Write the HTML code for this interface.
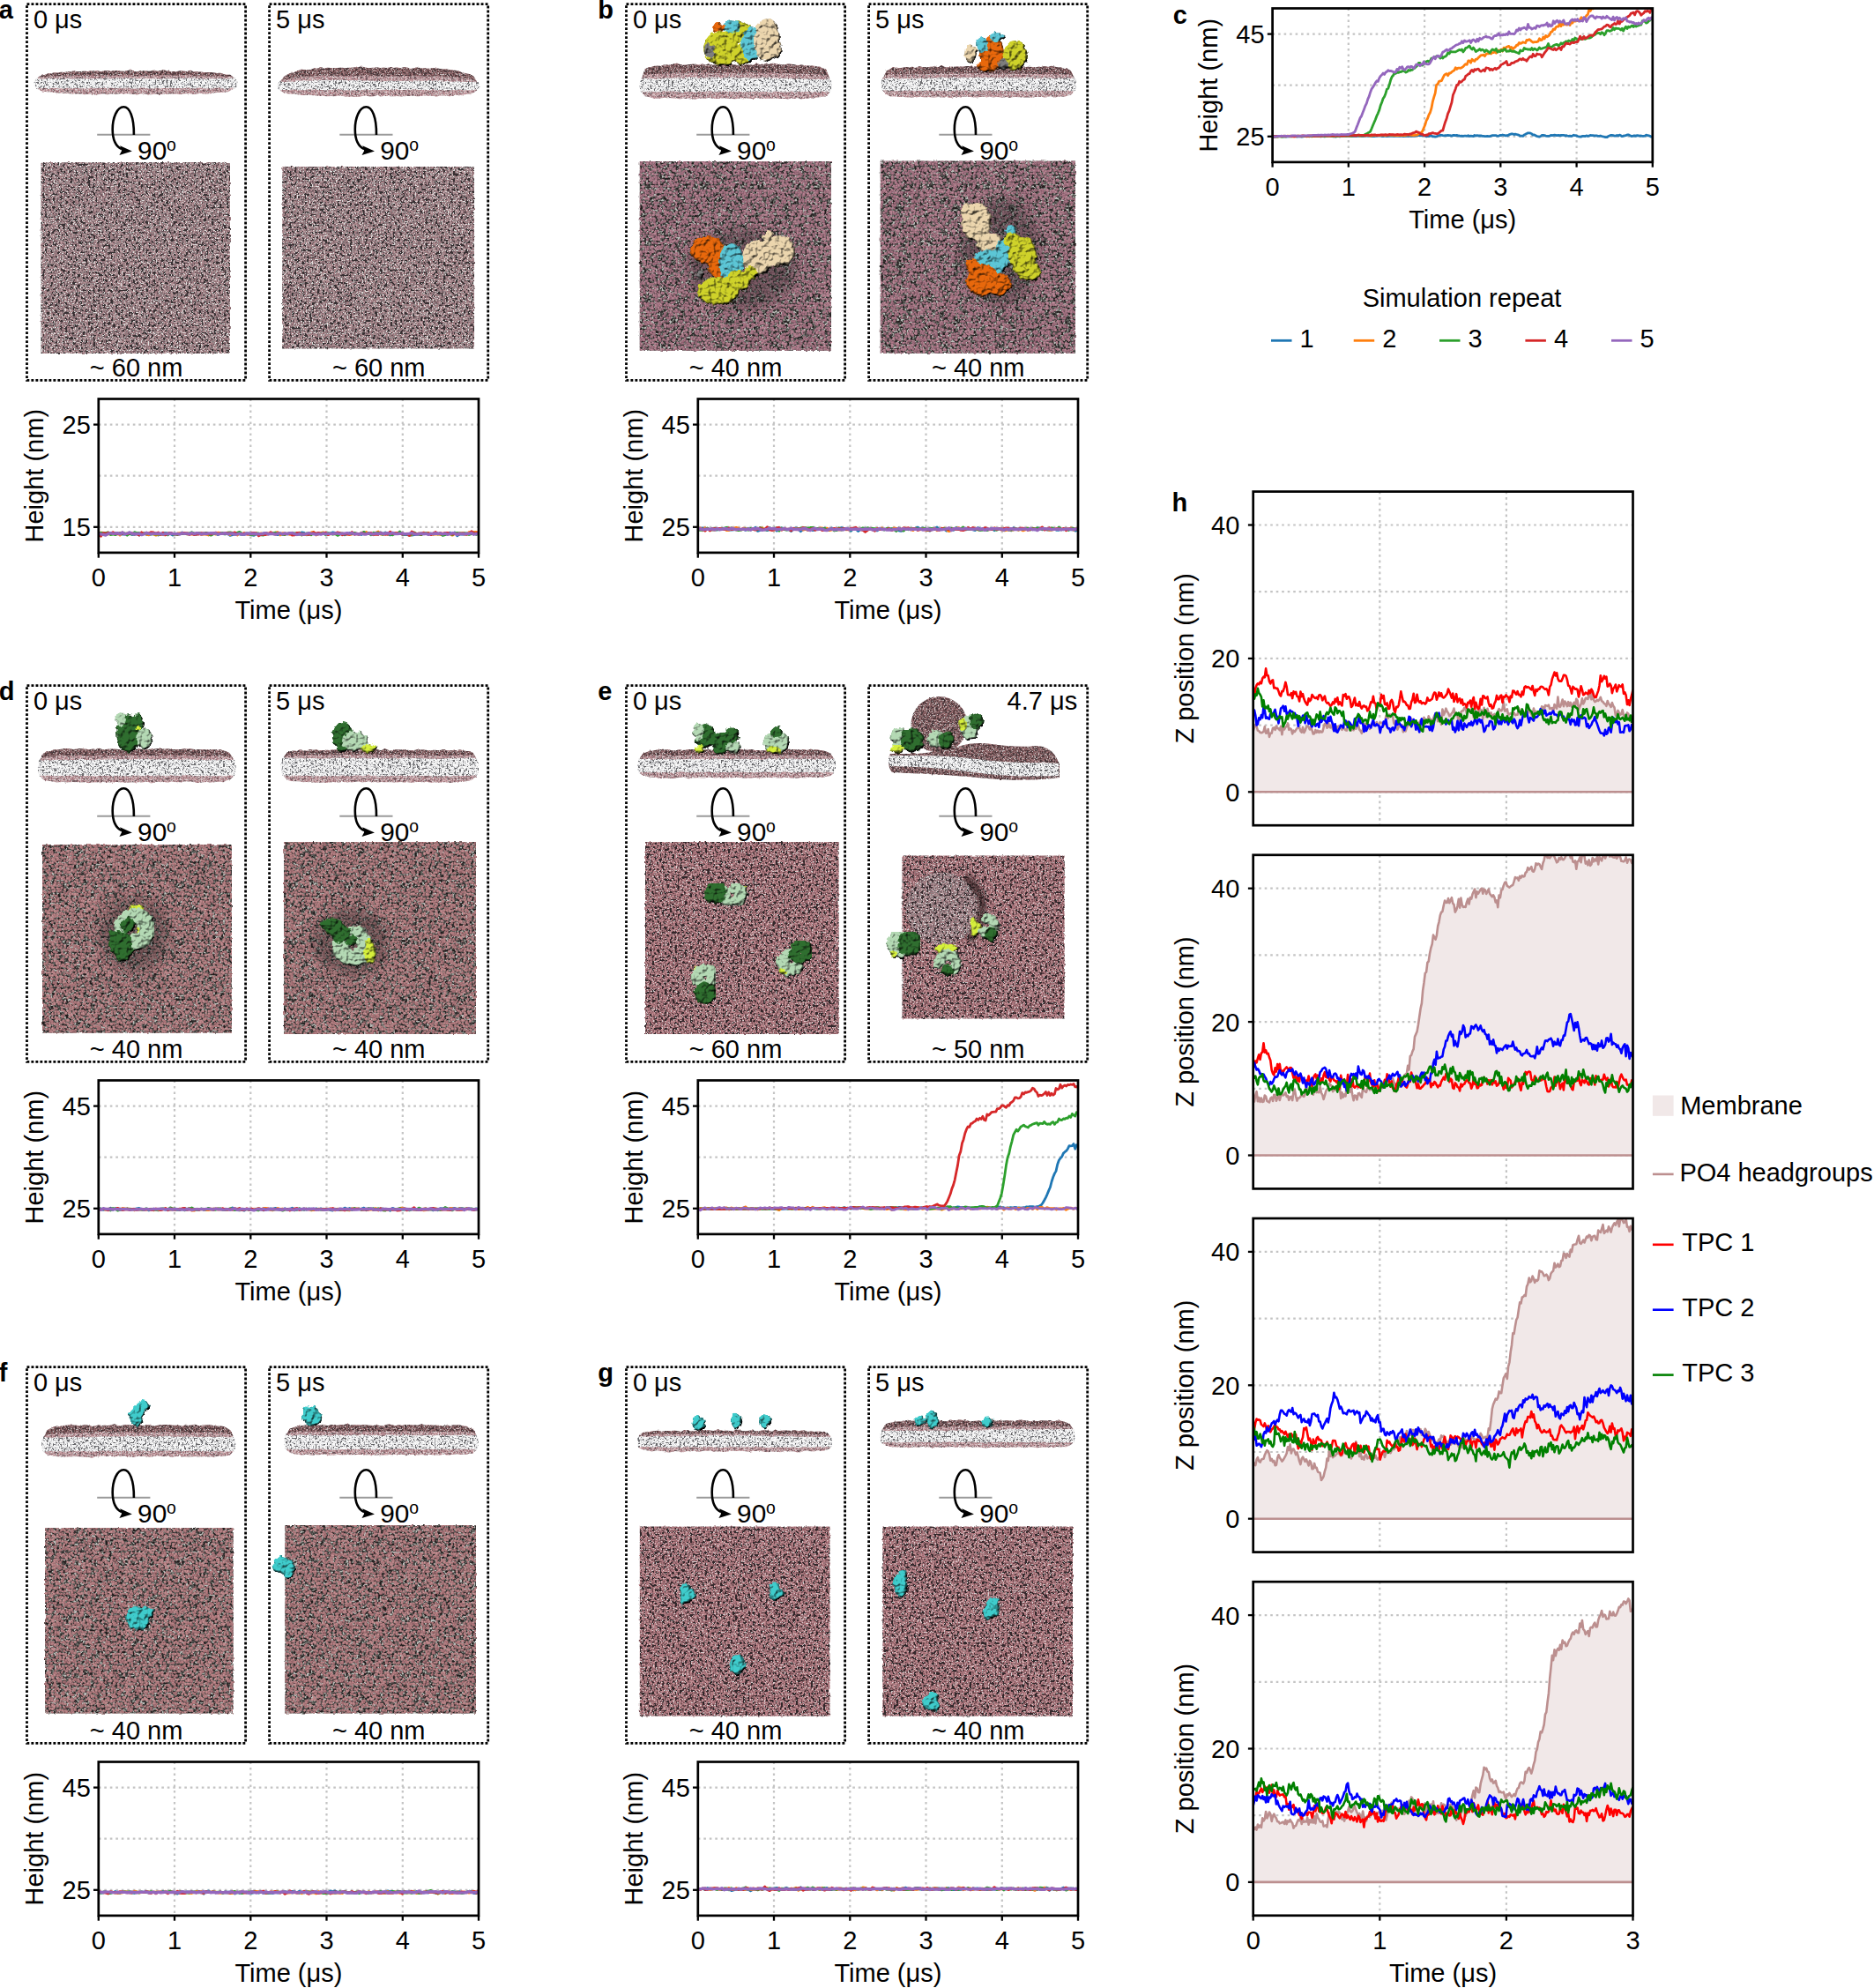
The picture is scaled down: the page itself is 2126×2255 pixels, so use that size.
<!DOCTYPE html>
<html><head><meta charset="utf-8"><title>Figure</title>
<style>html,body{margin:0;padding:0;background:#fff;} svg{display:block;} text{font-family:'Liberation Sans',Arial,sans-serif;fill:#000;}</style>
</head><body>
<svg xmlns="http://www.w3.org/2000/svg" width="2126" height="2255" viewBox="0 0 2126 2255">
<defs><filter id="txa" x="-3%" y="-3%" width="106%" height="106%" color-interpolation-filters="sRGB"><feTurbulence type="fractalNoise" baseFrequency="0.3" numOctaves="1" seed="53" result="dn"/><feDisplacementMap in="SourceGraphic" in2="dn" scale="3" xChannelSelector="R" yChannelSelector="G" result="shape"/><feTurbulence type="fractalNoise" baseFrequency="0.5" numOctaves="1" seed="3" result="n"/><feColorMatrix in="n" type="matrix" values="3.0 0 0 0 -1.0  3.0 0 0 0 -1.0  3.0 0 0 0 -1.0  0 0 0 0 1" result="g"/><feComponentTransfer in="g" result="c"><feFuncR type="discrete" tableValues="0.188 0.314 0.451 0.549 0.620 0.675 0.714 0.569 0.686 0.824"/><feFuncG type="discrete" tableValues="0.129 0.227 0.392 0.439 0.478 0.518 0.553 0.510 0.647 0.804"/><feFuncB type="discrete" tableValues="0.149 0.251 0.396 0.455 0.502 0.537 0.573 0.518 0.655 0.804"/></feComponentTransfer><feGaussianBlur in="c" stdDeviation="0.3" result="bl"/><feComposite in="bl" in2="shape" operator="in"/></filter><filter id="txb" x="-3%" y="-3%" width="106%" height="106%" color-interpolation-filters="sRGB"><feTurbulence type="fractalNoise" baseFrequency="0.3" numOctaves="1" seed="54" result="dn"/><feDisplacementMap in="SourceGraphic" in2="dn" scale="3" xChannelSelector="R" yChannelSelector="G" result="shape"/><feTurbulence type="fractalNoise" baseFrequency="0.3" numOctaves="1" seed="4" result="n"/><feColorMatrix in="n" type="matrix" values="3.0 0 0 0 -1.0  3.0 0 0 0 -1.0  3.0 0 0 0 -1.0  0 0 0 0 1" result="g"/><feComponentTransfer in="g" result="c"><feFuncR type="discrete" tableValues="0.196 0.267 0.353 0.439 0.529 0.627 0.698 0.737 0.769 0.800"/><feFuncG type="discrete" tableValues="0.184 0.251 0.337 0.424 0.502 0.490 0.518 0.549 0.580 0.620"/><feFuncB type="discrete" tableValues="0.180 0.243 0.329 0.416 0.502 0.510 0.541 0.573 0.600 0.635"/></feComponentTransfer><feTurbulence type="fractalNoise" baseFrequency="0.35" numOctaves="1" seed="11" result="n2"/><feColorMatrix in="n2" type="matrix" values="0 0 0 0 0.804  0 0 0 0 0.812  0 0 0 0 0.804  0 3.0 0 0 -1.0" result="w"/><feComponentTransfer in="w" result="w2"><feFuncA type="discrete" tableValues="0 0 0 0 0 0 0 0 0 0 0 0.9"/></feComponentTransfer><feMerge result="m"><feMergeNode in="c"/><feMergeNode in="w2"/></feMerge><feGaussianBlur in="m" stdDeviation="0.3" result="bl"/><feComposite in="bl" in2="shape" operator="in"/></filter><filter id="txf" x="-3%" y="-3%" width="106%" height="106%" color-interpolation-filters="sRGB"><feTurbulence type="fractalNoise" baseFrequency="0.3" numOctaves="1" seed="53" result="dn"/><feDisplacementMap in="SourceGraphic" in2="dn" scale="3" xChannelSelector="R" yChannelSelector="G" result="shape"/><feTurbulence type="fractalNoise" baseFrequency="0.55" numOctaves="1" seed="3" result="n"/><feColorMatrix in="n" type="matrix" values="3.0 0 0 0 -1.0  3.0 0 0 0 -1.0  3.0 0 0 0 -1.0  0 0 0 0 1" result="g"/><feComponentTransfer in="g" result="c"><feFuncR type="discrete" tableValues="0.373 0.451 0.529 0.588 0.635 0.675 0.706 0.588 0.737 0.769"/><feFuncG type="discrete" tableValues="0.255 0.306 0.361 0.400 0.431 0.463 0.494 0.471 0.529 0.573"/><feFuncB type="discrete" tableValues="0.275 0.329 0.384 0.424 0.459 0.490 0.518 0.486 0.549 0.588"/></feComponentTransfer><feTurbulence type="fractalNoise" baseFrequency="0.35" numOctaves="1" seed="14" result="sn0"/><feColorMatrix in="sn0" type="matrix" values="0 0 0 0 0.176  0 0 0 0 0.141  0 0 0 0 0.153  3 0 0 0 -1" result="sc0"/><feComponentTransfer in="sc0" result="sk0"><feFuncA type="discrete" tableValues="0 0 0 0 0 0 0 0 0 0 0 0 0 0 0 0 0.95 0.95 0.95 0.95"/></feComponentTransfer><feTurbulence type="fractalNoise" baseFrequency="0.7" numOctaves="1" seed="26" result="sn1"/><feColorMatrix in="sn1" type="matrix" values="0 0 0 0 0.894  0 0 0 0 0.886  0 0 0 0 0.886  3 0 0 0 -1" result="sc1"/><feComponentTransfer in="sc1" result="sk1"><feFuncA type="discrete" tableValues="0 0 0 0 0 0 0 0 0 0 0 0 0 0 0 0 0 0 0 0.8"/></feComponentTransfer><feMerge result="m"><feMergeNode in="c"/><feMergeNode in="sk0"/><feMergeNode in="sk1"/></feMerge><feGaussianBlur in="m" stdDeviation="0.4" result="bl"/><feComposite in="bl" in2="shape" operator="in"/></filter><filter id="txf2" x="-3%" y="-3%" width="106%" height="106%" color-interpolation-filters="sRGB"><feTurbulence type="fractalNoise" baseFrequency="0.3" numOctaves="1" seed="63" result="dn"/><feDisplacementMap in="SourceGraphic" in2="dn" scale="3" xChannelSelector="R" yChannelSelector="G" result="shape"/><feTurbulence type="fractalNoise" baseFrequency="0.55" numOctaves="1" seed="13" result="n"/><feColorMatrix in="n" type="matrix" values="3.0 0 0 0 -1.0  3.0 0 0 0 -1.0  3.0 0 0 0 -1.0  0 0 0 0 1" result="g"/><feComponentTransfer in="g" result="c"><feFuncR type="discrete" tableValues="0.373 0.451 0.529 0.588 0.635 0.675 0.706 0.588 0.737 0.769"/><feFuncG type="discrete" tableValues="0.255 0.306 0.361 0.400 0.431 0.463 0.494 0.471 0.529 0.573"/><feFuncB type="discrete" tableValues="0.275 0.329 0.384 0.424 0.459 0.490 0.518 0.486 0.549 0.588"/></feComponentTransfer><feTurbulence type="fractalNoise" baseFrequency="0.35" numOctaves="1" seed="24" result="sn0"/><feColorMatrix in="sn0" type="matrix" values="0 0 0 0 0.176  0 0 0 0 0.141  0 0 0 0 0.153  3 0 0 0 -1" result="sc0"/><feComponentTransfer in="sc0" result="sk0"><feFuncA type="discrete" tableValues="0 0 0 0 0 0 0 0 0 0 0 0 0 0 0 0 0.95 0.95 0.95 0.95"/></feComponentTransfer><feTurbulence type="fractalNoise" baseFrequency="0.7" numOctaves="1" seed="36" result="sn1"/><feColorMatrix in="sn1" type="matrix" values="0 0 0 0 0.894  0 0 0 0 0.886  0 0 0 0 0.886  3 0 0 0 -1" result="sc1"/><feComponentTransfer in="sc1" result="sk1"><feFuncA type="discrete" tableValues="0 0 0 0 0 0 0 0 0 0 0 0 0 0 0 0 0 0 0 0.8"/></feComponentTransfer><feMerge result="m"><feMergeNode in="c"/><feMergeNode in="sk0"/><feMergeNode in="sk1"/></feMerge><feGaussianBlur in="m" stdDeviation="0.4" result="bl"/><feComposite in="bl" in2="shape" operator="in"/></filter><radialGradient id="pb1" cx="0.42" cy="0.4" r="0.6"><stop offset="0" stop-color="rgb(190, 136, 152)"/><stop offset="1" stop-color="rgb(132, 90, 104)"/></radialGradient><radialGradient id="pb2" cx="0.42" cy="0.4" r="0.6"><stop offset="0" stop-color="rgb(180, 126, 142)"/><stop offset="1" stop-color="rgb(124, 84, 98)"/></radialGradient><radialGradient id="pb3" cx="0.42" cy="0.4" r="0.6"><stop offset="0" stop-color="rgb(198, 146, 160)"/><stop offset="1" stop-color="rgb(142, 98, 112)"/></radialGradient><radialGradient id="pd1" cx="0.42" cy="0.4" r="0.6"><stop offset="0" stop-color="rgb(198, 142, 144)"/><stop offset="1" stop-color="rgb(146, 98, 102)"/></radialGradient><radialGradient id="pd2" cx="0.42" cy="0.4" r="0.6"><stop offset="0" stop-color="rgb(188, 132, 135)"/><stop offset="1" stop-color="rgb(136, 90, 95)"/></radialGradient><radialGradient id="pd3" cx="0.42" cy="0.4" r="0.6"><stop offset="0" stop-color="rgb(206, 152, 154)"/><stop offset="1" stop-color="rgb(154, 106, 110)"/></radialGradient><pattern id="dpb1" x="0" y="0" width="64" height="64" patternUnits="userSpaceOnUse"><circle cx="2.9" cy="0.9" r="1.9" fill="url(#pb1)"/><circle cx="2.9" cy="64.9" r="1.9" fill="url(#pb1)"/><circle cx="4.3" cy="5.1" r="1.7" fill="url(#pb1)"/><circle cx="2.4" cy="9.0" r="1.6" fill="url(#pb2)"/><circle cx="3.4" cy="11.6" r="1.7" fill="url(#pb3)"/><circle cx="1.2" cy="16.6" r="1.6" fill="url(#pb2)"/><circle cx="65.2" cy="16.6" r="1.6" fill="url(#pb2)"/><circle cx="3.7" cy="26.1" r="1.5" fill="url(#pb2)"/><circle cx="2.6" cy="34.1" r="1.8" fill="url(#pb2)"/><circle cx="3.6" cy="40.8" r="1.5" fill="url(#pb2)"/><circle cx="2.6" cy="44.7" r="1.6" fill="url(#pb2)"/><circle cx="3.6" cy="48.6" r="1.5" fill="url(#pb3)"/><circle cx="2.2" cy="52.2" r="1.5" fill="url(#pb2)"/><circle cx="2.6" cy="56.0" r="1.9" fill="url(#pb3)"/><circle cx="1.7" cy="58.1" r="1.5" fill="url(#pb3)"/><circle cx="4.4" cy="61.7" r="1.6" fill="url(#pb2)"/><circle cx="6.1" cy="2.9" r="1.5" fill="url(#pb1)"/><circle cx="6.9" cy="5.5" r="1.5" fill="url(#pb2)"/><circle cx="6.3" cy="9.7" r="1.9" fill="url(#pb1)"/><circle cx="7.8" cy="11.8" r="1.9" fill="url(#pb2)"/><circle cx="6.1" cy="15.2" r="1.6" fill="url(#pb3)"/><circle cx="6.3" cy="19.3" r="1.5" fill="url(#pb1)"/><circle cx="5.1" cy="22.2" r="1.8" fill="url(#pb3)"/><circle cx="7.5" cy="26.5" r="1.9" fill="url(#pb2)"/><circle cx="6.1" cy="29.8" r="1.7" fill="url(#pb3)"/><circle cx="4.7" cy="36.3" r="1.6" fill="url(#pb1)"/><circle cx="7.6" cy="40.0" r="1.6" fill="url(#pb1)"/><circle cx="5.2" cy="44.7" r="1.9" fill="url(#pb2)"/><circle cx="6.8" cy="47.9" r="1.6" fill="url(#pb1)"/><circle cx="4.8" cy="51.1" r="1.6" fill="url(#pb1)"/><circle cx="8.2" cy="55.8" r="1.8" fill="url(#pb3)"/><circle cx="6.3" cy="59.1" r="1.7" fill="url(#pb3)"/><circle cx="7.1" cy="61.5" r="1.5" fill="url(#pb3)"/><circle cx="8.4" cy="2.4" r="1.7" fill="url(#pb2)"/><circle cx="11.8" cy="5.1" r="1.6" fill="url(#pb2)"/><circle cx="9.4" cy="8.1" r="1.6" fill="url(#pb3)"/><circle cx="11.5" cy="12.2" r="1.9" fill="url(#pb1)"/><circle cx="8.9" cy="15.5" r="1.6" fill="url(#pb2)"/><circle cx="10.1" cy="23.7" r="1.6" fill="url(#pb3)"/><circle cx="10.4" cy="26.7" r="1.5" fill="url(#pb2)"/><circle cx="10.0" cy="29.7" r="1.8" fill="url(#pb3)"/><circle cx="11.6" cy="32.6" r="1.6" fill="url(#pb2)"/><circle cx="11.5" cy="41.1" r="1.9" fill="url(#pb3)"/><circle cx="9.5" cy="43.3" r="1.7" fill="url(#pb2)"/><circle cx="10.6" cy="47.1" r="1.6" fill="url(#pb1)"/><circle cx="9.6" cy="51.8" r="1.9" fill="url(#pb2)"/><circle cx="10.9" cy="54.6" r="1.8" fill="url(#pb3)"/><circle cx="10.0" cy="58.8" r="1.8" fill="url(#pb1)"/><circle cx="10.9" cy="61.1" r="1.5" fill="url(#pb2)"/><circle cx="11.6" cy="2.9" r="1.5" fill="url(#pb3)"/><circle cx="13.4" cy="5.9" r="1.6" fill="url(#pb2)"/><circle cx="11.7" cy="8.1" r="1.7" fill="url(#pb1)"/><circle cx="15.3" cy="13.5" r="1.8" fill="url(#pb2)"/><circle cx="13.5" cy="14.9" r="1.5" fill="url(#pb3)"/><circle cx="13.2" cy="19.8" r="1.6" fill="url(#pb2)"/><circle cx="11.5" cy="23.7" r="1.8" fill="url(#pb1)"/><circle cx="13.1" cy="26.5" r="1.8" fill="url(#pb1)"/><circle cx="11.3" cy="29.2" r="1.6" fill="url(#pb1)"/><circle cx="14.1" cy="34.7" r="1.6" fill="url(#pb2)"/><circle cx="11.4" cy="36.4" r="1.9" fill="url(#pb1)"/><circle cx="13.8" cy="40.0" r="1.6" fill="url(#pb2)"/><circle cx="12.2" cy="43.4" r="1.9" fill="url(#pb2)"/><circle cx="13.3" cy="47.1" r="1.7" fill="url(#pb3)"/><circle cx="12.7" cy="50.4" r="1.9" fill="url(#pb1)"/><circle cx="15.2" cy="55.5" r="1.8" fill="url(#pb3)"/><circle cx="11.4" cy="59.8" r="1.8" fill="url(#pb1)"/><circle cx="16.6" cy="0.7" r="1.5" fill="url(#pb3)"/><circle cx="16.6" cy="64.7" r="1.5" fill="url(#pb3)"/><circle cx="17.9" cy="5.3" r="1.7" fill="url(#pb1)"/><circle cx="17.1" cy="8.8" r="1.9" fill="url(#pb2)"/><circle cx="17.9" cy="12.7" r="1.6" fill="url(#pb1)"/><circle cx="17.1" cy="16.4" r="1.7" fill="url(#pb1)"/><circle cx="17.1" cy="18.7" r="1.9" fill="url(#pb1)"/><circle cx="15.7" cy="22.1" r="1.8" fill="url(#pb1)"/><circle cx="16.8" cy="26.1" r="1.7" fill="url(#pb1)"/><circle cx="15.4" cy="29.7" r="1.9" fill="url(#pb2)"/><circle cx="18.5" cy="34.6" r="1.5" fill="url(#pb3)"/><circle cx="15.3" cy="36.7" r="1.7" fill="url(#pb2)"/><circle cx="17.9" cy="40.2" r="1.8" fill="url(#pb2)"/><circle cx="17.0" cy="44.5" r="1.6" fill="url(#pb1)"/><circle cx="17.5" cy="48.3" r="1.7" fill="url(#pb1)"/><circle cx="16.8" cy="50.5" r="1.9" fill="url(#pb1)"/><circle cx="15.2" cy="58.5" r="1.7" fill="url(#pb3)"/><circle cx="17.5" cy="-1.4" r="1.6" fill="url(#pb1)"/><circle cx="17.5" cy="62.6" r="1.6" fill="url(#pb1)"/><circle cx="19.4" cy="0.9" r="1.9" fill="url(#pb2)"/><circle cx="19.4" cy="64.9" r="1.9" fill="url(#pb2)"/><circle cx="22.1" cy="5.0" r="1.9" fill="url(#pb2)"/><circle cx="21.3" cy="12.2" r="1.8" fill="url(#pb3)"/><circle cx="18.6" cy="15.9" r="1.8" fill="url(#pb2)"/><circle cx="19.1" cy="23.9" r="1.7" fill="url(#pb2)"/><circle cx="20.8" cy="27.7" r="1.9" fill="url(#pb3)"/><circle cx="20.1" cy="29.5" r="1.6" fill="url(#pb2)"/><circle cx="21.1" cy="33.4" r="1.9" fill="url(#pb3)"/><circle cx="18.4" cy="36.4" r="1.6" fill="url(#pb1)"/><circle cx="20.4" cy="43.4" r="1.8" fill="url(#pb2)"/><circle cx="21.8" cy="47.5" r="1.7" fill="url(#pb2)"/><circle cx="19.3" cy="51.6" r="1.5" fill="url(#pb1)"/><circle cx="21.3" cy="55.8" r="1.8" fill="url(#pb1)"/><circle cx="20.4" cy="57.9" r="1.5" fill="url(#pb1)"/><circle cx="21.5" cy="62.4" r="1.5" fill="url(#pb2)"/><circle cx="23.2" cy="1.6" r="1.9" fill="url(#pb2)"/><circle cx="23.2" cy="65.6" r="1.9" fill="url(#pb2)"/><circle cx="24.1" cy="6.3" r="1.5" fill="url(#pb3)"/><circle cx="22.7" cy="8.6" r="1.7" fill="url(#pb2)"/><circle cx="24.1" cy="13.0" r="1.6" fill="url(#pb3)"/><circle cx="24.2" cy="15.4" r="1.8" fill="url(#pb3)"/><circle cx="25.4" cy="20.1" r="1.9" fill="url(#pb3)"/><circle cx="23.4" cy="23.8" r="1.9" fill="url(#pb2)"/><circle cx="22.8" cy="30.1" r="1.9" fill="url(#pb3)"/><circle cx="24.3" cy="32.6" r="1.6" fill="url(#pb2)"/><circle cx="22.3" cy="36.9" r="1.7" fill="url(#pb3)"/><circle cx="25.8" cy="40.2" r="1.7" fill="url(#pb3)"/><circle cx="24.0" cy="48.7" r="1.8" fill="url(#pb3)"/><circle cx="22.0" cy="50.8" r="1.8" fill="url(#pb1)"/><circle cx="24.3" cy="55.7" r="1.6" fill="url(#pb1)"/><circle cx="22.8" cy="58.3" r="1.8" fill="url(#pb2)"/><circle cx="25.0" cy="-0.8" r="1.8" fill="url(#pb1)"/><circle cx="25.0" cy="63.2" r="1.8" fill="url(#pb1)"/><circle cx="26.6" cy="1.7" r="1.9" fill="url(#pb1)"/><circle cx="26.6" cy="65.7" r="1.9" fill="url(#pb1)"/><circle cx="28.5" cy="5.2" r="1.7" fill="url(#pb1)"/><circle cx="26.5" cy="9.3" r="1.6" fill="url(#pb2)"/><circle cx="27.6" cy="12.0" r="1.9" fill="url(#pb2)"/><circle cx="27.5" cy="24.2" r="1.9" fill="url(#pb1)"/><circle cx="29.0" cy="26.8" r="1.8" fill="url(#pb3)"/><circle cx="26.0" cy="29.2" r="1.9" fill="url(#pb2)"/><circle cx="29.2" cy="33.3" r="1.8" fill="url(#pb3)"/><circle cx="26.0" cy="36.6" r="1.5" fill="url(#pb1)"/><circle cx="27.5" cy="41.7" r="1.7" fill="url(#pb1)"/><circle cx="26.7" cy="44.5" r="1.7" fill="url(#pb1)"/><circle cx="29.3" cy="47.7" r="1.7" fill="url(#pb1)"/><circle cx="29.0" cy="55.1" r="1.8" fill="url(#pb2)"/><circle cx="26.4" cy="59.5" r="1.9" fill="url(#pb2)"/><circle cx="29.6" cy="-1.2" r="1.9" fill="url(#pb1)"/><circle cx="29.6" cy="62.8" r="1.9" fill="url(#pb1)"/><circle cx="31.4" cy="1.5" r="1.7" fill="url(#pb3)"/><circle cx="31.4" cy="65.5" r="1.7" fill="url(#pb3)"/><circle cx="32.8" cy="4.9" r="1.8" fill="url(#pb3)"/><circle cx="29.9" cy="8.3" r="1.5" fill="url(#pb1)"/><circle cx="33.1" cy="11.8" r="1.5" fill="url(#pb1)"/><circle cx="30.6" cy="15.7" r="1.7" fill="url(#pb2)"/><circle cx="31.2" cy="24.2" r="1.7" fill="url(#pb2)"/><circle cx="31.0" cy="26.7" r="1.9" fill="url(#pb2)"/><circle cx="29.0" cy="29.5" r="1.8" fill="url(#pb3)"/><circle cx="31.5" cy="34.0" r="1.9" fill="url(#pb1)"/><circle cx="30.5" cy="37.4" r="1.7" fill="url(#pb1)"/><circle cx="31.3" cy="40.9" r="1.5" fill="url(#pb2)"/><circle cx="30.9" cy="45.6" r="1.7" fill="url(#pb3)"/><circle cx="31.7" cy="47.1" r="1.7" fill="url(#pb1)"/><circle cx="31.2" cy="52.7" r="1.6" fill="url(#pb1)"/><circle cx="31.8" cy="55.8" r="1.6" fill="url(#pb1)"/><circle cx="30.7" cy="57.9" r="1.8" fill="url(#pb3)"/><circle cx="34.6" cy="2.4" r="1.6" fill="url(#pb3)"/><circle cx="36.7" cy="5.0" r="1.6" fill="url(#pb3)"/><circle cx="33.7" cy="8.5" r="1.7" fill="url(#pb3)"/><circle cx="35.9" cy="12.3" r="1.9" fill="url(#pb3)"/><circle cx="36.1" cy="19.4" r="1.6" fill="url(#pb3)"/><circle cx="34.8" cy="23.8" r="1.6" fill="url(#pb2)"/><circle cx="36.0" cy="27.5" r="1.5" fill="url(#pb1)"/><circle cx="33.6" cy="29.7" r="1.6" fill="url(#pb1)"/><circle cx="33.3" cy="37.9" r="1.5" fill="url(#pb3)"/><circle cx="34.5" cy="41.8" r="1.6" fill="url(#pb3)"/><circle cx="33.3" cy="45.0" r="1.6" fill="url(#pb1)"/><circle cx="35.3" cy="47.2" r="1.5" fill="url(#pb3)"/><circle cx="33.7" cy="52.0" r="1.9" fill="url(#pb3)"/><circle cx="36.1" cy="55.7" r="1.5" fill="url(#pb2)"/><circle cx="34.3" cy="57.9" r="1.9" fill="url(#pb1)"/><circle cx="35.2" cy="61.8" r="1.5" fill="url(#pb3)"/><circle cx="37.4" cy="2.1" r="1.7" fill="url(#pb2)"/><circle cx="39.4" cy="5.9" r="1.5" fill="url(#pb3)"/><circle cx="36.6" cy="9.9" r="1.9" fill="url(#pb2)"/><circle cx="40.0" cy="11.9" r="1.8" fill="url(#pb1)"/><circle cx="38.1" cy="15.4" r="1.9" fill="url(#pb3)"/><circle cx="39.8" cy="19.3" r="1.7" fill="url(#pb2)"/><circle cx="36.5" cy="24.2" r="1.9" fill="url(#pb3)"/><circle cx="40.2" cy="26.1" r="1.9" fill="url(#pb3)"/><circle cx="36.2" cy="29.8" r="1.9" fill="url(#pb3)"/><circle cx="38.8" cy="34.6" r="1.6" fill="url(#pb1)"/><circle cx="38.4" cy="38.1" r="1.7" fill="url(#pb2)"/><circle cx="40.2" cy="40.6" r="1.6" fill="url(#pb1)"/><circle cx="38.0" cy="43.5" r="1.9" fill="url(#pb2)"/><circle cx="38.1" cy="48.8" r="1.9" fill="url(#pb3)"/><circle cx="37.3" cy="51.8" r="1.9" fill="url(#pb3)"/><circle cx="38.1" cy="56.2" r="1.9" fill="url(#pb1)"/><circle cx="38.1" cy="59.2" r="1.9" fill="url(#pb2)"/><circle cx="39.0" cy="61.7" r="1.5" fill="url(#pb2)"/><circle cx="39.8" cy="0.9" r="1.9" fill="url(#pb3)"/><circle cx="39.8" cy="64.9" r="1.9" fill="url(#pb3)"/><circle cx="42.0" cy="5.8" r="1.5" fill="url(#pb2)"/><circle cx="39.7" cy="8.9" r="1.8" fill="url(#pb3)"/><circle cx="43.2" cy="13.4" r="1.8" fill="url(#pb3)"/><circle cx="39.8" cy="15.2" r="1.6" fill="url(#pb3)"/><circle cx="41.7" cy="19.6" r="1.6" fill="url(#pb1)"/><circle cx="41.7" cy="24.0" r="1.6" fill="url(#pb1)"/><circle cx="43.5" cy="25.8" r="1.6" fill="url(#pb3)"/><circle cx="40.2" cy="29.9" r="1.5" fill="url(#pb2)"/><circle cx="41.6" cy="33.2" r="1.6" fill="url(#pb1)"/><circle cx="40.8" cy="37.8" r="1.6" fill="url(#pb1)"/><circle cx="40.4" cy="43.3" r="1.8" fill="url(#pb2)"/><circle cx="42.9" cy="49.2" r="1.6" fill="url(#pb1)"/><circle cx="41.2" cy="52.0" r="1.6" fill="url(#pb1)"/><circle cx="43.0" cy="54.2" r="1.5" fill="url(#pb2)"/><circle cx="43.5" cy="-0.7" r="1.9" fill="url(#pb3)"/><circle cx="43.5" cy="63.3" r="1.9" fill="url(#pb3)"/><circle cx="44.8" cy="1.9" r="1.8" fill="url(#pb2)"/><circle cx="47.1" cy="5.1" r="1.5" fill="url(#pb3)"/><circle cx="43.8" cy="10.0" r="1.5" fill="url(#pb1)"/><circle cx="47.4" cy="12.5" r="1.9" fill="url(#pb3)"/><circle cx="43.8" cy="15.7" r="1.9" fill="url(#pb3)"/><circle cx="46.1" cy="19.5" r="1.6" fill="url(#pb2)"/><circle cx="43.8" cy="23.9" r="1.8" fill="url(#pb3)"/><circle cx="45.9" cy="25.8" r="1.7" fill="url(#pb3)"/><circle cx="44.6" cy="31.4" r="1.9" fill="url(#pb3)"/><circle cx="45.8" cy="41.2" r="1.6" fill="url(#pb2)"/><circle cx="44.4" cy="45.3" r="1.7" fill="url(#pb3)"/><circle cx="45.3" cy="47.5" r="1.9" fill="url(#pb2)"/><circle cx="44.5" cy="52.2" r="1.8" fill="url(#pb2)"/><circle cx="45.7" cy="54.5" r="1.8" fill="url(#pb3)"/><circle cx="43.8" cy="58.2" r="1.8" fill="url(#pb2)"/><circle cx="46.8" cy="61.1" r="1.9" fill="url(#pb2)"/><circle cx="49.0" cy="1.2" r="1.6" fill="url(#pb1)"/><circle cx="49.0" cy="65.2" r="1.6" fill="url(#pb1)"/><circle cx="48.7" cy="12.7" r="1.6" fill="url(#pb1)"/><circle cx="49.6" cy="18.5" r="1.6" fill="url(#pb1)"/><circle cx="47.5" cy="22.7" r="1.8" fill="url(#pb2)"/><circle cx="50.4" cy="26.2" r="1.7" fill="url(#pb1)"/><circle cx="47.7" cy="29.6" r="1.5" fill="url(#pb2)"/><circle cx="48.9" cy="38.4" r="1.7" fill="url(#pb2)"/><circle cx="48.1" cy="44.4" r="1.7" fill="url(#pb3)"/><circle cx="50.3" cy="48.0" r="1.8" fill="url(#pb3)"/><circle cx="49.5" cy="54.6" r="1.5" fill="url(#pb2)"/><circle cx="49.2" cy="58.9" r="1.6" fill="url(#pb2)"/><circle cx="51.1" cy="2.4" r="1.5" fill="url(#pb2)"/><circle cx="53.0" cy="4.7" r="1.9" fill="url(#pb2)"/><circle cx="52.4" cy="8.4" r="1.6" fill="url(#pb3)"/><circle cx="54.4" cy="13.1" r="1.7" fill="url(#pb2)"/><circle cx="51.1" cy="17.2" r="1.6" fill="url(#pb1)"/><circle cx="54.3" cy="19.2" r="1.7" fill="url(#pb3)"/><circle cx="52.3" cy="24.2" r="1.9" fill="url(#pb1)"/><circle cx="53.9" cy="26.7" r="1.5" fill="url(#pb2)"/><circle cx="52.0" cy="29.5" r="1.7" fill="url(#pb2)"/><circle cx="53.6" cy="33.2" r="1.5" fill="url(#pb3)"/><circle cx="50.5" cy="36.7" r="1.7" fill="url(#pb2)"/><circle cx="52.9" cy="40.8" r="1.8" fill="url(#pb2)"/><circle cx="50.5" cy="44.4" r="1.5" fill="url(#pb2)"/><circle cx="53.5" cy="48.6" r="1.8" fill="url(#pb3)"/><circle cx="51.0" cy="50.9" r="1.8" fill="url(#pb3)"/><circle cx="53.5" cy="55.2" r="1.6" fill="url(#pb3)"/><circle cx="50.7" cy="58.4" r="1.7" fill="url(#pb1)"/><circle cx="53.8" cy="-0.6" r="1.6" fill="url(#pb3)"/><circle cx="53.8" cy="63.4" r="1.6" fill="url(#pb3)"/><circle cx="54.2" cy="1.0" r="1.8" fill="url(#pb3)"/><circle cx="54.2" cy="65.0" r="1.8" fill="url(#pb3)"/><circle cx="57.1" cy="6.0" r="1.9" fill="url(#pb3)"/><circle cx="56.7" cy="13.1" r="1.6" fill="url(#pb3)"/><circle cx="56.3" cy="15.5" r="1.6" fill="url(#pb3)"/><circle cx="56.9" cy="18.8" r="1.6" fill="url(#pb1)"/><circle cx="56.7" cy="26.5" r="1.9" fill="url(#pb3)"/><circle cx="54.9" cy="30.9" r="1.8" fill="url(#pb2)"/><circle cx="56.8" cy="34.7" r="1.8" fill="url(#pb1)"/><circle cx="55.7" cy="37.5" r="1.7" fill="url(#pb2)"/><circle cx="55.8" cy="40.9" r="1.9" fill="url(#pb2)"/><circle cx="54.2" cy="44.2" r="1.7" fill="url(#pb2)"/><circle cx="57.3" cy="48.7" r="1.5" fill="url(#pb2)"/><circle cx="55.4" cy="50.4" r="1.9" fill="url(#pb2)"/><circle cx="56.8" cy="54.3" r="1.5" fill="url(#pb2)"/><circle cx="56.1" cy="59.4" r="1.5" fill="url(#pb2)"/><circle cx="57.1" cy="-1.5" r="1.9" fill="url(#pb1)"/><circle cx="57.1" cy="62.5" r="1.9" fill="url(#pb1)"/><circle cx="59.8" cy="1.4" r="1.7" fill="url(#pb2)"/><circle cx="59.8" cy="65.4" r="1.7" fill="url(#pb2)"/><circle cx="59.4" cy="6.3" r="1.8" fill="url(#pb3)"/><circle cx="58.3" cy="9.1" r="1.8" fill="url(#pb1)"/><circle cx="60.5" cy="13.6" r="1.9" fill="url(#pb2)"/><circle cx="57.7" cy="16.8" r="1.8" fill="url(#pb2)"/><circle cx="59.7" cy="18.4" r="1.8" fill="url(#pb3)"/><circle cx="59.0" cy="23.3" r="1.8" fill="url(#pb2)"/><circle cx="60.4" cy="27.3" r="1.6" fill="url(#pb3)"/><circle cx="57.8" cy="31.3" r="1.8" fill="url(#pb3)"/><circle cx="60.8" cy="33.4" r="1.6" fill="url(#pb1)"/><circle cx="58.6" cy="37.0" r="1.9" fill="url(#pb2)"/><circle cx="58.9" cy="51.6" r="1.5" fill="url(#pb2)"/><circle cx="58.8" cy="59.1" r="1.8" fill="url(#pb2)"/><circle cx="61.2" cy="-1.4" r="1.8" fill="url(#pb2)"/><circle cx="61.2" cy="62.6" r="1.8" fill="url(#pb2)"/><circle cx="61.2" cy="1.8" r="1.5" fill="url(#pb3)"/><circle cx="0.9" cy="4.9" r="1.7" fill="url(#pb1)"/><circle cx="64.9" cy="4.9" r="1.7" fill="url(#pb1)"/><circle cx="-1.3" cy="9.9" r="1.7" fill="url(#pb1)"/><circle cx="62.7" cy="9.9" r="1.7" fill="url(#pb1)"/><circle cx="-0.9" cy="12.4" r="1.5" fill="url(#pb3)"/><circle cx="63.1" cy="12.4" r="1.5" fill="url(#pb3)"/><circle cx="61.8" cy="16.8" r="1.7" fill="url(#pb1)"/><circle cx="-0.2" cy="18.4" r="1.6" fill="url(#pb1)"/><circle cx="63.8" cy="18.4" r="1.6" fill="url(#pb1)"/><circle cx="61.1" cy="22.2" r="1.6" fill="url(#pb2)"/><circle cx="-0.5" cy="26.2" r="1.7" fill="url(#pb2)"/><circle cx="63.5" cy="26.2" r="1.7" fill="url(#pb2)"/><circle cx="-1.2" cy="30.9" r="1.5" fill="url(#pb1)"/><circle cx="62.8" cy="30.9" r="1.5" fill="url(#pb1)"/><circle cx="-0.4" cy="33.4" r="1.8" fill="url(#pb1)"/><circle cx="63.6" cy="33.4" r="1.8" fill="url(#pb1)"/><circle cx="-0.9" cy="37.8" r="1.7" fill="url(#pb3)"/><circle cx="63.1" cy="37.8" r="1.7" fill="url(#pb3)"/><circle cx="-0.3" cy="40.4" r="1.5" fill="url(#pb3)"/><circle cx="63.7" cy="40.4" r="1.5" fill="url(#pb3)"/><circle cx="-0.3" cy="48.9" r="1.8" fill="url(#pb3)"/><circle cx="63.7" cy="48.9" r="1.8" fill="url(#pb3)"/><circle cx="-0.1" cy="54.9" r="1.5" fill="url(#pb2)"/><circle cx="63.9" cy="54.9" r="1.5" fill="url(#pb2)"/><circle cx="61.9" cy="58.0" r="1.5" fill="url(#pb1)"/></pattern><pattern id="dpb2" x="0" y="0" width="67" height="67" patternUnits="userSpaceOnUse"><circle cx="17.5" cy="20.0" r="1.7" fill="url(#pb2)"/><circle cx="40.2" cy="48.8" r="1.4" fill="url(#pb1)"/><circle cx="3.7" cy="18.4" r="1.6" fill="url(#pb1)"/><circle cx="10.1" cy="29.0" r="1.6" fill="url(#pb2)"/><circle cx="28.3" cy="42.4" r="1.8" fill="url(#pb3)"/><circle cx="26.2" cy="12.5" r="1.5" fill="url(#pb3)"/><circle cx="34.2" cy="59.7" r="1.7" fill="url(#pb3)"/><circle cx="61.9" cy="31.6" r="1.6" fill="url(#pb1)"/><circle cx="7.2" cy="7.0" r="1.4" fill="url(#pb2)"/><circle cx="45.5" cy="56.9" r="1.6" fill="url(#pb3)"/><circle cx="27.2" cy="34.6" r="1.6" fill="url(#pb2)"/><circle cx="29.4" cy="59.8" r="1.6" fill="url(#pb3)"/><circle cx="55.6" cy="33.4" r="1.6" fill="url(#pb2)"/><circle cx="35.0" cy="14.5" r="1.4" fill="url(#pb2)"/><circle cx="2.6" cy="47.0" r="1.5" fill="url(#pb1)"/><circle cx="56.0" cy="25.8" r="1.8" fill="url(#pb3)"/><circle cx="39.7" cy="51.3" r="1.5" fill="url(#pb2)"/><circle cx="11.5" cy="12.1" r="1.6" fill="url(#pb1)"/><circle cx="7.5" cy="1.3" r="1.7" fill="url(#pb2)"/><circle cx="7.5" cy="68.3" r="1.7" fill="url(#pb2)"/><circle cx="30.2" cy="32.7" r="1.6" fill="url(#pb1)"/><circle cx="33.8" cy="62.8" r="1.7" fill="url(#pb1)"/><circle cx="41.4" cy="33.9" r="1.8" fill="url(#pb2)"/><circle cx="15.2" cy="46.2" r="1.6" fill="url(#pb1)"/><circle cx="19.8" cy="62.1" r="1.7" fill="url(#pb1)"/><circle cx="0.9" cy="19.9" r="1.3" fill="url(#pb2)"/><circle cx="67.9" cy="19.9" r="1.3" fill="url(#pb2)"/><circle cx="7.4" cy="3.8" r="1.8" fill="url(#pb3)"/><circle cx="29.9" cy="21.3" r="1.3" fill="url(#pb3)"/><circle cx="24.5" cy="35.1" r="1.3" fill="url(#pb2)"/><circle cx="9.9" cy="14.1" r="1.5" fill="url(#pb3)"/><circle cx="41.1" cy="19.1" r="1.8" fill="url(#pb1)"/></pattern><pattern id="dpd1" x="0" y="0" width="64" height="64" patternUnits="userSpaceOnUse"><circle cx="1.1" cy="2.5" r="1.7" fill="url(#pd1)"/><circle cx="65.1" cy="2.5" r="1.7" fill="url(#pd1)"/><circle cx="3.5" cy="4.5" r="1.8" fill="url(#pd1)"/><circle cx="1.5" cy="8.9" r="1.7" fill="url(#pd2)"/><circle cx="65.5" cy="8.9" r="1.7" fill="url(#pd2)"/><circle cx="4.7" cy="11.9" r="1.8" fill="url(#pd2)"/><circle cx="1.3" cy="14.8" r="1.9" fill="url(#pd3)"/><circle cx="65.3" cy="14.8" r="1.9" fill="url(#pd3)"/><circle cx="4.5" cy="19.8" r="1.7" fill="url(#pd1)"/><circle cx="0.7" cy="23.6" r="1.6" fill="url(#pd1)"/><circle cx="64.7" cy="23.6" r="1.6" fill="url(#pd1)"/><circle cx="4.6" cy="26.0" r="1.8" fill="url(#pd1)"/><circle cx="2.4" cy="30.8" r="1.6" fill="url(#pd2)"/><circle cx="4.0" cy="34.5" r="1.7" fill="url(#pd3)"/><circle cx="2.7" cy="36.4" r="1.9" fill="url(#pd2)"/><circle cx="2.7" cy="41.4" r="1.6" fill="url(#pd2)"/><circle cx="1.2" cy="44.6" r="1.6" fill="url(#pd1)"/><circle cx="65.2" cy="44.6" r="1.6" fill="url(#pd1)"/><circle cx="2.8" cy="48.6" r="1.8" fill="url(#pd2)"/><circle cx="2.8" cy="50.8" r="1.9" fill="url(#pd2)"/><circle cx="2.0" cy="59.8" r="1.8" fill="url(#pd1)"/><circle cx="2.5" cy="61.9" r="1.5" fill="url(#pd1)"/><circle cx="6.2" cy="0.9" r="1.6" fill="url(#pd1)"/><circle cx="6.2" cy="64.9" r="1.6" fill="url(#pd1)"/><circle cx="7.9" cy="6.4" r="1.8" fill="url(#pd1)"/><circle cx="5.8" cy="7.8" r="1.8" fill="url(#pd1)"/><circle cx="7.3" cy="12.9" r="1.8" fill="url(#pd1)"/><circle cx="4.6" cy="16.0" r="1.5" fill="url(#pd2)"/><circle cx="7.2" cy="20.2" r="1.6" fill="url(#pd3)"/><circle cx="4.6" cy="23.7" r="1.6" fill="url(#pd1)"/><circle cx="8.1" cy="26.4" r="1.6" fill="url(#pd3)"/><circle cx="4.4" cy="30.3" r="1.9" fill="url(#pd2)"/><circle cx="7.7" cy="34.9" r="1.9" fill="url(#pd3)"/><circle cx="6.1" cy="36.7" r="1.7" fill="url(#pd3)"/><circle cx="6.5" cy="41.1" r="1.6" fill="url(#pd2)"/><circle cx="4.4" cy="44.3" r="1.6" fill="url(#pd2)"/><circle cx="6.1" cy="47.2" r="1.7" fill="url(#pd2)"/><circle cx="4.9" cy="50.8" r="1.9" fill="url(#pd2)"/><circle cx="6.3" cy="54.6" r="1.6" fill="url(#pd1)"/><circle cx="6.4" cy="57.8" r="1.7" fill="url(#pd1)"/><circle cx="8.0" cy="-0.6" r="1.5" fill="url(#pd2)"/><circle cx="8.0" cy="63.4" r="1.5" fill="url(#pd2)"/><circle cx="7.8" cy="2.0" r="1.5" fill="url(#pd2)"/><circle cx="11.7" cy="5.4" r="1.5" fill="url(#pd1)"/><circle cx="9.7" cy="8.3" r="1.8" fill="url(#pd1)"/><circle cx="10.1" cy="12.9" r="1.6" fill="url(#pd3)"/><circle cx="8.9" cy="16.7" r="1.7" fill="url(#pd2)"/><circle cx="10.5" cy="20.5" r="1.7" fill="url(#pd1)"/><circle cx="8.5" cy="23.8" r="1.8" fill="url(#pd3)"/><circle cx="11.1" cy="27.6" r="1.8" fill="url(#pd2)"/><circle cx="9.3" cy="29.8" r="1.8" fill="url(#pd2)"/><circle cx="11.4" cy="33.7" r="1.5" fill="url(#pd1)"/><circle cx="9.2" cy="37.7" r="1.6" fill="url(#pd2)"/><circle cx="11.2" cy="39.9" r="1.9" fill="url(#pd3)"/><circle cx="9.7" cy="48.9" r="1.7" fill="url(#pd3)"/><circle cx="8.6" cy="51.9" r="1.5" fill="url(#pd2)"/><circle cx="11.2" cy="53.9" r="1.9" fill="url(#pd2)"/><circle cx="8.7" cy="58.8" r="1.6" fill="url(#pd1)"/><circle cx="10.8" cy="61.4" r="1.8" fill="url(#pd3)"/><circle cx="13.3" cy="5.6" r="1.9" fill="url(#pd3)"/><circle cx="13.0" cy="9.5" r="1.7" fill="url(#pd1)"/><circle cx="14.6" cy="12.1" r="1.8" fill="url(#pd3)"/><circle cx="12.5" cy="15.6" r="1.7" fill="url(#pd2)"/><circle cx="11.6" cy="21.9" r="1.9" fill="url(#pd1)"/><circle cx="13.7" cy="25.9" r="1.8" fill="url(#pd3)"/><circle cx="13.2" cy="29.5" r="1.9" fill="url(#pd2)"/><circle cx="14.9" cy="34.8" r="1.7" fill="url(#pd2)"/><circle cx="12.6" cy="36.6" r="1.7" fill="url(#pd1)"/><circle cx="12.8" cy="44.0" r="1.5" fill="url(#pd3)"/><circle cx="14.9" cy="49.1" r="1.7" fill="url(#pd3)"/><circle cx="13.2" cy="52.1" r="1.5" fill="url(#pd2)"/><circle cx="15.1" cy="55.1" r="1.8" fill="url(#pd3)"/><circle cx="13.0" cy="58.8" r="1.6" fill="url(#pd3)"/><circle cx="15.4" cy="61.0" r="1.8" fill="url(#pd1)"/><circle cx="14.9" cy="1.5" r="1.6" fill="url(#pd3)"/><circle cx="14.9" cy="65.5" r="1.6" fill="url(#pd3)"/><circle cx="17.6" cy="6.4" r="1.5" fill="url(#pd2)"/><circle cx="17.1" cy="8.5" r="1.8" fill="url(#pd3)"/><circle cx="17.7" cy="12.9" r="1.8" fill="url(#pd1)"/><circle cx="15.8" cy="16.3" r="1.5" fill="url(#pd3)"/><circle cx="17.6" cy="18.9" r="1.6" fill="url(#pd2)"/><circle cx="15.4" cy="22.6" r="1.6" fill="url(#pd2)"/><circle cx="18.0" cy="27.6" r="1.8" fill="url(#pd3)"/><circle cx="15.1" cy="29.6" r="1.8" fill="url(#pd1)"/><circle cx="17.3" cy="33.4" r="1.9" fill="url(#pd1)"/><circle cx="15.0" cy="38.0" r="1.7" fill="url(#pd3)"/><circle cx="18.1" cy="41.5" r="1.5" fill="url(#pd3)"/><circle cx="17.7" cy="47.5" r="1.7" fill="url(#pd3)"/><circle cx="16.1" cy="52.5" r="1.7" fill="url(#pd1)"/><circle cx="18.7" cy="54.2" r="1.6" fill="url(#pd3)"/><circle cx="15.5" cy="57.8" r="1.5" fill="url(#pd1)"/><circle cx="16.7" cy="-0.7" r="1.8" fill="url(#pd3)"/><circle cx="16.7" cy="63.3" r="1.8" fill="url(#pd3)"/><circle cx="18.8" cy="2.7" r="1.8" fill="url(#pd1)"/><circle cx="21.4" cy="6.5" r="1.7" fill="url(#pd3)"/><circle cx="18.5" cy="9.1" r="1.8" fill="url(#pd2)"/><circle cx="20.8" cy="12.1" r="1.6" fill="url(#pd2)"/><circle cx="19.0" cy="16.8" r="1.5" fill="url(#pd2)"/><circle cx="21.1" cy="19.2" r="1.9" fill="url(#pd1)"/><circle cx="18.9" cy="22.3" r="1.7" fill="url(#pd3)"/><circle cx="21.6" cy="27.1" r="1.9" fill="url(#pd2)"/><circle cx="19.9" cy="29.2" r="1.5" fill="url(#pd2)"/><circle cx="22.0" cy="33.5" r="1.7" fill="url(#pd1)"/><circle cx="18.9" cy="36.2" r="1.5" fill="url(#pd3)"/><circle cx="21.1" cy="40.3" r="1.8" fill="url(#pd3)"/><circle cx="19.3" cy="44.5" r="1.6" fill="url(#pd2)"/><circle cx="21.5" cy="49.0" r="1.9" fill="url(#pd2)"/><circle cx="19.3" cy="50.5" r="1.6" fill="url(#pd1)"/><circle cx="21.5" cy="54.1" r="1.9" fill="url(#pd3)"/><circle cx="19.1" cy="59.4" r="1.5" fill="url(#pd3)"/><circle cx="20.2" cy="61.3" r="1.7" fill="url(#pd1)"/><circle cx="23.3" cy="0.7" r="1.6" fill="url(#pd1)"/><circle cx="23.3" cy="64.7" r="1.6" fill="url(#pd1)"/><circle cx="24.2" cy="4.1" r="1.6" fill="url(#pd3)"/><circle cx="25.0" cy="13.4" r="1.8" fill="url(#pd1)"/><circle cx="22.2" cy="16.0" r="1.6" fill="url(#pd1)"/><circle cx="25.8" cy="20.2" r="1.6" fill="url(#pd3)"/><circle cx="24.9" cy="25.9" r="1.5" fill="url(#pd3)"/><circle cx="22.1" cy="30.5" r="1.5" fill="url(#pd1)"/><circle cx="25.9" cy="33.5" r="1.6" fill="url(#pd3)"/><circle cx="23.6" cy="38.0" r="1.5" fill="url(#pd1)"/><circle cx="24.3" cy="41.4" r="1.9" fill="url(#pd1)"/><circle cx="24.7" cy="48.9" r="1.7" fill="url(#pd3)"/><circle cx="24.0" cy="50.7" r="1.7" fill="url(#pd2)"/><circle cx="24.1" cy="55.2" r="1.6" fill="url(#pd2)"/><circle cx="22.3" cy="59.0" r="1.6" fill="url(#pd3)"/><circle cx="26.1" cy="61.5" r="1.5" fill="url(#pd2)"/><circle cx="27.4" cy="0.8" r="1.5" fill="url(#pd2)"/><circle cx="27.4" cy="64.8" r="1.5" fill="url(#pd2)"/><circle cx="27.7" cy="9.8" r="1.8" fill="url(#pd2)"/><circle cx="27.4" cy="11.3" r="1.9" fill="url(#pd1)"/><circle cx="27.3" cy="16.1" r="1.8" fill="url(#pd3)"/><circle cx="27.5" cy="23.9" r="1.7" fill="url(#pd2)"/><circle cx="28.3" cy="27.0" r="1.5" fill="url(#pd3)"/><circle cx="26.2" cy="29.5" r="1.5" fill="url(#pd2)"/><circle cx="29.3" cy="34.6" r="1.8" fill="url(#pd2)"/><circle cx="27.6" cy="37.3" r="1.8" fill="url(#pd2)"/><circle cx="29.0" cy="40.0" r="1.9" fill="url(#pd1)"/><circle cx="27.0" cy="43.8" r="1.7" fill="url(#pd3)"/><circle cx="27.9" cy="47.5" r="1.5" fill="url(#pd2)"/><circle cx="25.5" cy="51.2" r="1.9" fill="url(#pd2)"/><circle cx="28.3" cy="54.4" r="1.5" fill="url(#pd1)"/><circle cx="27.4" cy="58.6" r="1.9" fill="url(#pd2)"/><circle cx="29.3" cy="61.8" r="1.7" fill="url(#pd3)"/><circle cx="29.1" cy="1.7" r="1.5" fill="url(#pd1)"/><circle cx="31.2" cy="4.1" r="1.7" fill="url(#pd1)"/><circle cx="29.3" cy="8.9" r="1.6" fill="url(#pd2)"/><circle cx="31.8" cy="12.8" r="1.6" fill="url(#pd1)"/><circle cx="29.1" cy="15.3" r="1.6" fill="url(#pd3)"/><circle cx="32.0" cy="19.7" r="1.5" fill="url(#pd2)"/><circle cx="30.8" cy="23.6" r="1.6" fill="url(#pd1)"/><circle cx="31.1" cy="25.5" r="1.6" fill="url(#pd2)"/><circle cx="31.1" cy="34.0" r="1.5" fill="url(#pd3)"/><circle cx="29.8" cy="36.4" r="1.5" fill="url(#pd1)"/><circle cx="31.4" cy="45.3" r="1.6" fill="url(#pd3)"/><circle cx="31.2" cy="47.8" r="1.6" fill="url(#pd3)"/><circle cx="31.1" cy="50.4" r="1.9" fill="url(#pd1)"/><circle cx="32.6" cy="55.1" r="1.9" fill="url(#pd2)"/><circle cx="30.2" cy="58.7" r="1.6" fill="url(#pd1)"/><circle cx="31.0" cy="-1.8" r="1.9" fill="url(#pd3)"/><circle cx="31.0" cy="62.2" r="1.9" fill="url(#pd3)"/><circle cx="34.9" cy="2.9" r="1.6" fill="url(#pd3)"/><circle cx="36.4" cy="6.4" r="1.8" fill="url(#pd3)"/><circle cx="33.8" cy="7.9" r="1.6" fill="url(#pd3)"/><circle cx="32.9" cy="14.9" r="1.7" fill="url(#pd3)"/><circle cx="36.5" cy="20.0" r="1.8" fill="url(#pd2)"/><circle cx="33.8" cy="22.1" r="1.5" fill="url(#pd2)"/><circle cx="35.4" cy="27.0" r="1.7" fill="url(#pd2)"/><circle cx="33.2" cy="29.4" r="1.8" fill="url(#pd2)"/><circle cx="35.0" cy="32.9" r="1.8" fill="url(#pd3)"/><circle cx="34.7" cy="36.8" r="1.8" fill="url(#pd1)"/><circle cx="34.8" cy="44.6" r="1.5" fill="url(#pd2)"/><circle cx="36.1" cy="47.6" r="1.8" fill="url(#pd2)"/><circle cx="33.5" cy="52.6" r="1.5" fill="url(#pd1)"/><circle cx="36.2" cy="54.9" r="1.7" fill="url(#pd1)"/><circle cx="33.3" cy="59.6" r="1.8" fill="url(#pd2)"/><circle cx="36.0" cy="-1.1" r="1.8" fill="url(#pd3)"/><circle cx="36.0" cy="62.9" r="1.8" fill="url(#pd3)"/><circle cx="38.4" cy="1.2" r="1.8" fill="url(#pd1)"/><circle cx="38.4" cy="65.2" r="1.8" fill="url(#pd1)"/><circle cx="40.0" cy="4.3" r="1.9" fill="url(#pd3)"/><circle cx="37.8" cy="7.7" r="1.9" fill="url(#pd3)"/><circle cx="39.7" cy="13.2" r="1.5" fill="url(#pd3)"/><circle cx="36.5" cy="15.9" r="1.6" fill="url(#pd3)"/><circle cx="38.4" cy="19.9" r="1.8" fill="url(#pd1)"/><circle cx="36.8" cy="23.3" r="1.8" fill="url(#pd3)"/><circle cx="37.2" cy="29.7" r="1.8" fill="url(#pd1)"/><circle cx="38.6" cy="33.0" r="1.7" fill="url(#pd2)"/><circle cx="36.5" cy="37.4" r="1.8" fill="url(#pd1)"/><circle cx="38.2" cy="39.8" r="1.8" fill="url(#pd2)"/><circle cx="37.9" cy="45.5" r="1.7" fill="url(#pd3)"/><circle cx="39.1" cy="48.0" r="1.9" fill="url(#pd3)"/><circle cx="37.2" cy="51.5" r="1.8" fill="url(#pd1)"/><circle cx="38.0" cy="54.8" r="1.7" fill="url(#pd1)"/><circle cx="37.5" cy="58.9" r="1.5" fill="url(#pd3)"/><circle cx="38.9" cy="-1.0" r="1.7" fill="url(#pd1)"/><circle cx="38.9" cy="63.0" r="1.7" fill="url(#pd1)"/><circle cx="41.3" cy="2.9" r="1.5" fill="url(#pd1)"/><circle cx="42.0" cy="4.2" r="1.9" fill="url(#pd1)"/><circle cx="40.8" cy="9.8" r="1.7" fill="url(#pd2)"/><circle cx="42.5" cy="12.0" r="1.7" fill="url(#pd1)"/><circle cx="39.9" cy="16.9" r="1.9" fill="url(#pd2)"/><circle cx="43.6" cy="19.2" r="1.6" fill="url(#pd2)"/><circle cx="41.9" cy="23.6" r="1.6" fill="url(#pd1)"/><circle cx="42.4" cy="27.1" r="1.9" fill="url(#pd2)"/><circle cx="41.7" cy="31.1" r="1.6" fill="url(#pd3)"/><circle cx="43.2" cy="32.8" r="1.7" fill="url(#pd3)"/><circle cx="41.0" cy="36.3" r="1.8" fill="url(#pd2)"/><circle cx="42.3" cy="39.9" r="1.6" fill="url(#pd2)"/><circle cx="42.1" cy="43.6" r="1.6" fill="url(#pd2)"/><circle cx="42.3" cy="48.9" r="1.5" fill="url(#pd1)"/><circle cx="43.8" cy="54.7" r="1.5" fill="url(#pd3)"/><circle cx="41.5" cy="59.6" r="1.6" fill="url(#pd3)"/><circle cx="42.8" cy="-0.9" r="1.9" fill="url(#pd1)"/><circle cx="42.8" cy="63.1" r="1.9" fill="url(#pd1)"/><circle cx="45.2" cy="0.9" r="1.9" fill="url(#pd2)"/><circle cx="45.2" cy="64.9" r="1.9" fill="url(#pd2)"/><circle cx="45.6" cy="5.6" r="1.8" fill="url(#pd2)"/><circle cx="43.4" cy="8.2" r="1.5" fill="url(#pd2)"/><circle cx="46.8" cy="12.6" r="1.9" fill="url(#pd3)"/><circle cx="43.6" cy="17.1" r="1.8" fill="url(#pd2)"/><circle cx="46.5" cy="26.6" r="1.8" fill="url(#pd2)"/><circle cx="44.7" cy="29.9" r="1.5" fill="url(#pd1)"/><circle cx="45.1" cy="33.4" r="1.5" fill="url(#pd3)"/><circle cx="44.7" cy="37.8" r="1.8" fill="url(#pd1)"/><circle cx="46.8" cy="41.3" r="1.7" fill="url(#pd1)"/><circle cx="47.3" cy="48.3" r="1.6" fill="url(#pd3)"/><circle cx="44.8" cy="51.1" r="1.9" fill="url(#pd2)"/><circle cx="47.1" cy="55.9" r="1.8" fill="url(#pd2)"/><circle cx="45.1" cy="58.9" r="1.7" fill="url(#pd3)"/><circle cx="45.3" cy="61.8" r="1.6" fill="url(#pd3)"/><circle cx="50.7" cy="5.5" r="1.6" fill="url(#pd3)"/><circle cx="47.1" cy="9.5" r="1.7" fill="url(#pd3)"/><circle cx="49.4" cy="13.0" r="1.5" fill="url(#pd1)"/><circle cx="48.1" cy="15.2" r="1.9" fill="url(#pd2)"/><circle cx="50.2" cy="19.9" r="1.6" fill="url(#pd1)"/><circle cx="49.0" cy="23.0" r="1.5" fill="url(#pd3)"/><circle cx="49.5" cy="27.8" r="1.6" fill="url(#pd1)"/><circle cx="47.1" cy="29.7" r="1.8" fill="url(#pd3)"/><circle cx="49.6" cy="33.6" r="1.9" fill="url(#pd2)"/><circle cx="47.7" cy="37.8" r="1.9" fill="url(#pd1)"/><circle cx="49.0" cy="40.3" r="1.6" fill="url(#pd2)"/><circle cx="48.3" cy="44.2" r="1.9" fill="url(#pd1)"/><circle cx="48.7" cy="51.1" r="1.8" fill="url(#pd1)"/><circle cx="48.7" cy="54.7" r="1.8" fill="url(#pd1)"/><circle cx="47.7" cy="58.9" r="1.9" fill="url(#pd2)"/><circle cx="48.8" cy="-1.8" r="1.9" fill="url(#pd2)"/><circle cx="48.8" cy="62.2" r="1.9" fill="url(#pd2)"/><circle cx="51.8" cy="1.0" r="1.5" fill="url(#pd2)"/><circle cx="51.8" cy="65.0" r="1.5" fill="url(#pd2)"/><circle cx="53.4" cy="4.5" r="1.8" fill="url(#pd1)"/><circle cx="52.3" cy="9.0" r="1.8" fill="url(#pd2)"/><circle cx="54.3" cy="11.3" r="1.9" fill="url(#pd1)"/><circle cx="52.7" cy="15.5" r="1.7" fill="url(#pd1)"/><circle cx="53.6" cy="20.4" r="1.5" fill="url(#pd3)"/><circle cx="51.4" cy="24.1" r="1.9" fill="url(#pd3)"/><circle cx="54.3" cy="27.7" r="1.8" fill="url(#pd2)"/><circle cx="51.2" cy="36.3" r="1.7" fill="url(#pd2)"/><circle cx="53.6" cy="41.9" r="1.8" fill="url(#pd1)"/><circle cx="51.3" cy="44.4" r="1.7" fill="url(#pd1)"/><circle cx="52.9" cy="47.5" r="1.7" fill="url(#pd3)"/><circle cx="51.5" cy="52.5" r="1.9" fill="url(#pd3)"/><circle cx="52.9" cy="55.3" r="1.7" fill="url(#pd2)"/><circle cx="52.6" cy="59.3" r="1.5" fill="url(#pd3)"/><circle cx="54.5" cy="-1.5" r="1.9" fill="url(#pd1)"/><circle cx="54.5" cy="62.5" r="1.9" fill="url(#pd1)"/><circle cx="54.5" cy="2.9" r="1.9" fill="url(#pd2)"/><circle cx="57.2" cy="6.0" r="1.7" fill="url(#pd2)"/><circle cx="56.2" cy="8.7" r="1.8" fill="url(#pd1)"/><circle cx="56.3" cy="12.1" r="1.7" fill="url(#pd3)"/><circle cx="56.2" cy="15.3" r="1.6" fill="url(#pd1)"/><circle cx="57.1" cy="18.5" r="1.9" fill="url(#pd1)"/><circle cx="54.1" cy="23.8" r="1.5" fill="url(#pd1)"/><circle cx="56.1" cy="26.7" r="1.9" fill="url(#pd2)"/><circle cx="54.4" cy="30.2" r="1.9" fill="url(#pd1)"/><circle cx="57.0" cy="33.7" r="1.8" fill="url(#pd2)"/><circle cx="55.2" cy="36.2" r="1.7" fill="url(#pd2)"/><circle cx="55.9" cy="41.1" r="1.9" fill="url(#pd3)"/><circle cx="56.2" cy="44.0" r="1.9" fill="url(#pd3)"/><circle cx="56.5" cy="48.8" r="1.5" fill="url(#pd1)"/><circle cx="56.1" cy="52.2" r="1.7" fill="url(#pd2)"/><circle cx="54.4" cy="57.6" r="1.8" fill="url(#pd2)"/><circle cx="59.3" cy="2.4" r="1.6" fill="url(#pd3)"/><circle cx="59.4" cy="6.4" r="1.5" fill="url(#pd2)"/><circle cx="59.2" cy="8.9" r="1.8" fill="url(#pd1)"/><circle cx="60.3" cy="13.6" r="1.6" fill="url(#pd2)"/><circle cx="59.6" cy="15.0" r="1.7" fill="url(#pd3)"/><circle cx="59.6" cy="18.6" r="1.7" fill="url(#pd3)"/><circle cx="59.4" cy="22.4" r="1.7" fill="url(#pd2)"/><circle cx="60.9" cy="26.8" r="1.7" fill="url(#pd2)"/><circle cx="58.2" cy="30.5" r="1.8" fill="url(#pd2)"/><circle cx="59.2" cy="34.5" r="1.9" fill="url(#pd2)"/><circle cx="57.5" cy="36.7" r="1.9" fill="url(#pd3)"/><circle cx="61.6" cy="42.0" r="1.6" fill="url(#pd2)"/><circle cx="59.4" cy="45.3" r="1.9" fill="url(#pd1)"/><circle cx="60.0" cy="47.3" r="1.8" fill="url(#pd3)"/><circle cx="59.8" cy="50.9" r="1.5" fill="url(#pd3)"/><circle cx="61.4" cy="55.4" r="1.6" fill="url(#pd1)"/><circle cx="59.0" cy="58.3" r="1.5" fill="url(#pd1)"/><circle cx="59.4" cy="62.2" r="1.5" fill="url(#pd3)"/><circle cx="-1.2" cy="2.0" r="1.6" fill="url(#pd1)"/><circle cx="62.8" cy="2.0" r="1.6" fill="url(#pd1)"/><circle cx="0.4" cy="4.8" r="1.8" fill="url(#pd3)"/><circle cx="64.4" cy="4.8" r="1.8" fill="url(#pd3)"/><circle cx="-1.5" cy="9.7" r="1.9" fill="url(#pd3)"/><circle cx="62.5" cy="9.7" r="1.9" fill="url(#pd3)"/><circle cx="1.2" cy="12.8" r="1.5" fill="url(#pd3)"/><circle cx="65.2" cy="12.8" r="1.5" fill="url(#pd3)"/><circle cx="61.6" cy="15.9" r="1.8" fill="url(#pd3)"/><circle cx="1.0" cy="20.4" r="1.9" fill="url(#pd3)"/><circle cx="65.0" cy="20.4" r="1.9" fill="url(#pd3)"/><circle cx="-0.8" cy="26.8" r="1.7" fill="url(#pd2)"/><circle cx="63.2" cy="26.8" r="1.7" fill="url(#pd2)"/><circle cx="-0.8" cy="29.7" r="1.7" fill="url(#pd3)"/><circle cx="63.2" cy="29.7" r="1.7" fill="url(#pd3)"/><circle cx="1.0" cy="34.7" r="1.9" fill="url(#pd1)"/><circle cx="65.0" cy="34.7" r="1.9" fill="url(#pd1)"/><circle cx="-0.8" cy="38.2" r="1.5" fill="url(#pd1)"/><circle cx="63.2" cy="38.2" r="1.5" fill="url(#pd1)"/><circle cx="-1.1" cy="41.7" r="1.9" fill="url(#pd1)"/><circle cx="62.9" cy="41.7" r="1.9" fill="url(#pd1)"/><circle cx="62.0" cy="44.1" r="1.8" fill="url(#pd3)"/><circle cx="1.1" cy="47.9" r="1.7" fill="url(#pd3)"/><circle cx="65.1" cy="47.9" r="1.7" fill="url(#pd3)"/><circle cx="61.8" cy="50.5" r="1.9" fill="url(#pd3)"/><circle cx="-0.1" cy="56.1" r="1.9" fill="url(#pd2)"/><circle cx="63.9" cy="56.1" r="1.9" fill="url(#pd2)"/><circle cx="-0.9" cy="59.8" r="1.7" fill="url(#pd1)"/><circle cx="63.1" cy="59.8" r="1.7" fill="url(#pd1)"/><circle cx="-1.2" cy="62.2" r="1.5" fill="url(#pd1)"/><circle cx="62.8" cy="62.2" r="1.5" fill="url(#pd1)"/></pattern><pattern id="dpd2" x="0" y="0" width="67" height="67" patternUnits="userSpaceOnUse"><circle cx="63.2" cy="34.3" r="1.8" fill="url(#pd3)"/><circle cx="40.7" cy="25.2" r="1.7" fill="url(#pd1)"/><circle cx="11.7" cy="58.4" r="1.6" fill="url(#pd2)"/><circle cx="32.0" cy="28.8" r="1.7" fill="url(#pd3)"/><circle cx="-1.1" cy="24.8" r="1.8" fill="url(#pd2)"/><circle cx="65.9" cy="24.8" r="1.8" fill="url(#pd2)"/><circle cx="11.9" cy="40.8" r="1.7" fill="url(#pd3)"/><circle cx="63.2" cy="44.6" r="1.4" fill="url(#pd2)"/><circle cx="33.1" cy="33.5" r="1.8" fill="url(#pd2)"/><circle cx="23.4" cy="15.0" r="1.6" fill="url(#pd2)"/><circle cx="62.9" cy="39.0" r="1.4" fill="url(#pd2)"/><circle cx="62.3" cy="32.9" r="1.6" fill="url(#pd1)"/><circle cx="14.5" cy="46.4" r="1.7" fill="url(#pd2)"/><circle cx="12.8" cy="30.8" r="1.5" fill="url(#pd3)"/><circle cx="14.8" cy="64.5" r="1.7" fill="url(#pd1)"/><circle cx="25.6" cy="49.5" r="1.3" fill="url(#pd1)"/><circle cx="36.0" cy="55.0" r="1.4" fill="url(#pd3)"/><circle cx="25.2" cy="23.3" r="1.8" fill="url(#pd1)"/><circle cx="33.5" cy="64.1" r="1.8" fill="url(#pd2)"/><circle cx="26.5" cy="20.6" r="1.7" fill="url(#pd3)"/><circle cx="26.3" cy="58.7" r="1.8" fill="url(#pd1)"/><circle cx="15.6" cy="5.3" r="1.7" fill="url(#pd1)"/><circle cx="15.9" cy="33.9" r="1.3" fill="url(#pd2)"/><circle cx="46.9" cy="35.3" r="1.7" fill="url(#pd2)"/><circle cx="43.2" cy="24.8" r="1.5" fill="url(#pd1)"/><circle cx="22.5" cy="42.5" r="1.6" fill="url(#pd2)"/><circle cx="4.2" cy="15.1" r="1.3" fill="url(#pd2)"/><circle cx="25.7" cy="32.2" r="1.4" fill="url(#pd3)"/><circle cx="32.7" cy="33.5" r="1.6" fill="url(#pd3)"/><circle cx="62.6" cy="39.5" r="1.3" fill="url(#pd2)"/><circle cx="46.5" cy="21.6" r="1.7" fill="url(#pd1)"/></pattern><filter id="bgg" x="-3%" y="-3%" width="106%" height="106%" color-interpolation-filters="sRGB"><feOffset in="SourceGraphic" dx="0" dy="0" result="shape"/><feTurbulence type="fractalNoise" baseFrequency="0.45" numOctaves="1" seed="5" result="n"/><feColorMatrix in="n" type="matrix" values="3.0 0 0 0 -1.0  3.0 0 0 0 -1.0  3.0 0 0 0 -1.0  0 0 0 0 1" result="g"/><feComponentTransfer in="g" result="c"><feFuncR type="discrete" tableValues="0.133 0.165 0.196 0.235 0.282 0.337 0.400 0.478 0.588 0.725"/><feFuncG type="discrete" tableValues="0.125 0.157 0.188 0.227 0.278 0.337 0.408 0.486 0.596 0.733"/><feFuncB type="discrete" tableValues="0.125 0.157 0.184 0.220 0.267 0.322 0.388 0.467 0.576 0.718"/></feComponentTransfer><feGaussianBlur in="c" stdDeviation="0.3" result="bl"/><feComposite in="bl" in2="shape" operator="in"/></filter><filter id="soft" x="-3%" y="-3%" width="106%" height="106%"><feTurbulence type="fractalNoise" baseFrequency="0.3" seed="9" result="dn"/><feDisplacementMap in="SourceGraphic" in2="dn" scale="3" xChannelSelector="R" yChannelSelector="G"/><feGaussianBlur stdDeviation="0.3"/></filter><filter id="txsp" x="-3%" y="-3%" width="106%" height="106%" color-interpolation-filters="sRGB"><feTurbulence type="fractalNoise" baseFrequency="0.3" numOctaves="1" seed="56" result="dn"/><feDisplacementMap in="SourceGraphic" in2="dn" scale="2.5" xChannelSelector="R" yChannelSelector="G" result="shape"/><feTurbulence type="fractalNoise" baseFrequency="0.55" numOctaves="1" seed="6" result="n"/><feColorMatrix in="n" type="matrix" values="3.0 0 0 0 -1.0  3.0 0 0 0 -1.0  3.0 0 0 0 -1.0  0 0 0 0 1" result="g"/><feComponentTransfer in="g" result="c"><feFuncR type="discrete" tableValues="0.314 0.373 0.431 0.478 0.525 0.569 0.510 0.451 0.620 0.667"/><feFuncG type="discrete" tableValues="0.216 0.255 0.298 0.337 0.373 0.408 0.424 0.392 0.455 0.510"/><feFuncB type="discrete" tableValues="0.224 0.267 0.310 0.349 0.384 0.420 0.431 0.396 0.467 0.522"/></feComponentTransfer><feTurbulence type="fractalNoise" baseFrequency="0.4" numOctaves="1" seed="17" result="sn0"/><feColorMatrix in="sn0" type="matrix" values="0 0 0 0 0.196  0 0 0 0 0.157  0 0 0 0 0.173  3 0 0 0 -1" result="sc0"/><feComponentTransfer in="sc0" result="sk0"><feFuncA type="discrete" tableValues="0 0 0 0 0 0 0 0 0 0 0 0 0 0 0 0 0.65 0.65 0.65 0.65"/></feComponentTransfer><feTurbulence type="fractalNoise" baseFrequency="0.7" numOctaves="1" seed="29" result="sn1"/><feColorMatrix in="sn1" type="matrix" values="0 0 0 0 0.882  0 0 0 0 0.871  0 0 0 0 0.871  3 0 0 0 -1" result="sc1"/><feComponentTransfer in="sc1" result="sk1"><feFuncA type="discrete" tableValues="0 0 0 0 0 0 0 0 0 0 0 0 0 0 0 0 0 0 0.7 0.7"/></feComponentTransfer><feMerge result="m"><feMergeNode in="c"/><feMergeNode in="sk0"/><feMergeNode in="sk1"/></feMerge><feGaussianBlur in="m" stdDeviation="0.35" result="bl"/><feComposite in="bl" in2="shape" operator="in"/></filter><filter id="txsw" x="-3%" y="-3%" width="106%" height="106%" color-interpolation-filters="sRGB"><feTurbulence type="fractalNoise" baseFrequency="0.3" numOctaves="1" seed="58" result="dn"/><feDisplacementMap in="SourceGraphic" in2="dn" scale="1.5" xChannelSelector="R" yChannelSelector="G" result="shape"/><feTurbulence type="fractalNoise" baseFrequency="0.55" numOctaves="1" seed="8" result="n"/><feColorMatrix in="n" type="matrix" values="3.0 0 0 0 -1.0  3.0 0 0 0 -1.0  3.0 0 0 0 -1.0  0 0 0 0 1" result="g"/><feComponentTransfer in="g" result="c"><feFuncR type="discrete" tableValues="0.784 0.843 0.894 0.933 0.961 0.980 0.988 1.000 0.941 0.902"/><feFuncG type="discrete" tableValues="0.784 0.843 0.894 0.933 0.961 0.980 0.988 1.000 0.941 0.902"/><feFuncB type="discrete" tableValues="0.792 0.847 0.898 0.933 0.961 0.980 0.988 1.000 0.941 0.910"/></feComponentTransfer><feTurbulence type="fractalNoise" baseFrequency="0.45" numOctaves="1" seed="19" result="sn0"/><feColorMatrix in="sn0" type="matrix" values="0 0 0 0 0.235  0 0 0 0 0.235  0 0 0 0 0.251  3 0 0 0 -1" result="sc0"/><feComponentTransfer in="sc0" result="sk0"><feFuncA type="discrete" tableValues="0 0 0 0 0 0 0 0 0 0 0 0 0 0 0 0 0 0.75 0.75 0.75"/></feComponentTransfer><feTurbulence type="fractalNoise" baseFrequency="0.6" numOctaves="1" seed="31" result="sn1"/><feColorMatrix in="sn1" type="matrix" values="0 0 0 0 0.549  0 0 0 0 0.549  0 0 0 0 0.569  3 0 0 0 -1" result="sc1"/><feComponentTransfer in="sc1" result="sk1"><feFuncA type="discrete" tableValues="0 0 0 0 0 0 0 0 0 0 0 0 0 0 0 0 0 0.8 0.8 0.8"/></feComponentTransfer><feMerge result="m"><feMergeNode in="c"/><feMergeNode in="sk0"/><feMergeNode in="sk1"/></feMerge><feGaussianBlur in="m" stdDeviation="0.35" result="bl"/><feComposite in="bl" in2="shape" operator="in"/></filter><filter id="blur2" x="-50%" y="-50%" width="200%" height="200%"><feGaussianBlur stdDeviation="2"/></filter><filter id="blur4" x="-50%" y="-50%" width="200%" height="200%"><feGaussianBlur stdDeviation="6"/></filter><filter id="txspl" x="-3%" y="-3%" width="106%" height="106%" color-interpolation-filters="sRGB"><feTurbulence type="fractalNoise" baseFrequency="0.3" numOctaves="1" seed="66" result="dn"/><feDisplacementMap in="SourceGraphic" in2="dn" scale="2.5" xChannelSelector="R" yChannelSelector="G" result="shape"/><feTurbulence type="fractalNoise" baseFrequency="0.55" numOctaves="1" seed="16" result="n"/><feColorMatrix in="n" type="matrix" values="3.0 0 0 0 -1.0  3.0 0 0 0 -1.0  3.0 0 0 0 -1.0  0 0 0 0 1" result="g"/><feComponentTransfer in="g" result="c"><feFuncR type="discrete" tableValues="0.588 0.635 0.675 0.706 0.737 0.765 0.725 0.667 0.804 0.831"/><feFuncG type="discrete" tableValues="0.439 0.478 0.510 0.541 0.573 0.604 0.647 0.627 0.659 0.706"/><feFuncB type="discrete" tableValues="0.463 0.502 0.533 0.565 0.592 0.620 0.655 0.627 0.675 0.718"/></feComponentTransfer><feTurbulence type="fractalNoise" baseFrequency="0.4" numOctaves="1" seed="27" result="sn0"/><feColorMatrix in="sn0" type="matrix" values="0 0 0 0 0.275  0 0 0 0 0.216  0 0 0 0 0.235  3 0 0 0 -1" result="sc0"/><feComponentTransfer in="sc0" result="sk0"><feFuncA type="discrete" tableValues="0 0 0 0 0 0 0 0 0 0 0 0 0 0 0 0 0 0.55 0.55 0.55"/></feComponentTransfer><feTurbulence type="fractalNoise" baseFrequency="0.7" numOctaves="1" seed="39" result="sn1"/><feColorMatrix in="sn1" type="matrix" values="0 0 0 0 0.922  0 0 0 0 0.910  0 0 0 0 0.910  3 0 0 0 -1" result="sc1"/><feComponentTransfer in="sc1" result="sk1"><feFuncA type="discrete" tableValues="0 0 0 0 0 0 0 0 0 0 0 0 0 0 0 0 0 0 0.7 0.7"/></feComponentTransfer><feMerge result="m"><feMergeNode in="c"/><feMergeNode in="sk0"/><feMergeNode in="sk1"/></feMerge><feGaussianBlur in="m" stdDeviation="0.35" result="bl"/><feComposite in="bl" in2="shape" operator="in"/></filter><filter id="txfa" x="-3%" y="-3%" width="106%" height="106%" color-interpolation-filters="sRGB"><feTurbulence type="fractalNoise" baseFrequency="0.3" numOctaves="1" seed="53" result="dn"/><feDisplacementMap in="SourceGraphic" in2="dn" scale="3" xChannelSelector="R" yChannelSelector="G" result="shape"/><feTurbulence type="fractalNoise" baseFrequency="0.55" numOctaves="1" seed="3" result="n"/><feColorMatrix in="n" type="matrix" values="3.0 0 0 0 -1.0  3.0 0 0 0 -1.0  3.0 0 0 0 -1.0  0 0 0 0 1" result="g"/><feComponentTransfer in="g" result="c"><feFuncR type="discrete" tableValues="0.412 0.478 0.541 0.588 0.627 0.659 0.588 0.529 0.698 0.737"/><feFuncG type="discrete" tableValues="0.333 0.384 0.431 0.463 0.490 0.518 0.541 0.510 0.569 0.620"/><feFuncB type="discrete" tableValues="0.353 0.404 0.451 0.482 0.510 0.537 0.549 0.510 0.588 0.635"/></feComponentTransfer><feTurbulence type="fractalNoise" baseFrequency="0.35" numOctaves="1" seed="14" result="sn0"/><feColorMatrix in="sn0" type="matrix" values="0 0 0 0 0.196  0 0 0 0 0.173  0 0 0 0 0.180  3 0 0 0 -1" result="sc0"/><feComponentTransfer in="sc0" result="sk0"><feFuncA type="discrete" tableValues="0 0 0 0 0 0 0 0 0 0 0 0 0 0 0 0 0.95 0.95 0.95 0.95"/></feComponentTransfer><feTurbulence type="fractalNoise" baseFrequency="0.7" numOctaves="1" seed="26" result="sn1"/><feColorMatrix in="sn1" type="matrix" values="0 0 0 0 0.910  0 0 0 0 0.910  0 0 0 0 0.902  3 0 0 0 -1" result="sc1"/><feComponentTransfer in="sc1" result="sk1"><feFuncA type="discrete" tableValues="0 0 0 0 0 0 0 0 0 0 0 0 0 0 0 0 0 0 0.9 0.9"/></feComponentTransfer><feMerge result="m"><feMergeNode in="c"/><feMergeNode in="sk0"/><feMergeNode in="sk1"/></feMerge><feGaussianBlur in="m" stdDeviation="0.4" result="bl"/><feComposite in="bl" in2="shape" operator="in"/></filter><filter id="txbud" x="-3%" y="-3%" width="106%" height="106%" color-interpolation-filters="sRGB"><feTurbulence type="fractalNoise" baseFrequency="0.3" numOctaves="1" seed="69" result="dn"/><feDisplacementMap in="SourceGraphic" in2="dn" scale="2" xChannelSelector="R" yChannelSelector="G" result="shape"/><feTurbulence type="fractalNoise" baseFrequency="0.55" numOctaves="1" seed="19" result="n"/><feColorMatrix in="n" type="matrix" values="3.0 0 0 0 -1.0  3.0 0 0 0 -1.0  3.0 0 0 0 -1.0  0 0 0 0 1" result="g"/><feComponentTransfer in="g" result="c"><feFuncR type="discrete" tableValues="0.412 0.478 0.541 0.588 0.627 0.659 0.588 0.529 0.698 0.737"/><feFuncG type="discrete" tableValues="0.333 0.384 0.431 0.463 0.490 0.518 0.541 0.510 0.569 0.620"/><feFuncB type="discrete" tableValues="0.353 0.404 0.451 0.482 0.510 0.537 0.549 0.510 0.588 0.635"/></feComponentTransfer><feTurbulence type="fractalNoise" baseFrequency="0.35" numOctaves="1" seed="30" result="sn0"/><feColorMatrix in="sn0" type="matrix" values="0 0 0 0 0.176  0 0 0 0 0.141  0 0 0 0 0.153  3 0 0 0 -1" result="sc0"/><feComponentTransfer in="sc0" result="sk0"><feFuncA type="discrete" tableValues="0 0 0 0 0 0 0 0 0 0 0 0 0 0 0 0 0.9 0.9 0.9 0.9"/></feComponentTransfer><feTurbulence type="fractalNoise" baseFrequency="0.7" numOctaves="1" seed="42" result="sn1"/><feColorMatrix in="sn1" type="matrix" values="0 0 0 0 0.922  0 0 0 0 0.914  0 0 0 0 0.914  3 0 0 0 -1" result="sc1"/><feComponentTransfer in="sc1" result="sk1"><feFuncA type="discrete" tableValues="0 0 0 0 0 0 0 0 0 0 0 0 0 0 0 0 0 0 0 0.9"/></feComponentTransfer><feMerge result="m"><feMergeNode in="c"/><feMergeNode in="sk0"/><feMergeNode in="sk1"/></feMerge><feGaussianBlur in="m" stdDeviation="0.4" result="bl"/><feComposite in="bl" in2="shape" operator="in"/></filter><filter id="txfa2" x="-3%" y="-3%" width="106%" height="106%" color-interpolation-filters="sRGB"><feTurbulence type="fractalNoise" baseFrequency="0.3" numOctaves="1" seed="63" result="dn"/><feDisplacementMap in="SourceGraphic" in2="dn" scale="3" xChannelSelector="R" yChannelSelector="G" result="shape"/><feTurbulence type="fractalNoise" baseFrequency="0.55" numOctaves="1" seed="13" result="n"/><feColorMatrix in="n" type="matrix" values="3.0 0 0 0 -1.0  3.0 0 0 0 -1.0  3.0 0 0 0 -1.0  0 0 0 0 1" result="g"/><feComponentTransfer in="g" result="c"><feFuncR type="discrete" tableValues="0.412 0.478 0.541 0.588 0.627 0.659 0.588 0.529 0.698 0.737"/><feFuncG type="discrete" tableValues="0.333 0.384 0.431 0.463 0.490 0.518 0.541 0.510 0.569 0.620"/><feFuncB type="discrete" tableValues="0.353 0.404 0.451 0.482 0.510 0.537 0.549 0.510 0.588 0.635"/></feComponentTransfer><feTurbulence type="fractalNoise" baseFrequency="0.35" numOctaves="1" seed="24" result="sn0"/><feColorMatrix in="sn0" type="matrix" values="0 0 0 0 0.196  0 0 0 0 0.173  0 0 0 0 0.180  3 0 0 0 -1" result="sc0"/><feComponentTransfer in="sc0" result="sk0"><feFuncA type="discrete" tableValues="0 0 0 0 0 0 0 0 0 0 0 0 0 0 0 0 0.95 0.95 0.95 0.95"/></feComponentTransfer><feTurbulence type="fractalNoise" baseFrequency="0.7" numOctaves="1" seed="36" result="sn1"/><feColorMatrix in="sn1" type="matrix" values="0 0 0 0 0.910  0 0 0 0 0.910  0 0 0 0 0.902  3 0 0 0 -1" result="sc1"/><feComponentTransfer in="sc1" result="sk1"><feFuncA type="discrete" tableValues="0 0 0 0 0 0 0 0 0 0 0 0 0 0 0 0 0 0 0.9 0.9"/></feComponentTransfer><feMerge result="m"><feMergeNode in="c"/><feMergeNode in="sk0"/><feMergeNode in="sk1"/></feMerge><feGaussianBlur in="m" stdDeviation="0.4" result="bl"/><feComposite in="bl" in2="shape" operator="in"/></filter><filter id="bump" x="-15%" y="-15%" width="130%" height="130%" color-interpolation-filters="sRGB"><feTurbulence type="fractalNoise" baseFrequency="0.18" numOctaves="2" seed="5" result="t"/><feDisplacementMap in="SourceGraphic" in2="t" scale="6" xChannelSelector="R" yChannelSelector="G" result="shape"/><feTurbulence type="fractalNoise" baseFrequency="0.17" numOctaves="2" seed="11" result="t2"/><feGaussianBlur in="shape" stdDeviation="1.2" result="sb"/><feComposite in="t2" in2="sb" operator="arithmetic" k1="0" k2="0.6" k3="0.5" k4="0" result="hmap"/><feDiffuseLighting in="hmap" surfaceScale="6" diffuseConstant="1.2" lighting-color="#fff" result="L"><feDistantLight azimuth="235" elevation="60"/></feDiffuseLighting><feComposite in="shape" in2="L" operator="arithmetic" k1="1" k2="0" k3="0" k4="0" result="lit"/><feComposite in="lit" in2="shape" operator="in"/></filter></defs>
<rect width="2126" height="2255" fill="#fff"/>
<line x1="111.8" y1="597.8" x2="543.0" y2="597.8" stroke="#c4c4c4" stroke-width="2.2" stroke-dasharray="2.6 3.9"/>
<line x1="111.8" y1="539.7" x2="543.0" y2="539.7" stroke="#c4c4c4" stroke-width="2.2" stroke-dasharray="2.6 3.9"/>
<line x1="111.8" y1="481.6" x2="543.0" y2="481.6" stroke="#c4c4c4" stroke-width="2.2" stroke-dasharray="2.6 3.9"/>
<line x1="198.0" y1="452.5" x2="198.0" y2="626.9" stroke="#c4c4c4" stroke-width="2.2" stroke-dasharray="2.6 3.9"/>
<line x1="284.3" y1="452.5" x2="284.3" y2="626.9" stroke="#c4c4c4" stroke-width="2.2" stroke-dasharray="2.6 3.9"/>
<line x1="370.5" y1="452.5" x2="370.5" y2="626.9" stroke="#c4c4c4" stroke-width="2.2" stroke-dasharray="2.6 3.9"/>
<line x1="456.8" y1="452.5" x2="456.8" y2="626.9" stroke="#c4c4c4" stroke-width="2.2" stroke-dasharray="2.6 3.9"/>
<clipPath id="ca"><rect x="111.8" y="452.5" width="431.2" height="174.4"/></clipPath>
<g clip-path="url(#ca)">
<polyline points="111.8,606.4 114.5,606.1 117.2,606.1 119.9,605.1 122.6,605.6 125.4,605.3 128.1,604.6 130.8,604.6 133.5,604.9 136.2,605.8 138.9,606.1 141.6,606.1 144.3,605.7 147.1,605.4 149.8,606.3 152.5,606.4 155.2,605.1 157.9,607.1 160.6,605.6 163.3,605.0 166.0,606.3 168.8,606.4 171.5,606.1 174.2,604.8 176.9,605.5 179.6,607.1 182.3,605.8 185.0,604.4 187.7,604.5 190.4,604.8 193.2,605.6 195.9,607.1 198.6,605.2 201.3,605.6 204.0,605.3 206.7,604.0 209.4,605.2 212.1,605.1 214.9,604.8 217.6,605.6 220.3,606.0 223.0,606.1 225.7,604.7 228.4,604.9 231.1,605.8 233.8,604.3 236.5,605.2 239.3,606.6 242.0,604.8 244.7,605.5 247.4,606.6 250.1,604.9 252.8,605.7 255.5,605.8 258.2,604.8 261.0,607.4 263.7,606.6 266.4,605.8 269.1,605.2 271.8,606.0 274.5,606.3 277.2,606.4 279.9,605.5 282.7,604.8 285.4,606.7 288.1,607.3 290.8,605.7 293.5,605.7 296.2,606.2 298.9,604.8 301.6,604.6 304.3,605.9 307.1,605.7 309.8,604.9 312.5,605.8 315.2,606.7 317.9,605.5 320.6,606.2 323.3,605.1 326.0,605.9 328.8,605.6 331.5,604.9 334.2,605.5 336.9,606.0 339.6,606.3 342.3,603.8 345.0,604.4 347.7,606.8 350.5,606.4 353.2,604.8 355.9,605.9 358.6,605.4 361.3,604.6 364.0,605.3 366.7,605.5 369.4,605.8 372.1,605.5 374.9,605.0 377.6,603.8 380.3,604.4 383.0,605.6 385.7,604.5 388.4,605.3 391.1,606.8 393.8,605.5 396.6,604.5 399.3,605.9 402.0,604.5 404.7,605.7 407.4,605.4 410.1,606.5 412.8,603.5 415.5,605.0 418.3,604.5 421.0,605.8 423.7,606.8 426.4,604.3 429.1,606.1 431.8,603.9 434.5,605.5 437.2,603.9 439.9,606.1 442.7,607.0 445.4,604.7 448.1,605.5 450.8,605.4 453.5,604.4 456.2,606.2 458.9,606.6 461.6,606.5 464.4,607.0 467.1,607.1 469.8,606.6 472.5,606.3 475.2,605.8 477.9,606.5 480.6,605.5 483.3,604.7 486.0,605.6 488.8,605.0 491.5,606.3 494.2,605.2 496.9,605.0 499.6,606.1 502.3,606.9 505.0,605.7 507.7,605.5 510.5,604.2 513.2,605.9 515.9,604.0 518.6,607.8 521.3,605.8 524.0,606.0 526.7,605.9 529.4,606.0 532.2,605.6 534.9,604.1 537.6,605.7 540.3,604.5 543.0,605.7" fill="none" stroke="#1f77b4" stroke-width="2.8" stroke-linejoin="round"/>
<polyline points="111.8,605.4 114.5,604.1 117.2,604.3 119.9,605.9 122.6,605.7 125.4,605.9 128.1,604.9 130.8,605.4 133.5,604.7 136.2,607.1 138.9,603.9 141.6,605.5 144.3,604.8 147.1,605.5 149.8,605.7 152.5,605.0 155.2,604.6 157.9,605.6 160.6,605.5 163.3,604.8 166.0,606.2 168.8,606.8 171.5,605.0 174.2,606.0 176.9,607.2 179.6,606.1 182.3,605.8 185.0,606.5 187.7,606.8 190.4,605.4 193.2,604.6 195.9,605.6 198.6,606.1 201.3,605.0 204.0,604.7 206.7,605.7 209.4,604.9 212.1,604.4 214.9,605.6 217.6,606.1 220.3,605.1 223.0,605.2 225.7,604.4 228.4,606.6 231.1,606.0 233.8,606.2 236.5,607.0 239.3,605.3 242.0,604.9 244.7,606.1 247.4,604.1 250.1,604.6 252.8,604.8 255.5,605.0 258.2,604.5 261.0,606.6 263.7,604.8 266.4,604.8 269.1,607.0 271.8,605.1 274.5,605.6 277.2,604.7 279.9,605.8 282.7,605.4 285.4,605.1 288.1,606.2 290.8,604.8 293.5,605.5 296.2,604.9 298.9,605.9 301.6,604.4 304.3,604.8 307.1,605.6 309.8,604.8 312.5,604.2 315.2,603.7 317.9,606.9 320.6,604.6 323.3,605.0 326.0,605.5 328.8,606.3 331.5,604.2 334.2,606.6 336.9,604.9 339.6,604.2 342.3,606.9 345.0,605.7 347.7,606.6 350.5,605.2 353.2,604.0 355.9,603.5 358.6,607.0 361.3,605.9 364.0,604.7 366.7,603.9 369.4,605.0 372.1,606.1 374.9,605.1 377.6,605.4 380.3,605.6 383.0,606.1 385.7,605.0 388.4,605.1 391.1,605.5 393.8,605.6 396.6,606.6 399.3,605.8 402.0,604.3 404.7,605.6 407.4,606.7 410.1,604.1 412.8,604.9 415.5,603.4 418.3,605.3 421.0,605.8 423.7,606.7 426.4,604.2 429.1,603.0 431.8,606.2 434.5,606.0 437.2,604.8 439.9,606.2 442.7,605.6 445.4,605.7 448.1,605.2 450.8,604.4 453.5,605.4 456.2,604.5 458.9,605.8 461.6,605.1 464.4,607.4 467.1,606.7 469.8,604.7 472.5,605.9 475.2,604.9 477.9,604.9 480.6,604.2 483.3,604.6 486.0,604.4 488.8,605.5 491.5,606.0 494.2,606.1 496.9,605.8 499.6,606.4 502.3,605.9 505.0,605.5 507.7,605.2 510.5,605.7 513.2,607.2 515.9,605.5 518.6,605.2 521.3,604.4 524.0,604.9 526.7,606.0 529.4,606.1 532.2,603.5 534.9,604.7 537.6,603.7 540.3,603.4 543.0,606.2" fill="none" stroke="#ff7f0e" stroke-width="2.8" stroke-linejoin="round"/>
<polyline points="111.8,605.4 114.5,604.4 117.2,604.7 119.9,604.7 122.6,603.9 125.4,606.5 128.1,606.0 130.8,606.6 133.5,605.5 136.2,604.5 138.9,605.4 141.6,604.9 144.3,607.2 147.1,605.3 149.8,606.2 152.5,603.7 155.2,604.6 157.9,604.5 160.6,605.4 163.3,604.8 166.0,604.8 168.8,605.7 171.5,605.9 174.2,605.5 176.9,606.0 179.6,605.9 182.3,605.7 185.0,606.1 187.7,604.7 190.4,606.9 193.2,604.6 195.9,606.0 198.6,605.9 201.3,606.6 204.0,605.5 206.7,605.6 209.4,605.2 212.1,605.9 214.9,605.3 217.6,603.7 220.3,605.0 223.0,605.9 225.7,604.5 228.4,605.5 231.1,604.8 233.8,604.8 236.5,605.8 239.3,607.2 242.0,605.7 244.7,604.9 247.4,605.7 250.1,605.0 252.8,604.5 255.5,605.9 258.2,604.2 261.0,603.9 263.7,604.4 266.4,604.3 269.1,604.4 271.8,603.3 274.5,605.2 277.2,605.4 279.9,604.8 282.7,606.2 285.4,606.8 288.1,606.2 290.8,605.0 293.5,605.0 296.2,606.8 298.9,607.1 301.6,605.7 304.3,605.6 307.1,605.4 309.8,604.8 312.5,604.2 315.2,605.2 317.9,604.8 320.6,606.4 323.3,606.5 326.0,605.2 328.8,604.8 331.5,604.7 334.2,604.8 336.9,604.7 339.6,604.6 342.3,607.0 345.0,606.1 347.7,605.0 350.5,604.8 353.2,606.8 355.9,604.3 358.6,605.8 361.3,605.6 364.0,605.1 366.7,604.7 369.4,606.7 372.1,604.5 374.9,605.3 377.6,606.1 380.3,605.6 383.0,607.4 385.7,606.0 388.4,605.2 391.1,606.1 393.8,605.7 396.6,605.5 399.3,605.3 402.0,604.4 404.7,605.4 407.4,605.6 410.1,604.9 412.8,603.5 415.5,605.7 418.3,604.9 421.0,606.9 423.7,604.1 426.4,604.8 429.1,604.2 431.8,605.4 434.5,606.4 437.2,604.6 439.9,604.7 442.7,606.2 445.4,606.8 448.1,605.0 450.8,605.6 453.5,603.0 456.2,606.0 458.9,605.9 461.6,605.5 464.4,606.9 467.1,606.2 469.8,603.9 472.5,605.5 475.2,606.0 477.9,606.6 480.6,604.9 483.3,604.8 486.0,605.2 488.8,605.8 491.5,605.1 494.2,605.0 496.9,606.0 499.6,604.8 502.3,607.4 505.0,606.6 507.7,605.7 510.5,605.5 513.2,606.5 515.9,605.1 518.6,604.4 521.3,605.0 524.0,605.2 526.7,604.6 529.4,605.0 532.2,606.5 534.9,605.6 537.6,604.2 540.3,606.4 543.0,605.3" fill="none" stroke="#2ca02c" stroke-width="2.8" stroke-linejoin="round"/>
<polyline points="111.8,603.7 114.5,608.3 117.2,604.5 119.9,605.3 122.6,604.2 125.4,605.0 128.1,603.7 130.8,605.4 133.5,605.9 136.2,604.9 138.9,605.0 141.6,605.7 144.3,605.6 147.1,604.7 149.8,604.7 152.5,605.9 155.2,605.7 157.9,607.1 160.6,603.8 163.3,605.6 166.0,604.1 168.8,605.0 171.5,603.6 174.2,604.0 176.9,605.1 179.6,604.0 182.3,606.3 185.0,604.2 187.7,606.8 190.4,605.1 193.2,604.4 195.9,605.2 198.6,605.7 201.3,606.1 204.0,605.7 206.7,604.4 209.4,604.6 212.1,605.6 214.9,606.5 217.6,604.8 220.3,606.7 223.0,605.9 225.7,606.1 228.4,604.7 231.1,605.2 233.8,605.0 236.5,605.1 239.3,606.0 242.0,604.9 244.7,604.1 247.4,605.4 250.1,604.8 252.8,605.5 255.5,604.4 258.2,604.8 261.0,604.6 263.7,605.1 266.4,603.9 269.1,605.7 271.8,605.7 274.5,605.9 277.2,604.8 279.9,606.0 282.7,606.0 285.4,604.7 288.1,604.3 290.8,604.9 293.5,607.9 296.2,606.3 298.9,606.4 301.6,606.5 304.3,605.8 307.1,603.7 309.8,605.7 312.5,606.1 315.2,604.7 317.9,605.3 320.6,605.3 323.3,606.0 326.0,605.4 328.8,605.0 331.5,607.2 334.2,606.9 336.9,604.4 339.6,604.6 342.3,605.9 345.0,606.3 347.7,605.6 350.5,606.5 353.2,605.7 355.9,603.9 358.6,605.3 361.3,604.3 364.0,605.6 366.7,605.0 369.4,604.1 372.1,606.6 374.9,605.7 377.6,605.5 380.3,605.1 383.0,603.9 385.7,604.8 388.4,606.8 391.1,605.6 393.8,606.2 396.6,606.2 399.3,603.5 402.0,606.4 404.7,605.2 407.4,606.1 410.1,604.6 412.8,605.1 415.5,605.3 418.3,605.5 421.0,604.3 423.7,606.3 426.4,606.1 429.1,606.4 431.8,604.1 434.5,605.7 437.2,606.4 439.9,605.8 442.7,603.1 445.4,605.5 448.1,604.6 450.8,605.0 453.5,605.4 456.2,606.0 458.9,605.7 461.6,605.7 464.4,607.4 467.1,603.0 469.8,604.5 472.5,605.3 475.2,605.6 477.9,606.1 480.6,604.5 483.3,605.6 486.0,604.9 488.8,606.7 491.5,605.0 494.2,603.5 496.9,605.7 499.6,604.6 502.3,605.4 505.0,604.4 507.7,604.4 510.5,605.3 513.2,605.9 515.9,605.1 518.6,605.4 521.3,606.0 524.0,605.0 526.7,605.0 529.4,606.2 532.2,605.5 534.9,602.7 537.6,604.6 540.3,605.3 543.0,603.1" fill="none" stroke="#d62728" stroke-width="2.8" stroke-linejoin="round"/>
<polyline points="111.8,605.0 114.5,605.9 117.2,606.3 119.9,607.0 122.6,605.6 125.4,604.7 128.1,605.4 130.8,605.1 133.5,604.8 136.2,605.9 138.9,603.9 141.6,605.9 144.3,605.2 147.1,603.9 149.8,605.5 152.5,605.3 155.2,605.7 157.9,605.2 160.6,606.6 163.3,605.8 166.0,604.4 168.8,605.3 171.5,605.5 174.2,605.2 176.9,605.2 179.6,605.3 182.3,605.1 185.0,606.3 187.7,605.1 190.4,605.8 193.2,605.0 195.9,605.4 198.6,605.9 201.3,605.4 204.0,606.0 206.7,604.8 209.4,605.4 212.1,604.9 214.9,606.0 217.6,604.5 220.3,605.6 223.0,604.6 225.7,604.9 228.4,606.0 231.1,605.2 233.8,605.7 236.5,605.2 239.3,604.6 242.0,605.0 244.7,604.8 247.4,606.0 250.1,605.3 252.8,605.2 255.5,604.8 258.2,605.7 261.0,605.1 263.7,605.2 266.4,606.2 269.1,606.0 271.8,605.1 274.5,606.0 277.2,606.1 279.9,604.9 282.7,605.2 285.4,605.5 288.1,605.3 290.8,605.6 293.5,605.7 296.2,605.6 298.9,605.2 301.6,604.7 304.3,605.7 307.1,605.4 309.8,605.5 312.5,606.1 315.2,605.3 317.9,604.9 320.6,605.9 323.3,604.9 326.0,605.7 328.8,604.7 331.5,604.7 334.2,605.6 336.9,606.5 339.6,605.6 342.3,606.2 345.0,606.1 347.7,605.5 350.5,604.6 353.2,605.4 355.9,605.5 358.6,606.4 361.3,605.7 364.0,606.2 366.7,605.1 369.4,605.7 372.1,605.4 374.9,605.4 377.6,605.5 380.3,604.9 383.0,605.1 385.7,605.6 388.4,605.3 391.1,605.1 393.8,604.6 396.6,605.3 399.3,604.6 402.0,605.7 404.7,605.5 407.4,606.2 410.1,604.9 412.8,606.0 415.5,606.0 418.3,604.9 421.0,605.7 423.7,605.8 426.4,604.9 429.1,605.5 431.8,604.9 434.5,605.6 437.2,605.0 439.9,604.8 442.7,605.3 445.4,604.4 448.1,605.6 450.8,605.5 453.5,605.3 456.2,604.8 458.9,605.6 461.6,605.6 464.4,605.2 467.1,604.7 469.8,605.6 472.5,606.1 475.2,605.5 477.9,605.0 480.6,605.7 483.3,605.3 486.0,606.4 488.8,605.4 491.5,605.3 494.2,605.0 496.9,605.2 499.6,605.0 502.3,605.9 505.0,605.0 507.7,606.3 510.5,605.7 513.2,604.8 515.9,604.9 518.6,606.4 521.3,605.1 524.0,605.6 526.7,605.8 529.4,605.3 532.2,605.3 534.9,604.6 537.6,606.2 540.3,605.6 543.0,605.5" fill="none" stroke="#9467bd" stroke-width="3.4" stroke-linejoin="round"/>
</g>
<rect x="111.8" y="452.5" width="431.2" height="174.4" fill="none" stroke="#000" stroke-width="2.7"/>
<line x1="111.8" y1="626.9" x2="111.8" y2="632.7" stroke="#000" stroke-width="2.3"/>
<text x="111.8" y="665.0" font-size="29" text-anchor="middle" >0</text>
<line x1="198.0" y1="626.9" x2="198.0" y2="632.7" stroke="#000" stroke-width="2.3"/>
<text x="198.0" y="665.0" font-size="29" text-anchor="middle" >1</text>
<line x1="284.3" y1="626.9" x2="284.3" y2="632.7" stroke="#000" stroke-width="2.3"/>
<text x="284.3" y="665.0" font-size="29" text-anchor="middle" >2</text>
<line x1="370.5" y1="626.9" x2="370.5" y2="632.7" stroke="#000" stroke-width="2.3"/>
<text x="370.5" y="665.0" font-size="29" text-anchor="middle" >3</text>
<line x1="456.8" y1="626.9" x2="456.8" y2="632.7" stroke="#000" stroke-width="2.3"/>
<text x="456.8" y="665.0" font-size="29" text-anchor="middle" >4</text>
<line x1="543.0" y1="626.9" x2="543.0" y2="632.7" stroke="#000" stroke-width="2.3"/>
<text x="543.0" y="665.0" font-size="29" text-anchor="middle" >5</text>
<line x1="106.0" y1="597.8" x2="111.8" y2="597.8" stroke="#000" stroke-width="2.3"/>
<text x="102.8" y="608.2" font-size="29" text-anchor="end" >15</text>
<line x1="106.0" y1="481.6" x2="111.8" y2="481.6" stroke="#000" stroke-width="2.3"/>
<text x="102.8" y="492.0" font-size="29" text-anchor="end" >25</text>
<text x="327.4" y="701.9" font-size="29" text-anchor="middle" >Time (μs)</text>
<text x="0" y="0" font-size="29" text-anchor="middle" transform="translate(49.2,539.7) rotate(-90)">Height (nm)</text>
<line x1="791.8" y1="597.8" x2="1223.0" y2="597.8" stroke="#c4c4c4" stroke-width="2.2" stroke-dasharray="2.6 3.9"/>
<line x1="791.8" y1="539.7" x2="1223.0" y2="539.7" stroke="#c4c4c4" stroke-width="2.2" stroke-dasharray="2.6 3.9"/>
<line x1="791.8" y1="481.6" x2="1223.0" y2="481.6" stroke="#c4c4c4" stroke-width="2.2" stroke-dasharray="2.6 3.9"/>
<line x1="878.0" y1="452.5" x2="878.0" y2="626.9" stroke="#c4c4c4" stroke-width="2.2" stroke-dasharray="2.6 3.9"/>
<line x1="964.3" y1="452.5" x2="964.3" y2="626.9" stroke="#c4c4c4" stroke-width="2.2" stroke-dasharray="2.6 3.9"/>
<line x1="1050.5" y1="452.5" x2="1050.5" y2="626.9" stroke="#c4c4c4" stroke-width="2.2" stroke-dasharray="2.6 3.9"/>
<line x1="1136.8" y1="452.5" x2="1136.8" y2="626.9" stroke="#c4c4c4" stroke-width="2.2" stroke-dasharray="2.6 3.9"/>
<clipPath id="cb"><rect x="791.8" y="452.5" width="431.2" height="174.4"/></clipPath>
<g clip-path="url(#cb)">
<polyline points="791.8,600.5 794.5,599.1 797.2,598.9 799.9,599.9 802.6,599.8 805.4,600.6 808.1,601.0 810.8,600.9 813.5,601.0 816.2,599.3 818.9,600.2 821.6,600.0 824.3,600.7 827.1,601.1 829.8,601.2 832.5,600.9 835.2,599.6 837.9,600.1 840.6,600.6 843.3,600.4 846.0,601.4 848.8,599.1 851.5,601.2 854.2,600.1 856.9,598.3 859.6,602.4 862.3,601.4 865.0,600.8 867.7,600.1 870.4,601.7 873.2,600.4 875.9,600.2 878.6,600.0 881.3,602.2 884.0,599.6 886.7,598.8 889.4,599.8 892.1,600.8 894.9,600.7 897.6,602.5 900.3,599.7 903.0,598.8 905.7,599.6 908.4,602.8 911.1,600.5 913.8,600.2 916.5,600.6 919.3,599.3 922.0,601.7 924.7,600.8 927.4,599.6 930.1,599.3 932.8,600.0 935.5,599.2 938.2,599.7 941.0,601.1 943.7,599.0 946.4,600.6 949.1,601.6 951.8,599.8 954.5,598.6 957.2,599.3 959.9,599.3 962.7,600.0 965.4,602.3 968.1,599.6 970.8,600.0 973.5,602.5 976.2,600.7 978.9,600.9 981.6,599.2 984.3,600.1 987.1,599.9 989.8,599.9 992.5,601.3 995.2,601.9 997.9,600.1 1000.6,600.4 1003.3,600.2 1006.0,600.3 1008.8,600.6 1011.5,599.7 1014.2,600.0 1016.9,600.7 1019.6,601.8 1022.3,602.4 1025.0,601.4 1027.7,600.3 1030.5,599.4 1033.2,600.5 1035.9,599.6 1038.6,599.1 1041.3,598.1 1044.0,599.9 1046.7,598.9 1049.4,600.0 1052.1,601.2 1054.9,602.1 1057.6,599.9 1060.3,599.4 1063.0,598.0 1065.7,600.7 1068.4,599.7 1071.1,600.3 1073.8,602.2 1076.6,599.8 1079.3,600.4 1082.0,601.3 1084.7,598.7 1087.4,600.7 1090.1,599.7 1092.8,600.4 1095.5,600.8 1098.3,600.3 1101.0,599.5 1103.7,600.8 1106.4,601.6 1109.1,598.6 1111.8,599.8 1114.5,601.0 1117.2,600.2 1119.9,601.5 1122.7,600.2 1125.4,599.4 1128.1,601.8 1130.8,599.4 1133.5,599.5 1136.2,600.4 1138.9,600.1 1141.6,600.4 1144.4,600.5 1147.1,601.8 1149.8,598.7 1152.5,600.7 1155.2,600.0 1157.9,600.4 1160.6,599.8 1163.3,599.7 1166.0,601.0 1168.8,599.8 1171.5,600.4 1174.2,600.9 1176.9,599.0 1179.6,599.1 1182.3,600.9 1185.0,600.4 1187.7,601.0 1190.5,601.2 1193.2,601.0 1195.9,599.7 1198.6,601.4 1201.3,601.4 1204.0,599.9 1206.7,600.8 1209.4,599.1 1212.2,601.0 1214.9,600.6 1217.6,600.8 1220.3,602.2 1223.0,599.9" fill="none" stroke="#1f77b4" stroke-width="2.8" stroke-linejoin="round"/>
<polyline points="791.8,599.8 794.5,598.8 797.2,601.7 799.9,598.7 802.6,600.2 805.4,600.9 808.1,600.9 810.8,601.1 813.5,600.4 816.2,599.4 818.9,599.6 821.6,599.6 824.3,601.6 827.1,601.5 829.8,598.8 832.5,599.3 835.2,598.3 837.9,599.1 840.6,601.1 843.3,599.0 846.0,599.6 848.8,600.0 851.5,600.9 854.2,600.2 856.9,600.3 859.6,599.4 862.3,600.1 865.0,598.8 867.7,600.8 870.4,599.7 873.2,599.7 875.9,600.9 878.6,601.2 881.3,599.3 884.0,599.7 886.7,600.3 889.4,599.8 892.1,600.7 894.9,600.0 897.6,600.7 900.3,600.0 903.0,599.3 905.7,600.5 908.4,599.4 911.1,601.1 913.8,600.4 916.5,601.3 919.3,600.2 922.0,600.1 924.7,600.3 927.4,600.4 930.1,599.0 932.8,598.9 935.5,601.2 938.2,599.1 941.0,601.7 943.7,600.8 946.4,600.3 949.1,600.1 951.8,601.1 954.5,600.8 957.2,600.1 959.9,600.8 962.7,600.7 965.4,599.6 968.1,599.3 970.8,600.2 973.5,600.1 976.2,600.2 978.9,600.6 981.6,600.6 984.3,601.1 987.1,599.6 989.8,600.2 992.5,600.3 995.2,600.0 997.9,599.7 1000.6,598.9 1003.3,600.4 1006.0,600.5 1008.8,600.0 1011.5,600.9 1014.2,599.0 1016.9,599.4 1019.6,599.6 1022.3,600.3 1025.0,599.5 1027.7,599.2 1030.5,599.7 1033.2,600.4 1035.9,601.6 1038.6,599.3 1041.3,600.5 1044.0,600.9 1046.7,599.4 1049.4,599.9 1052.1,601.4 1054.9,600.2 1057.6,600.4 1060.3,599.3 1063.0,601.8 1065.7,600.5 1068.4,600.3 1071.1,598.9 1073.8,601.1 1076.6,602.7 1079.3,601.4 1082.0,599.9 1084.7,599.5 1087.4,598.6 1090.1,599.8 1092.8,600.9 1095.5,599.4 1098.3,600.2 1101.0,600.3 1103.7,600.1 1106.4,599.0 1109.1,600.9 1111.8,601.1 1114.5,600.2 1117.2,600.2 1119.9,600.9 1122.7,600.9 1125.4,599.8 1128.1,599.0 1130.8,599.5 1133.5,599.6 1136.2,599.1 1138.9,601.9 1141.6,601.5 1144.4,600.8 1147.1,601.2 1149.8,601.0 1152.5,600.1 1155.2,601.3 1157.9,600.5 1160.6,601.9 1163.3,601.0 1166.0,599.0 1168.8,600.6 1171.5,599.9 1174.2,599.5 1176.9,600.6 1179.6,599.7 1182.3,600.0 1185.0,599.6 1187.7,600.7 1190.5,601.4 1193.2,601.0 1195.9,600.6 1198.6,599.7 1201.3,600.3 1204.0,600.5 1206.7,600.3 1209.4,599.2 1212.2,600.7 1214.9,598.8 1217.6,601.2 1220.3,600.7 1223.0,599.4" fill="none" stroke="#ff7f0e" stroke-width="2.8" stroke-linejoin="round"/>
<polyline points="791.8,601.4 794.5,601.2 797.2,601.3 799.9,600.7 802.6,598.9 805.4,601.6 808.1,599.3 810.8,599.1 813.5,600.5 816.2,600.8 818.9,599.7 821.6,599.1 824.3,598.3 827.1,599.4 829.8,598.8 832.5,600.6 835.2,600.9 837.9,601.7 840.6,601.2 843.3,600.5 846.0,600.0 848.8,601.3 851.5,599.4 854.2,600.2 856.9,600.7 859.6,600.8 862.3,598.4 865.0,600.0 867.7,600.9 870.4,601.0 873.2,598.6 875.9,600.7 878.6,599.1 881.3,598.9 884.0,602.2 886.7,599.0 889.4,600.3 892.1,601.1 894.9,600.6 897.6,599.7 900.3,599.8 903.0,599.8 905.7,600.8 908.4,599.0 911.1,598.8 913.8,598.6 916.5,599.3 919.3,598.5 922.0,598.3 924.7,599.5 927.4,599.4 930.1,599.7 932.8,599.7 935.5,599.4 938.2,601.6 941.0,600.4 943.7,599.7 946.4,602.0 949.1,601.4 951.8,598.8 954.5,601.1 957.2,600.6 959.9,599.8 962.7,600.6 965.4,600.9 968.1,600.6 970.8,600.5 973.5,600.7 976.2,600.0 978.9,598.8 981.6,599.8 984.3,598.7 987.1,599.5 989.8,599.4 992.5,599.6 995.2,600.4 997.9,599.8 1000.6,599.9 1003.3,601.1 1006.0,599.5 1008.8,599.7 1011.5,599.8 1014.2,600.6 1016.9,602.5 1019.6,598.9 1022.3,600.2 1025.0,602.1 1027.7,599.6 1030.5,600.8 1033.2,599.6 1035.9,600.2 1038.6,599.2 1041.3,600.0 1044.0,599.9 1046.7,600.0 1049.4,599.1 1052.1,601.3 1054.9,599.1 1057.6,599.6 1060.3,600.6 1063.0,600.2 1065.7,600.5 1068.4,600.1 1071.1,599.3 1073.8,600.8 1076.6,599.5 1079.3,599.3 1082.0,599.6 1084.7,598.8 1087.4,600.2 1090.1,599.6 1092.8,598.0 1095.5,600.1 1098.3,600.3 1101.0,600.2 1103.7,599.6 1106.4,600.7 1109.1,600.4 1111.8,601.7 1114.5,601.1 1117.2,601.0 1119.9,601.2 1122.7,600.5 1125.4,599.6 1128.1,600.5 1130.8,601.3 1133.5,599.9 1136.2,600.0 1138.9,601.4 1141.6,600.0 1144.4,601.1 1147.1,600.7 1149.8,600.8 1152.5,599.4 1155.2,600.9 1157.9,600.4 1160.6,600.0 1163.3,599.3 1166.0,599.1 1168.8,601.0 1171.5,599.1 1174.2,599.9 1176.9,599.1 1179.6,599.2 1182.3,600.6 1185.0,600.1 1187.7,600.4 1190.5,599.8 1193.2,598.7 1195.9,600.1 1198.6,600.7 1201.3,597.9 1204.0,601.0 1206.7,600.2 1209.4,600.2 1212.2,601.3 1214.9,599.5 1217.6,599.2 1220.3,600.2 1223.0,600.1" fill="none" stroke="#2ca02c" stroke-width="2.8" stroke-linejoin="round"/>
<polyline points="791.8,599.7 794.5,600.0 797.2,600.2 799.9,602.2 802.6,599.8 805.4,602.0 808.1,599.4 810.8,599.6 813.5,599.4 816.2,599.4 818.9,599.9 821.6,600.6 824.3,600.4 827.1,598.8 829.8,600.7 832.5,600.4 835.2,600.8 837.9,600.6 840.6,600.4 843.3,599.9 846.0,600.4 848.8,600.5 851.5,600.7 854.2,600.1 856.9,601.3 859.6,600.1 862.3,599.0 865.0,600.8 867.7,600.2 870.4,597.7 873.2,601.0 875.9,601.6 878.6,600.5 881.3,598.6 884.0,598.4 886.7,601.2 889.4,599.7 892.1,600.2 894.9,600.7 897.6,601.9 900.3,599.3 903.0,600.9 905.7,599.9 908.4,600.1 911.1,598.5 913.8,599.1 916.5,601.2 919.3,600.4 922.0,599.3 924.7,601.3 927.4,600.5 930.1,600.0 932.8,601.6 935.5,601.2 938.2,601.6 941.0,599.9 943.7,600.6 946.4,599.3 949.1,600.1 951.8,599.7 954.5,600.2 957.2,599.5 959.9,600.2 962.7,601.0 965.4,599.1 968.1,599.3 970.8,598.2 973.5,600.3 976.2,600.7 978.9,601.4 981.6,603.5 984.3,601.3 987.1,599.7 989.8,600.9 992.5,602.4 995.2,599.6 997.9,600.7 1000.6,600.5 1003.3,600.5 1006.0,600.3 1008.8,599.7 1011.5,601.7 1014.2,600.4 1016.9,600.6 1019.6,599.2 1022.3,601.1 1025.0,598.7 1027.7,599.6 1030.5,598.7 1033.2,600.8 1035.9,599.5 1038.6,599.8 1041.3,601.5 1044.0,600.4 1046.7,600.6 1049.4,601.0 1052.1,600.8 1054.9,601.4 1057.6,600.6 1060.3,599.9 1063.0,600.8 1065.7,601.5 1068.4,599.2 1071.1,600.5 1073.8,600.1 1076.6,600.4 1079.3,600.6 1082.0,599.6 1084.7,600.6 1087.4,600.1 1090.1,601.4 1092.8,601.6 1095.5,600.5 1098.3,598.5 1101.0,600.0 1103.7,598.5 1106.4,599.8 1109.1,599.8 1111.8,600.7 1114.5,600.2 1117.2,598.6 1119.9,599.1 1122.7,600.7 1125.4,600.6 1128.1,599.0 1130.8,600.6 1133.5,599.4 1136.2,601.0 1138.9,599.6 1141.6,598.8 1144.4,599.4 1147.1,599.9 1149.8,600.0 1152.5,600.2 1155.2,600.2 1157.9,599.1 1160.6,599.2 1163.3,599.8 1166.0,601.3 1168.8,600.6 1171.5,599.9 1174.2,600.1 1176.9,601.3 1179.6,599.6 1182.3,597.9 1185.0,601.2 1187.7,600.1 1190.5,598.7 1193.2,600.5 1195.9,600.5 1198.6,600.0 1201.3,599.7 1204.0,600.5 1206.7,599.3 1209.4,601.8 1212.2,599.6 1214.9,599.8 1217.6,600.3 1220.3,599.8 1223.0,600.1" fill="none" stroke="#d62728" stroke-width="2.8" stroke-linejoin="round"/>
<polyline points="791.8,599.5 794.5,600.0 797.2,600.8 799.9,600.3 802.6,600.3 805.4,600.3 808.1,599.8 810.8,600.8 813.5,599.7 816.2,600.7 818.9,600.3 821.6,599.7 824.3,599.8 827.1,600.5 829.8,599.2 832.5,600.0 835.2,600.7 837.9,600.1 840.6,600.6 843.3,599.9 846.0,600.9 848.8,599.9 851.5,601.1 854.2,599.6 856.9,600.0 859.6,599.4 862.3,600.5 865.0,601.3 867.7,600.9 870.4,600.3 873.2,599.1 875.9,599.9 878.6,599.5 881.3,600.6 884.0,600.4 886.7,600.3 889.4,599.5 892.1,600.5 894.9,600.3 897.6,599.3 900.3,600.6 903.0,600.2 905.7,600.9 908.4,600.3 911.1,599.7 913.8,599.5 916.5,600.9 919.3,601.5 922.0,599.9 924.7,599.3 927.4,600.5 930.1,600.0 932.8,600.1 935.5,601.3 938.2,601.6 941.0,600.2 943.7,599.9 946.4,601.0 949.1,600.3 951.8,600.6 954.5,600.7 957.2,600.8 959.9,599.5 962.7,600.2 965.4,600.3 968.1,600.4 970.8,600.0 973.5,600.4 976.2,600.1 978.9,600.6 981.6,600.0 984.3,600.3 987.1,599.9 989.8,601.0 992.5,600.6 995.2,600.8 997.9,599.4 1000.6,600.5 1003.3,600.2 1006.0,601.1 1008.8,600.7 1011.5,601.1 1014.2,600.3 1016.9,600.7 1019.6,599.4 1022.3,600.7 1025.0,599.7 1027.7,600.3 1030.5,599.9 1033.2,600.7 1035.9,600.2 1038.6,600.3 1041.3,600.6 1044.0,599.9 1046.7,601.0 1049.4,600.3 1052.1,600.3 1054.9,600.2 1057.6,600.8 1060.3,599.9 1063.0,600.7 1065.7,600.5 1068.4,600.7 1071.1,600.4 1073.8,600.0 1076.6,598.7 1079.3,601.6 1082.0,599.7 1084.7,599.7 1087.4,599.4 1090.1,600.1 1092.8,600.0 1095.5,599.3 1098.3,600.1 1101.0,600.1 1103.7,600.2 1106.4,600.0 1109.1,599.3 1111.8,600.7 1114.5,599.6 1117.2,601.4 1119.9,599.9 1122.7,600.4 1125.4,599.5 1128.1,599.8 1130.8,599.8 1133.5,599.9 1136.2,600.0 1138.9,601.3 1141.6,600.0 1144.4,600.9 1147.1,599.6 1149.8,600.5 1152.5,600.2 1155.2,600.5 1157.9,600.2 1160.6,600.1 1163.3,599.9 1166.0,600.9 1168.8,599.4 1171.5,600.8 1174.2,600.3 1176.9,601.6 1179.6,600.1 1182.3,599.7 1185.0,599.6 1187.7,599.9 1190.5,600.0 1193.2,600.6 1195.9,600.4 1198.6,600.3 1201.3,600.1 1204.0,600.8 1206.7,600.4 1209.4,599.9 1212.2,600.1 1214.9,600.3 1217.6,600.6 1220.3,600.1 1223.0,600.1" fill="none" stroke="#9467bd" stroke-width="3.4" stroke-linejoin="round"/>
</g>
<rect x="791.8" y="452.5" width="431.2" height="174.4" fill="none" stroke="#000" stroke-width="2.7"/>
<line x1="791.8" y1="626.9" x2="791.8" y2="632.7" stroke="#000" stroke-width="2.3"/>
<text x="791.8" y="665.0" font-size="29" text-anchor="middle" >0</text>
<line x1="878.0" y1="626.9" x2="878.0" y2="632.7" stroke="#000" stroke-width="2.3"/>
<text x="878.0" y="665.0" font-size="29" text-anchor="middle" >1</text>
<line x1="964.3" y1="626.9" x2="964.3" y2="632.7" stroke="#000" stroke-width="2.3"/>
<text x="964.3" y="665.0" font-size="29" text-anchor="middle" >2</text>
<line x1="1050.5" y1="626.9" x2="1050.5" y2="632.7" stroke="#000" stroke-width="2.3"/>
<text x="1050.5" y="665.0" font-size="29" text-anchor="middle" >3</text>
<line x1="1136.8" y1="626.9" x2="1136.8" y2="632.7" stroke="#000" stroke-width="2.3"/>
<text x="1136.8" y="665.0" font-size="29" text-anchor="middle" >4</text>
<line x1="1223.0" y1="626.9" x2="1223.0" y2="632.7" stroke="#000" stroke-width="2.3"/>
<text x="1223.0" y="665.0" font-size="29" text-anchor="middle" >5</text>
<line x1="786.0" y1="597.8" x2="791.8" y2="597.8" stroke="#000" stroke-width="2.3"/>
<text x="782.8" y="608.2" font-size="29" text-anchor="end" >25</text>
<line x1="786.0" y1="481.6" x2="791.8" y2="481.6" stroke="#000" stroke-width="2.3"/>
<text x="782.8" y="492.0" font-size="29" text-anchor="end" >45</text>
<text x="1007.4" y="701.9" font-size="29" text-anchor="middle" >Time (μs)</text>
<text x="0" y="0" font-size="29" text-anchor="middle" transform="translate(729.2,539.7) rotate(-90)">Height (nm)</text>
<line x1="111.8" y1="1370.8" x2="543.0" y2="1370.8" stroke="#c4c4c4" stroke-width="2.2" stroke-dasharray="2.6 3.9"/>
<line x1="111.8" y1="1312.7" x2="543.0" y2="1312.7" stroke="#c4c4c4" stroke-width="2.2" stroke-dasharray="2.6 3.9"/>
<line x1="111.8" y1="1254.6" x2="543.0" y2="1254.6" stroke="#c4c4c4" stroke-width="2.2" stroke-dasharray="2.6 3.9"/>
<line x1="198.0" y1="1225.5" x2="198.0" y2="1399.9" stroke="#c4c4c4" stroke-width="2.2" stroke-dasharray="2.6 3.9"/>
<line x1="284.3" y1="1225.5" x2="284.3" y2="1399.9" stroke="#c4c4c4" stroke-width="2.2" stroke-dasharray="2.6 3.9"/>
<line x1="370.5" y1="1225.5" x2="370.5" y2="1399.9" stroke="#c4c4c4" stroke-width="2.2" stroke-dasharray="2.6 3.9"/>
<line x1="456.8" y1="1225.5" x2="456.8" y2="1399.9" stroke="#c4c4c4" stroke-width="2.2" stroke-dasharray="2.6 3.9"/>
<clipPath id="cd"><rect x="111.8" y="1225.5" width="431.2" height="174.4"/></clipPath>
<g clip-path="url(#cd)">
<polyline points="111.8,1370.6 114.5,1371.2 117.2,1372.4 119.9,1371.9 122.6,1371.9 125.4,1370.1 128.1,1372.4 130.8,1370.7 133.5,1371.6 136.2,1371.0 138.9,1371.7 141.6,1371.4 144.3,1371.4 147.1,1371.6 149.8,1371.3 152.5,1371.5 155.2,1370.8 157.9,1370.4 160.6,1371.8 163.3,1371.8 166.0,1371.4 168.8,1372.9 171.5,1371.5 174.2,1372.1 176.9,1372.3 179.6,1372.8 182.3,1371.9 185.0,1371.3 187.7,1372.1 190.4,1372.3 193.2,1372.1 195.9,1371.8 198.6,1372.5 201.3,1372.1 204.0,1372.5 206.7,1371.8 209.4,1370.5 212.1,1371.6 214.9,1370.3 217.6,1372.2 220.3,1372.5 223.0,1371.9 225.7,1371.6 228.4,1371.4 231.1,1371.4 233.8,1371.9 236.5,1371.1 239.3,1371.8 242.0,1371.2 244.7,1371.4 247.4,1371.5 250.1,1371.6 252.8,1372.2 255.5,1371.3 258.2,1371.3 261.0,1372.0 263.7,1369.9 266.4,1371.6 269.1,1372.6 271.8,1372.8 274.5,1372.3 277.2,1373.2 279.9,1371.4 282.7,1372.4 285.4,1371.4 288.1,1372.7 290.8,1371.5 293.5,1371.0 296.2,1371.3 298.9,1372.9 301.6,1371.7 304.3,1372.0 307.1,1370.9 309.8,1371.4 312.5,1370.4 315.2,1371.6 317.9,1372.4 320.6,1372.3 323.3,1370.8 326.0,1372.4 328.8,1371.6 331.5,1370.2 334.2,1371.7 336.9,1372.3 339.6,1371.1 342.3,1371.4 345.0,1372.5 347.7,1371.1 350.5,1371.5 353.2,1371.2 355.9,1372.1 358.6,1370.9 361.3,1372.0 364.0,1370.8 366.7,1372.4 369.4,1371.5 372.1,1371.4 374.9,1372.6 377.6,1373.0 380.3,1372.2 383.0,1372.2 385.7,1372.1 388.4,1371.8 391.1,1370.1 393.8,1371.5 396.6,1370.5 399.3,1371.4 402.0,1370.9 404.7,1371.3 407.4,1371.6 410.1,1371.3 412.8,1370.1 415.5,1372.8 418.3,1371.5 421.0,1371.2 423.7,1372.5 426.4,1371.3 429.1,1371.5 431.8,1370.8 434.5,1371.2 437.2,1371.7 439.9,1371.5 442.7,1373.2 445.4,1370.3 448.1,1371.5 450.8,1372.7 453.5,1372.4 456.2,1371.8 458.9,1372.1 461.6,1371.6 464.4,1372.2 467.1,1371.3 469.8,1372.0 472.5,1371.8 475.2,1372.7 477.9,1372.2 480.6,1371.8 483.3,1372.4 486.0,1371.9 488.8,1372.0 491.5,1372.8 494.2,1371.0 496.9,1372.7 499.6,1370.6 502.3,1371.0 505.0,1371.4 507.7,1371.8 510.5,1372.3 513.2,1370.6 515.9,1370.3 518.6,1372.2 521.3,1370.5 524.0,1370.9 526.7,1371.1 529.4,1371.4 532.2,1371.9 534.9,1371.8 537.6,1371.5 540.3,1370.8 543.0,1372.6" fill="none" stroke="#1f77b4" stroke-width="2.8" stroke-linejoin="round"/>
<polyline points="111.8,1372.0 114.5,1371.5 117.2,1371.3 119.9,1372.4 122.6,1371.2 125.4,1371.5 128.1,1371.2 130.8,1371.5 133.5,1370.9 136.2,1372.4 138.9,1370.5 141.6,1370.9 144.3,1372.1 147.1,1371.2 149.8,1371.4 152.5,1372.9 155.2,1371.3 157.9,1372.1 160.6,1371.9 163.3,1372.1 166.0,1372.0 168.8,1371.7 171.5,1371.6 174.2,1372.8 176.9,1371.9 179.6,1372.6 182.3,1372.6 185.0,1371.9 187.7,1371.1 190.4,1371.3 193.2,1372.1 195.9,1372.2 198.6,1372.3 201.3,1371.6 204.0,1371.1 206.7,1371.7 209.4,1371.2 212.1,1371.5 214.9,1370.7 217.6,1373.1 220.3,1373.2 223.0,1371.8 225.7,1371.3 228.4,1372.0 231.1,1371.4 233.8,1372.5 236.5,1372.6 239.3,1372.2 242.0,1371.1 244.7,1371.2 247.4,1372.2 250.1,1371.6 252.8,1372.2 255.5,1371.7 258.2,1372.5 261.0,1371.7 263.7,1372.2 266.4,1371.7 269.1,1372.2 271.8,1372.3 274.5,1371.6 277.2,1371.9 279.9,1371.7 282.7,1372.0 285.4,1371.3 288.1,1372.3 290.8,1371.2 293.5,1370.8 296.2,1371.9 298.9,1370.5 301.6,1370.3 304.3,1371.4 307.1,1372.7 309.8,1372.8 312.5,1371.8 315.2,1370.5 317.9,1371.3 320.6,1371.2 323.3,1371.9 326.0,1372.2 328.8,1371.4 331.5,1372.5 334.2,1371.8 336.9,1371.3 339.6,1371.7 342.3,1371.3 345.0,1372.0 347.7,1371.3 350.5,1371.4 353.2,1372.9 355.9,1372.4 358.6,1372.2 361.3,1371.2 364.0,1371.5 366.7,1371.5 369.4,1371.6 372.1,1371.3 374.9,1371.0 377.6,1372.1 380.3,1372.8 383.0,1371.2 385.7,1371.9 388.4,1371.7 391.1,1371.8 393.8,1372.5 396.6,1372.8 399.3,1371.0 402.0,1370.9 404.7,1371.1 407.4,1371.6 410.1,1371.5 412.8,1372.0 415.5,1371.7 418.3,1372.0 421.0,1372.1 423.7,1371.6 426.4,1370.5 429.1,1373.0 431.8,1371.3 434.5,1371.2 437.2,1372.6 439.9,1371.5 442.7,1371.6 445.4,1372.0 448.1,1372.1 450.8,1372.7 453.5,1370.5 456.2,1370.1 458.9,1370.6 461.6,1371.9 464.4,1371.5 467.1,1371.4 469.8,1372.3 472.5,1371.9 475.2,1371.3 477.9,1372.0 480.6,1372.9 483.3,1372.6 486.0,1371.5 488.8,1371.9 491.5,1371.9 494.2,1370.8 496.9,1371.6 499.6,1372.2 502.3,1371.8 505.0,1370.2 507.7,1372.5 510.5,1370.5 513.2,1370.7 515.9,1371.8 518.6,1371.9 521.3,1370.7 524.0,1371.5 526.7,1372.1 529.4,1370.4 532.2,1371.6 534.9,1371.5 537.6,1371.7 540.3,1371.9 543.0,1371.6" fill="none" stroke="#ff7f0e" stroke-width="2.8" stroke-linejoin="round"/>
<polyline points="111.8,1371.1 114.5,1371.2 117.2,1371.7 119.9,1371.3 122.6,1372.2 125.4,1373.0 128.1,1370.5 130.8,1371.4 133.5,1373.1 136.2,1372.4 138.9,1372.1 141.6,1371.5 144.3,1370.8 147.1,1371.5 149.8,1372.0 152.5,1371.4 155.2,1371.9 157.9,1371.6 160.6,1372.2 163.3,1372.5 166.0,1370.8 168.8,1371.9 171.5,1371.6 174.2,1372.1 176.9,1372.1 179.6,1372.0 182.3,1371.2 185.0,1370.9 187.7,1371.3 190.4,1372.1 193.2,1369.8 195.9,1371.1 198.6,1371.0 201.3,1372.1 204.0,1371.9 206.7,1371.3 209.4,1372.9 212.1,1372.2 214.9,1371.4 217.6,1370.0 220.3,1371.4 223.0,1372.4 225.7,1372.6 228.4,1371.0 231.1,1372.3 233.8,1371.9 236.5,1370.3 239.3,1371.7 242.0,1372.0 244.7,1372.3 247.4,1370.8 250.1,1370.8 252.8,1372.2 255.5,1372.7 258.2,1371.8 261.0,1370.7 263.7,1371.4 266.4,1372.6 269.1,1371.5 271.8,1371.2 274.5,1371.7 277.2,1371.6 279.9,1371.7 282.7,1372.1 285.4,1372.2 288.1,1372.7 290.8,1372.5 293.5,1372.9 296.2,1371.4 298.9,1371.4 301.6,1371.7 304.3,1371.4 307.1,1371.7 309.8,1372.2 312.5,1371.6 315.2,1371.9 317.9,1371.9 320.6,1373.2 323.3,1372.1 326.0,1371.4 328.8,1372.0 331.5,1372.3 334.2,1372.9 336.9,1372.2 339.6,1370.7 342.3,1372.2 345.0,1371.0 347.7,1372.1 350.5,1371.0 353.2,1372.1 355.9,1371.5 358.6,1371.3 361.3,1371.3 364.0,1372.4 366.7,1372.0 369.4,1372.3 372.1,1371.8 374.9,1371.9 377.6,1371.9 380.3,1371.3 383.0,1372.4 385.7,1372.3 388.4,1372.1 391.1,1371.9 393.8,1372.3 396.6,1371.4 399.3,1372.5 402.0,1370.5 404.7,1371.7 407.4,1370.9 410.1,1372.5 412.8,1371.9 415.5,1371.6 418.3,1370.5 421.0,1371.6 423.7,1370.7 426.4,1372.2 429.1,1370.6 431.8,1372.2 434.5,1372.9 437.2,1373.1 439.9,1371.5 442.7,1371.8 445.4,1371.5 448.1,1371.7 450.8,1371.3 453.5,1370.6 456.2,1371.8 458.9,1371.5 461.6,1372.0 464.4,1372.9 467.1,1371.9 469.8,1370.6 472.5,1372.2 475.2,1370.1 477.9,1371.3 480.6,1371.3 483.3,1371.0 486.0,1371.7 488.8,1371.6 491.5,1370.7 494.2,1372.2 496.9,1371.8 499.6,1372.5 502.3,1371.6 505.0,1369.5 507.7,1370.8 510.5,1372.3 513.2,1372.9 515.9,1371.3 518.6,1371.2 521.3,1372.1 524.0,1370.7 526.7,1371.4 529.4,1371.1 532.2,1371.1 534.9,1370.9 537.6,1372.0 540.3,1372.1 543.0,1370.7" fill="none" stroke="#2ca02c" stroke-width="2.8" stroke-linejoin="round"/>
<polyline points="111.8,1371.4 114.5,1372.1 117.2,1371.3 119.9,1371.7 122.6,1372.8 125.4,1371.0 128.1,1371.8 130.8,1371.3 133.5,1370.4 136.2,1371.5 138.9,1372.5 141.6,1372.2 144.3,1371.0 147.1,1372.7 149.8,1371.5 152.5,1371.4 155.2,1372.5 157.9,1371.6 160.6,1371.3 163.3,1372.2 166.0,1372.0 168.8,1371.3 171.5,1372.6 174.2,1372.3 176.9,1371.0 179.6,1371.6 182.3,1372.7 185.0,1371.7 187.7,1370.4 190.4,1372.8 193.2,1371.1 195.9,1371.2 198.6,1371.8 201.3,1371.3 204.0,1372.2 206.7,1370.6 209.4,1370.5 212.1,1372.3 214.9,1371.9 217.6,1371.6 220.3,1372.1 223.0,1371.5 225.7,1372.4 228.4,1371.3 231.1,1371.9 233.8,1371.7 236.5,1371.4 239.3,1371.1 242.0,1372.4 244.7,1371.2 247.4,1371.1 250.1,1371.8 252.8,1370.6 255.5,1372.2 258.2,1372.1 261.0,1371.4 263.7,1372.2 266.4,1370.7 269.1,1371.6 271.8,1370.5 274.5,1372.4 277.2,1372.4 279.9,1370.8 282.7,1372.4 285.4,1371.0 288.1,1372.3 290.8,1371.5 293.5,1370.9 296.2,1371.7 298.9,1372.5 301.6,1372.0 304.3,1370.9 307.1,1371.6 309.8,1371.2 312.5,1371.6 315.2,1371.5 317.9,1371.8 320.6,1372.4 323.3,1371.3 326.0,1371.6 328.8,1373.1 331.5,1371.7 334.2,1371.0 336.9,1370.4 339.6,1372.6 342.3,1371.6 345.0,1371.3 347.7,1371.2 350.5,1372.2 353.2,1371.3 355.9,1372.0 358.6,1371.7 361.3,1372.1 364.0,1371.5 366.7,1372.0 369.4,1371.5 372.1,1371.8 374.9,1371.1 377.6,1370.5 380.3,1371.8 383.0,1372.2 385.7,1371.9 388.4,1372.1 391.1,1372.9 393.8,1371.7 396.6,1372.0 399.3,1371.1 402.0,1371.8 404.7,1371.1 407.4,1371.2 410.1,1372.1 412.8,1371.9 415.5,1372.1 418.3,1372.0 421.0,1371.1 423.7,1372.1 426.4,1372.0 429.1,1372.3 431.8,1370.7 434.5,1372.0 437.2,1371.8 439.9,1372.3 442.7,1371.5 445.4,1372.3 448.1,1372.2 450.8,1373.1 453.5,1372.9 456.2,1371.6 458.9,1371.2 461.6,1372.9 464.4,1371.6 467.1,1371.6 469.8,1369.6 472.5,1372.4 475.2,1372.2 477.9,1372.5 480.6,1371.1 483.3,1371.0 486.0,1371.9 488.8,1370.7 491.5,1370.3 494.2,1372.0 496.9,1371.3 499.6,1371.9 502.3,1372.2 505.0,1372.0 507.7,1371.9 510.5,1372.6 513.2,1371.8 515.9,1371.2 518.6,1372.4 521.3,1372.1 524.0,1372.3 526.7,1371.4 529.4,1371.8 532.2,1371.1 534.9,1371.9 537.6,1372.7 540.3,1371.3 543.0,1371.9" fill="none" stroke="#d62728" stroke-width="2.8" stroke-linejoin="round"/>
<polyline points="111.8,1371.7 114.5,1372.2 117.2,1370.6 119.9,1371.5 122.6,1371.4 125.4,1371.8 128.1,1371.7 130.8,1371.6 133.5,1371.6 136.2,1372.0 138.9,1371.4 141.6,1371.5 144.3,1371.8 147.1,1372.0 149.8,1372.1 152.5,1372.1 155.2,1371.6 157.9,1371.9 160.6,1371.3 163.3,1372.1 166.0,1371.4 168.8,1371.7 171.5,1371.9 174.2,1371.3 176.9,1371.6 179.6,1371.4 182.3,1371.2 185.0,1371.5 187.7,1371.9 190.4,1371.6 193.2,1371.3 195.9,1372.0 198.6,1371.5 201.3,1371.8 204.0,1371.9 206.7,1371.9 209.4,1372.2 212.1,1371.8 214.9,1371.5 217.6,1372.5 220.3,1371.9 223.0,1371.6 225.7,1371.9 228.4,1371.4 231.1,1372.0 233.8,1371.4 236.5,1371.4 239.3,1371.5 242.0,1372.0 244.7,1371.0 247.4,1371.8 250.1,1371.5 252.8,1372.1 255.5,1372.0 258.2,1371.6 261.0,1372.3 263.7,1371.5 266.4,1371.0 269.1,1372.3 271.8,1371.8 274.5,1371.4 277.2,1371.9 279.9,1371.4 282.7,1371.6 285.4,1372.4 288.1,1372.8 290.8,1371.8 293.5,1371.3 296.2,1372.1 298.9,1371.2 301.6,1372.4 304.3,1371.5 307.1,1371.8 309.8,1371.8 312.5,1371.9 315.2,1372.0 317.9,1371.8 320.6,1372.2 323.3,1371.3 326.0,1372.2 328.8,1371.5 331.5,1372.2 334.2,1372.3 336.9,1371.5 339.6,1371.6 342.3,1371.7 345.0,1371.0 347.7,1372.0 350.5,1371.3 353.2,1371.6 355.9,1371.0 358.6,1372.2 361.3,1371.9 364.0,1371.9 366.7,1372.1 369.4,1372.3 372.1,1371.8 374.9,1371.8 377.6,1372.1 380.3,1371.8 383.0,1372.4 385.7,1371.1 388.4,1371.5 391.1,1371.6 393.8,1371.4 396.6,1371.9 399.3,1372.0 402.0,1371.9 404.7,1372.0 407.4,1371.9 410.1,1371.3 412.8,1371.9 415.5,1371.1 418.3,1371.5 421.0,1370.9 423.7,1371.9 426.4,1372.0 429.1,1372.0 431.8,1372.6 434.5,1371.4 437.2,1371.5 439.9,1371.7 442.7,1371.7 445.4,1371.3 448.1,1372.1 450.8,1371.6 453.5,1371.6 456.2,1371.4 458.9,1371.1 461.6,1371.5 464.4,1372.0 467.1,1371.5 469.8,1371.8 472.5,1371.7 475.2,1372.1 477.9,1371.8 480.6,1371.7 483.3,1371.8 486.0,1371.5 488.8,1370.9 491.5,1371.7 494.2,1372.1 496.9,1371.8 499.6,1371.2 502.3,1371.7 505.0,1371.3 507.7,1371.6 510.5,1371.3 513.2,1371.9 515.9,1371.2 518.6,1371.6 521.3,1371.4 524.0,1371.1 526.7,1372.6 529.4,1371.1 532.2,1370.7 534.9,1371.8 537.6,1371.9 540.3,1371.8 543.0,1371.4" fill="none" stroke="#9467bd" stroke-width="3.4" stroke-linejoin="round"/>
</g>
<rect x="111.8" y="1225.5" width="431.2" height="174.4" fill="none" stroke="#000" stroke-width="2.7"/>
<line x1="111.8" y1="1399.9" x2="111.8" y2="1405.7" stroke="#000" stroke-width="2.3"/>
<text x="111.8" y="1438.0" font-size="29" text-anchor="middle" >0</text>
<line x1="198.0" y1="1399.9" x2="198.0" y2="1405.7" stroke="#000" stroke-width="2.3"/>
<text x="198.0" y="1438.0" font-size="29" text-anchor="middle" >1</text>
<line x1="284.3" y1="1399.9" x2="284.3" y2="1405.7" stroke="#000" stroke-width="2.3"/>
<text x="284.3" y="1438.0" font-size="29" text-anchor="middle" >2</text>
<line x1="370.5" y1="1399.9" x2="370.5" y2="1405.7" stroke="#000" stroke-width="2.3"/>
<text x="370.5" y="1438.0" font-size="29" text-anchor="middle" >3</text>
<line x1="456.8" y1="1399.9" x2="456.8" y2="1405.7" stroke="#000" stroke-width="2.3"/>
<text x="456.8" y="1438.0" font-size="29" text-anchor="middle" >4</text>
<line x1="543.0" y1="1399.9" x2="543.0" y2="1405.7" stroke="#000" stroke-width="2.3"/>
<text x="543.0" y="1438.0" font-size="29" text-anchor="middle" >5</text>
<line x1="106.0" y1="1370.8" x2="111.8" y2="1370.8" stroke="#000" stroke-width="2.3"/>
<text x="102.8" y="1381.2" font-size="29" text-anchor="end" >25</text>
<line x1="106.0" y1="1254.6" x2="111.8" y2="1254.6" stroke="#000" stroke-width="2.3"/>
<text x="102.8" y="1265.0" font-size="29" text-anchor="end" >45</text>
<text x="327.4" y="1474.9" font-size="29" text-anchor="middle" >Time (μs)</text>
<text x="0" y="0" font-size="29" text-anchor="middle" transform="translate(49.2,1312.7) rotate(-90)">Height (nm)</text>
<line x1="791.8" y1="1370.8" x2="1223.0" y2="1370.8" stroke="#c4c4c4" stroke-width="2.2" stroke-dasharray="2.6 3.9"/>
<line x1="791.8" y1="1312.7" x2="1223.0" y2="1312.7" stroke="#c4c4c4" stroke-width="2.2" stroke-dasharray="2.6 3.9"/>
<line x1="791.8" y1="1254.6" x2="1223.0" y2="1254.6" stroke="#c4c4c4" stroke-width="2.2" stroke-dasharray="2.6 3.9"/>
<line x1="878.0" y1="1225.5" x2="878.0" y2="1399.9" stroke="#c4c4c4" stroke-width="2.2" stroke-dasharray="2.6 3.9"/>
<line x1="964.3" y1="1225.5" x2="964.3" y2="1399.9" stroke="#c4c4c4" stroke-width="2.2" stroke-dasharray="2.6 3.9"/>
<line x1="1050.5" y1="1225.5" x2="1050.5" y2="1399.9" stroke="#c4c4c4" stroke-width="2.2" stroke-dasharray="2.6 3.9"/>
<line x1="1136.8" y1="1225.5" x2="1136.8" y2="1399.9" stroke="#c4c4c4" stroke-width="2.2" stroke-dasharray="2.6 3.9"/>
<clipPath id="ce"><rect x="791.8" y="1225.5" width="431.2" height="174.4"/></clipPath>
<g clip-path="url(#ce)">
<polyline points="791.8,1371.2 793.5,1371.4 795.1,1371.3 796.8,1371.1 798.5,1371.4 800.1,1371.5 801.8,1371.5 803.5,1371.3 805.1,1371.5 806.8,1371.6 808.4,1371.4 810.1,1371.2 811.8,1371.1 813.4,1370.9 815.1,1371.2 816.8,1371.4 818.4,1371.2 820.1,1371.3 821.8,1371.2 823.4,1371.3 825.1,1371.2 826.8,1370.9 828.4,1371.5 830.1,1371.4 831.8,1371.5 833.4,1371.2 835.1,1371.2 836.8,1371.3 838.4,1371.0 840.1,1370.8 841.7,1371.2 843.4,1371.1 845.1,1371.1 846.7,1371.2 848.4,1371.3 850.1,1371.1 851.7,1371.0 853.4,1370.9 855.1,1371.2 856.7,1371.2 858.4,1371.1 860.1,1370.8 861.7,1371.2 863.4,1371.0 865.1,1371.1 866.7,1371.1 868.4,1371.5 870.0,1371.2 871.7,1371.0 873.4,1370.8 875.0,1370.8 876.7,1371.3 878.4,1371.2 880.0,1371.6 881.7,1371.6 883.4,1371.3 885.0,1371.3 886.7,1371.1 888.4,1371.3 890.0,1371.2 891.7,1371.1 893.4,1371.2 895.0,1371.1 896.7,1371.0 898.4,1370.8 900.0,1371.2 901.7,1371.3 903.3,1371.2 905.0,1371.1 906.7,1370.6 908.3,1370.7 910.0,1371.0 911.7,1371.1 913.3,1370.7 915.0,1370.9 916.7,1371.0 918.3,1370.7 920.0,1371.1 921.7,1370.7 923.3,1370.7 925.0,1371.2 926.7,1371.0 928.3,1371.2 930.0,1370.8 931.6,1370.9 933.3,1370.7 935.0,1370.7 936.6,1370.9 938.3,1370.8 940.0,1370.9 941.6,1370.6 943.3,1370.9 945.0,1370.7 946.6,1370.5 948.3,1370.6 950.0,1370.8 951.6,1370.8 953.3,1370.7 955.0,1370.5 956.6,1370.1 958.3,1369.7 960.0,1370.5 961.6,1370.6 963.3,1370.6 964.9,1371.0 966.6,1370.9 968.3,1370.3 969.9,1370.6 971.6,1370.8 973.3,1370.3 974.9,1370.3 976.6,1370.8 978.3,1370.0 979.9,1370.2 981.6,1370.3 983.3,1370.2 984.9,1370.2 986.6,1370.3 988.3,1370.5 989.9,1370.5 991.6,1370.8 993.2,1370.7 994.9,1371.0 996.6,1370.7 998.2,1370.6 999.9,1370.5 1001.6,1370.5 1003.2,1370.4 1004.9,1370.4 1006.6,1369.9 1008.2,1369.9 1009.9,1369.4 1011.6,1370.0 1013.2,1370.6 1014.9,1370.5 1016.6,1370.4 1018.2,1369.8 1019.9,1369.4 1021.6,1369.5 1023.2,1370.0 1024.9,1370.0 1026.5,1370.3 1028.2,1370.4 1029.9,1370.4 1031.5,1370.5 1033.2,1370.9 1034.9,1371.4 1036.5,1371.4 1038.2,1371.4 1039.9,1371.1 1041.5,1370.6 1043.2,1370.3 1044.9,1369.7 1046.5,1370.1 1048.2,1370.0 1049.9,1369.8 1051.5,1369.6 1053.2,1369.7 1054.8,1369.7 1056.5,1370.1 1058.2,1370.6 1059.8,1370.5 1061.5,1370.5 1063.2,1370.4 1064.8,1370.3 1066.5,1369.8 1068.2,1370.0 1069.8,1370.1 1071.5,1370.2 1073.2,1370.5 1074.8,1370.9 1076.5,1371.5 1078.2,1371.6 1079.8,1371.2 1081.5,1370.0 1083.2,1369.8 1084.8,1369.3 1086.5,1368.9 1088.1,1369.1 1089.8,1369.6 1091.5,1369.4 1093.1,1370.2 1094.8,1370.4 1096.5,1370.2 1098.1,1370.2 1099.8,1369.8 1101.5,1370.2 1103.1,1370.5 1104.8,1370.1 1106.5,1369.9 1108.1,1370.0 1109.8,1369.3 1111.5,1368.6 1113.1,1369.4 1114.8,1369.3 1116.4,1370.0 1118.1,1370.6 1119.8,1370.4 1121.4,1370.0 1123.1,1370.2 1124.8,1370.1 1126.4,1370.1 1128.1,1370.3 1129.8,1369.8 1131.4,1369.5 1133.1,1369.4 1134.8,1368.9 1136.4,1369.8 1138.1,1369.6 1139.8,1370.2 1141.4,1370.3 1143.1,1370.0 1144.8,1370.2 1146.4,1369.7 1148.1,1370.0 1149.7,1369.8 1151.4,1369.3 1153.1,1369.6 1154.7,1370.2 1156.4,1370.0 1158.1,1370.2 1159.7,1370.0 1161.4,1369.6 1163.1,1369.8 1164.7,1368.8 1166.4,1369.1 1168.1,1368.6 1169.7,1368.6 1171.4,1368.7 1173.1,1369.0 1174.7,1369.1 1176.4,1368.7 1178.0,1368.4 1179.7,1367.8 1181.4,1366.7 1183.0,1364.5 1184.7,1361.5 1186.4,1358.3 1188.0,1354.8 1189.7,1350.6 1191.4,1346.8 1193.0,1340.5 1194.7,1335.2 1196.4,1331.1 1198.0,1328.4 1199.7,1320.7 1201.4,1316.0 1203.0,1313.9 1204.7,1312.0 1206.4,1308.1 1208.0,1306.7 1209.7,1305.4 1211.3,1303.2 1213.0,1299.7 1214.7,1299.8 1216.3,1299.7 1218.0,1297.5 1219.7,1303.2 1221.3,1298.8 1223.0,1300.5" fill="none" stroke="#1f77b4" stroke-width="2.8" stroke-linejoin="round"/>
<polyline points="791.8,1371.4 794.5,1370.7 797.2,1370.9 799.9,1370.9 802.6,1370.6 805.4,1370.4 808.1,1370.7 810.8,1370.7 813.5,1371.6 816.2,1370.4 818.9,1371.1 821.6,1370.1 824.3,1369.9 827.1,1372.0 829.8,1369.9 832.5,1371.3 835.2,1371.6 837.9,1371.0 840.6,1370.6 843.3,1370.1 846.0,1368.9 848.8,1371.9 851.5,1371.1 854.2,1370.6 856.9,1371.2 859.6,1372.0 862.3,1371.0 865.0,1370.9 867.7,1370.6 870.4,1371.1 873.2,1369.9 875.9,1370.7 878.6,1370.3 881.3,1371.6 884.0,1372.6 886.7,1370.3 889.4,1370.6 892.1,1370.3 894.9,1370.7 897.6,1371.0 900.3,1371.0 903.0,1370.1 905.7,1371.3 908.4,1371.0 911.1,1370.8 913.8,1370.6 916.5,1369.3 919.3,1371.2 922.0,1369.1 924.7,1370.7 927.4,1370.8 930.1,1371.1 932.8,1370.2 935.5,1369.6 938.2,1371.4 941.0,1370.9 943.7,1371.0 946.4,1371.2 949.1,1371.5 951.8,1370.5 954.5,1370.3 957.2,1370.6 959.9,1371.2 962.7,1370.6 965.4,1370.1 968.1,1370.5 970.8,1370.1 973.5,1370.9 976.2,1370.2 978.9,1370.3 981.6,1371.2 984.3,1370.9 987.1,1371.3 989.8,1370.7 992.5,1370.9 995.2,1370.8 997.9,1370.8 1000.6,1371.2 1003.3,1370.5 1006.0,1371.6 1008.8,1370.8 1011.5,1372.4 1014.2,1371.5 1016.9,1370.3 1019.6,1371.0 1022.3,1370.6 1025.0,1371.5 1027.7,1371.9 1030.5,1371.6 1033.2,1370.8 1035.9,1371.1 1038.6,1369.6 1041.3,1369.5 1044.0,1370.2 1046.7,1371.4 1049.4,1370.7 1052.1,1371.1 1054.9,1371.2 1057.6,1371.1 1060.3,1370.8 1063.0,1371.0 1065.7,1370.9 1068.4,1372.1 1071.1,1371.2 1073.8,1370.4 1076.6,1370.5 1079.3,1371.7 1082.0,1370.7 1084.7,1370.8 1087.4,1371.7 1090.1,1370.8 1092.8,1370.5 1095.5,1370.9 1098.3,1369.6 1101.0,1371.3 1103.7,1370.7 1106.4,1370.5 1109.1,1370.5 1111.8,1371.2 1114.5,1370.5 1117.2,1370.6 1119.9,1369.2 1122.7,1369.9 1125.4,1370.9 1128.1,1369.9 1130.8,1371.5 1133.5,1370.7 1136.2,1369.7 1138.9,1372.1 1141.6,1370.1 1144.4,1370.5 1147.1,1371.3 1149.8,1370.2 1152.5,1371.7 1155.2,1370.2 1157.9,1370.8 1160.6,1370.1 1163.3,1371.6 1166.0,1370.4 1168.8,1370.3 1171.5,1371.5 1174.2,1369.7 1176.9,1371.6 1179.6,1369.3 1182.3,1369.4 1185.0,1371.4 1187.7,1369.7 1190.5,1370.6 1193.2,1370.6 1195.9,1370.6 1198.6,1372.0 1201.3,1370.8 1204.0,1371.0 1206.7,1370.4 1209.4,1372.4 1212.2,1370.8 1214.9,1370.1 1217.6,1371.3 1220.3,1370.4 1223.0,1370.4" fill="none" stroke="#ff7f0e" stroke-width="2.8" stroke-linejoin="round"/>
<polyline points="791.8,1371.4 793.5,1371.2 795.1,1370.9 796.8,1371.3 798.5,1371.4 800.1,1371.4 801.8,1371.2 803.5,1371.0 805.1,1371.0 806.8,1371.3 808.4,1371.3 810.1,1371.3 811.8,1371.2 813.4,1371.2 815.1,1371.4 816.8,1371.3 818.4,1371.2 820.1,1371.4 821.8,1371.3 823.4,1371.4 825.1,1371.0 826.8,1371.0 828.4,1371.2 830.1,1371.1 831.8,1371.1 833.4,1371.3 835.1,1371.2 836.8,1371.3 838.4,1370.9 840.1,1371.4 841.7,1371.7 843.4,1371.2 845.1,1371.3 846.7,1371.2 848.4,1370.8 850.1,1371.1 851.7,1371.2 853.4,1371.2 855.1,1371.4 856.7,1371.0 858.4,1371.2 860.1,1371.1 861.7,1370.9 863.4,1370.9 865.1,1371.3 866.7,1371.1 868.4,1371.1 870.0,1371.0 871.7,1371.1 873.4,1371.3 875.0,1370.9 876.7,1370.9 878.4,1371.0 880.0,1371.2 881.7,1370.9 883.4,1371.2 885.0,1370.7 886.7,1370.7 888.4,1370.7 890.0,1370.6 891.7,1370.6 893.4,1371.0 895.0,1370.7 896.7,1370.7 898.4,1371.1 900.0,1370.6 901.7,1370.5 903.3,1370.7 905.0,1370.7 906.7,1370.9 908.3,1370.9 910.0,1370.9 911.7,1370.9 913.3,1370.5 915.0,1370.7 916.7,1370.9 918.3,1370.9 920.0,1370.6 921.7,1370.5 923.3,1370.5 925.0,1370.5 926.7,1371.0 928.3,1370.9 930.0,1370.8 931.6,1370.8 933.3,1370.8 935.0,1370.9 936.6,1371.0 938.3,1370.7 940.0,1370.8 941.6,1370.9 943.3,1370.5 945.0,1370.5 946.6,1370.5 948.3,1370.5 950.0,1370.5 951.6,1370.2 953.3,1370.5 955.0,1370.5 956.6,1370.1 958.3,1370.3 960.0,1371.2 961.6,1370.6 963.3,1370.5 964.9,1370.6 966.6,1370.0 968.3,1369.7 969.9,1369.7 971.6,1370.0 973.3,1369.6 974.9,1370.0 976.6,1370.0 978.3,1370.2 979.9,1370.3 981.6,1370.4 983.3,1370.4 984.9,1370.7 986.6,1371.2 988.3,1371.5 989.9,1371.1 991.6,1370.5 993.2,1369.9 994.9,1369.6 996.6,1369.7 998.2,1370.1 999.9,1370.9 1001.6,1370.7 1003.2,1370.4 1004.9,1370.1 1006.6,1369.5 1008.2,1370.0 1009.9,1369.7 1011.6,1370.0 1013.2,1369.7 1014.9,1369.6 1016.6,1369.7 1018.2,1370.3 1019.9,1370.6 1021.6,1371.1 1023.2,1371.0 1024.9,1370.3 1026.5,1370.7 1028.2,1370.1 1029.9,1370.5 1031.5,1371.2 1033.2,1370.1 1034.9,1370.6 1036.5,1370.8 1038.2,1370.0 1039.9,1370.4 1041.5,1370.5 1043.2,1370.8 1044.9,1370.5 1046.5,1370.4 1048.2,1370.0 1049.9,1370.4 1051.5,1370.7 1053.2,1370.9 1054.8,1371.4 1056.5,1371.2 1058.2,1370.8 1059.8,1370.5 1061.5,1370.5 1063.2,1370.0 1064.8,1370.4 1066.5,1370.8 1068.2,1371.0 1069.8,1370.7 1071.5,1370.5 1073.2,1369.5 1074.8,1368.7 1076.5,1368.9 1078.2,1368.6 1079.8,1369.8 1081.5,1369.9 1083.2,1369.8 1084.8,1369.8 1086.5,1370.1 1088.1,1370.3 1089.8,1370.2 1091.5,1370.4 1093.1,1369.5 1094.8,1369.0 1096.5,1369.2 1098.1,1369.5 1099.8,1370.2 1101.5,1369.9 1103.1,1369.6 1104.8,1369.6 1106.5,1369.4 1108.1,1369.5 1109.8,1369.5 1111.5,1369.2 1113.1,1368.5 1114.8,1368.5 1116.4,1368.6 1118.1,1369.6 1119.8,1370.1 1121.4,1369.8 1123.1,1370.0 1124.8,1369.7 1126.4,1369.3 1128.1,1370.1 1129.8,1368.7 1131.4,1367.7 1133.1,1363.3 1134.8,1359.0 1136.4,1353.6 1138.1,1343.9 1139.8,1333.4 1141.4,1322.1 1143.1,1313.0 1144.8,1308.3 1146.4,1300.5 1148.1,1294.3 1149.7,1287.4 1151.4,1284.2 1153.1,1281.3 1154.7,1283.1 1156.4,1280.8 1158.1,1278.0 1159.7,1277.3 1161.4,1276.2 1163.1,1277.6 1164.7,1278.3 1166.4,1279.0 1168.1,1276.8 1169.7,1276.4 1171.4,1275.2 1173.1,1274.6 1174.7,1274.1 1176.4,1273.6 1178.0,1276.2 1179.7,1274.2 1181.4,1274.3 1183.0,1274.6 1184.7,1272.4 1186.4,1274.5 1188.0,1275.3 1189.7,1274.8 1191.4,1275.4 1193.0,1273.4 1194.7,1272.6 1196.4,1275.4 1198.0,1273.2 1199.7,1272.8 1201.4,1269.0 1203.0,1270.4 1204.7,1270.5 1206.4,1268.9 1208.0,1269.4 1209.7,1268.1 1211.3,1268.3 1213.0,1266.0 1214.7,1267.4 1216.3,1263.4 1218.0,1264.8 1219.7,1266.1 1221.3,1261.7 1223.0,1261.9" fill="none" stroke="#2ca02c" stroke-width="2.8" stroke-linejoin="round"/>
<polyline points="791.8,1371.6 793.5,1371.4 795.1,1371.3 796.8,1371.2 798.5,1371.3 800.1,1371.1 801.8,1371.2 803.5,1371.1 805.1,1371.1 806.8,1371.4 808.4,1371.1 810.1,1371.7 811.8,1371.4 813.4,1371.4 815.1,1371.2 816.8,1371.3 818.4,1371.7 820.1,1371.2 821.8,1371.6 823.4,1371.2 825.1,1371.1 826.8,1371.4 828.4,1371.1 830.1,1371.2 831.8,1371.1 833.4,1371.0 835.1,1370.8 836.8,1370.9 838.4,1371.1 840.1,1371.3 841.7,1371.3 843.4,1371.1 845.1,1371.2 846.7,1371.2 848.4,1371.2 850.1,1371.2 851.7,1371.2 853.4,1371.0 855.1,1371.2 856.7,1371.3 858.4,1371.2 860.1,1371.2 861.7,1371.0 863.4,1370.7 865.1,1370.6 866.7,1370.9 868.4,1370.9 870.0,1370.8 871.7,1370.6 873.4,1370.7 875.0,1370.5 876.7,1370.5 878.4,1370.8 880.0,1370.8 881.7,1370.8 883.4,1370.9 885.0,1370.6 886.7,1370.7 888.4,1370.5 890.0,1370.5 891.7,1370.7 893.4,1370.7 895.0,1370.8 896.7,1370.7 898.4,1370.7 900.0,1370.5 901.7,1370.7 903.3,1370.7 905.0,1370.8 906.7,1371.0 908.3,1370.8 910.0,1370.9 911.7,1370.9 913.3,1370.9 915.0,1370.6 916.7,1370.5 918.3,1370.6 920.0,1370.4 921.7,1370.3 923.3,1370.4 925.0,1370.4 926.7,1370.4 928.3,1370.4 930.0,1370.5 931.6,1370.6 933.3,1370.6 935.0,1370.4 936.6,1370.6 938.3,1370.4 940.0,1370.4 941.6,1370.3 943.3,1370.0 945.0,1370.0 946.6,1370.0 948.3,1370.8 950.0,1370.6 951.6,1370.5 953.3,1370.8 955.0,1370.4 956.6,1370.4 958.3,1370.1 960.0,1370.5 961.6,1370.1 963.3,1370.5 964.9,1370.6 966.6,1369.8 968.3,1369.4 969.9,1369.9 971.6,1369.9 973.3,1369.9 974.9,1369.7 976.6,1369.6 978.3,1369.7 979.9,1370.0 981.6,1370.5 983.3,1370.0 984.9,1369.8 986.6,1369.5 988.3,1369.6 989.9,1369.4 991.6,1369.6 993.2,1369.9 994.9,1370.0 996.6,1370.2 998.2,1370.4 999.9,1369.9 1001.6,1369.9 1003.2,1369.5 1004.9,1370.2 1006.6,1370.4 1008.2,1369.8 1009.9,1370.0 1011.6,1369.7 1013.2,1369.9 1014.9,1370.3 1016.6,1370.0 1018.2,1370.5 1019.9,1370.0 1021.6,1369.9 1023.2,1370.0 1024.9,1369.5 1026.5,1368.9 1028.2,1369.0 1029.9,1368.7 1031.5,1369.0 1033.2,1369.7 1034.9,1369.6 1036.5,1369.5 1038.2,1369.2 1039.9,1369.5 1041.5,1369.7 1043.2,1370.2 1044.9,1370.1 1046.5,1369.9 1048.2,1369.3 1049.9,1368.9 1051.5,1368.5 1053.2,1369.0 1054.8,1368.5 1056.5,1368.9 1058.2,1368.3 1059.8,1367.5 1061.5,1366.7 1063.2,1365.9 1064.8,1367.1 1066.5,1367.5 1068.2,1368.0 1069.8,1368.0 1071.5,1367.6 1073.2,1365.3 1074.8,1362.6 1076.5,1358.5 1078.2,1354.3 1079.8,1348.6 1081.5,1344.4 1083.2,1338.3 1084.8,1330.0 1086.5,1321.6 1088.1,1310.7 1089.8,1306.3 1091.5,1296.8 1093.1,1292.4 1094.8,1285.5 1096.5,1280.9 1098.1,1278.0 1099.8,1278.4 1101.5,1274.5 1103.1,1274.1 1104.8,1272.5 1106.5,1271.8 1108.1,1269.0 1109.8,1270.4 1111.5,1268.3 1113.1,1269.4 1114.8,1266.3 1116.4,1270.3 1118.1,1271.0 1119.8,1264.0 1121.4,1265.1 1123.1,1263.6 1124.8,1261.7 1126.4,1261.3 1128.1,1261.1 1129.8,1261.2 1131.4,1257.7 1133.1,1257.7 1134.8,1256.5 1136.4,1254.1 1138.1,1253.8 1139.8,1255.3 1141.4,1256.3 1143.1,1253.7 1144.8,1254.1 1146.4,1251.0 1148.1,1250.1 1149.7,1248.5 1151.4,1244.8 1153.1,1245.0 1154.7,1245.9 1156.4,1245.6 1158.1,1244.2 1159.7,1239.6 1161.4,1241.0 1163.1,1238.9 1164.7,1239.3 1166.4,1238.6 1168.1,1238.2 1169.7,1237.0 1171.4,1234.2 1173.1,1235.0 1174.7,1237.7 1176.4,1239.2 1178.0,1243.5 1179.7,1242.2 1181.4,1242.7 1183.0,1241.9 1184.7,1240.5 1186.4,1238.6 1188.0,1242.5 1189.7,1238.9 1191.4,1242.6 1193.0,1240.2 1194.7,1242.2 1196.4,1240.8 1198.0,1234.5 1199.7,1235.9 1201.4,1235.1 1203.0,1230.3 1204.7,1234.1 1206.4,1231.9 1208.0,1231.1 1209.7,1232.0 1211.3,1230.4 1213.0,1230.7 1214.7,1230.0 1216.3,1230.4 1218.0,1229.5 1219.7,1232.8 1221.3,1232.5 1223.0,1233.6" fill="none" stroke="#d62728" stroke-width="2.8" stroke-linejoin="round"/>
<polyline points="791.8,1370.2 794.5,1372.9 797.2,1371.0 799.9,1369.8 802.6,1371.7 805.4,1370.8 808.1,1369.8 810.8,1371.6 813.5,1370.3 816.2,1369.5 818.9,1370.5 821.6,1369.7 824.3,1370.9 827.1,1371.1 829.8,1370.5 832.5,1371.8 835.2,1370.1 837.9,1370.8 840.6,1371.7 843.3,1370.0 846.0,1370.4 848.8,1371.1 851.5,1371.3 854.2,1370.6 856.9,1371.9 859.6,1371.6 862.3,1369.9 865.0,1370.6 867.7,1369.9 870.4,1370.7 873.2,1369.6 875.9,1371.5 878.6,1369.9 881.3,1370.1 884.0,1369.9 886.7,1369.6 889.4,1371.0 892.1,1370.7 894.9,1369.3 897.6,1369.8 900.3,1370.0 903.0,1371.7 905.7,1369.4 908.4,1370.4 911.1,1370.1 913.8,1371.9 916.5,1370.5 919.3,1372.4 922.0,1370.2 924.7,1370.7 927.4,1370.6 930.1,1371.4 932.8,1370.5 935.5,1370.8 938.2,1371.9 941.0,1370.6 943.7,1370.9 946.4,1371.8 949.1,1370.0 951.8,1371.7 954.5,1371.3 957.2,1372.1 959.9,1372.0 962.7,1370.5 965.4,1369.1 968.1,1371.2 970.8,1370.9 973.5,1371.0 976.2,1370.0 978.9,1369.0 981.6,1370.5 984.3,1370.9 987.1,1370.0 989.8,1370.2 992.5,1370.9 995.2,1370.7 997.9,1371.4 1000.6,1370.7 1003.3,1371.7 1006.0,1369.7 1008.8,1369.7 1011.5,1372.3 1014.2,1372.3 1016.9,1371.4 1019.6,1370.9 1022.3,1370.0 1025.0,1371.1 1027.7,1370.1 1030.5,1372.0 1033.2,1371.0 1035.9,1371.0 1038.6,1371.6 1041.3,1371.5 1044.0,1370.4 1046.7,1370.6 1049.4,1370.2 1052.1,1372.3 1054.9,1369.7 1057.6,1369.5 1060.3,1369.3 1063.0,1370.9 1065.7,1371.3 1068.4,1370.4 1071.1,1370.7 1073.8,1370.1 1076.6,1372.6 1079.3,1371.1 1082.0,1370.7 1084.7,1371.6 1087.4,1371.6 1090.1,1369.5 1092.8,1370.4 1095.5,1371.6 1098.3,1369.6 1101.0,1371.1 1103.7,1371.5 1106.4,1371.4 1109.1,1371.3 1111.8,1370.4 1114.5,1370.9 1117.2,1370.7 1119.9,1371.2 1122.7,1370.4 1125.4,1371.4 1128.1,1370.6 1130.8,1371.7 1133.5,1370.1 1136.2,1370.3 1138.9,1371.0 1141.6,1370.7 1144.4,1371.3 1147.1,1371.1 1149.8,1370.7 1152.5,1370.1 1155.2,1372.1 1157.9,1371.1 1160.6,1370.3 1163.3,1371.7 1166.0,1371.8 1168.8,1370.1 1171.5,1371.2 1174.2,1369.4 1176.9,1370.2 1179.6,1370.7 1182.3,1370.9 1185.0,1370.9 1187.7,1371.0 1190.5,1371.1 1193.2,1371.8 1195.9,1371.2 1198.6,1370.6 1201.3,1371.6 1204.0,1371.7 1206.7,1371.4 1209.4,1369.6 1212.2,1369.8 1214.9,1370.4 1217.6,1371.2 1220.3,1370.1 1223.0,1372.1" fill="none" stroke="#9467bd" stroke-width="2.8" stroke-linejoin="round"/>
</g>
<rect x="791.8" y="1225.5" width="431.2" height="174.4" fill="none" stroke="#000" stroke-width="2.7"/>
<line x1="791.8" y1="1399.9" x2="791.8" y2="1405.7" stroke="#000" stroke-width="2.3"/>
<text x="791.8" y="1438.0" font-size="29" text-anchor="middle" >0</text>
<line x1="878.0" y1="1399.9" x2="878.0" y2="1405.7" stroke="#000" stroke-width="2.3"/>
<text x="878.0" y="1438.0" font-size="29" text-anchor="middle" >1</text>
<line x1="964.3" y1="1399.9" x2="964.3" y2="1405.7" stroke="#000" stroke-width="2.3"/>
<text x="964.3" y="1438.0" font-size="29" text-anchor="middle" >2</text>
<line x1="1050.5" y1="1399.9" x2="1050.5" y2="1405.7" stroke="#000" stroke-width="2.3"/>
<text x="1050.5" y="1438.0" font-size="29" text-anchor="middle" >3</text>
<line x1="1136.8" y1="1399.9" x2="1136.8" y2="1405.7" stroke="#000" stroke-width="2.3"/>
<text x="1136.8" y="1438.0" font-size="29" text-anchor="middle" >4</text>
<line x1="1223.0" y1="1399.9" x2="1223.0" y2="1405.7" stroke="#000" stroke-width="2.3"/>
<text x="1223.0" y="1438.0" font-size="29" text-anchor="middle" >5</text>
<line x1="786.0" y1="1370.8" x2="791.8" y2="1370.8" stroke="#000" stroke-width="2.3"/>
<text x="782.8" y="1381.2" font-size="29" text-anchor="end" >25</text>
<line x1="786.0" y1="1254.6" x2="791.8" y2="1254.6" stroke="#000" stroke-width="2.3"/>
<text x="782.8" y="1265.0" font-size="29" text-anchor="end" >45</text>
<text x="1007.4" y="1474.9" font-size="29" text-anchor="middle" >Time (μs)</text>
<text x="0" y="0" font-size="29" text-anchor="middle" transform="translate(729.2,1312.7) rotate(-90)">Height (nm)</text>
<line x1="111.8" y1="2143.8" x2="543.0" y2="2143.8" stroke="#c4c4c4" stroke-width="2.2" stroke-dasharray="2.6 3.9"/>
<line x1="111.8" y1="2085.7" x2="543.0" y2="2085.7" stroke="#c4c4c4" stroke-width="2.2" stroke-dasharray="2.6 3.9"/>
<line x1="111.8" y1="2027.6" x2="543.0" y2="2027.6" stroke="#c4c4c4" stroke-width="2.2" stroke-dasharray="2.6 3.9"/>
<line x1="198.0" y1="1998.5" x2="198.0" y2="2172.9" stroke="#c4c4c4" stroke-width="2.2" stroke-dasharray="2.6 3.9"/>
<line x1="284.3" y1="1998.5" x2="284.3" y2="2172.9" stroke="#c4c4c4" stroke-width="2.2" stroke-dasharray="2.6 3.9"/>
<line x1="370.5" y1="1998.5" x2="370.5" y2="2172.9" stroke="#c4c4c4" stroke-width="2.2" stroke-dasharray="2.6 3.9"/>
<line x1="456.8" y1="1998.5" x2="456.8" y2="2172.9" stroke="#c4c4c4" stroke-width="2.2" stroke-dasharray="2.6 3.9"/>
<clipPath id="cf"><rect x="111.8" y="1998.5" width="431.2" height="174.4"/></clipPath>
<g clip-path="url(#cf)">
<polyline points="111.8,2147.2 114.5,2147.2 117.2,2147.0 119.9,2145.9 122.6,2147.2 125.4,2147.2 128.1,2146.7 130.8,2145.5 133.5,2147.1 136.2,2146.9 138.9,2146.3 141.6,2146.3 144.3,2146.2 147.1,2146.8 149.8,2147.1 152.5,2147.4 155.2,2146.2 157.9,2146.6 160.6,2146.2 163.3,2146.4 166.0,2145.5 168.8,2146.0 171.5,2146.3 174.2,2146.4 176.9,2146.8 179.6,2146.7 182.3,2146.7 185.0,2145.4 187.7,2146.6 190.4,2146.9 193.2,2146.3 195.9,2145.9 198.6,2147.2 201.3,2148.1 204.0,2146.6 206.7,2145.7 209.4,2146.9 212.1,2146.0 214.9,2146.2 217.6,2146.0 220.3,2146.9 223.0,2146.7 225.7,2145.3 228.4,2146.0 231.1,2148.2 233.8,2145.6 236.5,2145.0 239.3,2146.6 242.0,2145.9 244.7,2147.0 247.4,2146.4 250.1,2146.4 252.8,2146.9 255.5,2145.8 258.2,2146.1 261.0,2146.0 263.7,2145.8 266.4,2148.0 269.1,2146.2 271.8,2147.6 274.5,2146.7 277.2,2146.5 279.9,2147.2 282.7,2146.4 285.4,2147.4 288.1,2146.8 290.8,2145.8 293.5,2147.1 296.2,2146.3 298.9,2147.5 301.6,2146.3 304.3,2147.7 307.1,2147.2 309.8,2147.6 312.5,2146.3 315.2,2147.2 317.9,2146.8 320.6,2146.3 323.3,2145.8 326.0,2146.1 328.8,2146.6 331.5,2145.4 334.2,2145.8 336.9,2146.6 339.6,2145.1 342.3,2147.1 345.0,2146.5 347.7,2145.5 350.5,2145.9 353.2,2146.1 355.9,2146.7 358.6,2147.1 361.3,2146.7 364.0,2146.1 366.7,2146.8 369.4,2147.4 372.1,2146.7 374.9,2144.9 377.6,2145.7 380.3,2144.9 383.0,2146.3 385.7,2146.5 388.4,2146.7 391.1,2145.1 393.8,2146.9 396.6,2146.4 399.3,2145.9 402.0,2147.3 404.7,2146.7 407.4,2146.9 410.1,2146.5 412.8,2146.0 415.5,2147.0 418.3,2146.1 421.0,2146.9 423.7,2146.4 426.4,2146.5 429.1,2146.9 431.8,2147.4 434.5,2146.6 437.2,2146.6 439.9,2144.9 442.7,2145.5 445.4,2145.5 448.1,2146.7 450.8,2145.4 453.5,2145.6 456.2,2146.2 458.9,2145.3 461.6,2146.1 464.4,2146.0 467.1,2146.4 469.8,2146.9 472.5,2145.5 475.2,2147.2 477.9,2146.1 480.6,2147.2 483.3,2146.3 486.0,2147.1 488.8,2145.8 491.5,2146.8 494.2,2146.7 496.9,2146.9 499.6,2146.9 502.3,2146.9 505.0,2145.5 507.7,2146.3 510.5,2147.1 513.2,2145.5 515.9,2146.2 518.6,2145.8 521.3,2145.7 524.0,2147.2 526.7,2146.8 529.4,2146.3 532.2,2145.2 534.9,2145.7 537.6,2147.5 540.3,2147.5 543.0,2145.4" fill="none" stroke="#1f77b4" stroke-width="2.8" stroke-linejoin="round"/>
<polyline points="111.8,2147.3 114.5,2146.3 117.2,2146.5 119.9,2146.1 122.6,2147.4 125.4,2145.7 128.1,2146.4 130.8,2147.3 133.5,2147.4 136.2,2147.4 138.9,2146.9 141.6,2145.6 144.3,2145.8 147.1,2146.8 149.8,2146.8 152.5,2145.1 155.2,2145.8 157.9,2147.0 160.6,2146.6 163.3,2146.7 166.0,2146.3 168.8,2145.8 171.5,2146.6 174.2,2146.2 176.9,2146.1 179.6,2145.9 182.3,2146.9 185.0,2146.6 187.7,2145.1 190.4,2146.6 193.2,2146.4 195.9,2146.1 198.6,2146.9 201.3,2146.7 204.0,2145.3 206.7,2145.5 209.4,2147.2 212.1,2146.4 214.9,2147.3 217.6,2147.5 220.3,2146.4 223.0,2145.4 225.7,2146.5 228.4,2145.4 231.1,2147.2 233.8,2146.4 236.5,2146.4 239.3,2146.4 242.0,2145.8 244.7,2146.0 247.4,2146.8 250.1,2147.4 252.8,2146.8 255.5,2146.5 258.2,2146.8 261.0,2147.5 263.7,2147.7 266.4,2145.9 269.1,2146.3 271.8,2146.9 274.5,2146.1 277.2,2146.1 279.9,2146.6 282.7,2146.7 285.4,2145.6 288.1,2145.9 290.8,2145.5 293.5,2145.7 296.2,2146.3 298.9,2146.8 301.6,2146.7 304.3,2146.9 307.1,2146.4 309.8,2146.3 312.5,2145.6 315.2,2145.5 317.9,2146.5 320.6,2146.2 323.3,2147.3 326.0,2146.9 328.8,2147.2 331.5,2146.4 334.2,2146.8 336.9,2147.0 339.6,2146.5 342.3,2147.8 345.0,2146.5 347.7,2146.1 350.5,2145.6 353.2,2147.3 355.9,2146.8 358.6,2147.9 361.3,2145.5 364.0,2146.6 366.7,2146.3 369.4,2147.5 372.1,2146.6 374.9,2146.9 377.6,2147.3 380.3,2147.3 383.0,2147.1 385.7,2147.1 388.4,2147.7 391.1,2145.6 393.8,2146.5 396.6,2146.4 399.3,2146.4 402.0,2146.7 404.7,2146.6 407.4,2146.2 410.1,2146.7 412.8,2145.7 415.5,2146.7 418.3,2145.7 421.0,2147.2 423.7,2146.3 426.4,2146.1 429.1,2145.6 431.8,2145.6 434.5,2147.2 437.2,2147.0 439.9,2145.5 442.7,2146.8 445.4,2147.6 448.1,2145.8 450.8,2146.1 453.5,2147.4 456.2,2146.9 458.9,2145.7 461.6,2146.8 464.4,2146.9 467.1,2146.8 469.8,2145.6 472.5,2147.7 475.2,2146.3 477.9,2146.5 480.6,2146.3 483.3,2146.1 486.0,2146.6 488.8,2146.2 491.5,2146.3 494.2,2145.6 496.9,2148.1 499.6,2146.7 502.3,2146.5 505.0,2147.5 507.7,2145.6 510.5,2146.2 513.2,2147.7 515.9,2146.7 518.6,2146.0 521.3,2146.4 524.0,2147.0 526.7,2146.1 529.4,2146.3 532.2,2147.1 534.9,2146.6 537.6,2145.6 540.3,2145.7 543.0,2147.1" fill="none" stroke="#ff7f0e" stroke-width="2.8" stroke-linejoin="round"/>
<polyline points="111.8,2146.2 114.5,2147.2 117.2,2145.9 119.9,2145.8 122.6,2147.8 125.4,2147.4 128.1,2146.4 130.8,2146.7 133.5,2146.5 136.2,2147.0 138.9,2145.8 141.6,2145.9 144.3,2146.4 147.1,2145.7 149.8,2146.1 152.5,2147.0 155.2,2146.2 157.9,2147.1 160.6,2145.8 163.3,2146.5 166.0,2146.6 168.8,2146.9 171.5,2145.6 174.2,2146.6 176.9,2146.7 179.6,2146.7 182.3,2146.1 185.0,2146.2 187.7,2146.2 190.4,2146.1 193.2,2145.0 195.9,2146.7 198.6,2146.8 201.3,2147.0 204.0,2146.0 206.7,2145.7 209.4,2146.5 212.1,2147.0 214.9,2147.0 217.6,2146.0 220.3,2145.9 223.0,2146.1 225.7,2146.9 228.4,2146.3 231.1,2146.4 233.8,2146.3 236.5,2145.8 239.3,2146.3 242.0,2146.0 244.7,2146.4 247.4,2146.2 250.1,2146.0 252.8,2147.5 255.5,2146.7 258.2,2146.8 261.0,2146.9 263.7,2146.6 266.4,2145.4 269.1,2147.1 271.8,2145.8 274.5,2147.6 277.2,2146.7 279.9,2146.3 282.7,2146.0 285.4,2146.0 288.1,2145.9 290.8,2146.7 293.5,2146.8 296.2,2145.9 298.9,2146.6 301.6,2147.3 304.3,2147.2 307.1,2147.1 309.8,2146.1 312.5,2146.3 315.2,2146.0 317.9,2146.7 320.6,2146.3 323.3,2146.0 326.0,2146.7 328.8,2146.1 331.5,2146.9 334.2,2146.7 336.9,2146.7 339.6,2147.3 342.3,2146.1 345.0,2146.8 347.7,2146.4 350.5,2146.1 353.2,2146.1 355.9,2146.0 358.6,2146.5 361.3,2146.7 364.0,2146.5 366.7,2147.6 369.4,2147.5 372.1,2147.4 374.9,2147.1 377.6,2146.2 380.3,2147.1 383.0,2146.7 385.7,2145.5 388.4,2146.7 391.1,2145.9 393.8,2147.1 396.6,2146.6 399.3,2147.1 402.0,2146.7 404.7,2145.9 407.4,2147.7 410.1,2146.1 412.8,2146.3 415.5,2146.9 418.3,2147.5 421.0,2146.4 423.7,2146.8 426.4,2146.3 429.1,2146.4 431.8,2145.3 434.5,2146.6 437.2,2147.2 439.9,2146.3 442.7,2146.3 445.4,2145.5 448.1,2145.9 450.8,2146.2 453.5,2145.4 456.2,2147.3 458.9,2146.9 461.6,2147.1 464.4,2146.7 467.1,2147.4 469.8,2146.0 472.5,2146.6 475.2,2147.5 477.9,2147.2 480.6,2146.2 483.3,2145.9 486.0,2145.1 488.8,2144.4 491.5,2146.2 494.2,2147.1 496.9,2147.9 499.6,2146.3 502.3,2147.0 505.0,2146.7 507.7,2146.9 510.5,2146.5 513.2,2145.7 515.9,2146.3 518.6,2146.6 521.3,2147.2 524.0,2147.6 526.7,2146.8 529.4,2146.5 532.2,2145.2 534.9,2146.4 537.6,2145.8 540.3,2146.8 543.0,2147.3" fill="none" stroke="#2ca02c" stroke-width="2.8" stroke-linejoin="round"/>
<polyline points="111.8,2146.3 114.5,2146.0 117.2,2146.9 119.9,2147.1 122.6,2147.8 125.4,2145.8 128.1,2146.4 130.8,2146.3 133.5,2147.0 136.2,2145.6 138.9,2145.8 141.6,2146.5 144.3,2146.8 147.1,2146.7 149.8,2147.0 152.5,2146.4 155.2,2146.9 157.9,2146.0 160.6,2146.7 163.3,2146.7 166.0,2145.4 168.8,2147.0 171.5,2147.5 174.2,2146.2 176.9,2147.9 179.6,2146.3 182.3,2145.8 185.0,2146.4 187.7,2146.4 190.4,2147.9 193.2,2146.1 195.9,2146.2 198.6,2147.3 201.3,2145.1 204.0,2147.3 206.7,2147.6 209.4,2147.7 212.1,2146.4 214.9,2146.2 217.6,2146.1 220.3,2146.7 223.0,2147.0 225.7,2145.9 228.4,2147.1 231.1,2147.3 233.8,2145.5 236.5,2146.3 239.3,2146.1 242.0,2146.0 244.7,2146.8 247.4,2146.8 250.1,2146.0 252.8,2146.9 255.5,2146.2 258.2,2146.5 261.0,2147.3 263.7,2145.8 266.4,2147.3 269.1,2146.3 271.8,2146.4 274.5,2145.6 277.2,2147.2 279.9,2146.8 282.7,2146.5 285.4,2146.3 288.1,2145.8 290.8,2146.2 293.5,2146.4 296.2,2145.7 298.9,2145.0 301.6,2147.4 304.3,2146.5 307.1,2145.9 309.8,2146.4 312.5,2145.4 315.2,2146.7 317.9,2147.2 320.6,2145.8 323.3,2148.4 326.0,2146.8 328.8,2144.8 331.5,2146.4 334.2,2146.2 336.9,2147.1 339.6,2146.5 342.3,2146.5 345.0,2145.2 347.7,2147.2 350.5,2148.4 353.2,2146.2 355.9,2145.4 358.6,2146.9 361.3,2147.7 364.0,2147.2 366.7,2146.1 369.4,2146.8 372.1,2146.4 374.9,2148.1 377.6,2146.8 380.3,2145.9 383.0,2146.6 385.7,2147.2 388.4,2145.7 391.1,2145.8 393.8,2146.8 396.6,2147.0 399.3,2145.6 402.0,2146.8 404.7,2146.6 407.4,2145.2 410.1,2146.3 412.8,2146.8 415.5,2147.8 418.3,2146.4 421.0,2146.5 423.7,2146.9 426.4,2145.8 429.1,2147.4 431.8,2147.6 434.5,2147.0 437.2,2146.5 439.9,2147.5 442.7,2147.3 445.4,2147.1 448.1,2146.5 450.8,2147.0 453.5,2145.8 456.2,2148.0 458.9,2146.2 461.6,2146.9 464.4,2146.2 467.1,2145.1 469.8,2146.6 472.5,2146.4 475.2,2145.9 477.9,2147.4 480.6,2146.1 483.3,2145.9 486.0,2146.6 488.8,2146.1 491.5,2146.4 494.2,2147.0 496.9,2147.4 499.6,2145.8 502.3,2145.3 505.0,2147.1 507.7,2146.3 510.5,2147.4 513.2,2146.8 515.9,2146.9 518.6,2147.3 521.3,2146.6 524.0,2145.8 526.7,2146.1 529.4,2146.9 532.2,2145.5 534.9,2146.4 537.6,2145.2 540.3,2147.4 543.0,2144.4" fill="none" stroke="#d62728" stroke-width="2.8" stroke-linejoin="round"/>
<polyline points="111.8,2145.8 114.5,2146.4 117.2,2146.3 119.9,2146.0 122.6,2146.1 125.4,2146.2 128.1,2146.6 130.8,2146.9 133.5,2146.3 136.2,2146.7 138.9,2146.1 141.6,2146.4 144.3,2146.8 147.1,2146.3 149.8,2146.2 152.5,2146.4 155.2,2146.8 157.9,2146.3 160.6,2146.3 163.3,2146.1 166.0,2146.1 168.8,2146.8 171.5,2146.7 174.2,2146.2 176.9,2147.2 179.6,2146.1 182.3,2146.8 185.0,2146.6 187.7,2145.8 190.4,2146.5 193.2,2146.6 195.9,2146.3 198.6,2146.5 201.3,2146.7 204.0,2146.3 206.7,2145.6 209.4,2146.1 212.1,2146.3 214.9,2146.3 217.6,2146.1 220.3,2146.2 223.0,2146.8 225.7,2146.2 228.4,2146.4 231.1,2145.7 233.8,2146.5 236.5,2145.9 239.3,2146.9 242.0,2146.3 244.7,2146.7 247.4,2146.8 250.1,2146.1 252.8,2146.9 255.5,2146.5 258.2,2146.7 261.0,2146.3 263.7,2146.3 266.4,2147.4 269.1,2146.2 271.8,2146.7 274.5,2145.6 277.2,2146.1 279.9,2146.0 282.7,2147.4 285.4,2145.7 288.1,2146.4 290.8,2147.0 293.5,2146.3 296.2,2145.9 298.9,2147.1 301.6,2146.0 304.3,2146.6 307.1,2146.7 309.8,2146.6 312.5,2146.8 315.2,2146.4 317.9,2146.3 320.6,2146.0 323.3,2145.9 326.0,2146.6 328.8,2146.0 331.5,2146.9 334.2,2146.2 336.9,2146.9 339.6,2146.7 342.3,2146.2 345.0,2146.7 347.7,2146.2 350.5,2147.0 353.2,2146.7 355.9,2146.2 358.6,2145.8 361.3,2146.9 364.0,2145.8 366.7,2146.3 369.4,2145.5 372.1,2146.6 374.9,2146.7 377.6,2146.3 380.3,2146.9 383.0,2146.4 385.7,2146.5 388.4,2145.9 391.1,2146.3 393.8,2147.0 396.6,2147.0 399.3,2146.8 402.0,2147.3 404.7,2147.3 407.4,2145.6 410.1,2146.8 412.8,2145.9 415.5,2146.7 418.3,2146.6 421.0,2147.1 423.7,2145.9 426.4,2146.6 429.1,2145.8 431.8,2146.7 434.5,2145.9 437.2,2145.8 439.9,2147.1 442.7,2146.3 445.4,2146.9 448.1,2146.9 450.8,2146.4 453.5,2146.1 456.2,2145.9 458.9,2146.6 461.6,2146.0 464.4,2146.2 467.1,2146.5 469.8,2146.8 472.5,2146.4 475.2,2145.0 477.9,2146.8 480.6,2146.5 483.3,2146.8 486.0,2145.9 488.8,2145.7 491.5,2145.9 494.2,2145.6 496.9,2146.5 499.6,2145.8 502.3,2146.8 505.0,2145.8 507.7,2145.8 510.5,2146.7 513.2,2146.1 515.9,2146.9 518.6,2147.0 521.3,2147.0 524.0,2146.9 526.7,2146.9 529.4,2146.5 532.2,2145.7 534.9,2146.6 537.6,2146.8 540.3,2146.2 543.0,2146.6" fill="none" stroke="#9467bd" stroke-width="3.4" stroke-linejoin="round"/>
</g>
<rect x="111.8" y="1998.5" width="431.2" height="174.4" fill="none" stroke="#000" stroke-width="2.7"/>
<line x1="111.8" y1="2172.9" x2="111.8" y2="2178.7" stroke="#000" stroke-width="2.3"/>
<text x="111.8" y="2211.0" font-size="29" text-anchor="middle" >0</text>
<line x1="198.0" y1="2172.9" x2="198.0" y2="2178.7" stroke="#000" stroke-width="2.3"/>
<text x="198.0" y="2211.0" font-size="29" text-anchor="middle" >1</text>
<line x1="284.3" y1="2172.9" x2="284.3" y2="2178.7" stroke="#000" stroke-width="2.3"/>
<text x="284.3" y="2211.0" font-size="29" text-anchor="middle" >2</text>
<line x1="370.5" y1="2172.9" x2="370.5" y2="2178.7" stroke="#000" stroke-width="2.3"/>
<text x="370.5" y="2211.0" font-size="29" text-anchor="middle" >3</text>
<line x1="456.8" y1="2172.9" x2="456.8" y2="2178.7" stroke="#000" stroke-width="2.3"/>
<text x="456.8" y="2211.0" font-size="29" text-anchor="middle" >4</text>
<line x1="543.0" y1="2172.9" x2="543.0" y2="2178.7" stroke="#000" stroke-width="2.3"/>
<text x="543.0" y="2211.0" font-size="29" text-anchor="middle" >5</text>
<line x1="106.0" y1="2143.8" x2="111.8" y2="2143.8" stroke="#000" stroke-width="2.3"/>
<text x="102.8" y="2154.2" font-size="29" text-anchor="end" >25</text>
<line x1="106.0" y1="2027.6" x2="111.8" y2="2027.6" stroke="#000" stroke-width="2.3"/>
<text x="102.8" y="2038.0" font-size="29" text-anchor="end" >45</text>
<text x="327.4" y="2247.9" font-size="29" text-anchor="middle" >Time (μs)</text>
<text x="0" y="0" font-size="29" text-anchor="middle" transform="translate(49.2,2085.7) rotate(-90)">Height (nm)</text>
<line x1="791.8" y1="2143.8" x2="1223.0" y2="2143.8" stroke="#c4c4c4" stroke-width="2.2" stroke-dasharray="2.6 3.9"/>
<line x1="791.8" y1="2085.7" x2="1223.0" y2="2085.7" stroke="#c4c4c4" stroke-width="2.2" stroke-dasharray="2.6 3.9"/>
<line x1="791.8" y1="2027.6" x2="1223.0" y2="2027.6" stroke="#c4c4c4" stroke-width="2.2" stroke-dasharray="2.6 3.9"/>
<line x1="878.0" y1="1998.5" x2="878.0" y2="2172.9" stroke="#c4c4c4" stroke-width="2.2" stroke-dasharray="2.6 3.9"/>
<line x1="964.3" y1="1998.5" x2="964.3" y2="2172.9" stroke="#c4c4c4" stroke-width="2.2" stroke-dasharray="2.6 3.9"/>
<line x1="1050.5" y1="1998.5" x2="1050.5" y2="2172.9" stroke="#c4c4c4" stroke-width="2.2" stroke-dasharray="2.6 3.9"/>
<line x1="1136.8" y1="1998.5" x2="1136.8" y2="2172.9" stroke="#c4c4c4" stroke-width="2.2" stroke-dasharray="2.6 3.9"/>
<clipPath id="cg"><rect x="791.8" y="1998.5" width="431.2" height="174.4"/></clipPath>
<g clip-path="url(#cg)">
<polyline points="791.8,2142.3 794.5,2143.0 797.2,2142.2 799.9,2143.6 802.6,2141.5 805.4,2142.8 808.1,2142.3 810.8,2142.1 813.5,2142.5 816.2,2142.5 818.9,2143.6 821.6,2142.8 824.3,2143.0 827.1,2142.7 829.8,2144.6 832.5,2143.8 835.2,2142.9 837.9,2142.5 840.6,2142.8 843.3,2143.4 846.0,2143.1 848.8,2143.0 851.5,2144.8 854.2,2143.2 856.9,2143.2 859.6,2143.1 862.3,2142.4 865.0,2143.5 867.7,2142.4 870.4,2142.4 873.2,2142.4 875.9,2142.5 878.6,2141.9 881.3,2141.3 884.0,2142.8 886.7,2143.2 889.4,2142.4 892.1,2141.2 894.9,2142.6 897.6,2142.8 900.3,2143.1 903.0,2143.4 905.7,2143.4 908.4,2140.7 911.1,2143.2 913.8,2143.5 916.5,2142.8 919.3,2142.2 922.0,2143.4 924.7,2143.2 927.4,2142.7 930.1,2142.1 932.8,2143.5 935.5,2142.5 938.2,2141.4 941.0,2143.3 943.7,2143.5 946.4,2142.4 949.1,2142.2 951.8,2142.9 954.5,2142.7 957.2,2142.3 959.9,2142.1 962.7,2142.6 965.4,2142.1 968.1,2143.9 970.8,2142.5 973.5,2143.3 976.2,2142.2 978.9,2142.6 981.6,2141.5 984.3,2142.5 987.1,2142.5 989.8,2142.4 992.5,2142.1 995.2,2142.8 997.9,2143.5 1000.6,2143.3 1003.3,2142.3 1006.0,2141.4 1008.8,2143.2 1011.5,2142.1 1014.2,2143.6 1016.9,2142.1 1019.6,2142.9 1022.3,2142.6 1025.0,2141.7 1027.7,2141.1 1030.5,2142.8 1033.2,2143.3 1035.9,2143.3 1038.6,2142.4 1041.3,2142.7 1044.0,2143.0 1046.7,2143.3 1049.4,2142.7 1052.1,2143.1 1054.9,2141.9 1057.6,2142.9 1060.3,2141.6 1063.0,2142.0 1065.7,2142.0 1068.4,2142.4 1071.1,2143.5 1073.8,2142.0 1076.6,2141.7 1079.3,2142.8 1082.0,2143.6 1084.7,2143.5 1087.4,2143.4 1090.1,2143.4 1092.8,2141.5 1095.5,2142.6 1098.3,2141.9 1101.0,2143.2 1103.7,2142.0 1106.4,2142.2 1109.1,2141.9 1111.8,2143.1 1114.5,2142.8 1117.2,2143.3 1119.9,2143.7 1122.7,2143.5 1125.4,2142.8 1128.1,2143.0 1130.8,2143.3 1133.5,2143.2 1136.2,2142.0 1138.9,2142.3 1141.6,2142.1 1144.4,2142.3 1147.1,2142.6 1149.8,2142.0 1152.5,2142.7 1155.2,2142.8 1157.9,2142.5 1160.6,2142.2 1163.3,2143.3 1166.0,2142.9 1168.8,2143.4 1171.5,2142.6 1174.2,2142.8 1176.9,2141.6 1179.6,2143.4 1182.3,2142.6 1185.0,2141.5 1187.7,2141.2 1190.5,2144.3 1193.2,2142.4 1195.9,2143.7 1198.6,2143.2 1201.3,2142.3 1204.0,2142.3 1206.7,2141.1 1209.4,2142.9 1212.2,2142.2 1214.9,2142.2 1217.6,2142.0 1220.3,2143.0 1223.0,2141.9" fill="none" stroke="#1f77b4" stroke-width="2.8" stroke-linejoin="round"/>
<polyline points="791.8,2143.1 794.5,2143.1 797.2,2142.6 799.9,2141.8 802.6,2142.9 805.4,2143.4 808.1,2143.2 810.8,2141.4 813.5,2142.9 816.2,2143.5 818.9,2142.9 821.6,2142.5 824.3,2142.5 827.1,2141.4 829.8,2142.8 832.5,2143.7 835.2,2141.6 837.9,2142.5 840.6,2142.5 843.3,2143.1 846.0,2143.4 848.8,2141.6 851.5,2143.7 854.2,2143.1 856.9,2143.5 859.6,2141.7 862.3,2142.4 865.0,2143.2 867.7,2142.2 870.4,2141.3 873.2,2143.3 875.9,2143.3 878.6,2142.4 881.3,2142.5 884.0,2143.5 886.7,2143.1 889.4,2142.7 892.1,2142.1 894.9,2143.7 897.6,2142.2 900.3,2142.3 903.0,2141.2 905.7,2144.3 908.4,2142.9 911.1,2142.9 913.8,2141.6 916.5,2143.5 919.3,2143.1 922.0,2142.5 924.7,2142.2 927.4,2142.3 930.1,2143.6 932.8,2141.3 935.5,2143.2 938.2,2142.3 941.0,2142.0 943.7,2142.9 946.4,2142.3 949.1,2143.7 951.8,2142.8 954.5,2143.1 957.2,2143.8 959.9,2143.2 962.7,2143.4 965.4,2142.0 968.1,2143.3 970.8,2143.8 973.5,2142.8 976.2,2142.9 978.9,2140.8 981.6,2141.4 984.3,2142.5 987.1,2143.3 989.8,2141.0 992.5,2142.5 995.2,2143.9 997.9,2142.4 1000.6,2143.9 1003.3,2141.8 1006.0,2142.4 1008.8,2143.5 1011.5,2143.1 1014.2,2144.3 1016.9,2141.4 1019.6,2142.6 1022.3,2142.2 1025.0,2141.7 1027.7,2143.0 1030.5,2143.1 1033.2,2143.1 1035.9,2142.5 1038.6,2143.3 1041.3,2143.0 1044.0,2142.5 1046.7,2142.6 1049.4,2143.1 1052.1,2143.5 1054.9,2143.1 1057.6,2142.2 1060.3,2141.7 1063.0,2141.8 1065.7,2142.9 1068.4,2142.2 1071.1,2142.4 1073.8,2141.6 1076.6,2143.3 1079.3,2141.8 1082.0,2142.4 1084.7,2142.8 1087.4,2140.8 1090.1,2141.3 1092.8,2143.8 1095.5,2142.6 1098.3,2142.1 1101.0,2141.8 1103.7,2143.6 1106.4,2142.3 1109.1,2142.5 1111.8,2143.3 1114.5,2142.1 1117.2,2143.1 1119.9,2142.7 1122.7,2143.4 1125.4,2142.3 1128.1,2142.3 1130.8,2142.9 1133.5,2143.3 1136.2,2142.7 1138.9,2142.5 1141.6,2142.5 1144.4,2142.9 1147.1,2141.9 1149.8,2142.9 1152.5,2142.6 1155.2,2141.5 1157.9,2143.3 1160.6,2142.6 1163.3,2142.5 1166.0,2143.2 1168.8,2143.7 1171.5,2143.4 1174.2,2144.3 1176.9,2142.7 1179.6,2142.7 1182.3,2142.1 1185.0,2141.2 1187.7,2142.5 1190.5,2142.5 1193.2,2142.3 1195.9,2143.1 1198.6,2143.8 1201.3,2143.3 1204.0,2142.6 1206.7,2142.7 1209.4,2142.7 1212.2,2143.1 1214.9,2142.6 1217.6,2142.9 1220.3,2142.8 1223.0,2143.7" fill="none" stroke="#ff7f0e" stroke-width="2.8" stroke-linejoin="round"/>
<polyline points="791.8,2143.2 794.5,2142.5 797.2,2142.7 799.9,2142.7 802.6,2142.4 805.4,2142.2 808.1,2142.5 810.8,2142.5 813.5,2143.5 816.2,2142.3 818.9,2142.9 821.6,2142.0 824.3,2141.8 827.1,2143.8 829.8,2141.7 832.5,2143.1 835.2,2143.4 837.9,2142.8 840.6,2142.5 843.3,2142.0 846.0,2140.7 848.8,2143.7 851.5,2142.9 854.2,2142.4 856.9,2143.0 859.6,2143.9 862.3,2142.8 865.0,2142.7 867.7,2142.4 870.4,2142.9 873.2,2141.7 875.9,2142.5 878.6,2142.1 881.3,2143.4 884.0,2144.5 886.7,2142.1 889.4,2142.4 892.1,2142.2 894.9,2142.6 897.6,2142.9 900.3,2142.8 903.0,2142.0 905.7,2143.2 908.4,2142.9 911.1,2142.7 913.8,2142.4 916.5,2141.1 919.3,2143.0 922.0,2140.9 924.7,2142.5 927.4,2142.6 930.1,2143.0 932.8,2142.0 935.5,2141.5 938.2,2143.3 941.0,2142.7 943.7,2142.8 946.4,2143.0 949.1,2143.3 951.8,2142.3 954.5,2142.1 957.2,2142.4 959.9,2143.0 962.7,2142.5 965.4,2142.0 968.1,2142.3 970.8,2142.0 973.5,2142.8 976.2,2142.1 978.9,2142.2 981.6,2143.0 984.3,2142.7 987.1,2143.1 989.8,2142.5 992.5,2142.7 995.2,2142.6 997.9,2142.7 1000.6,2143.0 1003.3,2142.3 1006.0,2143.4 1008.8,2142.6 1011.5,2144.2 1014.2,2143.4 1016.9,2142.2 1019.6,2142.8 1022.3,2142.5 1025.0,2143.3 1027.7,2143.7 1030.5,2143.4 1033.2,2142.7 1035.9,2143.0 1038.6,2141.4 1041.3,2141.4 1044.0,2142.1 1046.7,2143.2 1049.4,2142.6 1052.1,2143.0 1054.9,2143.0 1057.6,2142.9 1060.3,2142.7 1063.0,2142.9 1065.7,2142.7 1068.4,2143.9 1071.1,2143.0 1073.8,2142.2 1076.6,2142.3 1079.3,2143.6 1082.0,2142.5 1084.7,2142.6 1087.4,2143.5 1090.1,2142.6 1092.8,2142.4 1095.5,2142.7 1098.3,2141.5 1101.0,2143.1 1103.7,2142.5 1106.4,2142.4 1109.1,2142.4 1111.8,2143.0 1114.5,2142.3 1117.2,2142.5 1119.9,2141.1 1122.7,2141.8 1125.4,2142.7 1128.1,2141.7 1130.8,2143.3 1133.5,2142.5 1136.2,2141.6 1138.9,2144.0 1141.6,2141.9 1144.4,2142.3 1147.1,2143.1 1149.8,2142.1 1152.5,2143.5 1155.2,2142.0 1157.9,2142.7 1160.6,2142.0 1163.3,2143.5 1166.0,2142.3 1168.8,2142.1 1171.5,2143.4 1174.2,2141.6 1176.9,2143.5 1179.6,2141.2 1182.3,2141.3 1185.0,2143.2 1187.7,2141.5 1190.5,2142.4 1193.2,2142.4 1195.9,2142.4 1198.6,2143.9 1201.3,2142.7 1204.0,2142.9 1206.7,2142.3 1209.4,2144.2 1212.2,2142.7 1214.9,2142.0 1217.6,2143.1 1220.3,2142.3 1223.0,2142.3" fill="none" stroke="#2ca02c" stroke-width="2.8" stroke-linejoin="round"/>
<polyline points="791.8,2142.6 794.5,2143.2 797.2,2142.0 799.9,2143.3 802.6,2143.5 805.4,2142.3 808.1,2141.8 810.8,2141.8 813.5,2141.7 816.2,2142.4 818.9,2142.9 821.6,2142.3 824.3,2142.3 827.1,2142.6 829.8,2143.2 832.5,2142.8 835.2,2142.5 837.9,2143.5 840.6,2142.9 843.3,2143.5 846.0,2141.4 848.8,2142.2 851.5,2142.8 854.2,2142.0 856.9,2142.5 859.6,2143.1 862.3,2142.7 865.0,2142.8 867.7,2140.1 870.4,2143.4 873.2,2144.6 875.9,2142.1 878.6,2143.6 881.3,2143.6 884.0,2141.7 886.7,2143.3 889.4,2143.6 892.1,2142.7 894.9,2143.6 897.6,2142.2 900.3,2143.2 903.0,2142.6 905.7,2141.6 908.4,2141.3 911.1,2144.3 913.8,2143.0 916.5,2143.0 919.3,2142.1 922.0,2143.0 924.7,2143.3 927.4,2141.6 930.1,2141.7 932.8,2142.6 935.5,2144.2 938.2,2142.8 941.0,2143.7 943.7,2141.2 946.4,2142.3 949.1,2142.4 951.8,2142.0 954.5,2142.2 957.2,2143.5 959.9,2142.2 962.7,2142.4 965.4,2144.5 968.1,2141.8 970.8,2142.4 973.5,2142.7 976.2,2142.3 978.9,2143.3 981.6,2141.9 984.3,2142.9 987.1,2143.6 989.8,2141.2 992.5,2142.1 995.2,2142.6 997.9,2142.5 1000.6,2142.3 1003.3,2141.6 1006.0,2142.1 1008.8,2141.7 1011.5,2143.1 1014.2,2143.2 1016.9,2142.5 1019.6,2142.3 1022.3,2142.7 1025.0,2143.3 1027.7,2142.9 1030.5,2142.0 1033.2,2142.1 1035.9,2143.5 1038.6,2142.1 1041.3,2142.3 1044.0,2142.4 1046.7,2142.0 1049.4,2142.5 1052.1,2141.4 1054.9,2143.0 1057.6,2143.3 1060.3,2142.5 1063.0,2142.3 1065.7,2143.4 1068.4,2142.3 1071.1,2142.4 1073.8,2143.5 1076.6,2142.9 1079.3,2141.9 1082.0,2142.0 1084.7,2143.4 1087.4,2142.1 1090.1,2142.6 1092.8,2141.1 1095.5,2142.8 1098.3,2142.2 1101.0,2143.8 1103.7,2141.9 1106.4,2142.7 1109.1,2143.1 1111.8,2143.0 1114.5,2142.8 1117.2,2143.1 1119.9,2142.2 1122.7,2143.0 1125.4,2142.9 1128.1,2140.6 1130.8,2142.7 1133.5,2142.3 1136.2,2142.5 1138.9,2142.7 1141.6,2142.6 1144.4,2143.6 1147.1,2142.1 1149.8,2142.5 1152.5,2142.6 1155.2,2143.5 1157.9,2142.0 1160.6,2143.7 1163.3,2142.7 1166.0,2143.2 1168.8,2143.7 1171.5,2141.6 1174.2,2141.7 1176.9,2141.8 1179.6,2142.7 1182.3,2143.3 1185.0,2142.5 1187.7,2142.8 1190.5,2143.9 1193.2,2141.8 1195.9,2142.1 1198.6,2143.1 1201.3,2143.4 1204.0,2142.7 1206.7,2142.5 1209.4,2141.1 1212.2,2142.4 1214.9,2143.4 1217.6,2142.2 1220.3,2143.5 1223.0,2143.4" fill="none" stroke="#d62728" stroke-width="2.8" stroke-linejoin="round"/>
<polyline points="791.8,2143.1 794.5,2142.8 797.2,2142.1 799.9,2141.9 802.6,2142.9 805.4,2142.1 808.1,2142.9 810.8,2142.6 813.5,2142.2 816.2,2142.8 818.9,2141.7 821.6,2143.7 824.3,2142.8 827.1,2143.0 829.8,2142.8 832.5,2142.6 835.2,2143.3 837.9,2142.2 840.6,2143.2 843.3,2142.4 846.0,2142.3 848.8,2143.1 851.5,2142.2 854.2,2142.6 856.9,2142.8 859.6,2142.3 862.3,2142.0 865.0,2142.1 867.7,2142.5 870.4,2142.8 873.2,2142.9 875.9,2142.4 878.6,2142.6 881.3,2142.9 884.0,2143.0 886.7,2143.1 889.4,2143.0 892.1,2142.5 894.9,2143.1 897.6,2143.1 900.3,2143.0 903.0,2143.1 905.7,2143.1 908.4,2142.3 911.1,2141.9 913.8,2142.7 916.5,2142.5 919.3,2142.8 922.0,2142.4 924.7,2143.2 927.4,2142.6 930.1,2142.1 932.8,2143.1 935.5,2142.8 938.2,2142.8 941.0,2143.1 943.7,2142.4 946.4,2142.8 949.1,2142.1 951.8,2142.7 954.5,2142.9 957.2,2143.0 959.9,2143.2 962.7,2142.4 965.4,2142.8 968.1,2142.0 970.8,2142.7 973.5,2142.5 976.2,2142.5 978.9,2143.2 981.6,2142.4 984.3,2142.6 987.1,2143.0 989.8,2142.7 992.5,2142.5 995.2,2142.5 997.9,2142.4 1000.6,2142.5 1003.3,2142.2 1006.0,2142.7 1008.8,2142.8 1011.5,2142.8 1014.2,2142.5 1016.9,2142.9 1019.6,2143.2 1022.3,2143.2 1025.0,2142.2 1027.7,2142.6 1030.5,2142.1 1033.2,2142.5 1035.9,2142.7 1038.6,2142.0 1041.3,2142.1 1044.0,2141.8 1046.7,2143.2 1049.4,2142.9 1052.1,2142.6 1054.9,2143.5 1057.6,2142.5 1060.3,2143.1 1063.0,2143.0 1065.7,2143.2 1068.4,2142.3 1071.1,2142.5 1073.8,2143.3 1076.6,2143.4 1079.3,2142.3 1082.0,2142.3 1084.7,2142.8 1087.4,2141.9 1090.1,2142.6 1092.8,2142.7 1095.5,2142.4 1098.3,2142.9 1101.0,2143.1 1103.7,2142.3 1106.4,2142.8 1109.1,2142.8 1111.8,2142.2 1114.5,2142.6 1117.2,2143.2 1119.9,2142.4 1122.7,2142.8 1125.4,2142.7 1128.1,2142.8 1130.8,2142.1 1133.5,2142.7 1136.2,2141.9 1138.9,2142.3 1141.6,2142.7 1144.4,2142.0 1147.1,2142.0 1149.8,2142.6 1152.5,2142.9 1155.2,2142.5 1157.9,2142.6 1160.6,2143.2 1163.3,2141.6 1166.0,2143.1 1168.8,2142.2 1171.5,2142.6 1174.2,2142.6 1176.9,2142.7 1179.6,2142.7 1182.3,2143.3 1185.0,2143.3 1187.7,2142.1 1190.5,2142.7 1193.2,2142.0 1195.9,2142.6 1198.6,2142.7 1201.3,2142.7 1204.0,2142.7 1206.7,2143.2 1209.4,2142.7 1212.2,2142.3 1214.9,2142.4 1217.6,2142.9 1220.3,2142.3 1223.0,2142.6" fill="none" stroke="#9467bd" stroke-width="3.4" stroke-linejoin="round"/>
</g>
<rect x="791.8" y="1998.5" width="431.2" height="174.4" fill="none" stroke="#000" stroke-width="2.7"/>
<line x1="791.8" y1="2172.9" x2="791.8" y2="2178.7" stroke="#000" stroke-width="2.3"/>
<text x="791.8" y="2211.0" font-size="29" text-anchor="middle" >0</text>
<line x1="878.0" y1="2172.9" x2="878.0" y2="2178.7" stroke="#000" stroke-width="2.3"/>
<text x="878.0" y="2211.0" font-size="29" text-anchor="middle" >1</text>
<line x1="964.3" y1="2172.9" x2="964.3" y2="2178.7" stroke="#000" stroke-width="2.3"/>
<text x="964.3" y="2211.0" font-size="29" text-anchor="middle" >2</text>
<line x1="1050.5" y1="2172.9" x2="1050.5" y2="2178.7" stroke="#000" stroke-width="2.3"/>
<text x="1050.5" y="2211.0" font-size="29" text-anchor="middle" >3</text>
<line x1="1136.8" y1="2172.9" x2="1136.8" y2="2178.7" stroke="#000" stroke-width="2.3"/>
<text x="1136.8" y="2211.0" font-size="29" text-anchor="middle" >4</text>
<line x1="1223.0" y1="2172.9" x2="1223.0" y2="2178.7" stroke="#000" stroke-width="2.3"/>
<text x="1223.0" y="2211.0" font-size="29" text-anchor="middle" >5</text>
<line x1="786.0" y1="2143.8" x2="791.8" y2="2143.8" stroke="#000" stroke-width="2.3"/>
<text x="782.8" y="2154.2" font-size="29" text-anchor="end" >25</text>
<line x1="786.0" y1="2027.6" x2="791.8" y2="2027.6" stroke="#000" stroke-width="2.3"/>
<text x="782.8" y="2038.0" font-size="29" text-anchor="end" >45</text>
<text x="1007.4" y="2247.9" font-size="29" text-anchor="middle" >Time (μs)</text>
<text x="0" y="0" font-size="29" text-anchor="middle" transform="translate(729.2,2085.7) rotate(-90)">Height (nm)</text>
<line x1="1443.6" y1="154.8" x2="1874.8" y2="154.8" stroke="#c4c4c4" stroke-width="2.2" stroke-dasharray="2.6 3.9"/>
<line x1="1443.6" y1="96.7" x2="1874.8" y2="96.7" stroke="#c4c4c4" stroke-width="2.2" stroke-dasharray="2.6 3.9"/>
<line x1="1443.6" y1="38.6" x2="1874.8" y2="38.6" stroke="#c4c4c4" stroke-width="2.2" stroke-dasharray="2.6 3.9"/>
<line x1="1529.8" y1="9.5" x2="1529.8" y2="183.9" stroke="#c4c4c4" stroke-width="2.2" stroke-dasharray="2.6 3.9"/>
<line x1="1616.1" y1="9.5" x2="1616.1" y2="183.9" stroke="#c4c4c4" stroke-width="2.2" stroke-dasharray="2.6 3.9"/>
<line x1="1702.3" y1="9.5" x2="1702.3" y2="183.9" stroke="#c4c4c4" stroke-width="2.2" stroke-dasharray="2.6 3.9"/>
<line x1="1788.6" y1="9.5" x2="1788.6" y2="183.9" stroke="#c4c4c4" stroke-width="2.2" stroke-dasharray="2.6 3.9"/>
<clipPath id="cc"><rect x="1443.6" y="9.5" width="431.2" height="174.4"/></clipPath>
<g clip-path="url(#cc)">
<polyline points="1443.6,155.1 1445.0,155.1 1446.5,154.8 1447.9,154.9 1449.4,155.0 1450.8,154.7 1452.3,154.7 1453.7,154.6 1455.1,154.8 1456.6,154.8 1458.0,154.9 1459.5,155.0 1460.9,154.9 1462.3,154.7 1463.8,154.4 1465.2,154.5 1466.7,154.7 1468.1,154.6 1469.6,154.6 1471.0,155.0 1472.4,154.8 1473.9,154.9 1475.3,154.9 1476.8,155.0 1478.2,154.9 1479.7,154.5 1481.1,154.4 1482.5,154.5 1484.0,154.7 1485.4,154.7 1486.9,154.6 1488.3,154.4 1489.7,154.4 1491.2,154.3 1492.6,154.3 1494.1,154.5 1495.5,154.6 1497.0,154.5 1498.4,154.9 1499.8,154.5 1501.3,154.7 1502.7,154.9 1504.2,154.4 1505.6,154.4 1507.1,154.4 1508.5,154.4 1509.9,154.5 1511.4,154.6 1512.8,154.8 1514.3,154.8 1515.7,155.0 1517.1,154.7 1518.6,154.7 1520.0,154.8 1521.5,154.4 1522.9,154.4 1524.4,154.6 1525.8,154.6 1527.2,154.7 1528.7,154.4 1530.1,154.6 1531.6,154.4 1533.0,154.6 1534.5,154.6 1535.9,154.6 1537.3,154.4 1538.8,154.5 1540.2,154.3 1541.7,154.2 1543.1,154.4 1544.5,154.6 1546.0,154.4 1547.4,154.5 1548.9,154.2 1550.3,154.1 1551.8,154.3 1553.2,154.1 1554.6,154.3 1556.1,154.6 1557.5,154.7 1559.0,154.5 1560.4,154.3 1561.9,154.2 1563.3,154.0 1564.7,154.1 1566.2,154.1 1567.6,154.5 1569.1,154.5 1570.5,154.3 1572.0,154.4 1573.4,154.5 1574.8,154.4 1576.3,154.2 1577.7,154.4 1579.2,154.2 1580.6,154.3 1582.0,154.1 1583.5,154.4 1584.9,154.4 1586.4,154.4 1587.8,154.2 1589.3,154.3 1590.7,154.3 1592.1,154.5 1593.6,154.3 1595.0,154.1 1596.5,154.3 1597.9,154.5 1599.4,154.2 1600.8,154.3 1602.2,154.3 1603.7,154.2 1605.1,154.3 1606.6,154.0 1608.0,153.6 1609.4,153.4 1610.9,153.9 1612.3,153.4 1613.8,153.6 1615.2,153.9 1616.7,154.2 1618.1,154.8 1619.5,154.5 1621.0,154.6 1622.4,154.2 1623.9,153.8 1625.3,154.8 1626.8,154.9 1628.2,155.1 1629.6,154.9 1631.1,154.2 1632.5,153.7 1634.0,153.2 1635.4,153.3 1636.8,153.6 1638.3,153.8 1639.7,153.7 1641.2,153.6 1642.6,153.5 1644.1,153.6 1645.5,153.7 1646.9,154.2 1648.4,153.4 1649.8,153.5 1651.3,153.7 1652.7,153.4 1654.2,154.0 1655.6,154.0 1657.0,154.4 1658.5,154.2 1659.9,154.3 1661.4,154.2 1662.8,154.2 1664.2,154.3 1665.7,153.7 1667.1,154.5 1668.6,154.2 1670.0,154.4 1671.5,154.5 1672.9,153.5 1674.3,154.0 1675.8,153.6 1677.2,154.0 1678.7,154.0 1680.1,153.9 1681.6,154.3 1683.0,154.4 1684.4,154.6 1685.9,154.6 1687.3,154.3 1688.8,154.6 1690.2,154.7 1691.6,154.0 1693.1,153.7 1694.5,153.7 1696.0,153.6 1697.4,153.7 1698.9,154.3 1700.3,154.1 1701.7,153.5 1703.2,153.5 1704.6,153.0 1706.1,153.3 1707.5,153.8 1709.0,153.6 1710.4,153.8 1711.8,152.9 1713.3,152.3 1714.7,151.9 1716.2,151.9 1717.6,152.6 1719.0,152.1 1720.5,152.5 1721.9,152.9 1723.4,153.4 1724.8,154.2 1726.3,154.1 1727.7,154.4 1729.1,153.0 1730.6,152.3 1732.0,151.6 1733.5,150.8 1734.9,150.8 1736.4,151.1 1737.8,151.9 1739.2,153.2 1740.7,153.0 1742.1,153.7 1743.6,154.5 1745.0,154.8 1746.4,155.1 1747.9,154.5 1749.3,153.4 1750.8,153.4 1752.2,153.7 1753.7,154.1 1755.1,154.4 1756.5,154.3 1758.0,154.2 1759.4,153.4 1760.9,153.7 1762.3,153.4 1763.8,153.2 1765.2,153.5 1766.6,153.7 1768.1,153.5 1769.5,153.6 1771.0,153.5 1772.4,153.4 1773.9,153.3 1775.3,153.8 1776.7,153.6 1778.2,154.0 1779.6,154.3 1781.1,154.1 1782.5,154.5 1783.9,154.0 1785.4,153.2 1786.8,153.7 1788.3,153.9 1789.7,154.5 1791.2,154.9 1792.6,155.1 1794.0,155.0 1795.5,154.3 1796.9,154.3 1798.4,154.6 1799.8,153.9 1801.3,154.5 1802.7,154.0 1804.1,153.5 1805.6,153.7 1807.0,153.7 1808.5,153.9 1809.9,153.8 1811.3,153.9 1812.8,154.3 1814.2,154.3 1815.7,154.0 1817.1,154.5 1818.6,154.9 1820.0,155.2 1821.4,155.7 1822.9,155.7 1824.3,154.8 1825.8,154.1 1827.2,153.4 1828.7,153.4 1830.1,153.6 1831.5,154.1 1833.0,154.1 1834.4,153.5 1835.9,154.0 1837.3,153.1 1838.7,153.8 1840.2,154.7 1841.6,154.2 1843.1,153.9 1844.5,153.6 1846.0,153.0 1847.4,152.8 1848.8,153.6 1850.3,154.3 1851.7,154.5 1853.2,154.0 1854.6,153.8 1856.1,154.3 1857.5,153.6 1858.9,153.8 1860.4,154.1 1861.8,154.0 1863.3,154.3 1864.7,154.4 1866.1,154.2 1867.6,153.2 1869.0,153.5 1870.5,153.9 1871.9,154.3 1873.4,155.2 1874.8,154.7" fill="none" stroke="#1f77b4" stroke-width="2.8" stroke-linejoin="round"/>
<polyline points="1443.6,154.9 1445.0,155.0 1446.5,154.8 1447.9,154.9 1449.4,155.1 1450.8,154.7 1452.3,154.6 1453.7,154.9 1455.1,154.7 1456.6,154.3 1458.0,154.8 1459.5,154.6 1460.9,154.2 1462.3,154.3 1463.8,154.2 1465.2,154.6 1466.7,154.9 1468.1,154.8 1469.6,154.8 1471.0,154.4 1472.4,154.3 1473.9,154.5 1475.3,154.3 1476.8,154.5 1478.2,154.5 1479.7,154.6 1481.1,154.5 1482.5,154.8 1484.0,154.5 1485.4,154.8 1486.9,154.5 1488.3,154.8 1489.7,154.5 1491.2,154.3 1492.6,154.1 1494.1,154.1 1495.5,154.2 1497.0,154.3 1498.4,154.1 1499.8,154.1 1501.3,153.9 1502.7,154.0 1504.2,154.1 1505.6,153.8 1507.1,154.0 1508.5,154.4 1509.9,154.2 1511.4,154.2 1512.8,154.4 1514.3,154.4 1515.7,154.3 1517.1,154.0 1518.6,153.9 1520.0,154.1 1521.5,154.0 1522.9,154.2 1524.4,154.1 1525.8,154.0 1527.2,154.2 1528.7,154.1 1530.1,153.9 1531.6,154.0 1533.0,154.0 1534.5,153.7 1535.9,153.8 1537.3,153.9 1538.8,153.9 1540.2,153.5 1541.7,153.8 1543.1,154.0 1544.5,153.8 1546.0,153.9 1547.4,153.7 1548.9,153.9 1550.3,153.6 1551.8,153.7 1553.2,153.9 1554.6,154.0 1556.1,153.8 1557.5,153.6 1559.0,153.7 1560.4,153.5 1561.9,153.4 1563.3,153.4 1564.7,153.5 1566.2,153.3 1567.6,153.2 1569.1,153.3 1570.5,153.3 1572.0,153.7 1573.4,153.3 1574.8,153.1 1576.3,153.1 1577.7,153.3 1579.2,153.2 1580.6,153.4 1582.0,153.6 1583.5,153.5 1584.9,153.6 1586.4,153.6 1587.8,153.4 1589.3,153.5 1590.7,153.7 1592.1,153.6 1593.6,153.6 1595.0,153.4 1596.5,153.0 1597.9,153.1 1599.4,153.0 1600.8,153.3 1602.2,153.2 1603.7,153.6 1605.1,153.3 1606.6,153.1 1608.0,152.9 1609.4,151.9 1610.9,151.2 1612.3,150.4 1613.8,148.7 1615.2,145.2 1616.7,141.8 1618.1,136.9 1619.5,134.5 1621.0,130.3 1622.4,127.8 1623.9,122.9 1625.3,115.4 1626.8,110.2 1628.2,105.6 1629.6,96.2 1631.1,95.4 1632.5,92.4 1634.0,91.9 1635.4,91.6 1636.8,88.6 1638.3,85.6 1639.7,84.2 1641.2,83.6 1642.6,85.7 1644.1,83.0 1645.5,83.1 1646.9,81.7 1648.4,80.7 1649.8,79.8 1651.3,76.7 1652.7,78.4 1654.2,77.1 1655.6,77.1 1657.0,77.4 1658.5,76.5 1659.9,75.6 1661.4,73.8 1662.8,72.6 1664.2,73.4 1665.7,68.9 1667.1,68.9 1668.6,71.2 1670.0,67.3 1671.5,68.7 1672.9,69.4 1674.3,67.1 1675.8,67.1 1677.2,65.4 1678.7,64.1 1680.1,62.7 1681.6,62.7 1683.0,62.1 1684.4,63.7 1685.9,61.5 1687.3,60.6 1688.8,60.9 1690.2,60.5 1691.6,61.0 1693.1,59.6 1694.5,59.7 1696.0,58.4 1697.4,60.2 1698.9,58.4 1700.3,57.0 1701.7,58.3 1703.2,56.1 1704.6,58.1 1706.1,54.1 1707.5,56.2 1709.0,53.3 1710.4,52.9 1711.8,52.4 1713.3,54.5 1714.7,53.5 1716.2,55.7 1717.6,54.3 1719.0,53.6 1720.5,51.2 1721.9,51.4 1723.4,48.4 1724.8,49.3 1726.3,48.9 1727.7,47.7 1729.1,48.2 1730.6,48.7 1732.0,45.3 1733.5,45.6 1734.9,44.7 1736.4,45.8 1737.8,47.2 1739.2,48.2 1740.7,47.7 1742.1,47.7 1743.6,47.5 1745.0,46.9 1746.4,43.7 1747.9,45.5 1749.3,45.4 1750.8,42.0 1752.2,43.9 1753.7,40.4 1755.1,41.9 1756.5,40.9 1758.0,39.4 1759.4,36.3 1760.9,35.8 1762.3,33.0 1763.8,33.5 1765.2,30.8 1766.6,30.1 1768.1,30.1 1769.5,25.6 1771.0,29.7 1772.4,26.0 1773.9,28.2 1775.3,26.6 1776.7,28.2 1778.2,28.0 1779.6,26.7 1781.1,28.6 1782.5,24.2 1783.9,26.2 1785.4,23.0 1786.8,24.0 1788.3,23.8 1789.7,23.3 1791.2,23.8 1792.6,22.3 1794.0,19.7 1795.5,21.7 1796.9,21.9 1798.4,19.8 1799.8,17.7 1801.3,16.5 1802.7,11.2 1804.1,12.6 1805.6,8.9 1807.0,10.0 1808.5,7.9 1809.9,5.8 1811.3,6.2 1812.8,4.7 1814.2,4.5 1815.7,3.5 1817.1,3.8 1818.6,3.3 1820.0,4.3 1821.4,0.0 1822.9,1.6 1824.3,0.9 1825.8,2.1 1827.2,1.3 1828.7,1.9 1830.1,3.4 1831.5,-0.5 1833.0,1.3 1834.4,0.7 1835.9,-0.4 1837.3,-0.3 1838.7,-0.2 1840.2,-3.1 1841.6,0.8 1843.1,-3.0 1844.5,-5.3 1846.0,-2.2 1847.4,-3.9 1848.8,-2.0 1850.3,-4.0 1851.7,-0.4 1853.2,-4.7 1854.6,-4.6 1856.1,-5.0 1857.5,-2.1 1858.9,-4.8 1860.4,-2.7 1861.8,-5.2 1863.3,-5.9 1864.7,-6.2 1866.1,-4.5 1867.6,-4.8 1869.0,-6.0 1870.5,-3.4 1871.9,-5.2 1873.4,-8.1 1874.8,-8.2" fill="none" stroke="#ff7f0e" stroke-width="2.8" stroke-linejoin="round"/>
<polyline points="1443.6,155.1 1445.0,155.1 1446.5,154.9 1447.9,154.8 1449.4,154.8 1450.8,154.9 1452.3,154.9 1453.7,155.1 1455.1,155.1 1456.6,154.8 1458.0,154.9 1459.5,154.7 1460.9,154.5 1462.3,154.8 1463.8,154.6 1465.2,154.8 1466.7,154.7 1468.1,154.6 1469.6,154.6 1471.0,154.6 1472.4,154.2 1473.9,154.6 1475.3,154.5 1476.8,154.5 1478.2,154.6 1479.7,154.5 1481.1,154.5 1482.5,154.3 1484.0,154.4 1485.4,154.3 1486.9,154.6 1488.3,154.5 1489.7,154.4 1491.2,154.3 1492.6,154.2 1494.1,154.1 1495.5,154.3 1497.0,154.2 1498.4,154.1 1499.8,154.2 1501.3,154.0 1502.7,154.4 1504.2,154.1 1505.6,154.1 1507.1,153.9 1508.5,153.9 1509.9,153.9 1511.4,154.4 1512.8,154.2 1514.3,154.2 1515.7,154.3 1517.1,154.3 1518.6,154.0 1520.0,153.9 1521.5,153.8 1522.9,153.8 1524.4,153.7 1525.8,153.6 1527.2,153.8 1528.7,153.6 1530.1,153.6 1531.6,153.9 1533.0,154.0 1534.5,153.8 1535.9,153.5 1537.3,153.5 1538.8,153.7 1540.2,153.4 1541.7,153.2 1543.1,153.6 1544.5,153.5 1546.0,153.5 1547.4,153.3 1548.9,152.4 1550.3,151.8 1551.8,150.8 1553.2,150.2 1554.6,149.1 1556.1,145.7 1557.5,142.3 1559.0,138.8 1560.4,135.5 1561.9,131.4 1563.3,128.6 1564.7,125.1 1566.2,119.6 1567.6,116.2 1569.1,111.8 1570.5,109.7 1572.0,105.9 1573.4,101.2 1574.8,100.4 1576.3,95.8 1577.7,90.6 1579.2,87.0 1580.6,85.5 1582.0,82.8 1583.5,83.4 1584.9,81.9 1586.4,82.4 1587.8,81.7 1589.3,81.5 1590.7,80.9 1592.1,80.0 1593.6,81.1 1595.0,82.0 1596.5,81.3 1597.9,79.5 1599.4,80.2 1600.8,79.3 1602.2,79.3 1603.7,77.7 1605.1,77.1 1606.6,75.6 1608.0,74.3 1609.4,71.3 1610.9,71.5 1612.3,73.8 1613.8,74.0 1615.2,71.9 1616.7,71.3 1618.1,69.9 1619.5,69.1 1621.0,69.9 1622.4,69.1 1623.9,66.1 1625.3,65.9 1626.8,65.5 1628.2,64.6 1629.6,63.9 1631.1,63.3 1632.5,64.3 1634.0,66.1 1635.4,63.6 1636.8,66.0 1638.3,64.4 1639.7,64.2 1641.2,62.8 1642.6,59.8 1644.1,61.0 1645.5,58.3 1646.9,58.9 1648.4,58.8 1649.8,58.8 1651.3,58.9 1652.7,58.1 1654.2,57.2 1655.6,56.4 1657.0,57.1 1658.5,56.1 1659.9,58.9 1661.4,57.0 1662.8,54.3 1664.2,54.2 1665.7,53.0 1667.1,52.0 1668.6,54.8 1670.0,56.0 1671.5,54.0 1672.9,56.1 1674.3,58.6 1675.8,57.5 1677.2,56.9 1678.7,55.6 1680.1,57.2 1681.6,56.1 1683.0,56.9 1684.4,58.8 1685.9,56.7 1687.3,57.7 1688.8,58.8 1690.2,60.0 1691.6,57.7 1693.1,55.9 1694.5,56.7 1696.0,57.2 1697.4,55.3 1698.9,59.1 1700.3,57.9 1701.7,58.6 1703.2,56.7 1704.6,57.7 1706.1,56.1 1707.5,55.6 1709.0,58.4 1710.4,57.8 1711.8,58.2 1713.3,56.7 1714.7,58.2 1716.2,58.5 1717.6,58.0 1719.0,58.9 1720.5,59.5 1721.9,59.9 1723.4,60.7 1724.8,57.0 1726.3,57.9 1727.7,57.7 1729.1,54.5 1730.6,55.5 1732.0,55.6 1733.5,56.2 1734.9,55.8 1736.4,56.5 1737.8,54.6 1739.2,56.7 1740.7,55.1 1742.1,55.7 1743.6,57.0 1745.0,56.0 1746.4,53.9 1747.9,55.4 1749.3,55.1 1750.8,54.5 1752.2,54.0 1753.7,53.8 1755.1,52.6 1756.5,49.5 1758.0,53.4 1759.4,53.3 1760.9,53.1 1762.3,51.7 1763.8,51.0 1765.2,50.5 1766.6,50.5 1768.1,52.1 1769.5,50.7 1771.0,48.8 1772.4,49.9 1773.9,48.6 1775.3,48.1 1776.7,46.8 1778.2,47.4 1779.6,46.0 1781.1,46.5 1782.5,47.2 1783.9,44.4 1785.4,46.0 1786.8,43.0 1788.3,44.2 1789.7,44.7 1791.2,44.6 1792.6,43.3 1794.0,44.6 1795.5,42.4 1796.9,43.9 1798.4,44.4 1799.8,43.5 1801.3,43.0 1802.7,43.1 1804.1,42.8 1805.6,42.0 1807.0,40.0 1808.5,39.9 1809.9,39.1 1811.3,37.5 1812.8,37.6 1814.2,37.3 1815.7,38.7 1817.1,36.7 1818.6,37.5 1820.0,39.7 1821.4,37.7 1822.9,34.6 1824.3,34.6 1825.8,35.3 1827.2,35.1 1828.7,34.3 1830.1,31.4 1831.5,33.7 1833.0,31.9 1834.4,32.3 1835.9,32.3 1837.3,32.8 1838.7,34.0 1840.2,32.3 1841.6,35.0 1843.1,32.0 1844.5,30.2 1846.0,32.6 1847.4,30.3 1848.8,31.0 1850.3,29.9 1851.7,29.0 1853.2,30.6 1854.6,27.7 1856.1,30.1 1857.5,29.3 1858.9,29.0 1860.4,28.0 1861.8,28.0 1863.3,23.6 1864.7,24.2 1866.1,24.1 1867.6,26.1 1869.0,25.5 1870.5,23.9 1871.9,23.1 1873.4,21.0 1874.8,20.9" fill="none" stroke="#2ca02c" stroke-width="2.8" stroke-linejoin="round"/>
<polyline points="1443.6,154.7 1445.0,154.4 1446.5,155.0 1447.9,154.7 1449.4,154.4 1450.8,154.6 1452.3,154.3 1453.7,154.6 1455.1,154.5 1456.6,154.2 1458.0,154.5 1459.5,154.5 1460.9,154.5 1462.3,154.7 1463.8,154.4 1465.2,154.5 1466.7,154.5 1468.1,154.8 1469.6,154.7 1471.0,154.5 1472.4,154.2 1473.9,154.2 1475.3,154.3 1476.8,154.0 1478.2,154.0 1479.7,154.1 1481.1,154.3 1482.5,154.3 1484.0,154.3 1485.4,154.0 1486.9,153.9 1488.3,154.0 1489.7,154.2 1491.2,154.4 1492.6,154.3 1494.1,154.0 1495.5,154.4 1497.0,154.1 1498.4,154.1 1499.8,154.1 1501.3,153.9 1502.7,153.8 1504.2,153.6 1505.6,154.0 1507.1,153.8 1508.5,153.8 1509.9,154.1 1511.4,153.9 1512.8,153.8 1514.3,154.0 1515.7,153.8 1517.1,153.7 1518.6,153.8 1520.0,153.9 1521.5,153.7 1522.9,153.8 1524.4,153.7 1525.8,153.6 1527.2,153.3 1528.7,153.4 1530.1,153.4 1531.6,153.5 1533.0,153.2 1534.5,153.6 1535.9,153.6 1537.3,153.5 1538.8,153.8 1540.2,153.2 1541.7,153.2 1543.1,153.3 1544.5,153.3 1546.0,153.3 1547.4,153.3 1548.9,153.6 1550.3,153.4 1551.8,153.2 1553.2,153.6 1554.6,153.3 1556.1,152.9 1557.5,153.1 1559.0,152.9 1560.4,153.0 1561.9,153.6 1563.3,153.2 1564.7,153.3 1566.2,152.9 1567.6,152.8 1569.1,153.0 1570.5,152.9 1572.0,152.7 1573.4,153.1 1574.8,152.9 1576.3,152.5 1577.7,152.6 1579.2,152.7 1580.6,152.7 1582.0,152.8 1583.5,152.9 1584.9,152.5 1586.4,152.6 1587.8,152.9 1589.3,152.6 1590.7,152.8 1592.1,152.7 1593.6,152.2 1595.0,152.4 1596.5,152.4 1597.9,152.6 1599.4,152.0 1600.8,152.0 1602.2,151.1 1603.7,150.6 1605.1,150.4 1606.6,149.1 1608.0,149.8 1609.4,150.2 1610.9,151.2 1612.3,152.4 1613.8,152.2 1615.2,153.3 1616.7,153.6 1618.1,152.9 1619.5,153.3 1621.0,151.6 1622.4,151.5 1623.9,151.3 1625.3,150.6 1626.8,151.1 1628.2,151.3 1629.6,151.6 1631.1,151.5 1632.5,150.6 1634.0,149.3 1635.4,148.2 1636.8,148.2 1638.3,142.7 1639.7,138.2 1641.2,134.2 1642.6,128.8 1644.1,125.6 1645.5,120.9 1646.9,116.4 1648.4,107.7 1649.8,104.5 1651.3,100.7 1652.7,96.3 1654.2,96.3 1655.6,92.3 1657.0,93.4 1658.5,92.3 1659.9,90.7 1661.4,89.9 1662.8,86.2 1664.2,85.4 1665.7,83.9 1667.1,83.6 1668.6,80.6 1670.0,79.4 1671.5,81.3 1672.9,78.6 1674.3,79.5 1675.8,78.3 1677.2,78.1 1678.7,80.2 1680.1,81.0 1681.6,80.1 1683.0,79.0 1684.4,80.7 1685.9,77.0 1687.3,77.2 1688.8,77.3 1690.2,79.6 1691.6,78.2 1693.1,79.6 1694.5,78.3 1696.0,77.3 1697.4,78.7 1698.9,77.4 1700.3,77.1 1701.7,75.2 1703.2,73.2 1704.6,72.7 1706.1,71.8 1707.5,71.0 1709.0,69.4 1710.4,73.8 1711.8,73.7 1713.3,73.3 1714.7,71.5 1716.2,71.5 1717.6,71.1 1719.0,69.8 1720.5,69.4 1721.9,68.9 1723.4,67.4 1724.8,66.9 1726.3,67.9 1727.7,66.3 1729.1,67.8 1730.6,67.8 1732.0,69.3 1733.5,66.8 1734.9,65.0 1736.4,63.9 1737.8,64.9 1739.2,61.3 1740.7,63.5 1742.1,63.6 1743.6,61.0 1745.0,61.7 1746.4,61.7 1747.9,61.9 1749.3,64.8 1750.8,62.3 1752.2,60.0 1753.7,58.2 1755.1,56.3 1756.5,54.2 1758.0,54.8 1759.4,55.1 1760.9,56.1 1762.3,56.5 1763.8,54.8 1765.2,56.8 1766.6,55.9 1768.1,54.6 1769.5,54.0 1771.0,56.6 1772.4,52.7 1773.9,53.0 1775.3,50.9 1776.7,48.9 1778.2,49.5 1779.6,49.5 1781.1,50.1 1782.5,48.6 1783.9,47.9 1785.4,48.7 1786.8,47.8 1788.3,47.4 1789.7,47.5 1791.2,44.8 1792.6,41.1 1794.0,44.0 1795.5,44.5 1796.9,41.4 1798.4,43.3 1799.8,43.0 1801.3,41.9 1802.7,40.8 1804.1,39.8 1805.6,39.9 1807.0,40.7 1808.5,38.9 1809.9,36.6 1811.3,35.4 1812.8,33.7 1814.2,33.5 1815.7,33.2 1817.1,32.8 1818.6,31.6 1820.0,30.1 1821.4,29.8 1822.9,28.2 1824.3,28.3 1825.8,30.0 1827.2,30.9 1828.7,28.5 1830.1,27.7 1831.5,26.5 1833.0,27.6 1834.4,27.0 1835.9,22.3 1837.3,27.0 1838.7,24.4 1840.2,24.3 1841.6,22.7 1843.1,21.6 1844.5,20.6 1846.0,19.4 1847.4,18.5 1848.8,17.6 1850.3,15.2 1851.7,14.9 1853.2,14.1 1854.6,16.9 1856.1,13.3 1857.5,12.6 1858.9,13.1 1860.4,14.7 1861.8,17.2 1863.3,15.9 1864.7,14.9 1866.1,12.7 1867.6,13.2 1869.0,12.3 1870.5,12.9 1871.9,14.4 1873.4,10.0 1874.8,10.3" fill="none" stroke="#d62728" stroke-width="2.8" stroke-linejoin="round"/>
<polyline points="1443.6,154.9 1445.0,154.8 1446.5,155.1 1447.9,154.8 1449.4,154.5 1450.8,154.4 1452.3,154.5 1453.7,154.2 1455.1,154.3 1456.6,154.3 1458.0,154.2 1459.5,154.4 1460.9,154.5 1462.3,154.3 1463.8,154.4 1465.2,154.0 1466.7,154.0 1468.1,153.9 1469.6,153.9 1471.0,154.1 1472.4,154.3 1473.9,154.3 1475.3,154.1 1476.8,154.1 1478.2,154.0 1479.7,153.8 1481.1,153.8 1482.5,153.9 1484.0,153.5 1485.4,153.8 1486.9,153.9 1488.3,153.8 1489.7,153.3 1491.2,153.3 1492.6,153.3 1494.1,153.3 1495.5,153.1 1497.0,153.4 1498.4,153.1 1499.8,153.2 1501.3,153.4 1502.7,153.0 1504.2,153.1 1505.6,153.1 1507.1,153.0 1508.5,153.1 1509.9,152.8 1511.4,152.5 1512.8,152.6 1514.3,152.8 1515.7,153.0 1517.1,152.7 1518.6,153.0 1520.0,152.8 1521.5,152.5 1522.9,152.6 1524.4,152.6 1525.8,152.6 1527.2,152.7 1528.7,152.5 1530.1,152.5 1531.6,151.8 1533.0,151.5 1534.5,151.0 1535.9,150.4 1537.3,149.0 1538.8,144.9 1540.2,141.5 1541.7,137.5 1543.1,133.7 1544.5,131.8 1546.0,127.8 1547.4,124.2 1548.9,120.1 1550.3,117.4 1551.8,112.4 1553.2,109.3 1554.6,104.7 1556.1,100.8 1557.5,98.9 1559.0,96.5 1560.4,93.8 1561.9,91.8 1563.3,92.4 1564.7,88.7 1566.2,86.2 1567.6,85.0 1569.1,83.1 1570.5,84.5 1572.0,82.0 1573.4,81.2 1574.8,79.7 1576.3,80.7 1577.7,80.4 1579.2,80.9 1580.6,81.5 1582.0,82.1 1583.5,81.6 1584.9,78.4 1586.4,79.5 1587.8,76.3 1589.3,77.4 1590.7,75.7 1592.1,78.7 1593.6,79.1 1595.0,78.0 1596.5,75.8 1597.9,75.6 1599.4,76.7 1600.8,75.2 1602.2,75.8 1603.7,77.7 1605.1,75.8 1606.6,73.1 1608.0,73.1 1609.4,73.7 1610.9,74.7 1612.3,72.9 1613.8,73.1 1615.2,70.0 1616.7,72.4 1618.1,72.2 1619.5,72.9 1621.0,72.9 1622.4,71.3 1623.9,68.5 1625.3,66.2 1626.8,64.3 1628.2,66.8 1629.6,64.3 1631.1,63.1 1632.5,64.3 1634.0,64.1 1635.4,62.2 1636.8,59.1 1638.3,58.4 1639.7,57.3 1641.2,56.1 1642.6,57.4 1644.1,56.7 1645.5,55.4 1646.9,54.9 1648.4,53.4 1649.8,52.7 1651.3,51.5 1652.7,50.8 1654.2,50.5 1655.6,49.4 1657.0,49.4 1658.5,46.7 1659.9,48.7 1661.4,45.9 1662.8,47.2 1664.2,47.0 1665.7,46.5 1667.1,45.8 1668.6,48.5 1670.0,46.0 1671.5,44.9 1672.9,46.0 1674.3,47.4 1675.8,44.3 1677.2,46.7 1678.7,43.2 1680.1,44.5 1681.6,43.9 1683.0,42.4 1684.4,42.0 1685.9,41.3 1687.3,42.2 1688.8,42.1 1690.2,42.5 1691.6,43.8 1693.1,44.2 1694.5,41.4 1696.0,40.5 1697.4,40.5 1698.9,39.7 1700.3,37.8 1701.7,40.4 1703.2,39.7 1704.6,39.9 1706.1,39.1 1707.5,39.6 1709.0,38.3 1710.4,39.4 1711.8,35.9 1713.3,38.4 1714.7,38.3 1716.2,38.3 1717.6,38.8 1719.0,37.5 1720.5,34.0 1721.9,35.0 1723.4,31.9 1724.8,34.1 1726.3,32.1 1727.7,32.0 1729.1,31.2 1730.6,32.1 1732.0,33.4 1733.5,27.4 1734.9,31.3 1736.4,31.4 1737.8,33.0 1739.2,32.2 1740.7,31.5 1742.1,32.4 1743.6,29.2 1745.0,29.4 1746.4,30.5 1747.9,29.0 1749.3,28.7 1750.8,29.0 1752.2,28.2 1753.7,28.1 1755.1,26.0 1756.5,30.0 1758.0,27.7 1759.4,29.8 1760.9,29.1 1762.3,23.8 1763.8,26.5 1765.2,24.2 1766.6,23.3 1768.1,25.5 1769.5,23.8 1771.0,25.2 1772.4,25.1 1773.9,22.9 1775.3,26.9 1776.7,27.4 1778.2,26.5 1779.6,27.7 1781.1,24.9 1782.5,22.9 1783.9,22.0 1785.4,23.5 1786.8,21.9 1788.3,23.4 1789.7,21.6 1791.2,24.1 1792.6,24.0 1794.0,23.2 1795.5,24.0 1796.9,19.6 1798.4,20.6 1799.8,24.6 1801.3,21.9 1802.7,19.7 1804.1,18.5 1805.6,17.8 1807.0,18.0 1808.5,19.8 1809.9,20.9 1811.3,18.8 1812.8,19.3 1814.2,19.3 1815.7,19.5 1817.1,21.1 1818.6,18.9 1820.0,20.3 1821.4,20.4 1822.9,18.3 1824.3,19.8 1825.8,20.6 1827.2,21.7 1828.7,22.6 1830.1,19.1 1831.5,23.1 1833.0,20.4 1834.4,19.4 1835.9,22.0 1837.3,20.2 1838.7,21.5 1840.2,22.8 1841.6,20.7 1843.1,21.3 1844.5,19.9 1846.0,24.0 1847.4,24.1 1848.8,25.1 1850.3,24.7 1851.7,25.6 1853.2,25.3 1854.6,27.2 1856.1,26.5 1857.5,27.5 1858.9,25.9 1860.4,27.0 1861.8,26.6 1863.3,24.9 1864.7,22.7 1866.1,23.1 1867.6,23.7 1869.0,20.9 1870.5,20.2 1871.9,22.2 1873.4,19.9 1874.8,20.1" fill="none" stroke="#9467bd" stroke-width="2.8" stroke-linejoin="round"/>
</g>
<rect x="1443.6" y="9.5" width="431.2" height="174.4" fill="none" stroke="#000" stroke-width="2.7"/>
<line x1="1443.6" y1="183.9" x2="1443.6" y2="189.7" stroke="#000" stroke-width="2.3"/>
<text x="1443.6" y="222.0" font-size="29" text-anchor="middle" >0</text>
<line x1="1529.8" y1="183.9" x2="1529.8" y2="189.7" stroke="#000" stroke-width="2.3"/>
<text x="1529.8" y="222.0" font-size="29" text-anchor="middle" >1</text>
<line x1="1616.1" y1="183.9" x2="1616.1" y2="189.7" stroke="#000" stroke-width="2.3"/>
<text x="1616.1" y="222.0" font-size="29" text-anchor="middle" >2</text>
<line x1="1702.3" y1="183.9" x2="1702.3" y2="189.7" stroke="#000" stroke-width="2.3"/>
<text x="1702.3" y="222.0" font-size="29" text-anchor="middle" >3</text>
<line x1="1788.6" y1="183.9" x2="1788.6" y2="189.7" stroke="#000" stroke-width="2.3"/>
<text x="1788.6" y="222.0" font-size="29" text-anchor="middle" >4</text>
<line x1="1874.8" y1="183.9" x2="1874.8" y2="189.7" stroke="#000" stroke-width="2.3"/>
<text x="1874.8" y="222.0" font-size="29" text-anchor="middle" >5</text>
<line x1="1437.8" y1="154.8" x2="1443.6" y2="154.8" stroke="#000" stroke-width="2.3"/>
<text x="1434.6" y="165.2" font-size="29" text-anchor="end" >25</text>
<line x1="1437.8" y1="38.6" x2="1443.6" y2="38.6" stroke="#000" stroke-width="2.3"/>
<text x="1434.6" y="49.0" font-size="29" text-anchor="end" >45</text>
<text x="1659.2" y="258.9" font-size="29" text-anchor="middle" >Time (μs)</text>
<text x="0" y="0" font-size="29" text-anchor="middle" transform="translate(1381.0,96.7) rotate(-90)">Height (nm)</text>
<text x="1658.5" y="348.2" font-size="29" text-anchor="middle" >Simulation repeat</text>
<line x1="1442.0" y1="386.3" x2="1465.5" y2="386.3" stroke="#1f77b4" stroke-width="2.8"/>
<text x="1474.5" y="394.0" font-size="29" text-anchor="start" >1</text>
<line x1="1535.7" y1="386.3" x2="1559.2" y2="386.3" stroke="#ff7f0e" stroke-width="2.8"/>
<text x="1568.2" y="394.0" font-size="29" text-anchor="start" >2</text>
<line x1="1633.0" y1="386.3" x2="1656.5" y2="386.3" stroke="#2ca02c" stroke-width="2.8"/>
<text x="1665.5" y="394.0" font-size="29" text-anchor="start" >3</text>
<line x1="1730.4" y1="386.3" x2="1753.9" y2="386.3" stroke="#d62728" stroke-width="2.8"/>
<text x="1762.9" y="394.0" font-size="29" text-anchor="start" >4</text>
<line x1="1828.0" y1="386.3" x2="1851.5" y2="386.3" stroke="#9467bd" stroke-width="2.8"/>
<text x="1860.5" y="394.0" font-size="29" text-anchor="start" >5</text>
<line x1="1421.7" y1="898.3" x2="1852.5" y2="898.3" stroke="#c4c4c4" stroke-width="2.2" stroke-dasharray="2.6 3.9"/>
<line x1="1421.7" y1="822.6" x2="1852.5" y2="822.6" stroke="#c4c4c4" stroke-width="2.2" stroke-dasharray="2.6 3.9"/>
<line x1="1421.7" y1="746.9" x2="1852.5" y2="746.9" stroke="#c4c4c4" stroke-width="2.2" stroke-dasharray="2.6 3.9"/>
<line x1="1421.7" y1="671.2" x2="1852.5" y2="671.2" stroke="#c4c4c4" stroke-width="2.2" stroke-dasharray="2.6 3.9"/>
<line x1="1421.7" y1="595.5" x2="1852.5" y2="595.5" stroke="#c4c4c4" stroke-width="2.2" stroke-dasharray="2.6 3.9"/>
<line x1="1565.3" y1="557.6" x2="1565.3" y2="936.2" stroke="#c4c4c4" stroke-width="2.2" stroke-dasharray="2.6 3.9"/>
<line x1="1708.9" y1="557.6" x2="1708.9" y2="936.2" stroke="#c4c4c4" stroke-width="2.2" stroke-dasharray="2.6 3.9"/>
<clipPath id="ch0"><rect x="1421.7" y="557.6" width="430.8" height="378.6"/></clipPath>
<g clip-path="url(#ch0)">
<polygon points="1421.7,898.3 1421.7,829.4 1423.0,824.9 1424.3,821.9 1425.6,824.0 1426.9,828.6 1428.2,829.1 1429.6,830.8 1430.9,831.3 1432.2,830.8 1433.5,829.7 1434.8,824.2 1436.1,831.6 1437.4,831.4 1438.7,827.1 1440.0,835.9 1441.3,831.7 1442.7,831.6 1444.0,825.9 1445.3,825.4 1446.6,827.8 1447.9,823.5 1449.2,826.1 1450.5,826.2 1451.8,828.2 1453.1,823.8 1454.4,833.3 1455.7,824.7 1457.1,827.3 1458.4,824.6 1459.7,824.0 1461.0,820.4 1462.3,827.9 1463.6,826.4 1464.9,827.4 1466.2,832.4 1467.5,828.7 1468.8,830.1 1470.1,828.1 1471.5,825.9 1472.8,825.6 1474.1,824.8 1475.4,829.1 1476.7,830.7 1478.0,824.7 1479.3,831.1 1480.6,828.9 1481.9,824.8 1483.2,823.4 1484.6,824.6 1485.9,827.5 1487.2,824.2 1488.5,828.3 1489.8,832.5 1491.1,832.2 1492.4,827.9 1493.7,830.9 1495.0,828.6 1496.3,831.0 1497.6,829.2 1499.0,830.6 1500.3,830.2 1501.6,825.2 1502.9,820.9 1504.2,820.4 1505.5,825.7 1506.8,818.2 1508.1,824.6 1509.4,825.4 1510.7,821.7 1512.1,827.3 1513.4,828.1 1514.7,825.0 1516.0,823.9 1517.3,827.4 1518.6,823.5 1519.9,824.4 1521.2,824.3 1522.5,827.8 1523.8,823.2 1525.1,826.5 1526.5,828.2 1527.8,828.6 1529.1,818.4 1530.4,822.3 1531.7,823.0 1533.0,828.5 1534.3,823.0 1535.6,828.3 1536.9,820.3 1538.2,826.8 1539.5,822.8 1540.9,822.7 1542.2,827.7 1543.5,829.0 1544.8,831.8 1546.1,827.1 1547.4,824.6 1548.7,820.9 1550.0,822.6 1551.3,823.4 1552.6,824.1 1554.0,826.9 1555.3,821.8 1556.6,822.7 1557.9,818.8 1559.2,820.8 1560.5,821.3 1561.8,819.0 1563.1,822.1 1564.4,821.9 1565.7,819.5 1567.0,819.7 1568.4,820.0 1569.7,822.9 1571.0,821.8 1572.3,812.3 1573.6,809.7 1574.9,814.6 1576.2,810.5 1577.5,810.6 1578.8,811.5 1580.1,812.7 1581.4,820.8 1582.8,817.9 1584.1,824.0 1585.4,827.6 1586.7,824.4 1588.0,821.3 1589.3,824.3 1590.6,822.3 1591.9,830.2 1593.2,824.0 1594.5,829.5 1595.9,825.0 1597.2,822.8 1598.5,821.3 1599.8,813.9 1601.1,815.3 1602.4,817.1 1603.7,820.6 1605.0,821.9 1606.3,819.4 1607.6,820.0 1608.9,821.0 1610.3,819.6 1611.6,816.9 1612.9,815.8 1614.2,821.5 1615.5,813.8 1616.8,816.1 1618.1,817.8 1619.4,819.5 1620.7,812.4 1622.0,815.7 1623.4,816.3 1624.7,818.3 1626.0,815.2 1627.3,811.6 1628.6,809.8 1629.9,809.9 1631.2,818.3 1632.5,816.0 1633.8,812.3 1635.1,821.9 1636.4,804.6 1637.8,810.9 1639.1,808.2 1640.4,803.7 1641.7,807.0 1643.0,808.8 1644.3,812.1 1645.6,811.1 1646.9,809.1 1648.2,807.5 1649.5,803.6 1650.8,811.1 1652.2,810.6 1653.5,811.6 1654.8,819.1 1656.1,813.3 1657.4,807.9 1658.7,806.3 1660.0,806.1 1661.3,802.9 1662.6,802.8 1663.9,809.0 1665.3,804.4 1666.6,804.5 1667.9,805.8 1669.2,804.4 1670.5,804.3 1671.8,813.5 1673.1,802.5 1674.4,810.9 1675.7,807.4 1677.0,812.3 1678.3,803.5 1679.7,805.2 1681.0,805.8 1682.3,815.4 1683.6,802.8 1684.9,807.2 1686.2,813.2 1687.5,803.9 1688.8,809.2 1690.1,809.7 1691.4,808.3 1692.8,812.0 1694.1,811.6 1695.4,810.0 1696.7,813.0 1698.0,813.6 1699.3,806.9 1700.6,804.0 1701.9,805.7 1703.2,806.2 1704.5,804.3 1705.8,796.2 1707.2,806.6 1708.5,806.2 1709.8,804.3 1711.1,810.7 1712.4,810.0 1713.7,809.0 1715.0,809.9 1716.3,809.7 1717.6,808.5 1718.9,811.2 1720.2,810.7 1721.6,810.8 1722.9,803.1 1724.2,806.5 1725.5,806.8 1726.8,807.7 1728.1,806.9 1729.4,812.1 1730.7,811.2 1732.0,812.1 1733.3,808.2 1734.7,803.6 1736.0,807.9 1737.3,810.2 1738.6,812.5 1739.9,803.6 1741.2,809.6 1742.5,806.9 1743.8,809.8 1745.1,809.0 1746.4,807.3 1747.7,808.4 1749.1,801.4 1750.4,801.9 1751.7,805.2 1753.0,800.0 1754.3,800.4 1755.6,800.9 1756.9,799.6 1758.2,804.0 1759.5,803.4 1760.8,803.1 1762.1,807.4 1763.5,799.0 1764.8,801.9 1766.1,803.6 1767.4,790.6 1768.7,801.2 1770.0,801.8 1771.3,798.5 1772.6,793.5 1773.9,801.1 1775.2,795.5 1776.6,797.8 1777.9,801.1 1779.2,796.2 1780.5,800.6 1781.8,796.9 1783.1,801.6 1784.4,799.9 1785.7,796.8 1787.0,801.8 1788.3,792.7 1789.6,794.5 1791.0,805.1 1792.3,801.3 1793.6,798.7 1794.9,792.3 1796.2,798.4 1797.5,795.8 1798.8,791.9 1800.1,792.1 1801.4,793.0 1802.7,786.6 1804.1,789.9 1805.4,793.2 1806.7,785.2 1808.0,793.9 1809.3,796.1 1810.6,795.5 1811.9,793.9 1813.2,794.9 1814.5,793.4 1815.8,790.8 1817.1,795.1 1818.5,796.1 1819.8,798.0 1821.1,798.6 1822.4,800.8 1823.7,795.0 1825.0,798.2 1826.3,799.9 1827.6,802.0 1828.9,797.1 1830.2,800.7 1831.5,802.6 1832.9,811.6 1834.2,810.0 1835.5,805.9 1836.8,808.4 1838.1,810.7 1839.4,810.0 1840.7,805.2 1842.0,811.2 1843.3,815.0 1844.6,812.0 1846.0,808.4 1847.3,809.6 1848.6,816.3 1849.9,818.4 1851.2,813.1 1852.5,814.0 1852.5,898.3" fill="#f1e8e8"/>
<polyline points="1421.7,898.3 1852.5,898.3" fill="none" stroke="#bc8f8f" stroke-width="2.6" stroke-linejoin="round"/>
<polyline points="1421.7,829.4 1423.0,824.9 1424.3,821.9 1425.6,824.0 1426.9,828.6 1428.2,829.1 1429.6,830.8 1430.9,831.3 1432.2,830.8 1433.5,829.7 1434.8,824.2 1436.1,831.6 1437.4,831.4 1438.7,827.1 1440.0,835.9 1441.3,831.7 1442.7,831.6 1444.0,825.9 1445.3,825.4 1446.6,827.8 1447.9,823.5 1449.2,826.1 1450.5,826.2 1451.8,828.2 1453.1,823.8 1454.4,833.3 1455.7,824.7 1457.1,827.3 1458.4,824.6 1459.7,824.0 1461.0,820.4 1462.3,827.9 1463.6,826.4 1464.9,827.4 1466.2,832.4 1467.5,828.7 1468.8,830.1 1470.1,828.1 1471.5,825.9 1472.8,825.6 1474.1,824.8 1475.4,829.1 1476.7,830.7 1478.0,824.7 1479.3,831.1 1480.6,828.9 1481.9,824.8 1483.2,823.4 1484.6,824.6 1485.9,827.5 1487.2,824.2 1488.5,828.3 1489.8,832.5 1491.1,832.2 1492.4,827.9 1493.7,830.9 1495.0,828.6 1496.3,831.0 1497.6,829.2 1499.0,830.6 1500.3,830.2 1501.6,825.2 1502.9,820.9 1504.2,820.4 1505.5,825.7 1506.8,818.2 1508.1,824.6 1509.4,825.4 1510.7,821.7 1512.1,827.3 1513.4,828.1 1514.7,825.0 1516.0,823.9 1517.3,827.4 1518.6,823.5 1519.9,824.4 1521.2,824.3 1522.5,827.8 1523.8,823.2 1525.1,826.5 1526.5,828.2 1527.8,828.6 1529.1,818.4 1530.4,822.3 1531.7,823.0 1533.0,828.5 1534.3,823.0 1535.6,828.3 1536.9,820.3 1538.2,826.8 1539.5,822.8 1540.9,822.7 1542.2,827.7 1543.5,829.0 1544.8,831.8 1546.1,827.1 1547.4,824.6 1548.7,820.9 1550.0,822.6 1551.3,823.4 1552.6,824.1 1554.0,826.9 1555.3,821.8 1556.6,822.7 1557.9,818.8 1559.2,820.8 1560.5,821.3 1561.8,819.0 1563.1,822.1 1564.4,821.9 1565.7,819.5 1567.0,819.7 1568.4,820.0 1569.7,822.9 1571.0,821.8 1572.3,812.3 1573.6,809.7 1574.9,814.6 1576.2,810.5 1577.5,810.6 1578.8,811.5 1580.1,812.7 1581.4,820.8 1582.8,817.9 1584.1,824.0 1585.4,827.6 1586.7,824.4 1588.0,821.3 1589.3,824.3 1590.6,822.3 1591.9,830.2 1593.2,824.0 1594.5,829.5 1595.9,825.0 1597.2,822.8 1598.5,821.3 1599.8,813.9 1601.1,815.3 1602.4,817.1 1603.7,820.6 1605.0,821.9 1606.3,819.4 1607.6,820.0 1608.9,821.0 1610.3,819.6 1611.6,816.9 1612.9,815.8 1614.2,821.5 1615.5,813.8 1616.8,816.1 1618.1,817.8 1619.4,819.5 1620.7,812.4 1622.0,815.7 1623.4,816.3 1624.7,818.3 1626.0,815.2 1627.3,811.6 1628.6,809.8 1629.9,809.9 1631.2,818.3 1632.5,816.0 1633.8,812.3 1635.1,821.9 1636.4,804.6 1637.8,810.9 1639.1,808.2 1640.4,803.7 1641.7,807.0 1643.0,808.8 1644.3,812.1 1645.6,811.1 1646.9,809.1 1648.2,807.5 1649.5,803.6 1650.8,811.1 1652.2,810.6 1653.5,811.6 1654.8,819.1 1656.1,813.3 1657.4,807.9 1658.7,806.3 1660.0,806.1 1661.3,802.9 1662.6,802.8 1663.9,809.0 1665.3,804.4 1666.6,804.5 1667.9,805.8 1669.2,804.4 1670.5,804.3 1671.8,813.5 1673.1,802.5 1674.4,810.9 1675.7,807.4 1677.0,812.3 1678.3,803.5 1679.7,805.2 1681.0,805.8 1682.3,815.4 1683.6,802.8 1684.9,807.2 1686.2,813.2 1687.5,803.9 1688.8,809.2 1690.1,809.7 1691.4,808.3 1692.8,812.0 1694.1,811.6 1695.4,810.0 1696.7,813.0 1698.0,813.6 1699.3,806.9 1700.6,804.0 1701.9,805.7 1703.2,806.2 1704.5,804.3 1705.8,796.2 1707.2,806.6 1708.5,806.2 1709.8,804.3 1711.1,810.7 1712.4,810.0 1713.7,809.0 1715.0,809.9 1716.3,809.7 1717.6,808.5 1718.9,811.2 1720.2,810.7 1721.6,810.8 1722.9,803.1 1724.2,806.5 1725.5,806.8 1726.8,807.7 1728.1,806.9 1729.4,812.1 1730.7,811.2 1732.0,812.1 1733.3,808.2 1734.7,803.6 1736.0,807.9 1737.3,810.2 1738.6,812.5 1739.9,803.6 1741.2,809.6 1742.5,806.9 1743.8,809.8 1745.1,809.0 1746.4,807.3 1747.7,808.4 1749.1,801.4 1750.4,801.9 1751.7,805.2 1753.0,800.0 1754.3,800.4 1755.6,800.9 1756.9,799.6 1758.2,804.0 1759.5,803.4 1760.8,803.1 1762.1,807.4 1763.5,799.0 1764.8,801.9 1766.1,803.6 1767.4,790.6 1768.7,801.2 1770.0,801.8 1771.3,798.5 1772.6,793.5 1773.9,801.1 1775.2,795.5 1776.6,797.8 1777.9,801.1 1779.2,796.2 1780.5,800.6 1781.8,796.9 1783.1,801.6 1784.4,799.9 1785.7,796.8 1787.0,801.8 1788.3,792.7 1789.6,794.5 1791.0,805.1 1792.3,801.3 1793.6,798.7 1794.9,792.3 1796.2,798.4 1797.5,795.8 1798.8,791.9 1800.1,792.1 1801.4,793.0 1802.7,786.6 1804.1,789.9 1805.4,793.2 1806.7,785.2 1808.0,793.9 1809.3,796.1 1810.6,795.5 1811.9,793.9 1813.2,794.9 1814.5,793.4 1815.8,790.8 1817.1,795.1 1818.5,796.1 1819.8,798.0 1821.1,798.6 1822.4,800.8 1823.7,795.0 1825.0,798.2 1826.3,799.9 1827.6,802.0 1828.9,797.1 1830.2,800.7 1831.5,802.6 1832.9,811.6 1834.2,810.0 1835.5,805.9 1836.8,808.4 1838.1,810.7 1839.4,810.0 1840.7,805.2 1842.0,811.2 1843.3,815.0 1844.6,812.0 1846.0,808.4 1847.3,809.6 1848.6,816.3 1849.9,818.4 1851.2,813.1 1852.5,814.0" fill="none" stroke="#bc8f8f" stroke-width="2.6" stroke-linejoin="round"/>
<polyline points="1421.7,790.9 1423.0,790.0 1424.3,780.7 1425.6,777.1 1426.9,775.4 1428.2,776.3 1429.6,773.7 1430.9,775.2 1432.2,769.6 1433.5,767.7 1434.8,768.3 1436.1,758.4 1437.4,766.2 1438.7,766.2 1440.0,772.9 1441.3,775.5 1442.7,772.1 1444.0,771.3 1445.3,780.5 1446.6,780.0 1447.9,780.9 1449.2,780.7 1450.5,784.1 1451.8,788.1 1453.1,789.5 1454.4,784.0 1455.7,784.2 1457.1,779.5 1458.4,773.9 1459.7,779.1 1461.0,787.9 1462.3,788.3 1463.6,788.5 1464.9,786.2 1466.2,792.1 1467.5,784.4 1468.8,787.0 1470.1,784.8 1471.5,790.0 1472.8,790.3 1474.1,795.5 1475.4,784.6 1476.7,790.1 1478.0,787.2 1479.3,792.6 1480.6,795.9 1481.9,798.1 1483.2,799.6 1484.6,792.3 1485.9,795.3 1487.2,793.7 1488.5,788.0 1489.8,790.0 1491.1,791.4 1492.4,792.0 1493.7,790.9 1495.0,793.2 1496.3,788.7 1497.6,788.1 1499.0,790.0 1500.3,794.3 1501.6,791.8 1502.9,789.6 1504.2,795.6 1505.5,797.6 1506.8,797.0 1508.1,799.1 1509.4,800.9 1510.7,799.6 1512.1,796.4 1513.4,798.3 1514.7,792.8 1516.0,796.1 1517.3,791.3 1518.6,799.3 1519.9,796.3 1521.2,798.7 1522.5,800.4 1523.8,788.1 1525.1,789.6 1526.5,787.2 1527.8,792.8 1529.1,790.3 1530.4,790.4 1531.7,794.0 1533.0,802.0 1534.3,800.6 1535.6,796.0 1536.9,791.5 1538.2,800.2 1539.5,798.5 1540.9,800.7 1542.2,796.0 1543.5,801.3 1544.8,803.7 1546.1,801.2 1547.4,800.4 1548.7,801.9 1550.0,801.5 1551.3,806.3 1552.6,805.3 1554.0,800.8 1555.3,796.3 1556.6,796.7 1557.9,789.7 1559.2,797.5 1560.5,797.7 1561.8,805.0 1563.1,799.4 1564.4,798.1 1565.7,798.5 1567.0,787.9 1568.4,792.0 1569.7,789.0 1571.0,798.9 1572.3,799.4 1573.6,797.4 1574.9,803.9 1576.2,803.9 1577.5,795.9 1578.8,793.9 1580.1,796.8 1581.4,805.2 1582.8,808.1 1584.1,801.8 1585.4,802.2 1586.7,800.1 1588.0,792.9 1589.3,784.4 1590.6,790.3 1591.9,795.9 1593.2,795.6 1594.5,797.0 1595.9,799.9 1597.2,800.0 1598.5,804.0 1599.8,803.9 1601.1,796.4 1602.4,793.5 1603.7,786.7 1605.0,797.1 1606.3,796.3 1607.6,787.7 1608.9,794.5 1610.3,796.6 1611.6,795.2 1612.9,798.1 1614.2,797.1 1615.5,797.2 1616.8,798.5 1618.1,797.1 1619.4,791.4 1620.7,794.6 1622.0,794.8 1623.4,793.8 1624.7,792.8 1626.0,788.3 1627.3,785.5 1628.6,786.2 1629.9,793.7 1631.2,790.0 1632.5,785.4 1633.8,789.6 1635.1,786.3 1636.4,790.7 1637.8,791.5 1639.1,790.5 1640.4,788.6 1641.7,786.9 1643.0,781.5 1644.3,784.6 1645.6,787.8 1646.9,791.6 1648.2,786.5 1649.5,796.0 1650.8,792.3 1652.2,787.2 1653.5,796.4 1654.8,793.1 1656.1,792.3 1657.4,797.6 1658.7,793.6 1660.0,799.6 1661.3,798.3 1662.6,798.9 1663.9,802.6 1665.3,796.8 1666.6,797.5 1667.9,794.5 1669.2,801.7 1670.5,794.7 1671.8,791.0 1673.1,803.8 1674.4,796.8 1675.7,801.2 1677.0,804.4 1678.3,802.5 1679.7,792.8 1681.0,799.5 1682.3,789.3 1683.6,789.8 1684.9,792.0 1686.2,792.2 1687.5,790.4 1688.8,797.6 1690.1,801.0 1691.4,799.2 1692.8,803.6 1694.1,803.1 1695.4,798.1 1696.7,795.4 1698.0,788.9 1699.3,793.2 1700.6,793.1 1701.9,789.6 1703.2,788.6 1704.5,796.9 1705.8,790.4 1707.2,790.7 1708.5,788.4 1709.8,790.0 1711.1,790.8 1712.4,796.3 1713.7,789.6 1715.0,791.1 1716.3,783.5 1717.6,783.7 1718.9,786.1 1720.2,787.7 1721.6,784.2 1722.9,788.2 1724.2,788.1 1725.5,790.3 1726.8,784.5 1728.1,788.1 1729.4,779.6 1730.7,778.3 1732.0,779.8 1733.3,779.1 1734.7,779.9 1736.0,781.2 1737.3,782.3 1738.6,778.0 1739.9,784.1 1741.2,789.0 1742.5,782.0 1743.8,784.0 1745.1,781.6 1746.4,781.8 1747.7,779.0 1749.1,778.9 1750.4,779.5 1751.7,781.0 1753.0,781.9 1754.3,781.3 1755.6,783.3 1756.9,788.3 1758.2,779.1 1759.5,776.9 1760.8,770.4 1762.1,766.8 1763.5,762.6 1764.8,766.4 1766.1,763.3 1767.4,769.8 1768.7,772.4 1770.0,772.6 1771.3,772.8 1772.6,769.8 1773.9,765.8 1775.2,765.7 1776.6,766.8 1777.9,770.9 1779.2,777.8 1780.5,778.1 1781.8,781.5 1783.1,786.8 1784.4,778.9 1785.7,780.1 1787.0,781.8 1788.3,781.4 1789.6,782.2 1791.0,790.5 1792.3,784.6 1793.6,778.2 1794.9,782.3 1796.2,788.2 1797.5,787.6 1798.8,785.7 1800.1,786.5 1801.4,787.3 1802.7,783.0 1804.1,786.3 1805.4,781.8 1806.7,784.2 1808.0,788.7 1809.3,791.0 1810.6,791.0 1811.9,787.1 1813.2,783.6 1814.5,777.7 1815.8,766.2 1817.1,773.1 1818.5,770.6 1819.8,766.8 1821.1,769.6 1822.4,767.5 1823.7,778.7 1825.0,778.0 1826.3,775.5 1827.6,777.6 1828.9,786.1 1830.2,781.2 1831.5,779.7 1832.9,776.5 1834.2,784.4 1835.5,781.1 1836.8,777.2 1838.1,778.8 1839.4,779.1 1840.7,776.4 1842.0,786.9 1843.3,785.3 1844.6,788.4 1846.0,799.1 1847.3,794.3 1848.6,800.0 1849.9,793.0 1851.2,788.2 1852.5,782.6" fill="none" stroke="#ff0000" stroke-width="2.6" stroke-linejoin="round"/>
<polyline points="1421.7,810.0 1423.0,805.6 1424.3,811.5 1425.6,822.5 1426.9,821.3 1428.2,814.2 1429.6,816.2 1430.9,811.1 1432.2,814.2 1433.5,801.8 1434.8,805.6 1436.1,814.8 1437.4,813.4 1438.7,815.2 1440.0,815.6 1441.3,809.8 1442.7,809.8 1444.0,809.1 1445.3,807.8 1446.6,804.9 1447.9,811.5 1449.2,813.4 1450.5,820.4 1451.8,811.9 1453.1,803.5 1454.4,802.5 1455.7,800.7 1457.1,806.7 1458.4,801.3 1459.7,810.1 1461.0,808.6 1462.3,808.0 1463.6,805.7 1464.9,806.9 1466.2,807.3 1467.5,809.6 1468.8,808.8 1470.1,811.6 1471.5,815.1 1472.8,823.7 1474.1,815.0 1475.4,813.8 1476.7,817.2 1478.0,811.8 1479.3,811.4 1480.6,820.2 1481.9,811.6 1483.2,816.5 1484.6,821.2 1485.9,816.8 1487.2,821.8 1488.5,824.4 1489.8,820.5 1491.1,820.9 1492.4,823.7 1493.7,821.6 1495.0,820.8 1496.3,824.8 1497.6,815.5 1499.0,819.0 1500.3,816.9 1501.6,812.1 1502.9,817.0 1504.2,818.4 1505.5,820.1 1506.8,813.8 1508.1,817.8 1509.4,812.8 1510.7,818.4 1512.1,821.3 1513.4,829.3 1514.7,821.4 1516.0,829.9 1517.3,830.7 1518.6,827.9 1519.9,825.6 1521.2,822.6 1522.5,823.5 1523.8,825.5 1525.1,818.4 1526.5,817.3 1527.8,820.7 1529.1,824.9 1530.4,818.8 1531.7,820.3 1533.0,822.5 1534.3,824.3 1535.6,823.9 1536.9,815.3 1538.2,820.0 1539.5,823.5 1540.9,816.9 1542.2,812.5 1543.5,820.3 1544.8,819.8 1546.1,820.6 1547.4,829.9 1548.7,823.4 1550.0,829.0 1551.3,826.0 1552.6,822.1 1554.0,823.6 1555.3,825.4 1556.6,820.2 1557.9,816.3 1559.2,822.9 1560.5,823.3 1561.8,821.4 1563.1,822.7 1564.4,823.3 1565.7,831.1 1567.0,824.9 1568.4,824.7 1569.7,818.5 1571.0,821.0 1572.3,816.0 1573.6,824.4 1574.9,826.3 1576.2,826.2 1577.5,830.6 1578.8,826.5 1580.1,825.3 1581.4,828.4 1582.8,825.2 1584.1,817.5 1585.4,822.0 1586.7,818.2 1588.0,821.1 1589.3,822.6 1590.6,824.9 1591.9,824.0 1593.2,828.2 1594.5,822.4 1595.9,822.1 1597.2,819.7 1598.5,812.9 1599.8,813.7 1601.1,824.3 1602.4,820.1 1603.7,816.1 1605.0,818.4 1606.3,827.6 1607.6,822.1 1608.9,826.1 1610.3,830.3 1611.6,820.8 1612.9,815.4 1614.2,822.2 1615.5,824.5 1616.8,824.2 1618.1,824.0 1619.4,824.4 1620.7,824.4 1622.0,828.1 1623.4,821.9 1624.7,829.1 1626.0,824.8 1627.3,816.8 1628.6,809.1 1629.9,813.2 1631.2,810.7 1632.5,808.6 1633.8,817.4 1635.1,816.3 1636.4,819.2 1637.8,817.9 1639.1,817.5 1640.4,821.6 1641.7,817.4 1643.0,816.9 1644.3,818.9 1645.6,817.8 1646.9,817.2 1648.2,827.6 1649.5,825.1 1650.8,830.5 1652.2,826.6 1653.5,817.7 1654.8,828.4 1656.1,821.0 1657.4,817.1 1658.7,826.5 1660.0,827.7 1661.3,820.6 1662.6,822.6 1663.9,825.0 1665.3,822.1 1666.6,820.3 1667.9,822.4 1669.2,818.7 1670.5,822.9 1671.8,820.3 1673.1,816.1 1674.4,816.9 1675.7,821.3 1677.0,816.6 1678.3,815.8 1679.7,819.3 1681.0,816.8 1682.3,822.5 1683.6,830.1 1684.9,828.2 1686.2,823.5 1687.5,823.1 1688.8,823.4 1690.1,818.1 1691.4,818.1 1692.8,819.2 1694.1,827.4 1695.4,826.3 1696.7,822.2 1698.0,815.0 1699.3,818.4 1700.6,821.3 1701.9,817.6 1703.2,821.4 1704.5,815.8 1705.8,815.5 1707.2,819.3 1708.5,815.1 1709.8,818.2 1711.1,821.9 1712.4,817.5 1713.7,815.1 1715.0,818.7 1716.3,820.3 1717.6,815.6 1718.9,817.7 1720.2,823.2 1721.6,826.1 1722.9,823.8 1724.2,816.9 1725.5,822.7 1726.8,816.2 1728.1,809.9 1729.4,809.8 1730.7,809.1 1732.0,807.1 1733.3,813.7 1734.7,819.4 1736.0,814.1 1737.3,814.7 1738.6,816.1 1739.9,817.5 1741.2,812.6 1742.5,813.7 1743.8,813.2 1745.1,811.5 1746.4,808.9 1747.7,804.2 1749.1,810.5 1750.4,805.9 1751.7,809.3 1753.0,805.8 1754.3,811.8 1755.6,810.6 1756.9,810.0 1758.2,808.6 1759.5,810.2 1760.8,808.0 1762.1,806.5 1763.5,810.5 1764.8,810.5 1766.1,811.0 1767.4,812.7 1768.7,811.6 1770.0,810.0 1771.3,809.9 1772.6,813.5 1773.9,812.7 1775.2,816.7 1776.6,818.4 1777.9,814.7 1779.2,815.4 1780.5,816.9 1781.8,821.8 1783.1,815.8 1784.4,818.2 1785.7,816.5 1787.0,822.4 1788.3,822.0 1789.6,814.0 1791.0,823.3 1792.3,813.6 1793.6,811.4 1794.9,815.0 1796.2,814.7 1797.5,813.8 1798.8,815.2 1800.1,824.2 1801.4,821.1 1802.7,826.0 1804.1,823.7 1805.4,822.0 1806.7,818.6 1808.0,817.0 1809.3,813.2 1810.6,818.1 1811.9,821.1 1813.2,825.0 1814.5,828.7 1815.8,831.4 1817.1,831.7 1818.5,831.7 1819.8,834.5 1821.1,827.7 1822.4,832.8 1823.7,831.5 1825.0,825.6 1826.3,824.9 1827.6,830.7 1828.9,821.9 1830.2,814.0 1831.5,819.0 1832.9,819.1 1834.2,816.9 1835.5,821.5 1836.8,819.2 1838.1,830.8 1839.4,830.6 1840.7,830.1 1842.0,830.9 1843.3,823.5 1844.6,823.1 1846.0,823.0 1847.3,822.3 1848.6,829.3 1849.9,827.3 1851.2,822.0 1852.5,823.8" fill="none" stroke="#0000ff" stroke-width="2.6" stroke-linejoin="round"/>
<polyline points="1421.7,787.9 1423.0,792.7 1424.3,787.4 1425.6,788.8 1426.9,780.8 1428.2,786.1 1429.6,787.9 1430.9,790.5 1432.2,801.5 1433.5,794.4 1434.8,803.5 1436.1,801.7 1437.4,803.5 1438.7,800.4 1440.0,806.9 1441.3,804.3 1442.7,813.4 1444.0,810.6 1445.3,809.4 1446.6,814.2 1447.9,816.1 1449.2,815.9 1450.5,814.3 1451.8,812.1 1453.1,814.6 1454.4,813.2 1455.7,824.3 1457.1,821.3 1458.4,818.6 1459.7,811.9 1461.0,815.6 1462.3,811.0 1463.6,809.1 1464.9,812.7 1466.2,815.4 1467.5,808.7 1468.8,814.3 1470.1,813.7 1471.5,811.4 1472.8,815.5 1474.1,812.1 1475.4,819.6 1476.7,815.5 1478.0,814.2 1479.3,816.9 1480.6,810.1 1481.9,808.9 1483.2,808.3 1484.6,813.1 1485.9,812.5 1487.2,815.3 1488.5,821.8 1489.8,816.4 1491.1,821.7 1492.4,815.7 1493.7,810.4 1495.0,811.9 1496.3,816.2 1497.6,807.4 1499.0,814.5 1500.3,814.6 1501.6,815.5 1502.9,815.5 1504.2,810.2 1505.5,807.9 1506.8,810.1 1508.1,807.9 1509.4,802.7 1510.7,807.3 1512.1,809.4 1513.4,810.8 1514.7,802.2 1516.0,803.9 1517.3,809.3 1518.6,806.4 1519.9,806.4 1521.2,808.6 1522.5,812.0 1523.8,807.0 1525.1,818.0 1526.5,821.5 1527.8,822.1 1529.1,819.5 1530.4,823.7 1531.7,828.5 1533.0,824.4 1534.3,824.2 1535.6,826.4 1536.9,821.2 1538.2,814.7 1539.5,813.4 1540.9,809.9 1542.2,811.6 1543.5,814.7 1544.8,814.5 1546.1,819.1 1547.4,817.5 1548.7,816.3 1550.0,816.7 1551.3,820.9 1552.6,815.5 1554.0,807.4 1555.3,813.8 1556.6,814.3 1557.9,810.1 1559.2,815.4 1560.5,812.0 1561.8,804.5 1563.1,797.4 1564.4,799.3 1565.7,801.1 1567.0,799.5 1568.4,801.6 1569.7,807.0 1571.0,804.9 1572.3,803.5 1573.6,812.0 1574.9,812.1 1576.2,811.7 1577.5,812.9 1578.8,811.2 1580.1,809.4 1581.4,810.6 1582.8,810.3 1584.1,813.6 1585.4,813.6 1586.7,819.4 1588.0,814.3 1589.3,817.2 1590.6,814.2 1591.9,815.9 1593.2,814.4 1594.5,823.0 1595.9,820.5 1597.2,819.2 1598.5,821.5 1599.8,822.1 1601.1,819.3 1602.4,818.3 1603.7,818.4 1605.0,820.2 1606.3,817.3 1607.6,820.0 1608.9,822.2 1610.3,822.3 1611.6,826.6 1612.9,828.7 1614.2,829.7 1615.5,817.3 1616.8,820.3 1618.1,816.6 1619.4,819.4 1620.7,816.3 1622.0,817.4 1623.4,822.2 1624.7,817.8 1626.0,820.6 1627.3,816.1 1628.6,813.0 1629.9,808.6 1631.2,811.3 1632.5,815.2 1633.8,818.4 1635.1,813.9 1636.4,820.7 1637.8,818.2 1639.1,819.8 1640.4,815.3 1641.7,818.2 1643.0,820.3 1644.3,821.3 1645.6,817.7 1646.9,815.0 1648.2,815.3 1649.5,812.2 1650.8,810.9 1652.2,808.5 1653.5,811.0 1654.8,808.6 1656.1,812.1 1657.4,810.2 1658.7,814.6 1660.0,817.6 1661.3,811.9 1662.6,814.8 1663.9,813.7 1665.3,804.6 1666.6,805.4 1667.9,807.6 1669.2,808.8 1670.5,803.9 1671.8,810.3 1673.1,815.0 1674.4,807.4 1675.7,814.2 1677.0,808.4 1678.3,811.6 1679.7,811.3 1681.0,807.5 1682.3,809.0 1683.6,810.7 1684.9,805.4 1686.2,807.8 1687.5,813.3 1688.8,809.3 1690.1,812.5 1691.4,812.2 1692.8,815.1 1694.1,815.1 1695.4,812.6 1696.7,821.9 1698.0,809.2 1699.3,807.5 1700.6,814.3 1701.9,813.4 1703.2,816.6 1704.5,810.2 1705.8,815.4 1707.2,814.2 1708.5,817.2 1709.8,812.3 1711.1,814.8 1712.4,818.6 1713.7,813.6 1715.0,815.8 1716.3,803.3 1717.6,804.9 1718.9,802.7 1720.2,803.2 1721.6,801.4 1722.9,807.3 1724.2,807.4 1725.5,810.5 1726.8,804.4 1728.1,808.0 1729.4,813.0 1730.7,812.3 1732.0,798.9 1733.3,799.7 1734.7,804.8 1736.0,806.0 1737.3,807.0 1738.6,810.0 1739.9,814.2 1741.2,809.4 1742.5,809.5 1743.8,809.0 1745.1,807.0 1746.4,810.6 1747.7,806.2 1749.1,805.5 1750.4,814.1 1751.7,817.0 1753.0,815.8 1754.3,819.3 1755.6,816.0 1756.9,821.5 1758.2,817.4 1759.5,812.8 1760.8,820.2 1762.1,819.2 1763.5,819.3 1764.8,819.9 1766.1,817.5 1767.4,817.0 1768.7,807.9 1770.0,807.1 1771.3,807.6 1772.6,813.8 1773.9,817.4 1775.2,815.1 1776.6,819.6 1777.9,813.8 1779.2,809.4 1780.5,813.6 1781.8,809.4 1783.1,810.8 1784.4,801.9 1785.7,800.9 1787.0,801.5 1788.3,803.0 1789.6,803.4 1791.0,813.3 1792.3,812.9 1793.6,813.2 1794.9,813.9 1796.2,804.3 1797.5,809.6 1798.8,805.0 1800.1,804.2 1801.4,810.0 1802.7,815.5 1804.1,814.4 1805.4,812.6 1806.7,809.6 1808.0,802.4 1809.3,808.6 1810.6,809.4 1811.9,814.4 1813.2,809.2 1814.5,807.2 1815.8,808.6 1817.1,806.7 1818.5,806.1 1819.8,813.4 1821.1,809.4 1822.4,814.0 1823.7,818.2 1825.0,813.8 1826.3,814.1 1827.6,825.2 1828.9,813.1 1830.2,819.9 1831.5,815.2 1832.9,816.1 1834.2,815.8 1835.5,810.0 1836.8,814.4 1838.1,816.0 1839.4,815.1 1840.7,814.0 1842.0,815.7 1843.3,817.7 1844.6,810.9 1846.0,816.3 1847.3,815.0 1848.6,817.1 1849.9,811.6 1851.2,819.0 1852.5,814.1" fill="none" stroke="#008000" stroke-width="2.6" stroke-linejoin="round"/>
</g>
<rect x="1421.7" y="557.6" width="430.8" height="378.6" fill="none" stroke="#000" stroke-width="2.7"/>
<line x1="1415.9" y1="898.3" x2="1421.7" y2="898.3" stroke="#000" stroke-width="2.3"/>
<text x="1406.3" y="908.7" font-size="29" text-anchor="end" >0</text>
<line x1="1415.9" y1="746.9" x2="1421.7" y2="746.9" stroke="#000" stroke-width="2.3"/>
<text x="1406.3" y="757.3" font-size="29" text-anchor="end" >20</text>
<line x1="1415.9" y1="595.5" x2="1421.7" y2="595.5" stroke="#000" stroke-width="2.3"/>
<text x="1406.3" y="605.9" font-size="29" text-anchor="end" >40</text>
<text x="0" y="0" font-size="29" text-anchor="middle" transform="translate(1353.6,746.9) rotate(-90)">Z position (nm)</text>
<line x1="1421.7" y1="1310.5" x2="1852.5" y2="1310.5" stroke="#c4c4c4" stroke-width="2.2" stroke-dasharray="2.6 3.9"/>
<line x1="1421.7" y1="1234.8" x2="1852.5" y2="1234.8" stroke="#c4c4c4" stroke-width="2.2" stroke-dasharray="2.6 3.9"/>
<line x1="1421.7" y1="1159.1" x2="1852.5" y2="1159.1" stroke="#c4c4c4" stroke-width="2.2" stroke-dasharray="2.6 3.9"/>
<line x1="1421.7" y1="1083.4" x2="1852.5" y2="1083.4" stroke="#c4c4c4" stroke-width="2.2" stroke-dasharray="2.6 3.9"/>
<line x1="1421.7" y1="1007.7" x2="1852.5" y2="1007.7" stroke="#c4c4c4" stroke-width="2.2" stroke-dasharray="2.6 3.9"/>
<line x1="1565.3" y1="969.8" x2="1565.3" y2="1348.4" stroke="#c4c4c4" stroke-width="2.2" stroke-dasharray="2.6 3.9"/>
<line x1="1708.9" y1="969.8" x2="1708.9" y2="1348.4" stroke="#c4c4c4" stroke-width="2.2" stroke-dasharray="2.6 3.9"/>
<clipPath id="ch1"><rect x="1421.7" y="969.8" width="430.8" height="378.6"/></clipPath>
<g clip-path="url(#ch1)">
<polygon points="1421.7,1310.5 1421.7,1244.8 1423.0,1249.4 1424.3,1242.5 1425.6,1238.2 1426.9,1249.3 1428.2,1244.9 1429.6,1250.0 1430.9,1245.5 1432.2,1250.0 1433.5,1249.6 1434.8,1242.6 1436.1,1243.7 1437.4,1248.9 1438.7,1249.7 1440.0,1250.5 1441.3,1246.0 1442.7,1244.6 1444.0,1249.0 1445.3,1241.8 1446.6,1242.3 1447.9,1248.8 1449.2,1245.8 1450.5,1240.9 1451.8,1247.9 1453.1,1242.9 1454.4,1241.3 1455.7,1242.5 1457.1,1241.4 1458.4,1239.4 1459.7,1244.0 1461.0,1242.8 1462.3,1247.8 1463.6,1244.5 1464.9,1243.8 1466.2,1248.1 1467.5,1237.9 1468.8,1235.9 1470.1,1243.3 1471.5,1248.6 1472.8,1245.6 1474.1,1245.3 1475.4,1244.0 1476.7,1241.3 1478.0,1243.1 1479.3,1243.9 1480.6,1240.9 1481.9,1231.0 1483.2,1237.2 1484.6,1237.4 1485.9,1236.0 1487.2,1230.0 1488.5,1235.2 1489.8,1241.7 1491.1,1236.5 1492.4,1234.3 1493.7,1239.1 1495.0,1238.6 1496.3,1239.2 1497.6,1232.4 1499.0,1239.6 1500.3,1242.0 1501.6,1246.9 1502.9,1242.7 1504.2,1237.9 1505.5,1235.4 1506.8,1234.3 1508.1,1229.0 1509.4,1230.3 1510.7,1231.9 1512.1,1238.1 1513.4,1232.9 1514.7,1236.5 1516.0,1235.5 1517.3,1233.4 1518.6,1235.4 1519.9,1233.4 1521.2,1245.9 1522.5,1239.2 1523.8,1244.6 1525.1,1241.4 1526.5,1243.4 1527.8,1230.5 1529.1,1232.3 1530.4,1233.2 1531.7,1238.6 1533.0,1233.8 1534.3,1242.0 1535.6,1248.2 1536.9,1242.6 1538.2,1242.9 1539.5,1247.3 1540.9,1240.2 1542.2,1239.9 1543.5,1242.7 1544.8,1244.8 1546.1,1234.1 1547.4,1236.9 1548.7,1238.1 1550.0,1238.9 1551.3,1233.4 1552.6,1232.5 1554.0,1236.4 1555.3,1235.7 1556.6,1234.8 1557.9,1232.6 1559.2,1233.3 1560.5,1235.4 1561.8,1234.0 1563.1,1234.7 1564.4,1232.9 1565.7,1233.3 1567.0,1231.0 1568.4,1234.1 1569.7,1231.1 1571.0,1225.2 1572.3,1227.3 1573.6,1226.3 1574.9,1226.9 1576.2,1223.3 1577.5,1223.2 1578.8,1224.6 1580.1,1223.4 1581.4,1227.6 1582.8,1230.7 1584.1,1229.3 1585.4,1230.7 1586.7,1233.1 1588.0,1230.8 1589.3,1232.6 1590.6,1227.3 1591.9,1224.1 1593.2,1219.8 1594.5,1218.6 1595.9,1217.6 1597.2,1208.8 1598.5,1213.4 1599.8,1198.1 1601.1,1197.0 1602.4,1192.6 1603.7,1189.9 1605.0,1176.0 1606.3,1173.1 1607.6,1170.1 1608.9,1162.5 1610.3,1153.0 1611.6,1144.0 1612.9,1138.1 1614.2,1123.2 1615.5,1114.5 1616.8,1103.9 1618.1,1102.6 1619.4,1091.9 1620.7,1090.5 1622.0,1081.8 1623.4,1075.1 1624.7,1070.8 1626.0,1060.6 1627.3,1063.3 1628.6,1065.7 1629.9,1060.8 1631.2,1050.7 1632.5,1045.8 1633.8,1038.4 1635.1,1034.7 1636.4,1034.1 1637.8,1027.0 1639.1,1021.5 1640.4,1023.7 1641.7,1023.9 1643.0,1019.0 1644.3,1024.3 1645.6,1021.4 1646.9,1018.2 1648.2,1024.6 1649.5,1026.1 1650.8,1034.6 1652.2,1032.1 1653.5,1027.5 1654.8,1019.9 1656.1,1029.6 1657.4,1018.6 1658.7,1026.4 1660.0,1029.0 1661.3,1028.4 1662.6,1029.0 1663.9,1023.6 1665.3,1019.7 1666.6,1025.4 1667.9,1018.0 1669.2,1019.6 1670.5,1014.3 1671.8,1011.4 1673.1,1008.5 1674.4,1018.2 1675.7,1011.4 1677.0,1013.7 1678.3,1011.4 1679.7,1008.8 1681.0,1007.7 1682.3,1013.7 1683.6,1008.7 1684.9,1009.6 1686.2,1014.0 1687.5,1011.5 1688.8,1008.5 1690.1,1013.7 1691.4,1015.4 1692.8,1017.2 1694.1,1015.3 1695.4,1017.8 1696.7,1023.5 1698.0,1021.3 1699.3,1029.2 1700.6,1015.5 1701.9,1018.4 1703.2,1009.7 1704.5,1009.0 1705.8,1004.4 1707.2,1001.0 1708.5,1000.5 1709.8,1004.9 1711.1,1005.7 1712.4,1006.6 1713.7,1005.3 1715.0,1004.5 1716.3,1003.8 1717.6,999.9 1718.9,995.1 1720.2,996.2 1721.6,995.5 1722.9,998.7 1724.2,993.9 1725.5,995.8 1726.8,993.1 1728.1,994.4 1729.4,994.0 1730.7,989.9 1732.0,988.9 1733.3,984.2 1734.7,986.5 1736.0,985.3 1737.3,983.1 1738.6,988.3 1739.9,988.7 1741.2,985.7 1742.5,979.3 1743.8,981.0 1745.1,979.6 1746.4,980.1 1747.7,983.1 1749.1,986.0 1750.4,979.3 1751.7,975.6 1753.0,969.2 1754.3,969.9 1755.6,973.0 1756.9,972.3 1758.2,973.3 1759.5,971.5 1760.8,964.6 1762.1,970.0 1763.5,972.0 1764.8,975.1 1766.1,978.3 1767.4,977.4 1768.7,973.0 1770.0,975.0 1771.3,972.2 1772.6,975.0 1773.9,975.1 1775.2,973.3 1776.6,970.0 1777.9,966.1 1779.2,968.6 1780.5,967.9 1781.8,973.2 1783.1,970.1 1784.4,977.6 1785.7,978.1 1787.0,976.3 1788.3,985.8 1789.6,977.2 1791.0,976.5 1792.3,972.4 1793.6,978.3 1794.9,968.7 1796.2,970.0 1797.5,971.2 1798.8,979.6 1800.1,977.3 1801.4,981.3 1802.7,975.4 1804.1,982.0 1805.4,980.5 1806.7,973.0 1808.0,977.3 1809.3,974.6 1810.6,976.4 1811.9,971.8 1813.2,980.5 1814.5,972.0 1815.8,974.0 1817.1,976.3 1818.5,971.2 1819.8,969.9 1821.1,973.6 1822.4,970.0 1823.7,965.4 1825.0,966.0 1826.3,971.7 1827.6,967.2 1828.9,971.6 1830.2,972.5 1831.5,972.7 1832.9,971.6 1834.2,973.7 1835.5,971.7 1836.8,967.5 1838.1,972.1 1839.4,976.8 1840.7,976.9 1842.0,977.4 1843.3,975.9 1844.6,972.4 1846.0,978.7 1847.3,975.1 1848.6,974.5 1849.9,975.6 1851.2,978.8 1852.5,975.2 1852.5,1310.5" fill="#f1e8e8"/>
<polyline points="1421.7,1310.5 1852.5,1310.5" fill="none" stroke="#bc8f8f" stroke-width="2.6" stroke-linejoin="round"/>
<polyline points="1421.7,1244.8 1423.0,1249.4 1424.3,1242.5 1425.6,1238.2 1426.9,1249.3 1428.2,1244.9 1429.6,1250.0 1430.9,1245.5 1432.2,1250.0 1433.5,1249.6 1434.8,1242.6 1436.1,1243.7 1437.4,1248.9 1438.7,1249.7 1440.0,1250.5 1441.3,1246.0 1442.7,1244.6 1444.0,1249.0 1445.3,1241.8 1446.6,1242.3 1447.9,1248.8 1449.2,1245.8 1450.5,1240.9 1451.8,1247.9 1453.1,1242.9 1454.4,1241.3 1455.7,1242.5 1457.1,1241.4 1458.4,1239.4 1459.7,1244.0 1461.0,1242.8 1462.3,1247.8 1463.6,1244.5 1464.9,1243.8 1466.2,1248.1 1467.5,1237.9 1468.8,1235.9 1470.1,1243.3 1471.5,1248.6 1472.8,1245.6 1474.1,1245.3 1475.4,1244.0 1476.7,1241.3 1478.0,1243.1 1479.3,1243.9 1480.6,1240.9 1481.9,1231.0 1483.2,1237.2 1484.6,1237.4 1485.9,1236.0 1487.2,1230.0 1488.5,1235.2 1489.8,1241.7 1491.1,1236.5 1492.4,1234.3 1493.7,1239.1 1495.0,1238.6 1496.3,1239.2 1497.6,1232.4 1499.0,1239.6 1500.3,1242.0 1501.6,1246.9 1502.9,1242.7 1504.2,1237.9 1505.5,1235.4 1506.8,1234.3 1508.1,1229.0 1509.4,1230.3 1510.7,1231.9 1512.1,1238.1 1513.4,1232.9 1514.7,1236.5 1516.0,1235.5 1517.3,1233.4 1518.6,1235.4 1519.9,1233.4 1521.2,1245.9 1522.5,1239.2 1523.8,1244.6 1525.1,1241.4 1526.5,1243.4 1527.8,1230.5 1529.1,1232.3 1530.4,1233.2 1531.7,1238.6 1533.0,1233.8 1534.3,1242.0 1535.6,1248.2 1536.9,1242.6 1538.2,1242.9 1539.5,1247.3 1540.9,1240.2 1542.2,1239.9 1543.5,1242.7 1544.8,1244.8 1546.1,1234.1 1547.4,1236.9 1548.7,1238.1 1550.0,1238.9 1551.3,1233.4 1552.6,1232.5 1554.0,1236.4 1555.3,1235.7 1556.6,1234.8 1557.9,1232.6 1559.2,1233.3 1560.5,1235.4 1561.8,1234.0 1563.1,1234.7 1564.4,1232.9 1565.7,1233.3 1567.0,1231.0 1568.4,1234.1 1569.7,1231.1 1571.0,1225.2 1572.3,1227.3 1573.6,1226.3 1574.9,1226.9 1576.2,1223.3 1577.5,1223.2 1578.8,1224.6 1580.1,1223.4 1581.4,1227.6 1582.8,1230.7 1584.1,1229.3 1585.4,1230.7 1586.7,1233.1 1588.0,1230.8 1589.3,1232.6 1590.6,1227.3 1591.9,1224.1 1593.2,1219.8 1594.5,1218.6 1595.9,1217.6 1597.2,1208.8 1598.5,1213.4 1599.8,1198.1 1601.1,1197.0 1602.4,1192.6 1603.7,1189.9 1605.0,1176.0 1606.3,1173.1 1607.6,1170.1 1608.9,1162.5 1610.3,1153.0 1611.6,1144.0 1612.9,1138.1 1614.2,1123.2 1615.5,1114.5 1616.8,1103.9 1618.1,1102.6 1619.4,1091.9 1620.7,1090.5 1622.0,1081.8 1623.4,1075.1 1624.7,1070.8 1626.0,1060.6 1627.3,1063.3 1628.6,1065.7 1629.9,1060.8 1631.2,1050.7 1632.5,1045.8 1633.8,1038.4 1635.1,1034.7 1636.4,1034.1 1637.8,1027.0 1639.1,1021.5 1640.4,1023.7 1641.7,1023.9 1643.0,1019.0 1644.3,1024.3 1645.6,1021.4 1646.9,1018.2 1648.2,1024.6 1649.5,1026.1 1650.8,1034.6 1652.2,1032.1 1653.5,1027.5 1654.8,1019.9 1656.1,1029.6 1657.4,1018.6 1658.7,1026.4 1660.0,1029.0 1661.3,1028.4 1662.6,1029.0 1663.9,1023.6 1665.3,1019.7 1666.6,1025.4 1667.9,1018.0 1669.2,1019.6 1670.5,1014.3 1671.8,1011.4 1673.1,1008.5 1674.4,1018.2 1675.7,1011.4 1677.0,1013.7 1678.3,1011.4 1679.7,1008.8 1681.0,1007.7 1682.3,1013.7 1683.6,1008.7 1684.9,1009.6 1686.2,1014.0 1687.5,1011.5 1688.8,1008.5 1690.1,1013.7 1691.4,1015.4 1692.8,1017.2 1694.1,1015.3 1695.4,1017.8 1696.7,1023.5 1698.0,1021.3 1699.3,1029.2 1700.6,1015.5 1701.9,1018.4 1703.2,1009.7 1704.5,1009.0 1705.8,1004.4 1707.2,1001.0 1708.5,1000.5 1709.8,1004.9 1711.1,1005.7 1712.4,1006.6 1713.7,1005.3 1715.0,1004.5 1716.3,1003.8 1717.6,999.9 1718.9,995.1 1720.2,996.2 1721.6,995.5 1722.9,998.7 1724.2,993.9 1725.5,995.8 1726.8,993.1 1728.1,994.4 1729.4,994.0 1730.7,989.9 1732.0,988.9 1733.3,984.2 1734.7,986.5 1736.0,985.3 1737.3,983.1 1738.6,988.3 1739.9,988.7 1741.2,985.7 1742.5,979.3 1743.8,981.0 1745.1,979.6 1746.4,980.1 1747.7,983.1 1749.1,986.0 1750.4,979.3 1751.7,975.6 1753.0,969.2 1754.3,969.9 1755.6,973.0 1756.9,972.3 1758.2,973.3 1759.5,971.5 1760.8,964.6 1762.1,970.0 1763.5,972.0 1764.8,975.1 1766.1,978.3 1767.4,977.4 1768.7,973.0 1770.0,975.0 1771.3,972.2 1772.6,975.0 1773.9,975.1 1775.2,973.3 1776.6,970.0 1777.9,966.1 1779.2,968.6 1780.5,967.9 1781.8,973.2 1783.1,970.1 1784.4,977.6 1785.7,978.1 1787.0,976.3 1788.3,985.8 1789.6,977.2 1791.0,976.5 1792.3,972.4 1793.6,978.3 1794.9,968.7 1796.2,970.0 1797.5,971.2 1798.8,979.6 1800.1,977.3 1801.4,981.3 1802.7,975.4 1804.1,982.0 1805.4,980.5 1806.7,973.0 1808.0,977.3 1809.3,974.6 1810.6,976.4 1811.9,971.8 1813.2,980.5 1814.5,972.0 1815.8,974.0 1817.1,976.3 1818.5,971.2 1819.8,969.9 1821.1,973.6 1822.4,970.0 1823.7,965.4 1825.0,966.0 1826.3,971.7 1827.6,967.2 1828.9,971.6 1830.2,972.5 1831.5,972.7 1832.9,971.6 1834.2,973.7 1835.5,971.7 1836.8,967.5 1838.1,972.1 1839.4,976.8 1840.7,976.9 1842.0,977.4 1843.3,975.9 1844.6,972.4 1846.0,978.7 1847.3,975.1 1848.6,974.5 1849.9,975.6 1851.2,978.8 1852.5,975.2" fill="none" stroke="#bc8f8f" stroke-width="2.6" stroke-linejoin="round"/>
<polyline points="1421.7,1200.9 1423.0,1209.9 1424.3,1203.5 1425.6,1205.3 1426.9,1200.5 1428.2,1196.4 1429.6,1201.8 1430.9,1194.5 1432.2,1193.7 1433.5,1183.2 1434.8,1193.8 1436.1,1191.4 1437.4,1195.3 1438.7,1194.9 1440.0,1199.5 1441.3,1202.8 1442.7,1213.9 1444.0,1217.7 1445.3,1219.4 1446.6,1211.2 1447.9,1215.6 1449.2,1207.1 1450.5,1213.3 1451.8,1206.9 1453.1,1216.1 1454.4,1214.6 1455.7,1216.1 1457.1,1213.1 1458.4,1211.9 1459.7,1210.4 1461.0,1212.2 1462.3,1213.3 1463.6,1211.0 1464.9,1211.2 1466.2,1216.9 1467.5,1222.8 1468.8,1218.1 1470.1,1222.8 1471.5,1226.6 1472.8,1220.1 1474.1,1227.0 1475.4,1218.9 1476.7,1222.3 1478.0,1226.2 1479.3,1228.1 1480.6,1226.5 1481.9,1225.6 1483.2,1227.1 1484.6,1220.5 1485.9,1226.3 1487.2,1225.4 1488.5,1232.1 1489.8,1223.4 1491.1,1220.1 1492.4,1218.5 1493.7,1223.7 1495.0,1219.7 1496.3,1227.1 1497.6,1228.8 1499.0,1223.3 1500.3,1226.2 1501.6,1219.4 1502.9,1216.2 1504.2,1221.6 1505.5,1222.4 1506.8,1219.6 1508.1,1224.9 1509.4,1226.6 1510.7,1221.0 1512.1,1222.9 1513.4,1225.4 1514.7,1225.8 1516.0,1227.5 1517.3,1226.1 1518.6,1235.9 1519.9,1233.4 1521.2,1219.9 1522.5,1226.4 1523.8,1225.2 1525.1,1224.2 1526.5,1230.2 1527.8,1230.5 1529.1,1219.1 1530.4,1230.1 1531.7,1222.1 1533.0,1232.4 1534.3,1224.3 1535.6,1232.6 1536.9,1233.7 1538.2,1232.1 1539.5,1230.9 1540.9,1233.1 1542.2,1231.8 1543.5,1233.7 1544.8,1231.7 1546.1,1234.3 1547.4,1229.1 1548.7,1222.0 1550.0,1222.7 1551.3,1221.2 1552.6,1226.5 1554.0,1217.6 1555.3,1228.3 1556.6,1230.7 1557.9,1232.4 1559.2,1225.2 1560.5,1232.3 1561.8,1228.7 1563.1,1231.8 1564.4,1237.6 1565.7,1233.9 1567.0,1232.9 1568.4,1231.1 1569.7,1231.1 1571.0,1224.8 1572.3,1227.6 1573.6,1218.4 1574.9,1220.7 1576.2,1227.4 1577.5,1232.7 1578.8,1226.4 1580.1,1234.6 1581.4,1235.6 1582.8,1237.8 1584.1,1230.2 1585.4,1228.3 1586.7,1222.5 1588.0,1221.2 1589.3,1226.8 1590.6,1225.5 1591.9,1228.3 1593.2,1230.3 1594.5,1232.2 1595.9,1233.5 1597.2,1229.5 1598.5,1223.7 1599.8,1227.0 1601.1,1216.5 1602.4,1221.1 1603.7,1225.3 1605.0,1223.5 1606.3,1228.7 1607.6,1234.3 1608.9,1229.4 1610.3,1234.7 1611.6,1234.8 1612.9,1233.1 1614.2,1232.1 1615.5,1230.3 1616.8,1229.2 1618.1,1226.1 1619.4,1223.2 1620.7,1224.8 1622.0,1225.3 1623.4,1233.3 1624.7,1229.0 1626.0,1230.8 1627.3,1227.1 1628.6,1228.2 1629.9,1231.2 1631.2,1233.4 1632.5,1231.1 1633.8,1231.5 1635.1,1226.9 1636.4,1224.7 1637.8,1221.8 1639.1,1224.7 1640.4,1218.2 1641.7,1217.4 1643.0,1219.7 1644.3,1227.3 1645.6,1223.5 1646.9,1224.8 1648.2,1234.1 1649.5,1234.8 1650.8,1228.4 1652.2,1230.1 1653.5,1233.1 1654.8,1233.4 1656.1,1237.4 1657.4,1229.6 1658.7,1232.4 1660.0,1230.1 1661.3,1229.6 1662.6,1226.9 1663.9,1225.2 1665.3,1226.0 1666.6,1228.3 1667.9,1228.8 1669.2,1234.7 1670.5,1231.1 1671.8,1224.0 1673.1,1229.7 1674.4,1229.2 1675.7,1234.3 1677.0,1233.9 1678.3,1229.5 1679.7,1231.5 1681.0,1230.7 1682.3,1224.1 1683.6,1222.0 1684.9,1224.7 1686.2,1224.1 1687.5,1229.6 1688.8,1225.3 1690.1,1229.9 1691.4,1225.2 1692.8,1230.5 1694.1,1225.9 1695.4,1228.4 1696.7,1226.4 1698.0,1231.7 1699.3,1230.8 1700.6,1228.3 1701.9,1224.8 1703.2,1228.0 1704.5,1230.3 1705.8,1235.6 1707.2,1229.2 1708.5,1233.9 1709.8,1234.1 1711.1,1222.9 1712.4,1224.6 1713.7,1225.7 1715.0,1233.4 1716.3,1230.8 1717.6,1229.9 1718.9,1227.1 1720.2,1225.3 1721.6,1223.0 1722.9,1225.8 1724.2,1232.4 1725.5,1236.8 1726.8,1227.9 1728.1,1229.6 1729.4,1222.0 1730.7,1215.9 1732.0,1218.8 1733.3,1216.2 1734.7,1215.5 1736.0,1215.9 1737.3,1224.3 1738.6,1225.8 1739.9,1226.1 1741.2,1220.6 1742.5,1223.3 1743.8,1226.2 1745.1,1226.2 1746.4,1222.9 1747.7,1225.6 1749.1,1225.0 1750.4,1223.7 1751.7,1222.7 1753.0,1225.9 1754.3,1232.8 1755.6,1238.0 1756.9,1238.2 1758.2,1237.9 1759.5,1233.8 1760.8,1232.3 1762.1,1231.7 1763.5,1221.6 1764.8,1231.7 1766.1,1225.3 1767.4,1226.6 1768.7,1228.0 1770.0,1235.3 1771.3,1230.6 1772.6,1228.9 1773.9,1236.5 1775.2,1222.7 1776.6,1227.1 1777.9,1225.4 1779.2,1228.9 1780.5,1226.8 1781.8,1230.5 1783.1,1235.0 1784.4,1236.3 1785.7,1227.7 1787.0,1226.5 1788.3,1226.0 1789.6,1225.7 1791.0,1220.1 1792.3,1228.4 1793.6,1231.1 1794.9,1225.1 1796.2,1226.2 1797.5,1228.4 1798.8,1224.0 1800.1,1226.7 1801.4,1229.4 1802.7,1230.5 1804.1,1223.0 1805.4,1227.8 1806.7,1223.4 1808.0,1225.2 1809.3,1230.5 1810.6,1220.4 1811.9,1222.8 1813.2,1221.3 1814.5,1226.8 1815.8,1225.4 1817.1,1224.8 1818.5,1224.8 1819.8,1218.7 1821.1,1223.0 1822.4,1225.1 1823.7,1222.7 1825.0,1232.5 1826.3,1228.5 1827.6,1223.6 1828.9,1231.5 1830.2,1233.2 1831.5,1233.2 1832.9,1233.4 1834.2,1226.9 1835.5,1234.2 1836.8,1227.7 1838.1,1221.5 1839.4,1218.7 1840.7,1221.9 1842.0,1224.5 1843.3,1225.5 1844.6,1224.6 1846.0,1230.5 1847.3,1230.7 1848.6,1230.9 1849.9,1231.6 1851.2,1225.4 1852.5,1226.2" fill="none" stroke="#ff0000" stroke-width="2.6" stroke-linejoin="round"/>
<polyline points="1421.7,1208.2 1423.0,1205.6 1424.3,1210.0 1425.6,1213.5 1426.9,1212.3 1428.2,1214.3 1429.6,1218.3 1430.9,1218.0 1432.2,1220.2 1433.5,1218.6 1434.8,1221.1 1436.1,1223.2 1437.4,1226.9 1438.7,1229.4 1440.0,1230.7 1441.3,1227.0 1442.7,1229.4 1444.0,1227.6 1445.3,1224.0 1446.6,1221.3 1447.9,1221.9 1449.2,1221.2 1450.5,1217.2 1451.8,1214.0 1453.1,1217.9 1454.4,1219.3 1455.7,1216.8 1457.1,1220.1 1458.4,1222.3 1459.7,1216.9 1461.0,1215.2 1462.3,1213.0 1463.6,1215.0 1464.9,1214.5 1466.2,1212.6 1467.5,1216.9 1468.8,1219.1 1470.1,1215.4 1471.5,1218.2 1472.8,1220.6 1474.1,1220.0 1475.4,1217.7 1476.7,1222.3 1478.0,1228.5 1479.3,1222.6 1480.6,1228.1 1481.9,1233.3 1483.2,1228.1 1484.6,1228.7 1485.9,1231.4 1487.2,1225.2 1488.5,1222.7 1489.8,1230.1 1491.1,1230.2 1492.4,1227.3 1493.7,1225.4 1495.0,1226.7 1496.3,1222.9 1497.6,1216.2 1499.0,1214.9 1500.3,1212.4 1501.6,1211.7 1502.9,1210.8 1504.2,1212.5 1505.5,1217.9 1506.8,1222.0 1508.1,1214.1 1509.4,1219.8 1510.7,1222.3 1512.1,1222.1 1513.4,1218.3 1514.7,1217.5 1516.0,1218.7 1517.3,1223.4 1518.6,1222.7 1519.9,1228.3 1521.2,1223.9 1522.5,1229.2 1523.8,1225.9 1525.1,1233.0 1526.5,1230.8 1527.8,1237.3 1529.1,1228.7 1530.4,1231.1 1531.7,1221.5 1533.0,1217.9 1534.3,1219.9 1535.6,1218.0 1536.9,1223.1 1538.2,1217.6 1539.5,1223.5 1540.9,1209.6 1542.2,1215.0 1543.5,1218.3 1544.8,1219.0 1546.1,1213.9 1547.4,1215.4 1548.7,1221.9 1550.0,1220.9 1551.3,1225.4 1552.6,1220.3 1554.0,1222.7 1555.3,1224.3 1556.6,1229.9 1557.9,1226.0 1559.2,1230.5 1560.5,1229.8 1561.8,1229.8 1563.1,1225.2 1564.4,1223.8 1565.7,1225.9 1567.0,1226.6 1568.4,1231.2 1569.7,1233.5 1571.0,1228.6 1572.3,1232.0 1573.6,1225.0 1574.9,1222.7 1576.2,1219.7 1577.5,1224.0 1578.8,1220.4 1580.1,1217.8 1581.4,1220.4 1582.8,1219.4 1584.1,1217.8 1585.4,1215.8 1586.7,1221.1 1588.0,1219.5 1589.3,1232.4 1590.6,1231.3 1591.9,1229.3 1593.2,1227.1 1594.5,1231.7 1595.9,1229.5 1597.2,1228.5 1598.5,1224.5 1599.8,1225.9 1601.1,1222.1 1602.4,1219.9 1603.7,1224.4 1605.0,1221.8 1606.3,1222.8 1607.6,1220.8 1608.9,1226.6 1610.3,1224.8 1611.6,1219.2 1612.9,1216.5 1614.2,1222.1 1615.5,1216.5 1616.8,1225.1 1618.1,1221.8 1619.4,1229.3 1620.7,1225.4 1622.0,1226.3 1623.4,1217.2 1624.7,1217.4 1626.0,1206.1 1627.3,1201.8 1628.6,1207.8 1629.9,1192.7 1631.2,1200.6 1632.5,1199.8 1633.8,1200.0 1635.1,1198.5 1636.4,1198.4 1637.8,1190.2 1639.1,1187.3 1640.4,1180.5 1641.7,1180.5 1643.0,1175.2 1644.3,1172.3 1645.6,1170.2 1646.9,1175.7 1648.2,1173.6 1649.5,1186.2 1650.8,1180.8 1652.2,1185.1 1653.5,1187.2 1654.8,1179.9 1656.1,1170.0 1657.4,1173.0 1658.7,1170.2 1660.0,1163.1 1661.3,1165.8 1662.6,1176.6 1663.9,1174.0 1665.3,1175.4 1666.6,1172.8 1667.9,1172.4 1669.2,1164.0 1670.5,1164.9 1671.8,1167.0 1673.1,1163.9 1674.4,1162.5 1675.7,1165.0 1677.0,1168.6 1678.3,1166.8 1679.7,1163.4 1681.0,1168.0 1682.3,1170.1 1683.6,1168.1 1684.9,1172.9 1686.2,1173.7 1687.5,1178.6 1688.8,1173.6 1690.1,1184.6 1691.4,1181.1 1692.8,1184.9 1694.1,1179.3 1695.4,1185.5 1696.7,1186.6 1698.0,1194.5 1699.3,1189.1 1700.6,1191.8 1701.9,1189.5 1703.2,1190.0 1704.5,1191.0 1705.8,1188.6 1707.2,1186.7 1708.5,1185.4 1709.8,1189.5 1711.1,1185.9 1712.4,1187.0 1713.7,1186.4 1715.0,1186.7 1716.3,1181.6 1717.6,1186.9 1718.9,1190.7 1720.2,1188.4 1721.6,1192.2 1722.9,1192.0 1724.2,1192.7 1725.5,1196.2 1726.8,1197.3 1728.1,1195.3 1729.4,1195.0 1730.7,1194.1 1732.0,1190.9 1733.3,1195.2 1734.7,1195.1 1736.0,1197.8 1737.3,1198.3 1738.6,1198.1 1739.9,1197.6 1741.2,1200.3 1742.5,1195.7 1743.8,1187.3 1745.1,1195.4 1746.4,1195.0 1747.7,1190.7 1749.1,1188.3 1750.4,1190.4 1751.7,1185.5 1753.0,1180.5 1754.3,1180.3 1755.6,1181.1 1756.9,1179.3 1758.2,1178.7 1759.5,1177.7 1760.8,1180.4 1762.1,1186.7 1763.5,1181.7 1764.8,1184.6 1766.1,1184.7 1767.4,1178.4 1768.7,1185.3 1770.0,1186.3 1771.3,1179.9 1772.6,1180.0 1773.9,1174.6 1775.2,1174.8 1776.6,1167.2 1777.9,1159.7 1779.2,1158.6 1780.5,1150.9 1781.8,1150.0 1783.1,1155.7 1784.4,1161.9 1785.7,1169.0 1787.0,1160.0 1788.3,1165.2 1789.6,1159.2 1791.0,1166.2 1792.3,1175.0 1793.6,1181.8 1794.9,1179.9 1796.2,1179.0 1797.5,1180.6 1798.8,1177.3 1800.1,1177.1 1801.4,1180.6 1802.7,1184.2 1804.1,1183.4 1805.4,1184.1 1806.7,1190.3 1808.0,1185.0 1809.3,1190.1 1810.6,1185.7 1811.9,1191.7 1813.2,1183.2 1814.5,1187.1 1815.8,1186.8 1817.1,1180.4 1818.5,1188.7 1819.8,1187.5 1821.1,1184.9 1822.4,1177.5 1823.7,1177.4 1825.0,1181.6 1826.3,1179.7 1827.6,1172.7 1828.9,1185.0 1830.2,1182.6 1831.5,1184.0 1832.9,1184.2 1834.2,1187.7 1835.5,1185.6 1836.8,1189.4 1838.1,1190.1 1839.4,1194.7 1840.7,1188.5 1842.0,1186.1 1843.3,1184.4 1844.6,1198.1 1846.0,1185.7 1847.3,1189.0 1848.6,1200.9 1849.9,1194.1 1851.2,1197.2 1852.5,1199.4" fill="none" stroke="#0000ff" stroke-width="2.6" stroke-linejoin="round"/>
<polyline points="1421.7,1219.3 1423.0,1222.7 1424.3,1220.5 1425.6,1226.4 1426.9,1230.3 1428.2,1222.8 1429.6,1221.1 1430.9,1221.1 1432.2,1218.3 1433.5,1225.6 1434.8,1227.0 1436.1,1226.3 1437.4,1226.9 1438.7,1230.1 1440.0,1234.9 1441.3,1236.4 1442.7,1238.4 1444.0,1236.3 1445.3,1231.4 1446.6,1234.8 1447.9,1237.2 1449.2,1242.0 1450.5,1234.6 1451.8,1241.3 1453.1,1241.1 1454.4,1239.2 1455.7,1235.7 1457.1,1233.5 1458.4,1231.8 1459.7,1227.9 1461.0,1235.3 1462.3,1239.4 1463.6,1231.3 1464.9,1229.5 1466.2,1236.6 1467.5,1225.5 1468.8,1224.5 1470.1,1227.4 1471.5,1228.8 1472.8,1229.9 1474.1,1235.8 1475.4,1235.9 1476.7,1241.4 1478.0,1238.8 1479.3,1239.5 1480.6,1236.1 1481.9,1236.0 1483.2,1241.8 1484.6,1239.9 1485.9,1233.0 1487.2,1234.7 1488.5,1240.6 1489.8,1233.5 1491.1,1238.4 1492.4,1232.5 1493.7,1236.4 1495.0,1222.9 1496.3,1228.4 1497.6,1230.1 1499.0,1228.0 1500.3,1227.5 1501.6,1228.0 1502.9,1229.8 1504.2,1225.7 1505.5,1230.7 1506.8,1233.0 1508.1,1237.0 1509.4,1235.2 1510.7,1235.4 1512.1,1232.6 1513.4,1234.9 1514.7,1234.0 1516.0,1232.0 1517.3,1238.6 1518.6,1227.2 1519.9,1232.4 1521.2,1228.6 1522.5,1226.5 1523.8,1225.6 1525.1,1224.7 1526.5,1227.9 1527.8,1228.1 1529.1,1239.8 1530.4,1229.5 1531.7,1232.9 1533.0,1228.5 1534.3,1227.0 1535.6,1221.2 1536.9,1223.2 1538.2,1222.6 1539.5,1229.6 1540.9,1230.9 1542.2,1230.1 1543.5,1233.1 1544.8,1226.0 1546.1,1235.0 1547.4,1224.9 1548.7,1229.0 1550.0,1231.7 1551.3,1224.7 1552.6,1234.0 1554.0,1234.6 1555.3,1234.0 1556.6,1233.5 1557.9,1237.2 1559.2,1240.0 1560.5,1234.1 1561.8,1239.8 1563.1,1237.2 1564.4,1236.3 1565.7,1237.7 1567.0,1228.5 1568.4,1230.4 1569.7,1233.5 1571.0,1233.7 1572.3,1226.6 1573.6,1232.0 1574.9,1230.7 1576.2,1230.1 1577.5,1232.3 1578.8,1229.4 1580.1,1231.9 1581.4,1237.4 1582.8,1237.2 1584.1,1238.1 1585.4,1236.3 1586.7,1228.0 1588.0,1230.7 1589.3,1222.2 1590.6,1225.1 1591.9,1222.0 1593.2,1220.5 1594.5,1221.3 1595.9,1220.0 1597.2,1218.0 1598.5,1225.0 1599.8,1221.9 1601.1,1220.2 1602.4,1223.8 1603.7,1227.4 1605.0,1226.7 1606.3,1220.5 1607.6,1224.3 1608.9,1222.2 1610.3,1223.9 1611.6,1227.9 1612.9,1221.5 1614.2,1220.3 1615.5,1222.2 1616.8,1218.3 1618.1,1216.9 1619.4,1216.9 1620.7,1212.8 1622.0,1209.8 1623.4,1209.9 1624.7,1216.4 1626.0,1215.7 1627.3,1210.8 1628.6,1219.9 1629.9,1219.0 1631.2,1219.9 1632.5,1215.2 1633.8,1215.5 1635.1,1218.0 1636.4,1210.2 1637.8,1212.9 1639.1,1207.6 1640.4,1213.0 1641.7,1218.6 1643.0,1225.7 1644.3,1218.5 1645.6,1211.8 1646.9,1217.6 1648.2,1210.0 1649.5,1215.2 1650.8,1216.6 1652.2,1224.6 1653.5,1220.4 1654.8,1225.9 1656.1,1217.0 1657.4,1219.8 1658.7,1223.2 1660.0,1221.8 1661.3,1225.0 1662.6,1219.5 1663.9,1222.8 1665.3,1215.1 1666.6,1225.6 1667.9,1214.9 1669.2,1218.7 1670.5,1216.3 1671.8,1225.5 1673.1,1222.4 1674.4,1227.3 1675.7,1228.1 1677.0,1230.6 1678.3,1223.6 1679.7,1223.6 1681.0,1222.6 1682.3,1228.1 1683.6,1221.8 1684.9,1226.5 1686.2,1223.5 1687.5,1227.1 1688.8,1227.9 1690.1,1230.3 1691.4,1227.2 1692.8,1225.3 1694.1,1226.1 1695.4,1221.4 1696.7,1215.6 1698.0,1214.9 1699.3,1220.1 1700.6,1216.7 1701.9,1228.6 1703.2,1221.3 1704.5,1231.5 1705.8,1229.5 1707.2,1227.2 1708.5,1227.9 1709.8,1230.8 1711.1,1237.1 1712.4,1237.0 1713.7,1232.0 1715.0,1230.9 1716.3,1232.0 1717.6,1230.3 1718.9,1230.2 1720.2,1221.0 1721.6,1226.5 1722.9,1224.2 1724.2,1226.0 1725.5,1225.3 1726.8,1221.8 1728.1,1226.5 1729.4,1217.9 1730.7,1226.4 1732.0,1231.8 1733.3,1234.8 1734.7,1231.4 1736.0,1231.6 1737.3,1231.8 1738.6,1227.6 1739.9,1229.8 1741.2,1229.9 1742.5,1222.7 1743.8,1226.6 1745.1,1227.0 1746.4,1226.0 1747.7,1221.1 1749.1,1222.6 1750.4,1219.8 1751.7,1223.7 1753.0,1223.5 1754.3,1219.0 1755.6,1216.6 1756.9,1224.8 1758.2,1222.8 1759.5,1223.5 1760.8,1228.8 1762.1,1235.4 1763.5,1229.7 1764.8,1221.9 1766.1,1227.6 1767.4,1220.4 1768.7,1224.7 1770.0,1226.7 1771.3,1221.5 1772.6,1219.2 1773.9,1224.6 1775.2,1221.7 1776.6,1213.3 1777.9,1228.8 1779.2,1221.5 1780.5,1228.6 1781.8,1232.3 1783.1,1222.1 1784.4,1229.1 1785.7,1224.4 1787.0,1226.7 1788.3,1223.1 1789.6,1223.9 1791.0,1215.2 1792.3,1219.5 1793.6,1218.3 1794.9,1222.5 1796.2,1213.2 1797.5,1218.8 1798.8,1221.9 1800.1,1223.7 1801.4,1221.3 1802.7,1224.1 1804.1,1227.3 1805.4,1230.3 1806.7,1219.9 1808.0,1224.4 1809.3,1228.1 1810.6,1227.5 1811.9,1222.2 1813.2,1221.0 1814.5,1226.2 1815.8,1226.4 1817.1,1227.1 1818.5,1230.6 1819.8,1236.3 1821.1,1239.4 1822.4,1228.2 1823.7,1231.8 1825.0,1225.0 1826.3,1228.3 1827.6,1227.7 1828.9,1219.3 1830.2,1226.0 1831.5,1226.7 1832.9,1229.3 1834.2,1227.8 1835.5,1233.3 1836.8,1238.8 1838.1,1235.0 1839.4,1232.6 1840.7,1231.3 1842.0,1233.4 1843.3,1234.3 1844.6,1234.9 1846.0,1238.5 1847.3,1237.2 1848.6,1230.0 1849.9,1233.2 1851.2,1228.4 1852.5,1226.9" fill="none" stroke="#008000" stroke-width="2.6" stroke-linejoin="round"/>
</g>
<rect x="1421.7" y="969.8" width="430.8" height="378.6" fill="none" stroke="#000" stroke-width="2.7"/>
<line x1="1415.9" y1="1310.5" x2="1421.7" y2="1310.5" stroke="#000" stroke-width="2.3"/>
<text x="1406.3" y="1320.9" font-size="29" text-anchor="end" >0</text>
<line x1="1415.9" y1="1159.1" x2="1421.7" y2="1159.1" stroke="#000" stroke-width="2.3"/>
<text x="1406.3" y="1169.5" font-size="29" text-anchor="end" >20</text>
<line x1="1415.9" y1="1007.7" x2="1421.7" y2="1007.7" stroke="#000" stroke-width="2.3"/>
<text x="1406.3" y="1018.1" font-size="29" text-anchor="end" >40</text>
<text x="0" y="0" font-size="29" text-anchor="middle" transform="translate(1353.6,1159.1) rotate(-90)">Z position (nm)</text>
<line x1="1421.7" y1="1722.7" x2="1852.5" y2="1722.7" stroke="#c4c4c4" stroke-width="2.2" stroke-dasharray="2.6 3.9"/>
<line x1="1421.7" y1="1647.0" x2="1852.5" y2="1647.0" stroke="#c4c4c4" stroke-width="2.2" stroke-dasharray="2.6 3.9"/>
<line x1="1421.7" y1="1571.3" x2="1852.5" y2="1571.3" stroke="#c4c4c4" stroke-width="2.2" stroke-dasharray="2.6 3.9"/>
<line x1="1421.7" y1="1495.6" x2="1852.5" y2="1495.6" stroke="#c4c4c4" stroke-width="2.2" stroke-dasharray="2.6 3.9"/>
<line x1="1421.7" y1="1419.9" x2="1852.5" y2="1419.9" stroke="#c4c4c4" stroke-width="2.2" stroke-dasharray="2.6 3.9"/>
<line x1="1565.3" y1="1382.0" x2="1565.3" y2="1760.6" stroke="#c4c4c4" stroke-width="2.2" stroke-dasharray="2.6 3.9"/>
<line x1="1708.9" y1="1382.0" x2="1708.9" y2="1760.6" stroke="#c4c4c4" stroke-width="2.2" stroke-dasharray="2.6 3.9"/>
<clipPath id="ch2"><rect x="1421.7" y="1382.0" width="430.8" height="378.6"/></clipPath>
<g clip-path="url(#ch2)">
<polygon points="1421.7,1722.7 1421.7,1661.2 1423.0,1659.6 1424.3,1662.1 1425.6,1655.4 1426.9,1653.2 1428.2,1657.4 1429.6,1658.6 1430.9,1655.7 1432.2,1655.0 1433.5,1654.8 1434.8,1650.4 1436.1,1647.7 1437.4,1645.1 1438.7,1646.3 1440.0,1649.8 1441.3,1656.8 1442.7,1654.8 1444.0,1658.2 1445.3,1656.9 1446.6,1662.3 1447.9,1661.7 1449.2,1654.0 1450.5,1650.3 1451.8,1653.5 1453.1,1655.3 1454.4,1657.6 1455.7,1656.2 1457.1,1653.6 1458.4,1651.3 1459.7,1648.5 1461.0,1641.2 1462.3,1645.0 1463.6,1638.2 1464.9,1648.5 1466.2,1644.0 1467.5,1643.6 1468.8,1646.3 1470.1,1650.1 1471.5,1647.3 1472.8,1652.2 1474.1,1657.4 1475.4,1661.1 1476.7,1654.7 1478.0,1652.7 1479.3,1655.1 1480.6,1657.9 1481.9,1655.3 1483.2,1658.4 1484.6,1662.4 1485.9,1656.9 1487.2,1659.0 1488.5,1666.3 1489.8,1666.0 1491.1,1659.9 1492.4,1664.9 1493.7,1664.8 1495.0,1669.5 1496.3,1670.1 1497.6,1670.7 1499.0,1679.0 1500.3,1677.1 1501.6,1674.6 1502.9,1668.8 1504.2,1664.7 1505.5,1654.5 1506.8,1656.9 1508.1,1643.4 1509.4,1651.9 1510.7,1645.4 1512.1,1653.2 1513.4,1651.4 1514.7,1651.4 1516.0,1649.4 1517.3,1648.7 1518.6,1647.9 1519.9,1649.8 1521.2,1651.3 1522.5,1650.9 1523.8,1645.5 1525.1,1647.1 1526.5,1648.9 1527.8,1646.5 1529.1,1648.6 1530.4,1652.4 1531.7,1652.5 1533.0,1654.4 1534.3,1650.6 1535.6,1650.1 1536.9,1641.0 1538.2,1635.3 1539.5,1642.3 1540.9,1641.1 1542.2,1652.1 1543.5,1646.4 1544.8,1654.9 1546.1,1652.7 1547.4,1655.7 1548.7,1650.8 1550.0,1649.8 1551.3,1654.4 1552.6,1652.8 1554.0,1653.9 1555.3,1651.6 1556.6,1652.7 1557.9,1653.1 1559.2,1653.7 1560.5,1650.6 1561.8,1654.6 1563.1,1655.9 1564.4,1653.4 1565.7,1654.2 1567.0,1648.0 1568.4,1649.5 1569.7,1646.8 1571.0,1652.9 1572.3,1648.3 1573.6,1646.5 1574.9,1647.8 1576.2,1646.3 1577.5,1648.2 1578.8,1645.2 1580.1,1643.2 1581.4,1644.1 1582.8,1641.2 1584.1,1639.0 1585.4,1635.5 1586.7,1637.4 1588.0,1630.4 1589.3,1640.2 1590.6,1635.9 1591.9,1628.9 1593.2,1632.0 1594.5,1635.6 1595.9,1623.0 1597.2,1631.2 1598.5,1626.8 1599.8,1627.8 1601.1,1621.5 1602.4,1622.4 1603.7,1622.0 1605.0,1625.5 1606.3,1622.1 1607.6,1625.4 1608.9,1625.1 1610.3,1622.1 1611.6,1621.2 1612.9,1627.8 1614.2,1627.5 1615.5,1626.4 1616.8,1620.7 1618.1,1623.3 1619.4,1627.2 1620.7,1624.0 1622.0,1627.5 1623.4,1632.0 1624.7,1633.6 1626.0,1629.7 1627.3,1633.1 1628.6,1636.5 1629.9,1639.8 1631.2,1635.8 1632.5,1632.5 1633.8,1633.9 1635.1,1628.3 1636.4,1629.8 1637.8,1628.7 1639.1,1636.9 1640.4,1634.1 1641.7,1638.0 1643.0,1635.8 1644.3,1633.9 1645.6,1638.9 1646.9,1637.6 1648.2,1636.1 1649.5,1634.8 1650.8,1637.9 1652.2,1633.5 1653.5,1637.4 1654.8,1641.2 1656.1,1641.4 1657.4,1635.1 1658.7,1642.3 1660.0,1638.4 1661.3,1630.7 1662.6,1634.2 1663.9,1633.2 1665.3,1632.7 1666.6,1633.3 1667.9,1637.5 1669.2,1631.2 1670.5,1629.4 1671.8,1632.0 1673.1,1632.6 1674.4,1632.7 1675.7,1632.5 1677.0,1634.7 1678.3,1630.5 1679.7,1625.8 1681.0,1628.1 1682.3,1631.4 1683.6,1630.9 1684.9,1629.7 1686.2,1630.3 1687.5,1630.3 1688.8,1620.4 1690.1,1621.9 1691.4,1611.7 1692.8,1598.3 1694.1,1593.0 1695.4,1590.1 1696.7,1586.7 1698.0,1587.7 1699.3,1585.3 1700.6,1578.4 1701.9,1580.2 1703.2,1580.2 1704.5,1571.5 1705.8,1563.2 1707.2,1560.7 1708.5,1558.1 1709.8,1563.9 1711.1,1550.1 1712.4,1545.5 1713.7,1533.8 1715.0,1525.7 1716.3,1512.2 1717.6,1512.9 1718.9,1504.5 1720.2,1497.1 1721.6,1494.5 1722.9,1485.5 1724.2,1477.3 1725.5,1478.4 1726.8,1471.5 1728.1,1471.1 1729.4,1469.2 1730.7,1470.0 1732.0,1459.4 1733.3,1456.6 1734.7,1449.5 1736.0,1454.3 1737.3,1452.8 1738.6,1447.6 1739.9,1450.4 1741.2,1454.8 1742.5,1451.8 1743.8,1452.8 1745.1,1451.3 1746.4,1441.4 1747.7,1442.4 1749.1,1442.4 1750.4,1444.2 1751.7,1447.3 1753.0,1446.9 1754.3,1445.6 1755.6,1447.4 1756.9,1452.1 1758.2,1450.0 1759.5,1444.5 1760.8,1442.7 1762.1,1441.6 1763.5,1432.7 1764.8,1437.6 1766.1,1436.4 1767.4,1433.7 1768.7,1437.1 1770.0,1436.4 1771.3,1430.0 1772.6,1429.8 1773.9,1421.9 1775.2,1422.3 1776.6,1427.0 1777.9,1422.1 1779.2,1424.3 1780.5,1425.5 1781.8,1417.5 1783.1,1420.0 1784.4,1412.2 1785.7,1411.7 1787.0,1411.5 1788.3,1411.3 1789.6,1406.2 1791.0,1401.8 1792.3,1410.0 1793.6,1410.8 1794.9,1408.9 1796.2,1406.5 1797.5,1409.5 1798.8,1405.7 1800.1,1402.5 1801.4,1403.6 1802.7,1400.9 1804.1,1401.7 1805.4,1407.2 1806.7,1402.8 1808.0,1402.1 1809.3,1401.8 1810.6,1405.9 1811.9,1406.3 1813.2,1395.5 1814.5,1397.2 1815.8,1398.0 1817.1,1393.8 1818.5,1389.1 1819.8,1398.9 1821.1,1397.4 1822.4,1395.7 1823.7,1397.2 1825.0,1391.3 1826.3,1394.5 1827.6,1397.6 1828.9,1392.3 1830.2,1389.6 1831.5,1387.3 1832.9,1389.6 1834.2,1386.0 1835.5,1383.5 1836.8,1391.3 1838.1,1383.6 1839.4,1381.7 1840.7,1384.1 1842.0,1387.1 1843.3,1386.4 1844.6,1382.5 1846.0,1391.7 1847.3,1391.8 1848.6,1396.8 1849.9,1390.7 1851.2,1394.5 1852.5,1392.0 1852.5,1722.7" fill="#f1e8e8"/>
<polyline points="1421.7,1722.7 1852.5,1722.7" fill="none" stroke="#bc8f8f" stroke-width="2.6" stroke-linejoin="round"/>
<polyline points="1421.7,1661.2 1423.0,1659.6 1424.3,1662.1 1425.6,1655.4 1426.9,1653.2 1428.2,1657.4 1429.6,1658.6 1430.9,1655.7 1432.2,1655.0 1433.5,1654.8 1434.8,1650.4 1436.1,1647.7 1437.4,1645.1 1438.7,1646.3 1440.0,1649.8 1441.3,1656.8 1442.7,1654.8 1444.0,1658.2 1445.3,1656.9 1446.6,1662.3 1447.9,1661.7 1449.2,1654.0 1450.5,1650.3 1451.8,1653.5 1453.1,1655.3 1454.4,1657.6 1455.7,1656.2 1457.1,1653.6 1458.4,1651.3 1459.7,1648.5 1461.0,1641.2 1462.3,1645.0 1463.6,1638.2 1464.9,1648.5 1466.2,1644.0 1467.5,1643.6 1468.8,1646.3 1470.1,1650.1 1471.5,1647.3 1472.8,1652.2 1474.1,1657.4 1475.4,1661.1 1476.7,1654.7 1478.0,1652.7 1479.3,1655.1 1480.6,1657.9 1481.9,1655.3 1483.2,1658.4 1484.6,1662.4 1485.9,1656.9 1487.2,1659.0 1488.5,1666.3 1489.8,1666.0 1491.1,1659.9 1492.4,1664.9 1493.7,1664.8 1495.0,1669.5 1496.3,1670.1 1497.6,1670.7 1499.0,1679.0 1500.3,1677.1 1501.6,1674.6 1502.9,1668.8 1504.2,1664.7 1505.5,1654.5 1506.8,1656.9 1508.1,1643.4 1509.4,1651.9 1510.7,1645.4 1512.1,1653.2 1513.4,1651.4 1514.7,1651.4 1516.0,1649.4 1517.3,1648.7 1518.6,1647.9 1519.9,1649.8 1521.2,1651.3 1522.5,1650.9 1523.8,1645.5 1525.1,1647.1 1526.5,1648.9 1527.8,1646.5 1529.1,1648.6 1530.4,1652.4 1531.7,1652.5 1533.0,1654.4 1534.3,1650.6 1535.6,1650.1 1536.9,1641.0 1538.2,1635.3 1539.5,1642.3 1540.9,1641.1 1542.2,1652.1 1543.5,1646.4 1544.8,1654.9 1546.1,1652.7 1547.4,1655.7 1548.7,1650.8 1550.0,1649.8 1551.3,1654.4 1552.6,1652.8 1554.0,1653.9 1555.3,1651.6 1556.6,1652.7 1557.9,1653.1 1559.2,1653.7 1560.5,1650.6 1561.8,1654.6 1563.1,1655.9 1564.4,1653.4 1565.7,1654.2 1567.0,1648.0 1568.4,1649.5 1569.7,1646.8 1571.0,1652.9 1572.3,1648.3 1573.6,1646.5 1574.9,1647.8 1576.2,1646.3 1577.5,1648.2 1578.8,1645.2 1580.1,1643.2 1581.4,1644.1 1582.8,1641.2 1584.1,1639.0 1585.4,1635.5 1586.7,1637.4 1588.0,1630.4 1589.3,1640.2 1590.6,1635.9 1591.9,1628.9 1593.2,1632.0 1594.5,1635.6 1595.9,1623.0 1597.2,1631.2 1598.5,1626.8 1599.8,1627.8 1601.1,1621.5 1602.4,1622.4 1603.7,1622.0 1605.0,1625.5 1606.3,1622.1 1607.6,1625.4 1608.9,1625.1 1610.3,1622.1 1611.6,1621.2 1612.9,1627.8 1614.2,1627.5 1615.5,1626.4 1616.8,1620.7 1618.1,1623.3 1619.4,1627.2 1620.7,1624.0 1622.0,1627.5 1623.4,1632.0 1624.7,1633.6 1626.0,1629.7 1627.3,1633.1 1628.6,1636.5 1629.9,1639.8 1631.2,1635.8 1632.5,1632.5 1633.8,1633.9 1635.1,1628.3 1636.4,1629.8 1637.8,1628.7 1639.1,1636.9 1640.4,1634.1 1641.7,1638.0 1643.0,1635.8 1644.3,1633.9 1645.6,1638.9 1646.9,1637.6 1648.2,1636.1 1649.5,1634.8 1650.8,1637.9 1652.2,1633.5 1653.5,1637.4 1654.8,1641.2 1656.1,1641.4 1657.4,1635.1 1658.7,1642.3 1660.0,1638.4 1661.3,1630.7 1662.6,1634.2 1663.9,1633.2 1665.3,1632.7 1666.6,1633.3 1667.9,1637.5 1669.2,1631.2 1670.5,1629.4 1671.8,1632.0 1673.1,1632.6 1674.4,1632.7 1675.7,1632.5 1677.0,1634.7 1678.3,1630.5 1679.7,1625.8 1681.0,1628.1 1682.3,1631.4 1683.6,1630.9 1684.9,1629.7 1686.2,1630.3 1687.5,1630.3 1688.8,1620.4 1690.1,1621.9 1691.4,1611.7 1692.8,1598.3 1694.1,1593.0 1695.4,1590.1 1696.7,1586.7 1698.0,1587.7 1699.3,1585.3 1700.6,1578.4 1701.9,1580.2 1703.2,1580.2 1704.5,1571.5 1705.8,1563.2 1707.2,1560.7 1708.5,1558.1 1709.8,1563.9 1711.1,1550.1 1712.4,1545.5 1713.7,1533.8 1715.0,1525.7 1716.3,1512.2 1717.6,1512.9 1718.9,1504.5 1720.2,1497.1 1721.6,1494.5 1722.9,1485.5 1724.2,1477.3 1725.5,1478.4 1726.8,1471.5 1728.1,1471.1 1729.4,1469.2 1730.7,1470.0 1732.0,1459.4 1733.3,1456.6 1734.7,1449.5 1736.0,1454.3 1737.3,1452.8 1738.6,1447.6 1739.9,1450.4 1741.2,1454.8 1742.5,1451.8 1743.8,1452.8 1745.1,1451.3 1746.4,1441.4 1747.7,1442.4 1749.1,1442.4 1750.4,1444.2 1751.7,1447.3 1753.0,1446.9 1754.3,1445.6 1755.6,1447.4 1756.9,1452.1 1758.2,1450.0 1759.5,1444.5 1760.8,1442.7 1762.1,1441.6 1763.5,1432.7 1764.8,1437.6 1766.1,1436.4 1767.4,1433.7 1768.7,1437.1 1770.0,1436.4 1771.3,1430.0 1772.6,1429.8 1773.9,1421.9 1775.2,1422.3 1776.6,1427.0 1777.9,1422.1 1779.2,1424.3 1780.5,1425.5 1781.8,1417.5 1783.1,1420.0 1784.4,1412.2 1785.7,1411.7 1787.0,1411.5 1788.3,1411.3 1789.6,1406.2 1791.0,1401.8 1792.3,1410.0 1793.6,1410.8 1794.9,1408.9 1796.2,1406.5 1797.5,1409.5 1798.8,1405.7 1800.1,1402.5 1801.4,1403.6 1802.7,1400.9 1804.1,1401.7 1805.4,1407.2 1806.7,1402.8 1808.0,1402.1 1809.3,1401.8 1810.6,1405.9 1811.9,1406.3 1813.2,1395.5 1814.5,1397.2 1815.8,1398.0 1817.1,1393.8 1818.5,1389.1 1819.8,1398.9 1821.1,1397.4 1822.4,1395.7 1823.7,1397.2 1825.0,1391.3 1826.3,1394.5 1827.6,1397.6 1828.9,1392.3 1830.2,1389.6 1831.5,1387.3 1832.9,1389.6 1834.2,1386.0 1835.5,1383.5 1836.8,1391.3 1838.1,1383.6 1839.4,1381.7 1840.7,1384.1 1842.0,1387.1 1843.3,1386.4 1844.6,1382.5 1846.0,1391.7 1847.3,1391.8 1848.6,1396.8 1849.9,1390.7 1851.2,1394.5 1852.5,1392.0" fill="none" stroke="#bc8f8f" stroke-width="2.6" stroke-linejoin="round"/>
<polyline points="1421.7,1617.6 1423.0,1621.2 1424.3,1613.7 1425.6,1609.5 1426.9,1610.8 1428.2,1610.3 1429.6,1611.1 1430.9,1615.8 1432.2,1616.7 1433.5,1618.1 1434.8,1614.4 1436.1,1617.9 1437.4,1622.8 1438.7,1617.3 1440.0,1619.3 1441.3,1624.3 1442.7,1621.4 1444.0,1620.4 1445.3,1618.1 1446.6,1615.5 1447.9,1618.7 1449.2,1618.7 1450.5,1621.4 1451.8,1621.2 1453.1,1624.3 1454.4,1623.2 1455.7,1624.9 1457.1,1626.8 1458.4,1623.8 1459.7,1627.2 1461.0,1630.0 1462.3,1626.8 1463.6,1629.8 1464.9,1626.2 1466.2,1629.6 1467.5,1627.5 1468.8,1631.7 1470.1,1627.1 1471.5,1636.3 1472.8,1643.3 1474.1,1634.5 1475.4,1641.7 1476.7,1634.2 1478.0,1630.4 1479.3,1620.1 1480.6,1621.4 1481.9,1619.1 1483.2,1626.3 1484.6,1633.4 1485.9,1631.6 1487.2,1636.1 1488.5,1644.6 1489.8,1632.6 1491.1,1636.3 1492.4,1637.9 1493.7,1631.3 1495.0,1630.0 1496.3,1633.3 1497.6,1632.9 1499.0,1634.0 1500.3,1640.3 1501.6,1637.8 1502.9,1640.0 1504.2,1638.7 1505.5,1635.5 1506.8,1638.8 1508.1,1642.1 1509.4,1642.8 1510.7,1641.5 1512.1,1634.1 1513.4,1634.1 1514.7,1634.3 1516.0,1639.8 1517.3,1641.5 1518.6,1641.7 1519.9,1647.6 1521.2,1650.5 1522.5,1649.2 1523.8,1641.8 1525.1,1640.5 1526.5,1636.9 1527.8,1641.3 1529.1,1642.8 1530.4,1643.5 1531.7,1645.7 1533.0,1641.1 1534.3,1638.5 1535.6,1637.6 1536.9,1647.4 1538.2,1636.7 1539.5,1643.8 1540.9,1640.5 1542.2,1646.2 1543.5,1639.7 1544.8,1644.5 1546.1,1645.8 1547.4,1647.9 1548.7,1642.6 1550.0,1639.6 1551.3,1642.4 1552.6,1640.7 1554.0,1650.1 1555.3,1655.2 1556.6,1651.0 1557.9,1654.4 1559.2,1646.2 1560.5,1644.5 1561.8,1642.1 1563.1,1644.0 1564.4,1644.1 1565.7,1655.6 1567.0,1651.0 1568.4,1647.2 1569.7,1645.6 1571.0,1646.4 1572.3,1645.5 1573.6,1633.8 1574.9,1636.5 1576.2,1635.4 1577.5,1638.2 1578.8,1639.6 1580.1,1641.9 1581.4,1638.4 1582.8,1637.0 1584.1,1641.5 1585.4,1641.1 1586.7,1645.6 1588.0,1644.9 1589.3,1638.3 1590.6,1629.6 1591.9,1633.5 1593.2,1635.5 1594.5,1626.6 1595.9,1630.3 1597.2,1636.0 1598.5,1633.4 1599.8,1632.9 1601.1,1632.4 1602.4,1639.2 1603.7,1637.3 1605.0,1631.5 1606.3,1637.3 1607.6,1644.1 1608.9,1637.4 1610.3,1638.7 1611.6,1637.8 1612.9,1641.1 1614.2,1637.1 1615.5,1632.6 1616.8,1630.7 1618.1,1629.8 1619.4,1628.4 1620.7,1632.3 1622.0,1632.3 1623.4,1641.1 1624.7,1638.9 1626.0,1646.5 1627.3,1640.8 1628.6,1644.3 1629.9,1643.2 1631.2,1643.0 1632.5,1644.4 1633.8,1638.5 1635.1,1637.2 1636.4,1643.1 1637.8,1634.4 1639.1,1629.9 1640.4,1637.4 1641.7,1641.9 1643.0,1643.9 1644.3,1637.8 1645.6,1628.4 1646.9,1629.8 1648.2,1634.2 1649.5,1630.9 1650.8,1629.1 1652.2,1632.6 1653.5,1629.5 1654.8,1630.3 1656.1,1631.4 1657.4,1633.1 1658.7,1632.0 1660.0,1635.1 1661.3,1634.4 1662.6,1640.2 1663.9,1635.3 1665.3,1634.4 1666.6,1632.1 1667.9,1631.9 1669.2,1642.3 1670.5,1635.7 1671.8,1634.8 1673.1,1635.2 1674.4,1642.1 1675.7,1632.7 1677.0,1633.5 1678.3,1634.7 1679.7,1634.3 1681.0,1637.7 1682.3,1639.4 1683.6,1636.5 1684.9,1639.1 1686.2,1634.7 1687.5,1632.0 1688.8,1637.4 1690.1,1632.5 1691.4,1640.9 1692.8,1640.4 1694.1,1635.9 1695.4,1644.6 1696.7,1632.8 1698.0,1634.8 1699.3,1638.5 1700.6,1636.5 1701.9,1632.4 1703.2,1631.5 1704.5,1630.3 1705.8,1631.2 1707.2,1631.9 1708.5,1629.8 1709.8,1626.7 1711.1,1627.7 1712.4,1627.8 1713.7,1625.3 1715.0,1622.4 1716.3,1620.4 1717.6,1626.2 1718.9,1628.1 1720.2,1620.3 1721.6,1625.3 1722.9,1622.4 1724.2,1622.4 1725.5,1620.3 1726.8,1630.5 1728.1,1622.3 1729.4,1616.2 1730.7,1612.2 1732.0,1612.9 1733.3,1607.0 1734.7,1607.0 1736.0,1608.1 1737.3,1601.0 1738.6,1607.8 1739.9,1604.3 1741.2,1611.9 1742.5,1614.4 1743.8,1620.3 1745.1,1616.0 1746.4,1619.5 1747.7,1623.1 1749.1,1625.0 1750.4,1624.3 1751.7,1622.2 1753.0,1623.9 1754.3,1624.8 1755.6,1623.9 1756.9,1624.3 1758.2,1621.4 1759.5,1628.8 1760.8,1628.6 1762.1,1632.5 1763.5,1633.3 1764.8,1633.1 1766.1,1633.5 1767.4,1628.7 1768.7,1625.1 1770.0,1618.3 1771.3,1616.6 1772.6,1618.6 1773.9,1620.1 1775.2,1623.1 1776.6,1625.1 1777.9,1624.1 1779.2,1624.0 1780.5,1624.1 1781.8,1625.2 1783.1,1623.8 1784.4,1623.4 1785.7,1618.5 1787.0,1632.2 1788.3,1621.6 1789.6,1617.7 1791.0,1625.3 1792.3,1620.2 1793.6,1620.3 1794.9,1617.0 1796.2,1621.3 1797.5,1617.2 1798.8,1611.2 1800.1,1610.7 1801.4,1602.2 1802.7,1604.2 1804.1,1606.1 1805.4,1606.6 1806.7,1607.8 1808.0,1606.7 1809.3,1609.3 1810.6,1613.2 1811.9,1611.8 1813.2,1614.5 1814.5,1614.2 1815.8,1611.3 1817.1,1610.8 1818.5,1614.3 1819.8,1619.4 1821.1,1621.6 1822.4,1624.1 1823.7,1625.9 1825.0,1624.1 1826.3,1617.8 1827.6,1624.7 1828.9,1614.5 1830.2,1620.6 1831.5,1620.1 1832.9,1628.7 1834.2,1627.3 1835.5,1622.4 1836.8,1623.3 1838.1,1622.1 1839.4,1620.3 1840.7,1625.0 1842.0,1634.3 1843.3,1629.7 1844.6,1632.3 1846.0,1624.7 1847.3,1625.8 1848.6,1626.4 1849.9,1628.9 1851.2,1621.3 1852.5,1625.8" fill="none" stroke="#ff0000" stroke-width="2.6" stroke-linejoin="round"/>
<polyline points="1421.7,1633.3 1423.0,1631.8 1424.3,1628.7 1425.6,1639.8 1426.9,1638.7 1428.2,1637.6 1429.6,1638.8 1430.9,1641.1 1432.2,1636.9 1433.5,1626.9 1434.8,1624.0 1436.1,1625.5 1437.4,1619.1 1438.7,1623.5 1440.0,1622.6 1441.3,1618.2 1442.7,1614.6 1444.0,1613.6 1445.3,1612.0 1446.6,1616.0 1447.9,1612.5 1449.2,1610.5 1450.5,1612.3 1451.8,1604.4 1453.1,1599.7 1454.4,1599.9 1455.7,1601.5 1457.1,1603.7 1458.4,1604.2 1459.7,1605.7 1461.0,1600.8 1462.3,1599.2 1463.6,1600.9 1464.9,1601.6 1466.2,1597.1 1467.5,1604.2 1468.8,1602.6 1470.1,1603.2 1471.5,1605.7 1472.8,1608.4 1474.1,1606.2 1475.4,1604.9 1476.7,1613.3 1478.0,1610.6 1479.3,1609.3 1480.6,1612.9 1481.9,1612.4 1483.2,1613.6 1484.6,1609.8 1485.9,1617.0 1487.2,1612.3 1488.5,1604.1 1489.8,1603.7 1491.1,1603.4 1492.4,1605.4 1493.7,1606.5 1495.0,1604.9 1496.3,1612.4 1497.6,1612.5 1499.0,1618.0 1500.3,1620.5 1501.6,1617.1 1502.9,1614.7 1504.2,1611.8 1505.5,1609.2 1506.8,1613.4 1508.1,1607.0 1509.4,1597.3 1510.7,1592.7 1512.1,1589.1 1513.4,1579.8 1514.7,1585.2 1516.0,1584.8 1517.3,1587.6 1518.6,1592.4 1519.9,1597.9 1521.2,1595.6 1522.5,1598.5 1523.8,1603.2 1525.1,1602.6 1526.5,1603.2 1527.8,1604.3 1529.1,1600.5 1530.4,1599.3 1531.7,1601.3 1533.0,1601.3 1534.3,1600.2 1535.6,1599.9 1536.9,1604.4 1538.2,1601.9 1539.5,1600.6 1540.9,1603.1 1542.2,1602.1 1543.5,1614.1 1544.8,1611.3 1546.1,1608.7 1547.4,1605.9 1548.7,1606.2 1550.0,1600.8 1551.3,1602.6 1552.6,1604.5 1554.0,1606.1 1555.3,1611.5 1556.6,1608.6 1557.9,1612.2 1559.2,1610.7 1560.5,1613.4 1561.8,1607.4 1563.1,1605.2 1564.4,1613.5 1565.7,1613.1 1567.0,1623.8 1568.4,1620.9 1569.7,1620.9 1571.0,1627.1 1572.3,1628.1 1573.6,1624.4 1574.9,1626.1 1576.2,1627.5 1577.5,1624.3 1578.8,1625.6 1580.1,1623.0 1581.4,1624.8 1582.8,1631.0 1584.1,1634.7 1585.4,1629.2 1586.7,1626.1 1588.0,1625.4 1589.3,1623.6 1590.6,1621.3 1591.9,1630.2 1593.2,1627.1 1594.5,1630.9 1595.9,1636.8 1597.2,1629.6 1598.5,1626.9 1599.8,1621.5 1601.1,1624.3 1602.4,1627.8 1603.7,1626.5 1605.0,1628.8 1606.3,1621.4 1607.6,1627.4 1608.9,1619.3 1610.3,1622.4 1611.6,1624.7 1612.9,1623.5 1614.2,1626.9 1615.5,1628.8 1616.8,1630.3 1618.1,1626.7 1619.4,1634.8 1620.7,1631.2 1622.0,1629.9 1623.4,1629.8 1624.7,1632.0 1626.0,1630.0 1627.3,1636.6 1628.6,1636.3 1629.9,1644.8 1631.2,1637.1 1632.5,1637.6 1633.8,1635.8 1635.1,1640.4 1636.4,1638.2 1637.8,1639.0 1639.1,1642.3 1640.4,1642.4 1641.7,1638.0 1643.0,1641.6 1644.3,1638.5 1645.6,1632.3 1646.9,1636.2 1648.2,1633.0 1649.5,1637.2 1650.8,1636.0 1652.2,1631.2 1653.5,1637.5 1654.8,1638.4 1656.1,1638.3 1657.4,1634.0 1658.7,1635.4 1660.0,1625.7 1661.3,1628.0 1662.6,1629.5 1663.9,1625.8 1665.3,1628.0 1666.6,1632.4 1667.9,1628.8 1669.2,1625.5 1670.5,1624.3 1671.8,1628.9 1673.1,1621.8 1674.4,1627.7 1675.7,1626.6 1677.0,1630.0 1678.3,1629.5 1679.7,1631.6 1681.0,1635.5 1682.3,1637.2 1683.6,1640.8 1684.9,1642.1 1686.2,1632.5 1687.5,1639.2 1688.8,1632.0 1690.1,1628.6 1691.4,1636.0 1692.8,1634.8 1694.1,1633.5 1695.4,1629.2 1696.7,1627.9 1698.0,1625.7 1699.3,1622.1 1700.6,1625.9 1701.9,1627.9 1703.2,1619.8 1704.5,1617.3 1705.8,1610.9 1707.2,1603.6 1708.5,1612.5 1709.8,1605.1 1711.1,1602.7 1712.4,1600.1 1713.7,1600.8 1715.0,1599.8 1716.3,1607.6 1717.6,1608.7 1718.9,1601.7 1720.2,1598.2 1721.6,1600.2 1722.9,1595.6 1724.2,1593.6 1725.5,1593.3 1726.8,1596.4 1728.1,1588.3 1729.4,1590.6 1730.7,1586.4 1732.0,1587.5 1733.3,1586.9 1734.7,1584.2 1736.0,1585.3 1737.3,1585.4 1738.6,1581.9 1739.9,1587.1 1741.2,1585.2 1742.5,1584.4 1743.8,1585.2 1745.1,1596.1 1746.4,1594.3 1747.7,1599.5 1749.1,1597.6 1750.4,1598.4 1751.7,1594.3 1753.0,1595.7 1754.3,1593.6 1755.6,1592.2 1756.9,1596.3 1758.2,1593.1 1759.5,1595.8 1760.8,1596.0 1762.1,1599.5 1763.5,1595.1 1764.8,1606.8 1766.1,1603.2 1767.4,1601.0 1768.7,1608.0 1770.0,1609.3 1771.3,1603.5 1772.6,1604.1 1773.9,1605.4 1775.2,1600.2 1776.6,1602.9 1777.9,1596.1 1779.2,1601.3 1780.5,1594.7 1781.8,1593.8 1783.1,1597.1 1784.4,1597.2 1785.7,1591.0 1787.0,1594.3 1788.3,1597.1 1789.6,1604.3 1791.0,1603.3 1792.3,1610.2 1793.6,1603.3 1794.9,1600.4 1796.2,1602.2 1797.5,1585.0 1798.8,1592.2 1800.1,1596.2 1801.4,1585.6 1802.7,1588.9 1804.1,1590.8 1805.4,1582.7 1806.7,1590.4 1808.0,1584.1 1809.3,1583.5 1810.6,1579.0 1811.9,1583.9 1813.2,1578.7 1814.5,1575.0 1815.8,1580.1 1817.1,1578.8 1818.5,1577.1 1819.8,1579.3 1821.1,1580.1 1822.4,1576.9 1823.7,1575.6 1825.0,1583.0 1826.3,1574.7 1827.6,1571.4 1828.9,1572.4 1830.2,1576.1 1831.5,1576.4 1832.9,1577.9 1834.2,1580.1 1835.5,1577.4 1836.8,1578.3 1838.1,1573.9 1839.4,1577.9 1840.7,1586.6 1842.0,1580.7 1843.3,1585.6 1844.6,1589.3 1846.0,1582.5 1847.3,1588.5 1848.6,1589.3 1849.9,1582.8 1851.2,1592.5 1852.5,1588.7" fill="none" stroke="#0000ff" stroke-width="2.6" stroke-linejoin="round"/>
<polyline points="1421.7,1616.4 1423.0,1621.7 1424.3,1627.5 1425.6,1624.1 1426.9,1631.8 1428.2,1631.6 1429.6,1626.5 1430.9,1630.4 1432.2,1636.9 1433.5,1633.4 1434.8,1639.7 1436.1,1633.8 1437.4,1634.2 1438.7,1632.4 1440.0,1637.3 1441.3,1634.9 1442.7,1639.6 1444.0,1641.0 1445.3,1638.0 1446.6,1618.8 1447.9,1626.8 1449.2,1626.6 1450.5,1625.9 1451.8,1629.5 1453.1,1635.1 1454.4,1632.0 1455.7,1629.5 1457.1,1639.9 1458.4,1630.3 1459.7,1634.8 1461.0,1632.3 1462.3,1634.6 1463.6,1626.6 1464.9,1632.9 1466.2,1635.7 1467.5,1636.2 1468.8,1624.0 1470.1,1635.7 1471.5,1637.8 1472.8,1631.4 1474.1,1640.2 1475.4,1638.7 1476.7,1642.7 1478.0,1639.6 1479.3,1636.6 1480.6,1644.5 1481.9,1639.2 1483.2,1637.8 1484.6,1644.0 1485.9,1646.0 1487.2,1638.9 1488.5,1643.8 1489.8,1640.0 1491.1,1641.4 1492.4,1639.4 1493.7,1643.7 1495.0,1639.5 1496.3,1638.0 1497.6,1640.7 1499.0,1637.0 1500.3,1637.8 1501.6,1638.6 1502.9,1641.4 1504.2,1638.1 1505.5,1637.0 1506.8,1638.7 1508.1,1644.3 1509.4,1639.1 1510.7,1645.6 1512.1,1650.9 1513.4,1646.8 1514.7,1643.3 1516.0,1646.4 1517.3,1642.3 1518.6,1644.0 1519.9,1646.1 1521.2,1644.4 1522.5,1642.7 1523.8,1637.7 1525.1,1642.5 1526.5,1648.0 1527.8,1649.1 1529.1,1644.7 1530.4,1653.1 1531.7,1644.9 1533.0,1646.8 1534.3,1651.7 1535.6,1647.5 1536.9,1648.5 1538.2,1648.7 1539.5,1647.7 1540.9,1639.5 1542.2,1645.9 1543.5,1645.6 1544.8,1644.2 1546.1,1647.1 1547.4,1640.0 1548.7,1643.7 1550.0,1640.3 1551.3,1644.9 1552.6,1646.9 1554.0,1650.0 1555.3,1648.7 1556.6,1657.9 1557.9,1653.5 1559.2,1646.7 1560.5,1642.1 1561.8,1641.2 1563.1,1633.1 1564.4,1633.2 1565.7,1632.5 1567.0,1635.3 1568.4,1639.7 1569.7,1641.6 1571.0,1642.9 1572.3,1644.8 1573.6,1643.3 1574.9,1647.8 1576.2,1645.9 1577.5,1645.8 1578.8,1643.0 1580.1,1642.2 1581.4,1641.8 1582.8,1635.8 1584.1,1634.2 1585.4,1633.7 1586.7,1637.8 1588.0,1639.7 1589.3,1638.7 1590.6,1638.2 1591.9,1640.8 1593.2,1639.1 1594.5,1637.7 1595.9,1638.0 1597.2,1635.9 1598.5,1631.6 1599.8,1640.1 1601.1,1636.5 1602.4,1629.1 1603.7,1634.0 1605.0,1636.0 1606.3,1632.9 1607.6,1634.9 1608.9,1640.2 1610.3,1638.1 1611.6,1639.0 1612.9,1636.3 1614.2,1638.8 1615.5,1639.4 1616.8,1640.5 1618.1,1639.8 1619.4,1644.3 1620.7,1647.5 1622.0,1649.8 1623.4,1648.6 1624.7,1650.3 1626.0,1644.3 1627.3,1648.8 1628.6,1644.6 1629.9,1641.9 1631.2,1645.4 1632.5,1645.3 1633.8,1649.3 1635.1,1647.0 1636.4,1649.1 1637.8,1638.7 1639.1,1645.4 1640.4,1644.7 1641.7,1647.1 1643.0,1656.1 1644.3,1652.9 1645.6,1652.1 1646.9,1648.7 1648.2,1651.0 1649.5,1649.5 1650.8,1657.3 1652.2,1656.0 1653.5,1650.9 1654.8,1647.9 1656.1,1641.5 1657.4,1637.1 1658.7,1636.7 1660.0,1631.7 1661.3,1643.5 1662.6,1640.3 1663.9,1642.6 1665.3,1648.2 1666.6,1645.5 1667.9,1639.6 1669.2,1644.1 1670.5,1645.3 1671.8,1649.3 1673.1,1650.1 1674.4,1657.5 1675.7,1644.5 1677.0,1646.1 1678.3,1643.1 1679.7,1648.5 1681.0,1650.5 1682.3,1648.0 1683.6,1645.9 1684.9,1649.7 1686.2,1640.9 1687.5,1652.4 1688.8,1647.1 1690.1,1649.6 1691.4,1654.1 1692.8,1655.6 1694.1,1653.8 1695.4,1648.9 1696.7,1655.7 1698.0,1653.6 1699.3,1649.3 1700.6,1651.4 1701.9,1651.7 1703.2,1651.1 1704.5,1649.8 1705.8,1647.2 1707.2,1652.2 1708.5,1653.7 1709.8,1654.7 1711.1,1656.4 1712.4,1664.6 1713.7,1652.9 1715.0,1647.4 1716.3,1648.6 1717.6,1645.1 1718.9,1655.1 1720.2,1652.4 1721.6,1648.5 1722.9,1643.4 1724.2,1641.3 1725.5,1644.8 1726.8,1642.9 1728.1,1641.6 1729.4,1637.4 1730.7,1640.3 1732.0,1647.9 1733.3,1646.0 1734.7,1651.0 1736.0,1648.1 1737.3,1654.2 1738.6,1645.7 1739.9,1652.0 1741.2,1646.2 1742.5,1646.7 1743.8,1645.2 1745.1,1649.2 1746.4,1650.9 1747.7,1641.5 1749.1,1641.0 1750.4,1652.1 1751.7,1645.9 1753.0,1641.6 1754.3,1647.5 1755.6,1646.7 1756.9,1637.6 1758.2,1640.1 1759.5,1636.0 1760.8,1644.3 1762.1,1639.2 1763.5,1647.2 1764.8,1641.6 1766.1,1640.2 1767.4,1640.7 1768.7,1648.7 1770.0,1646.8 1771.3,1643.4 1772.6,1638.6 1773.9,1642.3 1775.2,1642.7 1776.6,1640.2 1777.9,1635.8 1779.2,1634.1 1780.5,1642.4 1781.8,1639.2 1783.1,1645.5 1784.4,1642.0 1785.7,1642.2 1787.0,1640.3 1788.3,1636.2 1789.6,1636.9 1791.0,1638.9 1792.3,1636.7 1793.6,1634.7 1794.9,1631.2 1796.2,1634.1 1797.5,1634.7 1798.8,1630.6 1800.1,1632.2 1801.4,1625.2 1802.7,1631.1 1804.1,1631.7 1805.4,1630.5 1806.7,1635.9 1808.0,1628.7 1809.3,1633.2 1810.6,1633.5 1811.9,1632.4 1813.2,1634.9 1814.5,1624.8 1815.8,1632.7 1817.1,1626.8 1818.5,1631.7 1819.8,1628.1 1821.1,1628.4 1822.4,1633.2 1823.7,1630.4 1825.0,1633.1 1826.3,1640.1 1827.6,1643.8 1828.9,1635.2 1830.2,1637.1 1831.5,1630.5 1832.9,1632.1 1834.2,1628.3 1835.5,1636.1 1836.8,1637.7 1838.1,1638.5 1839.4,1641.3 1840.7,1644.4 1842.0,1647.5 1843.3,1642.6 1844.6,1641.9 1846.0,1630.8 1847.3,1636.8 1848.6,1641.5 1849.9,1641.0 1851.2,1639.2 1852.5,1640.0" fill="none" stroke="#008000" stroke-width="2.6" stroke-linejoin="round"/>
</g>
<rect x="1421.7" y="1382.0" width="430.8" height="378.6" fill="none" stroke="#000" stroke-width="2.7"/>
<line x1="1415.9" y1="1722.7" x2="1421.7" y2="1722.7" stroke="#000" stroke-width="2.3"/>
<text x="1406.3" y="1733.1" font-size="29" text-anchor="end" >0</text>
<line x1="1415.9" y1="1571.3" x2="1421.7" y2="1571.3" stroke="#000" stroke-width="2.3"/>
<text x="1406.3" y="1581.7" font-size="29" text-anchor="end" >20</text>
<line x1="1415.9" y1="1419.9" x2="1421.7" y2="1419.9" stroke="#000" stroke-width="2.3"/>
<text x="1406.3" y="1430.3" font-size="29" text-anchor="end" >40</text>
<text x="0" y="0" font-size="29" text-anchor="middle" transform="translate(1353.6,1571.3) rotate(-90)">Z position (nm)</text>
<line x1="1421.7" y1="2134.9" x2="1852.5" y2="2134.9" stroke="#c4c4c4" stroke-width="2.2" stroke-dasharray="2.6 3.9"/>
<line x1="1421.7" y1="2059.2" x2="1852.5" y2="2059.2" stroke="#c4c4c4" stroke-width="2.2" stroke-dasharray="2.6 3.9"/>
<line x1="1421.7" y1="1983.5" x2="1852.5" y2="1983.5" stroke="#c4c4c4" stroke-width="2.2" stroke-dasharray="2.6 3.9"/>
<line x1="1421.7" y1="1907.8" x2="1852.5" y2="1907.8" stroke="#c4c4c4" stroke-width="2.2" stroke-dasharray="2.6 3.9"/>
<line x1="1421.7" y1="1832.1" x2="1852.5" y2="1832.1" stroke="#c4c4c4" stroke-width="2.2" stroke-dasharray="2.6 3.9"/>
<line x1="1565.3" y1="1794.2" x2="1565.3" y2="2172.8" stroke="#c4c4c4" stroke-width="2.2" stroke-dasharray="2.6 3.9"/>
<line x1="1708.9" y1="1794.2" x2="1708.9" y2="2172.8" stroke="#c4c4c4" stroke-width="2.2" stroke-dasharray="2.6 3.9"/>
<clipPath id="ch3"><rect x="1421.7" y="1794.2" width="430.8" height="378.6"/></clipPath>
<g clip-path="url(#ch3)">
<polygon points="1421.7,2134.9 1421.7,2075.5 1423.0,2075.0 1424.3,2072.7 1425.6,2075.6 1426.9,2069.5 1428.2,2072.8 1429.6,2070.5 1430.9,2073.0 1432.2,2062.4 1433.5,2065.5 1434.8,2063.4 1436.1,2055.0 1437.4,2062.4 1438.7,2059.6 1440.0,2055.5 1441.3,2057.7 1442.7,2065.9 1444.0,2060.2 1445.3,2057.6 1446.6,2060.8 1447.9,2062.4 1449.2,2066.2 1450.5,2066.2 1451.8,2068.4 1453.1,2067.9 1454.4,2067.2 1455.7,2066.7 1457.1,2068.9 1458.4,2064.6 1459.7,2069.1 1461.0,2065.4 1462.3,2066.7 1463.6,2064.0 1464.9,2066.4 1466.2,2068.0 1467.5,2073.6 1468.8,2071.3 1470.1,2071.0 1471.5,2067.3 1472.8,2064.4 1474.1,2065.2 1475.4,2062.0 1476.7,2068.9 1478.0,2063.1 1479.3,2066.7 1480.6,2066.0 1481.9,2066.5 1483.2,2061.7 1484.6,2069.8 1485.9,2064.2 1487.2,2067.2 1488.5,2063.4 1489.8,2067.6 1491.1,2060.4 1492.4,2068.4 1493.7,2057.3 1495.0,2061.5 1496.3,2063.3 1497.6,2066.2 1499.0,2066.8 1500.3,2065.4 1501.6,2071.6 1502.9,2071.3 1504.2,2070.4 1505.5,2072.5 1506.8,2063.0 1508.1,2056.3 1509.4,2060.7 1510.7,2059.6 1512.1,2061.4 1513.4,2057.8 1514.7,2060.2 1516.0,2054.9 1517.3,2058.3 1518.6,2054.9 1519.9,2056.2 1521.2,2058.2 1522.5,2063.6 1523.8,2062.1 1525.1,2065.6 1526.5,2059.8 1527.8,2057.9 1529.1,2054.1 1530.4,2049.6 1531.7,2054.4 1533.0,2055.5 1534.3,2054.1 1535.6,2051.2 1536.9,2048.5 1538.2,2052.8 1539.5,2056.2 1540.9,2058.6 1542.2,2057.0 1543.5,2060.7 1544.8,2062.2 1546.1,2054.5 1547.4,2061.5 1548.7,2061.4 1550.0,2065.6 1551.3,2059.8 1552.6,2060.4 1554.0,2061.2 1555.3,2056.6 1556.6,2056.0 1557.9,2054.9 1559.2,2059.3 1560.5,2059.6 1561.8,2056.2 1563.1,2057.1 1564.4,2055.3 1565.7,2055.6 1567.0,2058.7 1568.4,2053.8 1569.7,2061.7 1571.0,2058.2 1572.3,2064.6 1573.6,2059.5 1574.9,2047.5 1576.2,2049.2 1577.5,2047.2 1578.8,2044.6 1580.1,2050.0 1581.4,2053.9 1582.8,2051.3 1584.1,2052.5 1585.4,2051.3 1586.7,2052.0 1588.0,2052.8 1589.3,2053.7 1590.6,2057.6 1591.9,2054.5 1593.2,2057.8 1594.5,2055.3 1595.9,2051.6 1597.2,2049.7 1598.5,2042.5 1599.8,2044.9 1601.1,2038.4 1602.4,2040.1 1603.7,2047.5 1605.0,2043.9 1606.3,2043.2 1607.6,2044.8 1608.9,2046.3 1610.3,2046.3 1611.6,2049.6 1612.9,2047.5 1614.2,2052.5 1615.5,2050.7 1616.8,2045.4 1618.1,2055.7 1619.4,2050.3 1620.7,2045.7 1622.0,2051.4 1623.4,2046.6 1624.7,2050.3 1626.0,2043.4 1627.3,2054.1 1628.6,2057.7 1629.9,2054.9 1631.2,2056.6 1632.5,2056.6 1633.8,2051.4 1635.1,2045.2 1636.4,2049.7 1637.8,2046.7 1639.1,2047.6 1640.4,2049.3 1641.7,2051.0 1643.0,2047.0 1644.3,2051.7 1645.6,2046.5 1646.9,2050.6 1648.2,2049.5 1649.5,2056.3 1650.8,2052.3 1652.2,2064.6 1653.5,2058.6 1654.8,2056.3 1656.1,2054.4 1657.4,2057.0 1658.7,2053.8 1660.0,2051.0 1661.3,2053.7 1662.6,2060.0 1663.9,2054.8 1665.3,2054.0 1666.6,2053.9 1667.9,2052.0 1669.2,2042.3 1670.5,2036.0 1671.8,2031.2 1673.1,2039.4 1674.4,2027.5 1675.7,2028.5 1677.0,2032.9 1678.3,2033.1 1679.7,2023.2 1681.0,2018.2 1682.3,2013.4 1683.6,2004.7 1684.9,2007.2 1686.2,2005.7 1687.5,2009.5 1688.8,2010.0 1690.1,2017.1 1691.4,2020.3 1692.8,2018.5 1694.1,2022.6 1695.4,2022.2 1696.7,2019.9 1698.0,2025.6 1699.3,2028.1 1700.6,2033.0 1701.9,2031.8 1703.2,2033.1 1704.5,2033.3 1705.8,2032.6 1707.2,2037.7 1708.5,2040.4 1709.8,2035.2 1711.1,2036.3 1712.4,2033.8 1713.7,2036.4 1715.0,2038.1 1716.3,2036.8 1717.6,2035.0 1718.9,2037.2 1720.2,2032.3 1721.6,2028.6 1722.9,2027.9 1724.2,2023.1 1725.5,2021.5 1726.8,2022.2 1728.1,2023.2 1729.4,2020.0 1730.7,2009.7 1732.0,2010.9 1733.3,2007.0 1734.7,2005.0 1736.0,2008.3 1737.3,2011.6 1738.6,2007.2 1739.9,2001.3 1741.2,1997.1 1742.5,1987.2 1743.8,1984.1 1745.1,1975.9 1746.4,1972.7 1747.7,1964.2 1749.1,1965.3 1750.4,1961.1 1751.7,1956.2 1753.0,1944.6 1754.3,1942.2 1755.6,1930.6 1756.9,1920.9 1758.2,1904.0 1759.5,1891.5 1760.8,1877.8 1762.1,1883.2 1763.5,1871.4 1764.8,1878.3 1766.1,1872.1 1767.4,1869.9 1768.7,1871.7 1770.0,1865.8 1771.3,1870.7 1772.6,1860.6 1773.9,1863.7 1775.2,1862.7 1776.6,1867.2 1777.9,1866.6 1779.2,1862.9 1780.5,1860.2 1781.8,1858.7 1783.1,1853.6 1784.4,1851.5 1785.7,1853.8 1787.0,1850.1 1788.3,1849.4 1789.6,1851.9 1791.0,1852.1 1792.3,1841.5 1793.6,1845.6 1794.9,1838.0 1796.2,1848.1 1797.5,1849.4 1798.8,1853.9 1800.1,1851.8 1801.4,1850.0 1802.7,1855.9 1804.1,1846.5 1805.4,1845.7 1806.7,1846.3 1808.0,1842.5 1809.3,1840.6 1810.6,1845.5 1811.9,1845.3 1813.2,1837.7 1814.5,1833.9 1815.8,1831.5 1817.1,1827.1 1818.5,1833.9 1819.8,1831.5 1821.1,1832.1 1822.4,1836.5 1823.7,1836.0 1825.0,1836.1 1826.3,1827.7 1827.6,1831.9 1828.9,1832.3 1830.2,1828.6 1831.5,1832.5 1832.9,1832.7 1834.2,1830.3 1835.5,1827.1 1836.8,1822.9 1838.1,1823.2 1839.4,1820.1 1840.7,1820.5 1842.0,1816.6 1843.3,1816.7 1844.6,1819.2 1846.0,1816.7 1847.3,1813.4 1848.6,1815.5 1849.9,1827.8 1851.2,1826.5 1852.5,1824.7 1852.5,2134.9" fill="#f1e8e8"/>
<polyline points="1421.7,2134.9 1852.5,2134.9" fill="none" stroke="#bc8f8f" stroke-width="2.6" stroke-linejoin="round"/>
<polyline points="1421.7,2075.5 1423.0,2075.0 1424.3,2072.7 1425.6,2075.6 1426.9,2069.5 1428.2,2072.8 1429.6,2070.5 1430.9,2073.0 1432.2,2062.4 1433.5,2065.5 1434.8,2063.4 1436.1,2055.0 1437.4,2062.4 1438.7,2059.6 1440.0,2055.5 1441.3,2057.7 1442.7,2065.9 1444.0,2060.2 1445.3,2057.6 1446.6,2060.8 1447.9,2062.4 1449.2,2066.2 1450.5,2066.2 1451.8,2068.4 1453.1,2067.9 1454.4,2067.2 1455.7,2066.7 1457.1,2068.9 1458.4,2064.6 1459.7,2069.1 1461.0,2065.4 1462.3,2066.7 1463.6,2064.0 1464.9,2066.4 1466.2,2068.0 1467.5,2073.6 1468.8,2071.3 1470.1,2071.0 1471.5,2067.3 1472.8,2064.4 1474.1,2065.2 1475.4,2062.0 1476.7,2068.9 1478.0,2063.1 1479.3,2066.7 1480.6,2066.0 1481.9,2066.5 1483.2,2061.7 1484.6,2069.8 1485.9,2064.2 1487.2,2067.2 1488.5,2063.4 1489.8,2067.6 1491.1,2060.4 1492.4,2068.4 1493.7,2057.3 1495.0,2061.5 1496.3,2063.3 1497.6,2066.2 1499.0,2066.8 1500.3,2065.4 1501.6,2071.6 1502.9,2071.3 1504.2,2070.4 1505.5,2072.5 1506.8,2063.0 1508.1,2056.3 1509.4,2060.7 1510.7,2059.6 1512.1,2061.4 1513.4,2057.8 1514.7,2060.2 1516.0,2054.9 1517.3,2058.3 1518.6,2054.9 1519.9,2056.2 1521.2,2058.2 1522.5,2063.6 1523.8,2062.1 1525.1,2065.6 1526.5,2059.8 1527.8,2057.9 1529.1,2054.1 1530.4,2049.6 1531.7,2054.4 1533.0,2055.5 1534.3,2054.1 1535.6,2051.2 1536.9,2048.5 1538.2,2052.8 1539.5,2056.2 1540.9,2058.6 1542.2,2057.0 1543.5,2060.7 1544.8,2062.2 1546.1,2054.5 1547.4,2061.5 1548.7,2061.4 1550.0,2065.6 1551.3,2059.8 1552.6,2060.4 1554.0,2061.2 1555.3,2056.6 1556.6,2056.0 1557.9,2054.9 1559.2,2059.3 1560.5,2059.6 1561.8,2056.2 1563.1,2057.1 1564.4,2055.3 1565.7,2055.6 1567.0,2058.7 1568.4,2053.8 1569.7,2061.7 1571.0,2058.2 1572.3,2064.6 1573.6,2059.5 1574.9,2047.5 1576.2,2049.2 1577.5,2047.2 1578.8,2044.6 1580.1,2050.0 1581.4,2053.9 1582.8,2051.3 1584.1,2052.5 1585.4,2051.3 1586.7,2052.0 1588.0,2052.8 1589.3,2053.7 1590.6,2057.6 1591.9,2054.5 1593.2,2057.8 1594.5,2055.3 1595.9,2051.6 1597.2,2049.7 1598.5,2042.5 1599.8,2044.9 1601.1,2038.4 1602.4,2040.1 1603.7,2047.5 1605.0,2043.9 1606.3,2043.2 1607.6,2044.8 1608.9,2046.3 1610.3,2046.3 1611.6,2049.6 1612.9,2047.5 1614.2,2052.5 1615.5,2050.7 1616.8,2045.4 1618.1,2055.7 1619.4,2050.3 1620.7,2045.7 1622.0,2051.4 1623.4,2046.6 1624.7,2050.3 1626.0,2043.4 1627.3,2054.1 1628.6,2057.7 1629.9,2054.9 1631.2,2056.6 1632.5,2056.6 1633.8,2051.4 1635.1,2045.2 1636.4,2049.7 1637.8,2046.7 1639.1,2047.6 1640.4,2049.3 1641.7,2051.0 1643.0,2047.0 1644.3,2051.7 1645.6,2046.5 1646.9,2050.6 1648.2,2049.5 1649.5,2056.3 1650.8,2052.3 1652.2,2064.6 1653.5,2058.6 1654.8,2056.3 1656.1,2054.4 1657.4,2057.0 1658.7,2053.8 1660.0,2051.0 1661.3,2053.7 1662.6,2060.0 1663.9,2054.8 1665.3,2054.0 1666.6,2053.9 1667.9,2052.0 1669.2,2042.3 1670.5,2036.0 1671.8,2031.2 1673.1,2039.4 1674.4,2027.5 1675.7,2028.5 1677.0,2032.9 1678.3,2033.1 1679.7,2023.2 1681.0,2018.2 1682.3,2013.4 1683.6,2004.7 1684.9,2007.2 1686.2,2005.7 1687.5,2009.5 1688.8,2010.0 1690.1,2017.1 1691.4,2020.3 1692.8,2018.5 1694.1,2022.6 1695.4,2022.2 1696.7,2019.9 1698.0,2025.6 1699.3,2028.1 1700.6,2033.0 1701.9,2031.8 1703.2,2033.1 1704.5,2033.3 1705.8,2032.6 1707.2,2037.7 1708.5,2040.4 1709.8,2035.2 1711.1,2036.3 1712.4,2033.8 1713.7,2036.4 1715.0,2038.1 1716.3,2036.8 1717.6,2035.0 1718.9,2037.2 1720.2,2032.3 1721.6,2028.6 1722.9,2027.9 1724.2,2023.1 1725.5,2021.5 1726.8,2022.2 1728.1,2023.2 1729.4,2020.0 1730.7,2009.7 1732.0,2010.9 1733.3,2007.0 1734.7,2005.0 1736.0,2008.3 1737.3,2011.6 1738.6,2007.2 1739.9,2001.3 1741.2,1997.1 1742.5,1987.2 1743.8,1984.1 1745.1,1975.9 1746.4,1972.7 1747.7,1964.2 1749.1,1965.3 1750.4,1961.1 1751.7,1956.2 1753.0,1944.6 1754.3,1942.2 1755.6,1930.6 1756.9,1920.9 1758.2,1904.0 1759.5,1891.5 1760.8,1877.8 1762.1,1883.2 1763.5,1871.4 1764.8,1878.3 1766.1,1872.1 1767.4,1869.9 1768.7,1871.7 1770.0,1865.8 1771.3,1870.7 1772.6,1860.6 1773.9,1863.7 1775.2,1862.7 1776.6,1867.2 1777.9,1866.6 1779.2,1862.9 1780.5,1860.2 1781.8,1858.7 1783.1,1853.6 1784.4,1851.5 1785.7,1853.8 1787.0,1850.1 1788.3,1849.4 1789.6,1851.9 1791.0,1852.1 1792.3,1841.5 1793.6,1845.6 1794.9,1838.0 1796.2,1848.1 1797.5,1849.4 1798.8,1853.9 1800.1,1851.8 1801.4,1850.0 1802.7,1855.9 1804.1,1846.5 1805.4,1845.7 1806.7,1846.3 1808.0,1842.5 1809.3,1840.6 1810.6,1845.5 1811.9,1845.3 1813.2,1837.7 1814.5,1833.9 1815.8,1831.5 1817.1,1827.1 1818.5,1833.9 1819.8,1831.5 1821.1,1832.1 1822.4,1836.5 1823.7,1836.0 1825.0,1836.1 1826.3,1827.7 1827.6,1831.9 1828.9,1832.3 1830.2,1828.6 1831.5,1832.5 1832.9,1832.7 1834.2,1830.3 1835.5,1827.1 1836.8,1822.9 1838.1,1823.2 1839.4,1820.1 1840.7,1820.5 1842.0,1816.6 1843.3,1816.7 1844.6,1819.2 1846.0,1816.7 1847.3,1813.4 1848.6,1815.5 1849.9,1827.8 1851.2,1826.5 1852.5,1824.7" fill="none" stroke="#bc8f8f" stroke-width="2.6" stroke-linejoin="round"/>
<polyline points="1421.7,2045.0 1423.0,2039.7 1424.3,2040.2 1425.6,2032.0 1426.9,2035.0 1428.2,2034.2 1429.6,2031.1 1430.9,2028.6 1432.2,2032.9 1433.5,2030.1 1434.8,2026.3 1436.1,2028.4 1437.4,2028.4 1438.7,2026.9 1440.0,2033.6 1441.3,2029.3 1442.7,2024.6 1444.0,2036.7 1445.3,2030.4 1446.6,2038.6 1447.9,2038.3 1449.2,2031.1 1450.5,2034.1 1451.8,2036.6 1453.1,2035.7 1454.4,2035.8 1455.7,2035.3 1457.1,2038.4 1458.4,2037.1 1459.7,2047.2 1461.0,2046.2 1462.3,2052.8 1463.6,2045.6 1464.9,2050.4 1466.2,2049.8 1467.5,2047.1 1468.8,2054.0 1470.1,2050.9 1471.5,2054.1 1472.8,2055.8 1474.1,2058.6 1475.4,2059.6 1476.7,2063.1 1478.0,2058.8 1479.3,2058.1 1480.6,2057.1 1481.9,2055.8 1483.2,2059.1 1484.6,2055.6 1485.9,2055.8 1487.2,2056.3 1488.5,2061.8 1489.8,2056.8 1491.1,2048.2 1492.4,2054.4 1493.7,2048.4 1495.0,2045.7 1496.3,2054.6 1497.6,2055.2 1499.0,2053.4 1500.3,2056.8 1501.6,2056.5 1502.9,2054.2 1504.2,2050.1 1505.5,2052.2 1506.8,2056.3 1508.1,2060.2 1509.4,2062.7 1510.7,2068.2 1512.1,2057.9 1513.4,2063.8 1514.7,2056.2 1516.0,2057.3 1517.3,2058.2 1518.6,2060.8 1519.9,2062.3 1521.2,2059.5 1522.5,2057.6 1523.8,2058.8 1525.1,2061.2 1526.5,2055.1 1527.8,2062.2 1529.1,2059.2 1530.4,2061.6 1531.7,2064.0 1533.0,2060.1 1534.3,2062.8 1535.6,2065.0 1536.9,2061.1 1538.2,2063.1 1539.5,2066.4 1540.9,2059.5 1542.2,2061.5 1543.5,2067.0 1544.8,2064.5 1546.1,2063.7 1547.4,2072.6 1548.7,2062.9 1550.0,2063.6 1551.3,2060.9 1552.6,2060.6 1554.0,2055.0 1555.3,2058.8 1556.6,2056.9 1557.9,2057.1 1559.2,2055.4 1560.5,2063.0 1561.8,2057.1 1563.1,2066.5 1564.4,2061.4 1565.7,2065.2 1567.0,2065.8 1568.4,2064.5 1569.7,2065.8 1571.0,2060.6 1572.3,2051.2 1573.6,2053.4 1574.9,2051.5 1576.2,2049.9 1577.5,2049.6 1578.8,2053.8 1580.1,2048.2 1581.4,2056.3 1582.8,2056.4 1584.1,2062.7 1585.4,2060.2 1586.7,2058.2 1588.0,2052.6 1589.3,2049.7 1590.6,2052.9 1591.9,2047.6 1593.2,2051.5 1594.5,2049.2 1595.9,2050.3 1597.2,2053.3 1598.5,2053.9 1599.8,2051.4 1601.1,2053.3 1602.4,2058.0 1603.7,2049.7 1605.0,2053.6 1606.3,2048.0 1607.6,2047.9 1608.9,2041.3 1610.3,2047.6 1611.6,2047.9 1612.9,2046.2 1614.2,2046.7 1615.5,2057.9 1616.8,2061.8 1618.1,2064.4 1619.4,2056.1 1620.7,2058.4 1622.0,2056.0 1623.4,2054.5 1624.7,2056.2 1626.0,2053.2 1627.3,2058.3 1628.6,2054.1 1629.9,2055.2 1631.2,2048.4 1632.5,2053.7 1633.8,2055.3 1635.1,2057.3 1636.4,2048.6 1637.8,2052.4 1639.1,2055.1 1640.4,2060.3 1641.7,2056.7 1643.0,2056.3 1644.3,2059.5 1645.6,2059.3 1646.9,2050.8 1648.2,2057.4 1649.5,2058.1 1650.8,2053.1 1652.2,2056.4 1653.5,2057.8 1654.8,2063.0 1656.1,2055.9 1657.4,2061.7 1658.7,2064.3 1660.0,2068.9 1661.3,2064.0 1662.6,2053.6 1663.9,2056.5 1665.3,2054.7 1666.6,2055.2 1667.9,2047.6 1669.2,2050.0 1670.5,2055.1 1671.8,2045.4 1673.1,2051.2 1674.4,2050.8 1675.7,2051.6 1677.0,2047.4 1678.3,2056.1 1679.7,2054.0 1681.0,2057.7 1682.3,2058.7 1683.6,2051.8 1684.9,2052.7 1686.2,2053.3 1687.5,2043.2 1688.8,2056.4 1690.1,2050.1 1691.4,2052.4 1692.8,2058.3 1694.1,2047.4 1695.4,2045.0 1696.7,2050.6 1698.0,2046.9 1699.3,2047.4 1700.6,2050.7 1701.9,2051.0 1703.2,2053.0 1704.5,2056.7 1705.8,2059.6 1707.2,2057.0 1708.5,2062.3 1709.8,2061.6 1711.1,2060.0 1712.4,2060.8 1713.7,2058.4 1715.0,2058.8 1716.3,2059.5 1717.6,2058.3 1718.9,2063.4 1720.2,2055.8 1721.6,2055.0 1722.9,2052.6 1724.2,2046.0 1725.5,2048.0 1726.8,2047.9 1728.1,2045.8 1729.4,2054.3 1730.7,2058.3 1732.0,2054.4 1733.3,2056.1 1734.7,2049.9 1736.0,2055.4 1737.3,2050.9 1738.6,2046.4 1739.9,2042.8 1741.2,2051.7 1742.5,2051.3 1743.8,2049.9 1745.1,2050.9 1746.4,2050.6 1747.7,2053.3 1749.1,2058.1 1750.4,2057.1 1751.7,2060.8 1753.0,2059.5 1754.3,2055.2 1755.6,2055.9 1756.9,2054.9 1758.2,2050.8 1759.5,2042.2 1760.8,2050.4 1762.1,2050.7 1763.5,2054.2 1764.8,2052.6 1766.1,2057.2 1767.4,2057.9 1768.7,2057.5 1770.0,2051.8 1771.3,2053.2 1772.6,2056.7 1773.9,2046.9 1775.2,2050.4 1776.6,2055.8 1777.9,2060.3 1779.2,2057.3 1780.5,2066.4 1781.8,2063.5 1783.1,2066.2 1784.4,2067.0 1785.7,2063.1 1787.0,2048.5 1788.3,2051.7 1789.6,2050.6 1791.0,2056.9 1792.3,2057.4 1793.6,2053.7 1794.9,2055.8 1796.2,2055.8 1797.5,2059.0 1798.8,2056.6 1800.1,2065.9 1801.4,2056.5 1802.7,2058.9 1804.1,2053.8 1805.4,2054.0 1806.7,2052.9 1808.0,2054.4 1809.3,2053.6 1810.6,2051.2 1811.9,2055.7 1813.2,2058.3 1814.5,2061.4 1815.8,2060.8 1817.1,2057.3 1818.5,2065.4 1819.8,2064.4 1821.1,2059.2 1822.4,2052.8 1823.7,2048.0 1825.0,2051.9 1826.3,2058.7 1827.6,2051.6 1828.9,2055.1 1830.2,2060.1 1831.5,2052.7 1832.9,2052.8 1834.2,2058.9 1835.5,2053.6 1836.8,2053.4 1838.1,2056.2 1839.4,2056.8 1840.7,2056.9 1842.0,2058.1 1843.3,2060.8 1844.6,2060.2 1846.0,2058.0 1847.3,2057.8 1848.6,2060.7 1849.9,2054.6 1851.2,2051.5 1852.5,2049.5" fill="none" stroke="#ff0000" stroke-width="2.6" stroke-linejoin="round"/>
<polyline points="1421.7,2048.2 1423.0,2043.0 1424.3,2037.5 1425.6,2042.5 1426.9,2036.3 1428.2,2037.2 1429.6,2039.2 1430.9,2040.1 1432.2,2037.0 1433.5,2041.0 1434.8,2038.4 1436.1,2044.5 1437.4,2036.9 1438.7,2044.0 1440.0,2038.6 1441.3,2039.3 1442.7,2035.3 1444.0,2037.3 1445.3,2037.1 1446.6,2035.9 1447.9,2046.5 1449.2,2042.8 1450.5,2047.2 1451.8,2049.9 1453.1,2052.0 1454.4,2054.1 1455.7,2048.6 1457.1,2049.9 1458.4,2048.6 1459.7,2049.4 1461.0,2048.5 1462.3,2051.2 1463.6,2043.7 1464.9,2056.6 1466.2,2058.0 1467.5,2058.1 1468.8,2057.0 1470.1,2050.9 1471.5,2055.5 1472.8,2053.3 1474.1,2051.4 1475.4,2058.9 1476.7,2056.4 1478.0,2059.6 1479.3,2059.1 1480.6,2056.3 1481.9,2054.6 1483.2,2052.7 1484.6,2042.1 1485.9,2050.9 1487.2,2052.8 1488.5,2050.9 1489.8,2052.7 1491.1,2051.2 1492.4,2048.2 1493.7,2045.4 1495.0,2048.4 1496.3,2045.7 1497.6,2039.7 1499.0,2039.1 1500.3,2042.4 1501.6,2037.6 1502.9,2038.2 1504.2,2040.1 1505.5,2043.6 1506.8,2037.7 1508.1,2042.2 1509.4,2046.0 1510.7,2045.0 1512.1,2048.3 1513.4,2044.4 1514.7,2044.1 1516.0,2039.1 1517.3,2036.0 1518.6,2039.3 1519.9,2045.6 1521.2,2042.9 1522.5,2040.3 1523.8,2037.3 1525.1,2033.0 1526.5,2031.8 1527.8,2024.2 1529.1,2022.5 1530.4,2031.5 1531.7,2035.4 1533.0,2035.5 1534.3,2040.9 1535.6,2040.1 1536.9,2038.4 1538.2,2038.9 1539.5,2034.5 1540.9,2037.9 1542.2,2038.4 1543.5,2042.2 1544.8,2040.7 1546.1,2049.7 1547.4,2047.1 1548.7,2049.8 1550.0,2045.8 1551.3,2047.3 1552.6,2048.1 1554.0,2045.8 1555.3,2053.3 1556.6,2055.1 1557.9,2048.0 1559.2,2049.6 1560.5,2049.5 1561.8,2043.8 1563.1,2050.2 1564.4,2051.4 1565.7,2053.5 1567.0,2061.5 1568.4,2057.0 1569.7,2058.7 1571.0,2050.5 1572.3,2047.4 1573.6,2052.8 1574.9,2050.6 1576.2,2047.2 1577.5,2047.8 1578.8,2046.3 1580.1,2046.4 1581.4,2042.3 1582.8,2042.4 1584.1,2040.4 1585.4,2043.3 1586.7,2043.0 1588.0,2042.4 1589.3,2043.2 1590.6,2054.3 1591.9,2051.4 1593.2,2044.9 1594.5,2050.5 1595.9,2043.8 1597.2,2050.5 1598.5,2054.9 1599.8,2053.1 1601.1,2054.7 1602.4,2057.1 1603.7,2059.0 1605.0,2056.9 1606.3,2058.7 1607.6,2058.2 1608.9,2059.9 1610.3,2058.9 1611.6,2056.7 1612.9,2058.1 1614.2,2056.7 1615.5,2060.2 1616.8,2061.0 1618.1,2058.0 1619.4,2056.7 1620.7,2053.2 1622.0,2048.1 1623.4,2050.6 1624.7,2052.8 1626.0,2051.1 1627.3,2052.7 1628.6,2050.8 1629.9,2051.3 1631.2,2054.0 1632.5,2054.2 1633.8,2055.8 1635.1,2055.4 1636.4,2055.6 1637.8,2055.8 1639.1,2054.0 1640.4,2050.3 1641.7,2051.1 1643.0,2040.6 1644.3,2039.8 1645.6,2043.6 1646.9,2043.1 1648.2,2046.4 1649.5,2044.6 1650.8,2048.1 1652.2,2052.8 1653.5,2044.9 1654.8,2051.5 1656.1,2042.7 1657.4,2042.0 1658.7,2041.2 1660.0,2040.0 1661.3,2039.5 1662.6,2045.1 1663.9,2045.9 1665.3,2041.2 1666.6,2047.8 1667.9,2049.9 1669.2,2041.6 1670.5,2045.2 1671.8,2045.9 1673.1,2050.5 1674.4,2056.8 1675.7,2058.9 1677.0,2057.8 1678.3,2055.9 1679.7,2056.2 1681.0,2050.1 1682.3,2053.6 1683.6,2052.1 1684.9,2052.7 1686.2,2046.8 1687.5,2042.6 1688.8,2039.4 1690.1,2036.4 1691.4,2037.6 1692.8,2039.6 1694.1,2046.9 1695.4,2038.9 1696.7,2040.0 1698.0,2043.9 1699.3,2044.1 1700.6,2047.1 1701.9,2049.3 1703.2,2051.7 1704.5,2059.9 1705.8,2060.0 1707.2,2060.8 1708.5,2060.8 1709.8,2047.3 1711.1,2049.5 1712.4,2045.9 1713.7,2047.2 1715.0,2048.0 1716.3,2053.0 1717.6,2047.9 1718.9,2049.9 1720.2,2045.5 1721.6,2040.1 1722.9,2041.5 1724.2,2049.1 1725.5,2051.4 1726.8,2045.9 1728.1,2041.0 1729.4,2047.4 1730.7,2050.0 1732.0,2052.6 1733.3,2046.8 1734.7,2053.2 1736.0,2041.6 1737.3,2040.4 1738.6,2043.0 1739.9,2036.4 1741.2,2037.6 1742.5,2038.4 1743.8,2032.5 1745.1,2030.0 1746.4,2026.2 1747.7,2030.1 1749.1,2030.9 1750.4,2037.1 1751.7,2029.5 1753.0,2036.2 1754.3,2035.9 1755.6,2037.4 1756.9,2031.5 1758.2,2039.9 1759.5,2032.8 1760.8,2039.1 1762.1,2032.8 1763.5,2036.1 1764.8,2026.6 1766.1,2031.8 1767.4,2034.4 1768.7,2034.3 1770.0,2036.2 1771.3,2036.1 1772.6,2032.0 1773.9,2032.1 1775.2,2030.0 1776.6,2036.4 1777.9,2042.5 1779.2,2042.0 1780.5,2042.7 1781.8,2042.4 1783.1,2041.7 1784.4,2044.7 1785.7,2035.7 1787.0,2036.9 1788.3,2035.4 1789.6,2028.6 1791.0,2029.1 1792.3,2036.1 1793.6,2031.0 1794.9,2035.0 1796.2,2039.7 1797.5,2035.0 1798.8,2037.2 1800.1,2036.1 1801.4,2042.4 1802.7,2038.0 1804.1,2038.7 1805.4,2039.8 1806.7,2038.3 1808.0,2028.6 1809.3,2027.9 1810.6,2030.1 1811.9,2026.9 1813.2,2030.5 1814.5,2031.6 1815.8,2028.1 1817.1,2028.2 1818.5,2028.1 1819.8,2027.2 1821.1,2022.9 1822.4,2030.1 1823.7,2027.2 1825.0,2027.7 1826.3,2030.4 1827.6,2036.9 1828.9,2034.7 1830.2,2032.1 1831.5,2038.1 1832.9,2036.1 1834.2,2039.8 1835.5,2040.1 1836.8,2041.8 1838.1,2037.6 1839.4,2036.2 1840.7,2040.7 1842.0,2036.5 1843.3,2038.5 1844.6,2037.1 1846.0,2041.2 1847.3,2046.2 1848.6,2040.9 1849.9,2041.0 1851.2,2045.6 1852.5,2044.0" fill="none" stroke="#0000ff" stroke-width="2.6" stroke-linejoin="round"/>
<polyline points="1421.7,2028.9 1423.0,2029.7 1424.3,2028.9 1425.6,2031.4 1426.9,2026.4 1428.2,2021.7 1429.6,2026.4 1430.9,2017.2 1432.2,2022.6 1433.5,2021.3 1434.8,2030.8 1436.1,2028.0 1437.4,2036.2 1438.7,2027.7 1440.0,2025.0 1441.3,2029.0 1442.7,2031.6 1444.0,2024.3 1445.3,2025.8 1446.6,2025.9 1447.9,2022.0 1449.2,2027.6 1450.5,2029.8 1451.8,2027.8 1453.1,2028.5 1454.4,2031.0 1455.7,2026.7 1457.1,2033.2 1458.4,2034.8 1459.7,2036.5 1461.0,2033.4 1462.3,2023.8 1463.6,2026.2 1464.9,2030.0 1466.2,2024.7 1467.5,2022.0 1468.8,2028.5 1470.1,2030.4 1471.5,2027.3 1472.8,2035.2 1474.1,2036.6 1475.4,2035.3 1476.7,2038.9 1478.0,2042.5 1479.3,2041.1 1480.6,2044.3 1481.9,2042.4 1483.2,2040.7 1484.6,2035.4 1485.9,2039.4 1487.2,2035.1 1488.5,2036.7 1489.8,2043.4 1491.1,2039.6 1492.4,2045.2 1493.7,2041.0 1495.0,2040.8 1496.3,2043.0 1497.6,2055.2 1499.0,2050.2 1500.3,2054.0 1501.6,2055.6 1502.9,2054.8 1504.2,2052.9 1505.5,2048.2 1506.8,2049.9 1508.1,2051.2 1509.4,2048.8 1510.7,2055.7 1512.1,2062.5 1513.4,2052.3 1514.7,2052.4 1516.0,2050.9 1517.3,2048.7 1518.6,2052.2 1519.9,2052.1 1521.2,2050.9 1522.5,2048.8 1523.8,2047.8 1525.1,2044.5 1526.5,2041.8 1527.8,2034.7 1529.1,2043.8 1530.4,2043.5 1531.7,2049.0 1533.0,2050.4 1534.3,2047.1 1535.6,2047.3 1536.9,2045.4 1538.2,2043.5 1539.5,2046.6 1540.9,2046.4 1542.2,2051.0 1543.5,2046.4 1544.8,2042.2 1546.1,2045.4 1547.4,2040.6 1548.7,2042.0 1550.0,2047.1 1551.3,2044.6 1552.6,2047.3 1554.0,2051.7 1555.3,2047.1 1556.6,2050.2 1557.9,2046.8 1559.2,2039.9 1560.5,2041.1 1561.8,2047.3 1563.1,2037.2 1564.4,2037.6 1565.7,2042.0 1567.0,2043.8 1568.4,2041.9 1569.7,2043.4 1571.0,2052.4 1572.3,2048.4 1573.6,2047.9 1574.9,2055.3 1576.2,2055.3 1577.5,2048.8 1578.8,2056.2 1580.1,2056.8 1581.4,2052.5 1582.8,2049.5 1584.1,2051.3 1585.4,2053.7 1586.7,2054.2 1588.0,2052.6 1589.3,2056.0 1590.6,2057.5 1591.9,2049.8 1593.2,2052.0 1594.5,2054.7 1595.9,2055.2 1597.2,2057.1 1598.5,2051.2 1599.8,2048.8 1601.1,2041.1 1602.4,2045.3 1603.7,2045.7 1605.0,2042.1 1606.3,2049.4 1607.6,2052.8 1608.9,2057.6 1610.3,2049.9 1611.6,2050.2 1612.9,2052.0 1614.2,2053.5 1615.5,2052.8 1616.8,2047.0 1618.1,2046.7 1619.4,2044.1 1620.7,2050.7 1622.0,2053.8 1623.4,2057.9 1624.7,2053.9 1626.0,2048.3 1627.3,2048.6 1628.6,2052.7 1629.9,2054.7 1631.2,2053.8 1632.5,2052.9 1633.8,2052.4 1635.1,2055.7 1636.4,2056.4 1637.8,2058.8 1639.1,2064.1 1640.4,2066.3 1641.7,2058.4 1643.0,2056.0 1644.3,2052.0 1645.6,2049.7 1646.9,2052.1 1648.2,2052.8 1649.5,2059.8 1650.8,2062.3 1652.2,2059.9 1653.5,2061.0 1654.8,2055.7 1656.1,2048.4 1657.4,2055.0 1658.7,2048.7 1660.0,2046.3 1661.3,2048.1 1662.6,2056.3 1663.9,2052.1 1665.3,2052.4 1666.6,2052.1 1667.9,2052.2 1669.2,2047.2 1670.5,2046.1 1671.8,2054.5 1673.1,2052.9 1674.4,2052.9 1675.7,2057.8 1677.0,2060.0 1678.3,2060.7 1679.7,2053.3 1681.0,2051.1 1682.3,2050.4 1683.6,2056.6 1684.9,2050.2 1686.2,2049.9 1687.5,2053.6 1688.8,2047.4 1690.1,2053.5 1691.4,2053.3 1692.8,2049.9 1694.1,2050.7 1695.4,2054.7 1696.7,2058.3 1698.0,2050.4 1699.3,2050.9 1700.6,2054.1 1701.9,2046.5 1703.2,2041.4 1704.5,2043.7 1705.8,2044.2 1707.2,2043.2 1708.5,2042.5 1709.8,2042.3 1711.1,2048.0 1712.4,2048.7 1713.7,2051.0 1715.0,2055.3 1716.3,2046.5 1717.6,2049.0 1718.9,2051.9 1720.2,2054.7 1721.6,2059.0 1722.9,2047.8 1724.2,2056.2 1725.5,2052.3 1726.8,2049.7 1728.1,2052.3 1729.4,2051.7 1730.7,2051.4 1732.0,2047.1 1733.3,2050.1 1734.7,2050.5 1736.0,2050.9 1737.3,2057.6 1738.6,2051.0 1739.9,2056.8 1741.2,2049.8 1742.5,2051.9 1743.8,2050.4 1745.1,2051.5 1746.4,2053.0 1747.7,2051.1 1749.1,2055.2 1750.4,2051.5 1751.7,2052.1 1753.0,2044.3 1754.3,2046.8 1755.6,2049.0 1756.9,2052.5 1758.2,2050.3 1759.5,2050.0 1760.8,2054.6 1762.1,2046.4 1763.5,2046.6 1764.8,2047.2 1766.1,2049.0 1767.4,2047.7 1768.7,2046.1 1770.0,2052.4 1771.3,2048.1 1772.6,2049.0 1773.9,2050.0 1775.2,2048.0 1776.6,2053.3 1777.9,2044.0 1779.2,2056.0 1780.5,2048.4 1781.8,2049.1 1783.1,2044.3 1784.4,2045.7 1785.7,2048.2 1787.0,2049.7 1788.3,2046.8 1789.6,2045.5 1791.0,2038.9 1792.3,2042.2 1793.6,2046.9 1794.9,2043.2 1796.2,2044.3 1797.5,2043.1 1798.8,2042.0 1800.1,2045.0 1801.4,2037.3 1802.7,2036.1 1804.1,2042.1 1805.4,2034.3 1806.7,2034.1 1808.0,2037.1 1809.3,2036.1 1810.6,2038.6 1811.9,2030.0 1813.2,2034.6 1814.5,2038.6 1815.8,2031.8 1817.1,2028.0 1818.5,2029.2 1819.8,2036.3 1821.1,2029.0 1822.4,2032.8 1823.7,2025.2 1825.0,2028.4 1826.3,2029.6 1827.6,2022.8 1828.9,2029.6 1830.2,2032.3 1831.5,2032.1 1832.9,2035.9 1834.2,2040.6 1835.5,2035.9 1836.8,2028.3 1838.1,2033.4 1839.4,2036.2 1840.7,2035.6 1842.0,2031.5 1843.3,2032.5 1844.6,2039.5 1846.0,2040.7 1847.3,2038.5 1848.6,2036.9 1849.9,2036.3 1851.2,2031.0 1852.5,2027.3" fill="none" stroke="#008000" stroke-width="2.6" stroke-linejoin="round"/>
</g>
<rect x="1421.7" y="1794.2" width="430.8" height="378.6" fill="none" stroke="#000" stroke-width="2.7"/>
<line x1="1421.7" y1="2172.8" x2="1421.7" y2="2178.6" stroke="#000" stroke-width="2.3"/>
<text x="1421.7" y="2210.9" font-size="29" text-anchor="middle" >0</text>
<line x1="1565.3" y1="2172.8" x2="1565.3" y2="2178.6" stroke="#000" stroke-width="2.3"/>
<text x="1565.3" y="2210.9" font-size="29" text-anchor="middle" >1</text>
<line x1="1708.9" y1="2172.8" x2="1708.9" y2="2178.6" stroke="#000" stroke-width="2.3"/>
<text x="1708.9" y="2210.9" font-size="29" text-anchor="middle" >2</text>
<line x1="1852.5" y1="2172.8" x2="1852.5" y2="2178.6" stroke="#000" stroke-width="2.3"/>
<text x="1852.5" y="2210.9" font-size="29" text-anchor="middle" >3</text>
<line x1="1415.9" y1="2134.9" x2="1421.7" y2="2134.9" stroke="#000" stroke-width="2.3"/>
<text x="1406.3" y="2145.3" font-size="29" text-anchor="end" >0</text>
<line x1="1415.9" y1="1983.5" x2="1421.7" y2="1983.5" stroke="#000" stroke-width="2.3"/>
<text x="1406.3" y="1993.9" font-size="29" text-anchor="end" >20</text>
<line x1="1415.9" y1="1832.1" x2="1421.7" y2="1832.1" stroke="#000" stroke-width="2.3"/>
<text x="1406.3" y="1842.5" font-size="29" text-anchor="end" >40</text>
<text x="1637.1" y="2247.8" font-size="29" text-anchor="middle" >Time (μs)</text>
<text x="0" y="0" font-size="29" text-anchor="middle" transform="translate(1353.6,1983.5) rotate(-90)">Z position (nm)</text>
<rect x="1874.9" y="1242.5" width="23.7" height="23.3" fill="#f1e8e8"/>
<text x="1906.2" y="1264.1" font-size="29" text-anchor="start" >Membrane</text>
<line x1="1874.9" y1="1331.9" x2="1898.6" y2="1331.9" stroke="#bc8f8f" stroke-width="2.6"/>
<text x="1905.4" y="1339.6" font-size="29" text-anchor="start" >PO4 headgroups</text>
<line x1="1874.9" y1="1411.8" x2="1898.6" y2="1411.8" stroke="#ff0000" stroke-width="2.6"/>
<text x="1908.2" y="1418.7" font-size="29" text-anchor="start" >TPC 1</text>
<line x1="1874.9" y1="1485.7" x2="1898.6" y2="1485.7" stroke="#0000ff" stroke-width="2.6"/>
<text x="1908.2" y="1492.7" font-size="29" text-anchor="start" >TPC 2</text>
<line x1="1874.9" y1="1559.6" x2="1898.6" y2="1559.6" stroke="#008000" stroke-width="2.6"/>
<text x="1908.2" y="1566.7" font-size="29" text-anchor="start" >TPC 3</text>
<text x="1329.6" y="580.4" font-size="29" text-anchor="start" font-weight="bold" >h</text>
<polygon points="43.0,87.5 46.8,88.0 50.5,87.9 54.3,87.3 58.1,87.4 61.8,87.3 65.6,87.7 69.3,87.5 73.1,87.8 76.9,86.9 80.6,88.0 84.4,87.5 88.2,87.7 91.9,87.5 95.7,87.4 99.4,87.7 103.2,87.8 107.0,87.4 110.7,87.4 114.5,87.7 118.3,87.2 122.0,87.0 125.8,87.6 129.5,87.3 133.3,86.8 137.1,87.2 140.8,87.3 144.6,87.1 148.4,87.0 152.1,87.5 155.9,87.8 159.6,87.4 163.4,87.2 167.2,87.6 170.9,87.8 174.7,87.4 178.5,87.7 182.2,87.9 186.0,87.4 189.7,87.2 193.5,87.6 197.3,87.6 201.0,87.9 204.8,87.1 208.6,87.3 212.3,87.2 216.1,86.9 219.8,87.5 223.6,87.7 227.4,87.2 231.1,88.0 234.9,87.8 238.7,87.7 242.4,87.6 246.2,87.8 249.9,87.0 253.7,87.7 257.5,87.7 261.2,86.9 265.0,87.6 266.7,88.6 268.1,90.0 269.1,92.0 269.4,94.4 269.1,96.9 268.1,98.9 266.7,100.3 265.0,101.3 261.2,101.2 257.5,102.4 253.7,102.0 249.9,101.0 246.2,101.3 242.4,101.5 238.7,102.2 234.9,101.7 231.1,102.0 227.4,101.0 223.6,101.4 219.8,101.9 216.1,101.3 212.3,101.1 208.6,101.4 204.8,101.5 201.0,101.6 197.3,101.6 193.5,101.2 189.7,101.4 186.0,101.5 182.2,101.6 178.5,101.2 174.7,101.6 170.9,102.1 167.2,101.7 163.4,101.3 159.6,100.9 155.9,102.2 152.1,102.0 148.4,101.6 144.6,101.0 140.8,101.4 137.1,100.9 133.3,102.0 129.5,101.7 125.8,101.1 122.0,101.9 118.3,101.1 114.5,101.5 110.7,101.7 107.0,101.8 103.2,100.9 99.4,102.1 95.7,101.9 91.9,101.7 88.2,101.4 84.4,101.7 80.6,101.9 76.9,101.3 73.1,101.7 69.3,101.5 65.6,101.7 61.8,101.2 58.1,101.6 54.3,101.5 50.5,101.3 46.8,101.8 43.0,101.4 41.3,100.4 39.8,99.0 38.8,96.9 38.5,94.5 38.8,92.0 39.8,89.9 41.3,88.5" fill="#000" filter="url(#txsw)"/>
<polygon points="43.0,99.9 46.8,100.3 50.5,99.8 54.3,100.0 58.1,100.1 61.8,99.7 65.6,100.2 69.3,100.0 73.1,100.2 76.9,99.8 80.6,100.4 84.4,100.2 88.2,99.9 91.9,100.2 95.7,100.4 99.4,100.6 103.2,99.4 107.0,100.3 110.7,100.2 114.5,100.0 118.3,99.6 122.0,100.4 125.8,99.6 129.5,100.2 133.3,100.5 137.1,99.4 140.8,99.9 144.6,99.5 148.4,100.1 152.1,100.5 155.9,100.7 159.6,99.4 163.4,99.8 167.2,100.2 170.9,100.6 174.7,100.1 178.5,99.7 182.2,100.1 186.0,100.0 189.7,99.9 193.5,99.7 197.3,100.1 201.0,100.1 204.8,100.0 208.6,99.9 212.3,99.6 216.1,99.8 219.8,100.4 223.6,99.9 227.4,99.5 231.1,100.5 234.9,100.2 238.7,100.7 242.4,100.0 246.2,99.8 249.9,99.5 253.7,100.5 257.5,100.9 261.2,99.7 265.0,99.8 265.0,100.8 261.2,102.7 257.5,104.7 253.7,104.7 249.9,104.7 246.2,104.9 242.4,105.6 238.7,106.2 234.9,106.4 231.1,106.6 227.4,105.8 223.6,106.5 219.8,107.1 216.1,106.3 212.3,106.2 208.6,106.3 204.8,107.3 201.0,106.6 197.3,106.6 193.5,106.4 189.7,106.7 186.0,106.7 182.2,107.0 178.5,106.9 174.7,106.8 170.9,107.5 167.2,106.9 163.4,106.6 159.6,106.3 155.9,107.5 152.1,107.1 148.4,106.7 144.6,106.1 140.8,106.8 137.1,106.0 133.3,107.1 129.5,107.1 125.8,106.2 122.0,107.5 118.3,106.3 114.5,106.6 110.7,107.2 107.0,107.4 103.2,106.4 99.4,107.0 95.7,107.2 91.9,106.5 88.2,106.6 84.4,106.6 80.6,106.7 76.9,105.8 73.1,105.9 69.3,105.6 65.6,105.5 61.8,104.9 58.1,105.0 54.3,104.5 50.5,103.8 46.8,103.3 43.0,100.9" fill="#000" filter="url(#txspl)"/>
<polygon points="43.0,88.0 46.8,85.8 50.5,84.9 54.3,83.5 58.1,83.2 61.8,82.2 65.6,82.8 69.3,81.8 73.1,82.1 76.9,81.0 80.6,80.9 84.4,80.6 88.2,81.2 91.9,80.9 95.7,80.7 99.4,81.0 103.2,80.5 107.0,80.5 110.7,80.3 114.5,81.2 118.3,80.2 122.0,80.0 125.8,80.8 129.5,80.0 133.3,79.9 137.1,80.7 140.8,80.7 144.6,80.3 148.4,79.1 152.1,81.0 155.9,81.2 159.6,80.2 163.4,80.3 167.2,80.7 170.9,80.7 174.7,79.5 178.5,80.7 182.2,80.1 186.0,79.5 189.7,80.2 193.5,80.9 197.3,80.9 201.0,81.1 204.8,80.3 208.6,80.8 212.3,80.9 216.1,79.7 219.8,81.4 223.6,81.3 227.4,81.4 231.1,82.1 234.9,82.0 238.7,82.1 242.4,82.6 246.2,83.1 249.9,82.8 253.7,83.9 257.5,84.7 261.2,84.7 265.0,88.1 265.0,89.1 261.2,88.4 257.5,89.2 253.7,89.2 249.9,88.5 246.2,89.3 242.4,89.1 238.7,89.2 234.9,89.3 231.1,89.5 227.4,88.7 223.6,89.2 219.8,89.0 216.1,88.4 212.3,88.7 208.6,88.8 204.8,88.6 201.0,89.4 197.3,89.1 193.5,89.1 189.7,88.7 186.0,88.9 182.2,89.4 178.5,89.2 174.7,88.9 170.9,89.3 167.2,89.1 163.4,88.7 159.6,88.9 155.9,89.3 152.1,89.0 148.4,88.5 144.6,88.6 140.8,88.8 137.1,88.7 133.3,88.3 129.5,88.8 125.8,89.1 122.0,88.5 118.3,88.7 114.5,89.2 110.7,88.9 107.0,88.9 103.2,89.3 99.4,89.2 95.7,88.9 91.9,89.0 88.2,89.2 84.4,89.0 80.6,89.5 76.9,88.4 73.1,89.3 69.3,89.0 65.6,89.2 61.8,88.8 58.1,88.9 54.3,88.8 50.5,89.4 46.8,89.5 43.0,89.0" fill="#000" filter="url(#txspl)"/>
<polygon points="43.0,88.0 46.8,85.8 50.5,84.9 54.3,83.5 58.1,83.2 61.8,82.2 65.6,82.8 69.3,81.8 73.1,82.1 76.9,81.0 80.6,80.9 84.4,80.6 88.2,81.2 91.9,80.9 95.7,80.7 99.4,81.0 103.2,80.5 107.0,80.5 110.7,80.3 114.5,81.2 118.3,80.2 122.0,80.0 125.8,80.8 129.5,80.0 133.3,79.9 137.1,80.7 140.8,80.7 144.6,80.3 148.4,79.1 152.1,81.0 155.9,81.2 159.6,80.2 163.4,80.3 167.2,80.7 170.9,80.7 174.7,79.5 178.5,80.7 182.2,80.1 186.0,79.5 189.7,80.2 193.5,80.9 197.3,80.9 201.0,81.1 204.8,80.3 208.6,80.8 212.3,80.9 216.1,79.7 219.8,81.4 223.6,81.3 227.4,81.4 231.1,82.1 234.9,82.0 238.7,82.1 242.4,82.6 246.2,83.1 249.9,82.8 253.7,83.9 257.5,84.7 261.2,84.7 265.0,88.1 265.0,88.1 261.2,86.5 257.5,87.1 253.7,86.8 249.9,86.0 246.2,86.7 242.4,86.4 238.7,86.2 234.9,86.3 231.1,86.4 227.4,85.7 223.6,86.0 219.8,85.9 216.1,84.9 212.3,85.5 208.6,85.6 204.8,85.2 201.0,86.1 197.3,85.8 193.5,85.8 189.7,85.3 186.0,85.2 182.2,85.7 178.5,85.8 174.7,85.2 170.9,85.8 167.2,85.8 163.4,85.4 159.6,85.4 155.9,86.0 152.1,85.8 148.4,84.8 144.6,85.3 140.8,85.5 137.1,85.5 133.3,85.0 129.5,85.3 125.8,85.8 122.0,85.1 118.3,85.3 114.5,86.0 110.7,85.5 107.0,85.5 103.2,85.8 99.4,85.9 95.7,85.6 91.9,85.7 88.2,86.0 84.4,85.6 80.6,86.1 76.9,85.3 73.1,86.3 69.3,86.0 65.6,86.5 61.8,86.0 58.1,86.4 54.3,86.5 50.5,87.3 46.8,87.6 43.0,88.0" fill="#000" filter="url(#txsp)"/>
<rect x="46.5" y="184.0" width="214.5" height="217.0" fill="#000" filter="url(#txfa)"/>
<rect x="30.5" y="4.7" width="248.1" height="426.6" fill="none" stroke="#000" stroke-width="2.8" stroke-dasharray="2.9 2.1"/>
<text x="37.9" y="32.0" font-size="29" text-anchor="start" >0 μs</text>
<g transform="translate(30.5,4.7)"><line x1="79.7" y1="148.1" x2="139.9" y2="148.1" stroke="#9a9a9a" stroke-width="2"/><path d="M121.4,148.3 C121.6,128 116.5,116.6 109.8,116.6 C102.2,116.6 97.2,129 97.2,142 C97.2,154 101.5,161.5 107.5,164.5" fill="none" stroke="#000" stroke-width="2.6"/><path d="M119.4,166.9 L105.6,160.6 L107.6,166.2 L104.9,171.2 Z" fill="#000"/></g>
<text x="156.1" y="180.6" font-size="29.8">90<tspan font-size="19.4" dx="-0.2" dy="-9.8">o</tspan></text>
<text x="154.6" y="426.6" font-size="29" text-anchor="middle" >~ 60 nm</text>
<polygon points="318.6,91.3 322.4,91.5 326.1,91.3 329.9,91.1 333.7,91.3 337.4,90.1 341.2,90.2 345.0,89.8 348.8,90.1 352.5,90.3 356.3,89.8 360.1,89.9 363.8,88.9 367.6,89.4 371.4,88.9 375.1,89.7 378.9,89.3 382.7,89.3 386.5,89.1 390.2,89.5 394.0,89.6 397.8,89.4 401.5,89.5 405.3,89.8 409.1,89.7 412.8,89.9 416.6,90.1 420.4,90.1 424.1,90.8 427.9,90.1 431.7,91.0 435.5,90.4 439.2,90.4 443.0,90.0 446.8,90.4 450.5,90.3 454.3,90.4 458.1,90.1 461.8,90.3 465.6,90.8 469.4,90.3 473.1,90.0 476.9,90.6 480.7,90.2 484.5,90.6 488.2,90.6 492.0,90.3 495.8,89.9 499.5,90.5 503.3,90.9 507.1,90.6 510.8,90.9 514.6,91.2 518.4,90.7 522.2,91.4 525.9,91.6 529.7,91.5 533.5,91.6 537.2,91.6 541.0,92.1 542.3,93.0 543.5,94.1 544.2,95.7 544.5,97.6 544.2,99.5 543.5,101.2 542.3,102.3 541.0,103.1 537.2,103.5 533.5,104.0 529.7,103.7 525.9,104.0 522.2,102.9 518.4,103.7 514.6,103.4 510.8,104.2 507.1,103.7 503.3,103.4 499.5,103.5 495.8,103.9 492.0,103.5 488.2,103.4 484.5,103.4 480.7,103.3 476.9,103.6 473.1,103.3 469.4,102.7 465.6,103.4 461.8,103.2 458.1,103.5 454.3,103.8 450.5,103.0 446.8,103.8 443.0,103.6 439.2,103.4 435.5,103.3 431.7,103.9 427.9,103.0 424.1,103.7 420.4,103.7 416.6,103.2 412.8,102.9 409.1,103.8 405.3,103.8 401.5,103.7 397.8,103.8 394.0,103.7 390.2,103.6 386.5,103.1 382.7,103.1 378.9,103.7 375.1,103.6 371.4,103.9 367.6,103.7 363.8,103.5 360.1,103.4 356.3,103.4 352.5,102.8 348.8,103.0 345.0,103.7 341.2,103.6 337.4,103.2 333.7,103.0 329.9,103.2 326.1,103.7 322.4,103.5 318.6,103.6 317.1,102.6 315.8,101.4 315.0,99.6 314.7,97.4 315.0,95.3 315.8,93.4 317.1,92.2" fill="#000" filter="url(#txsw)"/>
<polygon points="318.6,102.1 322.4,102.0 326.1,102.2 329.9,101.7 333.7,101.5 337.4,101.7 341.2,102.1 345.0,102.2 348.8,101.5 352.5,101.3 356.3,101.9 360.1,101.9 363.8,102.0 367.6,102.2 371.4,102.4 375.1,102.1 378.9,102.2 382.7,101.6 386.5,101.6 390.2,102.1 394.0,102.2 397.8,102.3 401.5,102.2 405.3,102.3 409.1,102.3 412.8,101.4 416.6,101.7 420.4,102.2 424.1,102.2 427.9,101.5 431.7,102.4 435.5,101.8 439.2,101.9 443.0,102.1 446.8,102.3 450.5,101.5 454.3,102.3 458.1,102.0 461.8,101.7 465.6,101.9 469.4,101.2 473.1,101.8 476.9,102.1 480.7,101.8 484.5,101.9 488.2,101.9 492.0,102.0 495.8,102.4 499.5,102.0 503.3,101.9 507.1,102.2 510.8,102.7 514.6,101.9 518.4,102.2 522.2,101.4 525.9,102.5 529.7,102.2 533.5,102.5 537.2,102.0 541.0,101.6 541.0,102.6 537.2,105.2 533.5,106.5 529.7,106.8 525.9,107.5 522.2,107.0 518.4,108.1 514.6,108.0 510.8,109.3 507.1,109.1 503.3,108.5 499.5,108.6 495.8,109.6 492.0,108.9 488.2,108.8 484.5,109.1 480.7,108.6 476.9,109.1 473.1,109.4 469.4,108.4 465.6,108.9 461.8,108.9 458.1,109.3 454.3,109.6 450.5,109.0 446.8,109.5 443.0,109.2 439.2,108.9 435.5,108.9 431.7,109.5 427.9,108.6 424.1,109.5 420.4,109.4 416.6,108.9 412.8,108.5 409.1,109.5 405.3,109.7 401.5,109.8 397.8,109.7 394.0,109.9 390.2,109.3 386.5,108.6 382.7,109.0 378.9,109.3 375.1,109.0 371.4,109.3 367.6,109.0 363.8,109.0 360.1,108.8 356.3,108.3 352.5,107.9 348.8,108.0 345.0,108.1 341.2,107.9 337.4,107.2 333.7,106.5 329.9,106.6 326.1,106.3 322.4,105.5 318.6,103.1" fill="#000" filter="url(#txspl)"/>
<polygon points="318.6,91.8 322.4,86.8 326.1,84.5 329.9,82.8 333.7,82.4 337.4,80.6 341.2,78.8 345.0,79.0 348.8,78.9 352.5,79.1 356.3,77.4 360.1,77.7 363.8,76.1 367.6,77.6 371.4,76.7 375.1,77.0 378.9,77.0 382.7,76.9 386.5,76.8 390.2,77.0 394.0,77.1 397.8,76.7 401.5,76.4 405.3,76.6 409.1,75.5 412.8,76.1 416.6,76.9 420.4,77.0 424.1,76.8 427.9,76.6 431.7,76.9 435.5,76.8 439.2,77.0 443.0,76.3 446.8,77.0 450.5,76.4 454.3,77.2 458.1,76.2 461.8,76.5 465.6,77.9 469.4,77.2 473.1,76.6 476.9,77.1 480.7,77.4 484.5,77.7 488.2,77.8 492.0,76.9 495.8,77.4 499.5,78.1 503.3,78.4 507.1,78.6 510.8,79.2 514.6,79.8 518.4,80.0 522.2,81.4 525.9,82.8 529.7,83.4 533.5,84.3 537.2,86.6 541.0,92.6 541.0,93.6 537.2,93.1 533.5,93.1 529.7,93.0 525.9,93.1 522.2,92.9 518.4,92.2 514.6,92.7 510.8,92.4 507.1,92.1 503.3,92.4 499.5,92.0 495.8,91.4 492.0,91.8 488.2,92.1 484.5,92.1 480.7,91.7 476.9,92.1 473.1,91.5 469.4,91.8 465.6,92.3 461.8,91.8 458.1,91.6 454.3,91.9 450.5,91.8 446.8,91.9 443.0,91.5 439.2,91.9 435.5,91.9 431.7,92.5 427.9,91.6 424.1,92.3 420.4,91.6 416.6,91.6 412.8,91.4 409.1,91.2 405.3,91.3 401.5,91.0 397.8,90.9 394.0,91.1 390.2,91.0 386.5,90.6 382.7,90.8 378.9,90.8 375.1,91.2 371.4,90.4 367.6,90.9 363.8,90.4 360.1,91.4 356.3,91.3 352.5,91.8 348.8,91.6 345.0,91.3 341.2,91.7 337.4,91.6 333.7,92.8 329.9,92.6 326.1,92.8 322.4,93.0 318.6,92.8" fill="#000" filter="url(#txspl)"/>
<polygon points="318.6,91.8 322.4,86.8 326.1,84.5 329.9,82.8 333.7,82.4 337.4,80.6 341.2,78.8 345.0,79.0 348.8,78.9 352.5,79.1 356.3,77.4 360.1,77.7 363.8,76.1 367.6,77.6 371.4,76.7 375.1,77.0 378.9,77.0 382.7,76.9 386.5,76.8 390.2,77.0 394.0,77.1 397.8,76.7 401.5,76.4 405.3,76.6 409.1,75.5 412.8,76.1 416.6,76.9 420.4,77.0 424.1,76.8 427.9,76.6 431.7,76.9 435.5,76.8 439.2,77.0 443.0,76.3 446.8,77.0 450.5,76.4 454.3,77.2 458.1,76.2 461.8,76.5 465.6,77.9 469.4,77.2 473.1,76.6 476.9,77.1 480.7,77.4 484.5,77.7 488.2,77.8 492.0,76.9 495.8,77.4 499.5,78.1 503.3,78.4 507.1,78.6 510.8,79.2 514.6,79.8 518.4,80.0 522.2,81.4 525.9,82.8 529.7,83.4 533.5,84.3 537.2,86.6 541.0,92.6 541.0,92.6 537.2,90.4 533.5,89.6 529.7,89.2 525.9,89.1 522.2,88.5 518.4,87.6 514.6,87.9 510.8,87.5 507.1,87.1 503.3,87.2 499.5,86.9 495.8,86.2 492.0,86.4 488.2,86.9 484.5,86.8 480.7,86.5 476.9,86.6 473.1,86.0 469.4,86.4 465.6,87.0 461.8,86.2 458.1,86.0 454.3,86.5 450.5,86.2 446.8,86.4 443.0,86.0 439.2,86.4 435.5,86.4 431.7,86.8 427.9,86.1 424.1,86.6 420.4,86.2 416.6,86.2 412.8,85.8 409.1,85.5 405.3,85.9 401.5,85.7 397.8,85.7 394.0,85.9 390.2,85.8 386.5,85.5 382.7,85.7 378.9,85.7 375.1,86.0 371.4,85.3 367.6,86.0 363.8,85.1 360.1,86.3 356.3,86.2 352.5,87.1 348.8,86.8 345.0,86.7 341.2,86.9 337.4,87.4 333.7,88.8 329.9,88.8 326.1,89.5 322.4,90.3 318.6,91.8" fill="#000" filter="url(#txsp)"/>
<rect x="320.2" y="189.0" width="217.8" height="206.5" fill="#000" filter="url(#txfa2)"/>
<rect x="305.6" y="4.7" width="248.1" height="426.6" fill="none" stroke="#000" stroke-width="2.8" stroke-dasharray="2.9 2.1"/>
<text x="313.0" y="32.0" font-size="29" text-anchor="start" >5 μs</text>
<g transform="translate(305.6,4.7)"><line x1="79.7" y1="148.1" x2="139.9" y2="148.1" stroke="#9a9a9a" stroke-width="2"/><path d="M121.4,148.3 C121.6,128 116.5,116.6 109.8,116.6 C102.2,116.6 97.2,129 97.2,142 C97.2,154 101.5,161.5 107.5,164.5" fill="none" stroke="#000" stroke-width="2.6"/><path d="M119.4,166.9 L105.6,160.6 L107.6,166.2 L104.9,171.2 Z" fill="#000"/></g>
<text x="431.2" y="180.6" font-size="29.8">90<tspan font-size="19.4" dx="-0.2" dy="-9.8">o</tspan></text>
<text x="429.7" y="426.6" font-size="29" text-anchor="middle" >~ 60 nm</text>
<polygon points="728.0,88.3 731.6,86.6 735.2,87.9 738.8,87.5 742.4,87.9 746.1,87.5 749.7,88.0 753.3,87.3 756.9,87.0 760.5,87.4 764.1,87.2 767.7,86.9 771.3,86.9 774.9,87.2 778.5,87.1 782.2,86.6 785.8,86.6 789.4,86.0 793.0,87.2 796.6,86.5 800.2,87.0 803.8,86.7 807.4,87.2 811.0,87.1 814.6,86.7 818.3,87.2 821.9,86.3 825.5,87.1 829.1,86.2 832.7,86.9 836.3,87.1 839.9,86.9 843.5,86.7 847.1,86.6 850.7,86.8 854.4,87.3 858.0,87.2 861.6,86.9 865.2,86.6 868.8,87.3 872.4,86.5 876.0,86.9 879.6,86.8 883.2,87.4 886.8,87.3 890.5,87.5 894.1,87.5 897.7,87.2 901.3,87.7 904.9,88.1 908.5,87.6 912.1,88.0 915.7,87.8 919.3,88.2 922.9,88.2 926.6,88.3 930.2,88.2 933.8,88.7 937.4,88.1 941.0,88.2 941.9,89.3 942.7,91.1 943.2,93.7 943.4,96.8 943.2,99.9 942.7,102.5 941.9,104.3 941.0,105.4 937.4,106.0 933.8,105.1 930.2,105.2 926.6,105.2 922.9,105.9 919.3,105.5 915.7,105.5 912.1,105.6 908.5,105.8 904.9,105.2 901.3,105.6 897.7,105.1 894.1,106.2 890.5,105.2 886.8,105.2 883.2,105.4 879.6,105.0 876.0,105.7 872.4,106.0 868.8,105.6 865.2,105.4 861.6,105.4 858.0,105.0 854.4,106.0 850.7,105.6 847.1,105.4 843.5,105.9 839.9,105.5 836.3,106.1 832.7,105.4 829.1,105.1 825.5,105.4 821.9,105.1 818.3,105.3 814.6,105.8 811.0,105.9 807.4,104.9 803.8,104.8 800.2,105.7 796.6,105.5 793.0,105.3 789.4,105.5 785.8,105.5 782.2,105.7 778.5,105.2 774.9,105.4 771.3,106.1 767.7,105.4 764.1,105.1 760.5,105.1 756.9,105.2 753.3,104.6 749.7,105.7 746.1,105.9 742.4,105.8 738.8,105.3 735.2,105.3 731.6,105.7 728.0,105.3 727.1,104.2 726.3,102.5 725.8,99.9 725.6,96.8 725.8,93.8 726.3,91.2 727.1,89.4" fill="#000" filter="url(#txsw)"/>
<polygon points="728.0,103.8 731.6,104.2 735.2,103.8 738.8,103.8 742.4,104.3 746.1,104.4 749.7,104.2 753.3,103.1 756.9,103.7 760.5,103.6 764.1,103.6 767.7,103.9 771.3,104.6 774.9,103.9 778.5,103.7 782.2,104.2 785.8,104.0 789.4,104.0 793.0,103.8 796.6,104.0 800.2,104.2 803.8,103.3 807.4,103.4 811.0,104.4 814.6,104.3 818.3,103.8 821.9,103.6 825.5,103.9 829.1,103.6 832.7,103.9 836.3,104.6 839.9,104.0 843.5,104.4 847.1,103.9 850.7,104.1 854.4,104.5 858.0,103.5 861.6,103.9 865.2,103.9 868.8,104.1 872.4,104.5 876.0,104.2 879.6,103.5 883.2,103.9 886.8,103.7 890.5,103.7 894.1,104.7 897.7,103.6 901.3,104.1 904.9,103.7 908.5,104.3 912.1,104.1 915.7,104.0 919.3,104.0 922.9,104.4 926.6,103.7 930.2,103.7 933.8,103.6 937.4,104.5 941.0,103.9 941.0,104.9 937.4,109.6 933.8,109.6 930.2,110.3 926.6,110.6 922.9,111.8 919.3,111.4 915.7,111.8 912.1,111.9 908.5,112.4 904.9,111.3 901.3,112.0 897.7,111.5 894.1,112.6 890.5,112.1 886.8,112.0 883.2,111.9 879.6,111.6 876.0,111.9 872.4,112.1 868.8,112.0 865.2,112.0 861.6,111.8 858.0,111.1 854.4,112.2 850.7,111.8 847.1,111.5 843.5,112.2 839.9,112.0 836.3,112.1 832.7,112.3 829.1,111.8 825.5,111.7 821.9,111.2 818.3,111.5 814.6,111.9 811.0,111.9 807.4,111.5 803.8,111.1 800.2,111.7 796.6,111.8 793.0,111.8 789.4,112.5 785.8,112.6 782.2,112.2 778.5,111.8 774.9,111.6 771.3,112.6 767.7,111.5 764.1,111.8 760.5,111.2 756.9,111.2 753.3,110.8 749.7,111.7 746.1,112.0 742.4,112.0 738.8,110.7 735.2,109.8 731.6,109.4 728.0,104.8" fill="#000" filter="url(#txspl)"/>
<polygon points="728.0,88.8 731.6,78.6 735.2,76.4 738.8,75.9 742.4,75.0 746.1,74.4 749.7,74.9 753.3,73.6 756.9,73.5 760.5,73.8 764.1,72.4 767.7,71.8 771.3,72.9 774.9,73.8 778.5,73.7 782.2,72.9 785.8,72.8 789.4,72.8 793.0,73.8 796.6,72.5 800.2,73.7 803.8,72.3 807.4,74.0 811.0,73.5 814.6,73.6 818.3,73.3 821.9,72.5 825.5,74.0 829.1,72.7 832.7,73.5 836.3,73.9 839.9,73.2 843.5,73.2 847.1,73.0 850.7,72.9 854.4,73.9 858.0,71.9 861.6,73.0 865.2,73.2 868.8,72.2 872.4,72.9 876.0,71.8 879.6,72.1 883.2,72.9 886.8,73.6 890.5,73.3 894.1,72.4 897.7,72.8 901.3,73.2 904.9,74.2 908.5,73.6 912.1,74.0 915.7,74.2 919.3,74.7 922.9,74.3 926.6,75.5 930.2,75.7 933.8,77.7 937.4,79.0 941.0,88.7 941.0,89.7 937.4,89.6 933.8,90.2 930.2,89.7 926.6,89.8 922.9,89.7 919.3,89.7 915.7,89.3 912.1,89.5 908.5,89.1 904.9,89.6 901.3,89.2 897.7,88.7 894.1,89.0 890.5,89.0 886.8,88.8 883.2,88.9 879.6,88.3 876.0,88.4 872.4,88.0 868.8,88.8 865.2,88.1 861.6,88.4 858.0,88.7 854.4,88.8 850.7,88.3 847.1,88.1 843.5,88.2 839.9,88.4 836.3,88.6 832.7,88.4 829.1,87.7 825.5,88.6 821.9,87.8 818.3,88.7 814.6,88.2 811.0,88.6 807.4,88.7 803.8,88.2 800.2,88.5 796.6,88.0 793.0,88.7 789.4,87.5 785.8,88.1 782.2,88.1 778.5,88.6 774.9,88.7 771.3,88.4 767.7,88.4 764.1,88.7 760.5,88.9 756.9,88.5 753.3,88.8 749.7,89.5 746.1,89.0 742.4,89.4 738.8,89.0 735.2,89.4 731.6,88.1 728.0,89.8" fill="#000" filter="url(#txspl)"/>
<polygon points="728.0,88.8 731.6,78.6 735.2,76.4 738.8,75.9 742.4,75.0 746.1,74.4 749.7,74.9 753.3,73.6 756.9,73.5 760.5,73.8 764.1,72.4 767.7,71.8 771.3,72.9 774.9,73.8 778.5,73.7 782.2,72.9 785.8,72.8 789.4,72.8 793.0,73.8 796.6,72.5 800.2,73.7 803.8,72.3 807.4,74.0 811.0,73.5 814.6,73.6 818.3,73.3 821.9,72.5 825.5,74.0 829.1,72.7 832.7,73.5 836.3,73.9 839.9,73.2 843.5,73.2 847.1,73.0 850.7,72.9 854.4,73.9 858.0,71.9 861.6,73.0 865.2,73.2 868.8,72.2 872.4,72.9 876.0,71.8 879.6,72.1 883.2,72.9 886.8,73.6 890.5,73.3 894.1,72.4 897.7,72.8 901.3,73.2 904.9,74.2 908.5,73.6 912.1,74.0 915.7,74.2 919.3,74.7 922.9,74.3 926.6,75.5 930.2,75.7 933.8,77.7 937.4,79.0 941.0,88.7 941.0,88.7 937.4,85.5 933.8,85.5 930.2,84.6 926.6,84.5 922.9,84.1 919.3,84.2 915.7,83.7 912.1,83.8 908.5,83.5 904.9,84.0 901.3,83.4 897.7,82.9 894.1,83.0 890.5,83.3 886.8,83.3 883.2,83.1 879.6,82.5 876.0,82.4 872.4,82.5 868.8,82.8 865.2,82.6 861.6,82.8 858.0,82.7 854.4,83.3 850.7,82.7 847.1,82.6 843.5,82.7 839.9,82.9 836.3,83.3 832.7,82.9 829.1,82.2 825.5,83.3 821.9,82.2 818.3,83.1 814.6,82.9 811.0,83.1 807.4,83.3 803.8,82.4 800.2,83.1 796.6,82.3 793.0,83.3 789.4,82.1 785.8,82.5 782.2,82.6 778.5,83.2 774.9,83.2 771.3,82.8 767.7,82.4 764.1,82.8 760.5,83.4 756.9,83.0 753.3,83.2 749.7,84.1 746.1,83.7 742.4,84.1 738.8,84.2 735.2,84.6 731.6,84.4 728.0,88.8" fill="#000" filter="url(#txsp)"/>
<g filter="url(#soft)"><rect x="725.8" y="183.0" width="217.2" height="214.7" fill="#000" filter="url(#bgg)"/><rect x="725.8" y="183.0" width="217.2" height="214.7" fill="url(#dpb1)"/><rect x="725.8" y="183.0" width="217.2" height="214.7" fill="url(#dpb2)"/></g>
<g filter="url(#bump)"><ellipse cx="818.0" cy="55.0" rx="20.0" ry="20.0" fill="#cfd22a" transform="rotate(0 818.0 55.0)"/><ellipse cx="838.0" cy="36.0" rx="15.0" ry="12.0" fill="#cfd22a" transform="rotate(0 838.0 36.0)"/><ellipse cx="842.0" cy="62.0" rx="12.0" ry="12.0" fill="#cfd22a" transform="rotate(0 842.0 62.0)"/><ellipse cx="830.0" cy="30.0" rx="10.0" ry="7.0" fill="#5cc6d6" transform="rotate(0 830.0 30.0)"/><ellipse cx="853.0" cy="50.0" rx="12.0" ry="19.0" fill="#5cc6d6" transform="rotate(0 853.0 50.0)"/><ellipse cx="870.0" cy="45.0" rx="15.0" ry="24.0" fill="#ecd6ae" transform="rotate(0 870.0 45.0)"/><ellipse cx="880.0" cy="55.0" rx="7.0" ry="12.0" fill="#ecd6ae" transform="rotate(0 880.0 55.0)"/><ellipse cx="815.0" cy="31.0" rx="7.0" ry="5.0" fill="#e8680c" transform="rotate(0 815.0 31.0)"/><ellipse cx="805.0" cy="58.0" rx="6.0" ry="8.0" fill="#7d7d7d" transform="rotate(0 805.0 58.0)"/></g>
<ellipse cx="842" cy="305" rx="62" ry="45" fill="#1a1012" fill-opacity="0.35" filter="url(#blur4)"/>
<g filter="url(#bump)"><ellipse cx="803.0" cy="283.0" rx="20.0" ry="16.0" fill="#e8680c" transform="rotate(0 803.0 283.0)"/><ellipse cx="815.0" cy="300.0" rx="12.0" ry="15.0" fill="#e8680c" transform="rotate(0 815.0 300.0)"/><ellipse cx="830.0" cy="298.0" rx="14.0" ry="22.0" fill="#5cc6d6" transform="rotate(0 830.0 298.0)"/><ellipse cx="860.0" cy="292.0" rx="18.0" ry="20.0" fill="#ecd6ae" transform="rotate(0 860.0 292.0)"/><ellipse cx="884.0" cy="285.0" rx="18.0" ry="18.0" fill="#ecd6ae" transform="rotate(0 884.0 285.0)"/><ellipse cx="872.0" cy="270.0" rx="6.0" ry="9.0" fill="#ecd6ae" transform="rotate(0 872.0 270.0)"/><ellipse cx="815.0" cy="330.0" rx="24.0" ry="16.0" fill="#cfd22a" transform="rotate(0 815.0 330.0)"/><ellipse cx="838.0" cy="318.0" rx="14.0" ry="12.0" fill="#cfd22a" transform="rotate(0 838.0 318.0)"/><ellipse cx="852.0" cy="310.0" rx="8.0" ry="8.0" fill="#cfd22a" transform="rotate(0 852.0 310.0)"/><ellipse cx="794.0" cy="312.0" rx="5.0" ry="5.0" fill="#7d7d7d" transform="rotate(0 794.0 312.0)"/></g>
<rect x="710.5" y="4.7" width="248.1" height="426.6" fill="none" stroke="#000" stroke-width="2.8" stroke-dasharray="2.9 2.1"/>
<text x="717.9" y="32.0" font-size="29" text-anchor="start" >0 μs</text>
<g transform="translate(710.5,4.7)"><line x1="79.7" y1="148.1" x2="139.9" y2="148.1" stroke="#9a9a9a" stroke-width="2"/><path d="M121.4,148.3 C121.6,128 116.5,116.6 109.8,116.6 C102.2,116.6 97.2,129 97.2,142 C97.2,154 101.5,161.5 107.5,164.5" fill="none" stroke="#000" stroke-width="2.6"/><path d="M119.4,166.9 L105.6,160.6 L107.6,166.2 L104.9,171.2 Z" fill="#000"/></g>
<text x="836.1" y="180.6" font-size="29.8">90<tspan font-size="19.4" dx="-0.2" dy="-9.8">o</tspan></text>
<text x="834.5" y="426.6" font-size="29" text-anchor="middle" >~ 40 nm</text>
<polygon points="1002.0,87.9 1005.7,87.3 1009.3,87.1 1013.0,86.5 1016.7,87.4 1020.3,87.9 1024.0,87.4 1027.7,87.6 1031.4,87.7 1035.0,87.0 1038.7,88.2 1042.4,86.9 1046.0,87.3 1049.7,88.1 1053.4,87.0 1057.0,87.1 1060.7,86.8 1064.4,87.1 1068.1,86.1 1071.7,86.6 1075.4,87.4 1079.1,86.8 1082.7,86.6 1086.4,86.8 1090.1,86.8 1093.7,86.6 1097.4,86.7 1101.1,85.9 1104.7,86.7 1108.4,86.3 1112.1,86.8 1115.8,86.6 1119.4,86.2 1123.1,86.6 1126.8,86.3 1130.4,87.0 1134.1,86.7 1137.8,87.0 1141.4,86.3 1145.1,87.3 1148.8,86.6 1152.4,87.2 1156.1,87.1 1159.8,86.4 1163.5,86.9 1167.1,86.7 1170.8,87.0 1174.5,87.4 1178.1,87.1 1181.8,87.3 1185.5,86.5 1189.1,87.0 1192.8,87.1 1196.5,87.4 1200.2,86.8 1203.8,87.2 1207.5,87.2 1211.2,86.5 1214.8,86.7 1218.5,87.3 1219.4,88.4 1220.2,90.1 1220.7,92.7 1220.9,95.8 1220.7,98.9 1220.2,101.5 1219.4,103.2 1218.5,104.4 1214.8,104.8 1211.2,104.4 1207.5,104.8 1203.8,104.2 1200.2,104.3 1196.5,104.8 1192.8,104.1 1189.1,104.1 1185.5,104.8 1181.8,104.0 1178.1,104.4 1174.5,104.3 1170.8,105.0 1167.1,104.5 1163.5,105.0 1159.8,104.7 1156.1,104.6 1152.4,104.4 1148.8,104.7 1145.1,104.8 1141.4,104.4 1137.8,104.5 1134.1,104.5 1130.4,104.3 1126.8,104.7 1123.1,104.0 1119.4,104.3 1115.8,103.9 1112.1,104.4 1108.4,104.5 1104.7,105.0 1101.1,104.4 1097.4,104.0 1093.7,104.0 1090.1,104.4 1086.4,103.8 1082.7,104.4 1079.1,104.9 1075.4,104.9 1071.7,104.3 1068.1,104.8 1064.4,104.2 1060.7,104.8 1057.0,104.6 1053.4,104.1 1049.7,104.4 1046.0,104.5 1042.4,104.3 1038.7,105.0 1035.0,104.6 1031.4,104.3 1027.7,104.3 1024.0,104.4 1020.3,104.5 1016.7,104.4 1013.0,104.6 1009.3,104.8 1005.7,104.1 1002.0,104.1 1001.1,103.0 1000.4,101.4 999.9,98.9 999.7,96.0 999.9,93.1 1000.4,90.7 1001.1,89.0" fill="#000" filter="url(#txsw)"/>
<polygon points="1002.0,102.6 1005.7,102.6 1009.3,103.3 1013.0,103.1 1016.7,102.9 1020.3,103.0 1024.0,102.9 1027.7,102.8 1031.4,102.8 1035.0,103.1 1038.7,103.5 1042.4,102.8 1046.0,103.0 1049.7,102.9 1053.4,102.6 1057.0,103.1 1060.7,103.3 1064.4,102.7 1068.1,103.3 1071.7,102.8 1075.4,103.4 1079.1,103.4 1082.7,102.9 1086.4,102.3 1090.1,102.9 1093.7,102.5 1097.4,102.5 1101.1,102.9 1104.7,103.5 1108.4,103.0 1112.1,102.9 1115.8,102.4 1119.4,102.8 1123.1,102.5 1126.8,103.2 1130.4,102.8 1134.1,103.0 1137.8,103.0 1141.4,102.9 1145.1,103.3 1148.8,103.2 1152.4,102.9 1156.1,103.1 1159.8,103.2 1163.5,103.5 1167.1,103.0 1170.8,103.5 1174.5,102.8 1178.1,102.9 1181.8,102.5 1185.5,103.3 1189.1,102.6 1192.8,102.6 1196.5,103.3 1200.2,102.8 1203.8,102.7 1207.5,103.3 1211.2,102.9 1214.8,103.3 1218.5,102.9 1218.5,103.9 1214.8,107.8 1211.2,108.5 1207.5,109.7 1203.8,109.6 1200.2,109.7 1196.5,110.7 1192.8,109.5 1189.1,109.8 1185.5,110.8 1181.8,109.7 1178.1,109.9 1174.5,110.1 1170.8,110.8 1167.1,110.5 1163.5,110.6 1159.8,110.4 1156.1,110.2 1152.4,110.0 1148.8,110.3 1145.1,111.0 1141.4,110.1 1137.8,110.8 1134.1,110.2 1130.4,110.0 1126.8,110.4 1123.1,109.7 1119.4,110.5 1115.8,109.7 1112.1,109.9 1108.4,110.4 1104.7,110.6 1101.1,110.1 1097.4,109.7 1093.7,109.6 1090.1,110.7 1086.4,109.8 1082.7,109.9 1079.1,111.3 1075.4,110.5 1071.7,110.3 1068.1,110.8 1064.4,110.0 1060.7,110.4 1057.0,110.4 1053.4,110.1 1049.7,110.5 1046.0,110.1 1042.4,109.9 1038.7,110.6 1035.0,110.5 1031.4,110.4 1027.7,110.3 1024.0,109.8 1020.3,110.1 1016.7,109.4 1013.0,109.6 1009.3,109.2 1005.7,107.1 1002.0,103.6" fill="#000" filter="url(#txspl)"/>
<polygon points="1002.0,88.4 1005.7,80.5 1009.3,78.7 1013.0,76.0 1016.7,77.0 1020.3,77.3 1024.0,76.7 1027.7,76.0 1031.4,76.6 1035.0,75.7 1038.7,77.0 1042.4,75.1 1046.0,76.1 1049.7,76.3 1053.4,76.1 1057.0,75.8 1060.7,75.6 1064.4,76.2 1068.1,74.1 1071.7,75.9 1075.4,76.6 1079.1,75.7 1082.7,75.8 1086.4,75.6 1090.1,75.5 1093.7,75.6 1097.4,75.1 1101.1,75.0 1104.7,75.4 1108.4,75.2 1112.1,75.0 1115.8,75.6 1119.4,75.4 1123.1,75.5 1126.8,75.5 1130.4,76.3 1134.1,75.1 1137.8,75.4 1141.4,75.4 1145.1,76.5 1148.8,74.7 1152.4,75.7 1156.1,75.2 1159.8,75.3 1163.5,76.0 1167.1,75.7 1170.8,76.1 1174.5,76.2 1178.1,75.8 1181.8,75.7 1185.5,74.9 1189.1,76.1 1192.8,74.8 1196.5,75.8 1200.2,76.5 1203.8,76.6 1207.5,77.9 1211.2,78.2 1214.8,80.2 1218.5,87.8 1218.5,88.8 1214.8,88.2 1211.2,88.0 1207.5,88.7 1203.8,88.7 1200.2,88.3 1196.5,88.9 1192.8,88.6 1189.1,88.5 1185.5,88.0 1181.8,88.8 1178.1,88.6 1174.5,88.9 1170.8,88.5 1167.1,88.2 1163.5,88.4 1159.8,87.9 1156.1,88.6 1152.4,88.7 1148.8,88.1 1145.1,88.8 1141.4,87.8 1137.8,88.5 1134.1,88.2 1130.4,88.5 1126.8,87.8 1123.1,88.1 1119.4,87.7 1115.8,88.1 1112.1,88.3 1108.4,87.8 1104.7,88.2 1101.1,87.4 1097.4,88.2 1093.7,88.1 1090.1,88.3 1086.4,88.3 1082.7,88.1 1079.1,88.3 1075.4,88.9 1071.7,88.1 1068.1,87.6 1064.4,88.6 1060.7,88.3 1057.0,88.6 1053.4,88.5 1049.7,89.6 1046.0,88.8 1042.4,88.4 1038.7,89.7 1035.0,88.5 1031.4,89.2 1027.7,89.1 1024.0,88.9 1020.3,89.4 1016.7,88.9 1013.0,88.0 1009.3,88.6 1005.7,88.8 1002.0,89.4" fill="#000" filter="url(#txspl)"/>
<polygon points="1002.0,88.4 1005.7,80.5 1009.3,78.7 1013.0,76.0 1016.7,77.0 1020.3,77.3 1024.0,76.7 1027.7,76.0 1031.4,76.6 1035.0,75.7 1038.7,77.0 1042.4,75.1 1046.0,76.1 1049.7,76.3 1053.4,76.1 1057.0,75.8 1060.7,75.6 1064.4,76.2 1068.1,74.1 1071.7,75.9 1075.4,76.6 1079.1,75.7 1082.7,75.8 1086.4,75.6 1090.1,75.5 1093.7,75.6 1097.4,75.1 1101.1,75.0 1104.7,75.4 1108.4,75.2 1112.1,75.0 1115.8,75.6 1119.4,75.4 1123.1,75.5 1126.8,75.5 1130.4,76.3 1134.1,75.1 1137.8,75.4 1141.4,75.4 1145.1,76.5 1148.8,74.7 1152.4,75.7 1156.1,75.2 1159.8,75.3 1163.5,76.0 1167.1,75.7 1170.8,76.1 1174.5,76.2 1178.1,75.8 1181.8,75.7 1185.5,74.9 1189.1,76.1 1192.8,74.8 1196.5,75.8 1200.2,76.5 1203.8,76.6 1207.5,77.9 1211.2,78.2 1214.8,80.2 1218.5,87.8 1218.5,87.8 1214.8,85.0 1211.2,84.2 1207.5,84.6 1203.8,84.2 1200.2,83.8 1196.5,84.0 1192.8,83.5 1189.1,83.9 1185.5,83.1 1181.8,83.9 1178.1,83.9 1174.5,84.1 1170.8,83.8 1167.1,83.5 1163.5,83.8 1159.8,83.2 1156.1,83.6 1152.4,83.9 1148.8,83.2 1145.1,84.2 1141.4,83.2 1137.8,83.6 1134.1,83.3 1130.4,83.9 1126.8,83.2 1123.1,83.4 1119.4,83.1 1115.8,83.4 1112.1,83.4 1108.4,83.1 1104.7,83.5 1101.1,82.8 1097.4,83.3 1093.7,83.4 1090.1,83.5 1086.4,83.6 1082.7,83.5 1079.1,83.6 1075.4,84.3 1071.7,83.5 1068.1,82.6 1064.4,83.9 1060.7,83.6 1057.0,83.8 1053.4,83.9 1049.7,84.6 1046.0,84.0 1042.4,83.5 1038.7,85.0 1035.0,83.7 1031.4,84.5 1027.7,84.2 1024.0,84.3 1020.3,84.8 1016.7,84.4 1013.0,83.5 1009.3,84.7 1005.7,85.5 1002.0,88.4" fill="#000" filter="url(#txsp)"/>
<g filter="url(#soft)"><rect x="998.8" y="182.6" width="221.2" height="218.2" fill="#000" filter="url(#bgg)"/><rect x="998.8" y="182.6" width="221.2" height="218.2" fill="url(#dpb1)"/><rect x="998.8" y="182.6" width="221.2" height="218.2" fill="url(#dpb2)"/></g>
<g filter="url(#bump)"><ellipse cx="1101.0" cy="61.0" rx="7.0" ry="11.0" fill="#ecd6ae" transform="rotate(0 1101.0 61.0)"/><ellipse cx="1125.0" cy="60.0" rx="14.0" ry="20.0" fill="#e8680c" transform="rotate(0 1125.0 60.0)"/><ellipse cx="1120.0" cy="75.0" rx="12.0" ry="6.0" fill="#e8680c" transform="rotate(0 1120.0 75.0)"/><ellipse cx="1114.0" cy="51.0" rx="7.0" ry="9.0" fill="#5cc6d6" transform="rotate(0 1114.0 51.0)"/><ellipse cx="1131.0" cy="42.0" rx="9.0" ry="5.0" fill="#5cc6d6" transform="rotate(0 1131.0 42.0)"/><ellipse cx="1152.0" cy="63.0" rx="14.0" ry="17.0" fill="#cfd22a" transform="rotate(0 1152.0 63.0)"/><ellipse cx="1138.0" cy="73.0" rx="6.0" ry="7.0" fill="#7d7d7d" transform="rotate(0 1138.0 73.0)"/></g>
<ellipse cx="1135" cy="285" rx="45" ry="60" fill="#1a1012" fill-opacity="0.35" filter="url(#blur4)"/>
<g filter="url(#bump)"><ellipse cx="1108.0" cy="252.0" rx="17.0" ry="22.0" fill="#ecd6ae" transform="rotate(0 1108.0 252.0)"/><ellipse cx="1122.0" cy="275.0" rx="15.0" ry="12.0" fill="#ecd6ae" transform="rotate(0 1122.0 275.0)"/><ellipse cx="1134.0" cy="290.0" rx="9.0" ry="9.0" fill="#ecd6ae" transform="rotate(0 1134.0 290.0)"/><ellipse cx="1098.0" cy="240.0" rx="8.0" ry="10.0" fill="#ecd6ae" transform="rotate(0 1098.0 240.0)"/><ellipse cx="1124.0" cy="297.0" rx="21.0" ry="14.0" fill="#5cc6d6" transform="rotate(0 1124.0 297.0)"/><ellipse cx="1141.0" cy="282.0" rx="11.0" ry="11.0" fill="#5cc6d6" transform="rotate(0 1141.0 282.0)"/><ellipse cx="1146.0" cy="262.0" rx="7.0" ry="6.0" fill="#5cc6d6" transform="rotate(0 1146.0 262.0)"/><ellipse cx="1160.0" cy="290.0" rx="16.0" ry="22.0" fill="#cfd22a" transform="rotate(0 1160.0 290.0)"/><ellipse cx="1168.0" cy="308.0" rx="14.0" ry="11.0" fill="#cfd22a" transform="rotate(0 1168.0 308.0)"/><ellipse cx="1148.0" cy="272.0" rx="9.0" ry="9.0" fill="#cfd22a" transform="rotate(0 1148.0 272.0)"/><ellipse cx="1115.0" cy="318.0" rx="19.0" ry="18.0" fill="#e8680c" transform="rotate(0 1115.0 318.0)"/><ellipse cx="1134.0" cy="323.0" rx="14.0" ry="13.0" fill="#e8680c" transform="rotate(0 1134.0 323.0)"/><ellipse cx="1104.0" cy="302.0" rx="8.0" ry="9.0" fill="#e8680c" transform="rotate(0 1104.0 302.0)"/></g>
<rect x="985.6" y="4.7" width="248.1" height="426.6" fill="none" stroke="#000" stroke-width="2.8" stroke-dasharray="2.9 2.1"/>
<text x="993.0" y="32.0" font-size="29" text-anchor="start" >5 μs</text>
<g transform="translate(985.6,4.7)"><line x1="79.7" y1="148.1" x2="139.9" y2="148.1" stroke="#9a9a9a" stroke-width="2"/><path d="M121.4,148.3 C121.6,128 116.5,116.6 109.8,116.6 C102.2,116.6 97.2,129 97.2,142 C97.2,154 101.5,161.5 107.5,164.5" fill="none" stroke="#000" stroke-width="2.6"/><path d="M119.4,166.9 L105.6,160.6 L107.6,166.2 L104.9,171.2 Z" fill="#000"/></g>
<text x="1111.2" y="180.6" font-size="29.8">90<tspan font-size="19.4" dx="-0.2" dy="-9.8">o</tspan></text>
<text x="1109.7" y="426.6" font-size="29" text-anchor="middle" >~ 40 nm</text>
<polygon points="45.8,860.8 49.5,861.2 53.2,860.0 56.9,861.2 60.6,860.5 64.3,860.2 68.1,860.2 71.8,860.0 75.5,860.3 79.2,860.6 82.9,860.5 86.6,860.5 90.3,859.6 94.0,859.6 97.7,860.6 101.4,860.4 105.1,860.8 108.8,860.4 112.6,859.6 116.3,860.3 120.0,860.1 123.7,859.9 127.4,859.5 131.1,859.7 134.8,859.6 138.5,859.9 142.2,859.6 145.9,860.1 149.6,859.2 153.3,859.7 157.1,859.7 160.8,859.3 164.5,859.2 168.2,860.0 171.9,859.9 175.6,859.7 179.3,859.9 183.0,859.6 186.7,860.0 190.4,859.7 194.1,860.0 197.8,860.3 201.6,859.9 205.3,860.4 209.0,859.8 212.7,860.1 216.4,859.7 220.1,860.2 223.8,860.3 227.5,860.2 231.2,860.3 234.9,860.9 238.6,860.9 242.3,860.0 246.1,860.9 249.8,859.9 253.5,860.3 257.2,860.6 260.9,860.7 264.6,860.3 265.8,861.6 266.7,863.8 267.4,867.1 267.6,870.9 267.4,874.8 266.7,878.0 265.8,880.2 264.6,881.5 260.9,881.1 257.2,881.2 253.5,881.9 249.8,881.5 246.1,881.4 242.3,881.5 238.6,881.8 234.9,881.2 231.2,881.6 227.5,882.1 223.8,881.8 220.1,881.6 216.4,881.0 212.7,880.5 209.0,881.1 205.3,882.0 201.6,881.5 197.8,881.4 194.1,880.8 190.4,881.8 186.7,881.4 183.0,881.5 179.3,881.0 175.6,881.6 171.9,881.8 168.2,881.2 164.5,881.4 160.8,881.8 157.1,880.9 153.3,881.4 149.6,881.7 145.9,881.9 142.2,881.8 138.5,881.5 134.8,881.7 131.1,881.8 127.4,881.9 123.7,881.2 120.0,881.6 116.3,881.4 112.6,881.4 108.8,882.0 105.1,881.7 101.4,881.6 97.7,881.5 94.0,881.5 90.3,881.7 86.6,881.1 82.9,881.3 79.2,881.3 75.5,881.5 71.8,881.5 68.1,881.5 64.3,881.8 60.6,881.7 56.9,881.3 53.2,881.3 49.5,881.5 45.8,881.2 44.7,880.0 43.7,877.9 43.1,874.8 42.9,871.0 43.1,867.3 43.7,864.2 44.7,862.1" fill="#000" filter="url(#txsw)"/>
<polygon points="45.8,879.7 49.5,880.0 53.2,879.8 56.9,879.8 60.6,880.2 64.3,880.3 68.1,880.0 71.8,880.0 75.5,880.0 79.2,879.8 82.9,879.8 86.6,879.6 90.3,880.2 94.0,880.0 97.7,880.0 101.4,880.1 105.1,880.2 108.8,880.5 112.6,879.9 116.3,879.9 120.0,880.1 123.7,879.7 127.4,880.4 131.1,880.3 134.8,880.2 138.5,880.0 142.2,880.3 145.9,880.4 149.6,880.2 153.3,879.9 157.1,879.4 160.8,880.3 164.5,879.9 168.2,879.7 171.9,880.3 175.6,880.1 179.3,879.5 183.0,880.0 186.7,879.9 190.4,880.3 194.1,879.3 197.8,879.9 201.6,880.0 205.3,880.5 209.0,879.6 212.7,879.0 216.4,879.5 220.1,880.1 223.8,880.3 227.5,880.6 231.2,880.1 234.9,879.7 238.6,880.3 242.3,880.0 246.1,879.9 249.8,880.0 253.5,880.4 257.2,879.7 260.9,879.6 264.6,880.0 264.6,881.0 260.9,884.3 257.2,885.3 253.5,887.2 249.8,886.7 246.1,886.7 242.3,887.5 238.6,887.7 234.9,886.9 231.2,887.3 227.5,887.8 223.8,888.0 220.1,887.3 216.4,886.6 212.7,886.6 209.0,886.6 205.3,887.6 201.6,887.2 197.8,886.9 194.1,886.6 190.4,887.8 186.7,887.0 183.0,887.3 179.3,886.7 175.6,887.1 171.9,888.4 168.2,886.9 164.5,886.9 160.8,887.4 157.1,887.2 153.3,887.5 149.6,887.2 145.9,887.4 142.2,887.7 138.5,887.4 134.8,887.6 131.1,887.6 127.4,887.7 123.7,887.6 120.0,887.3 116.3,887.0 112.6,887.2 108.8,887.6 105.1,887.4 101.4,887.2 97.7,887.0 94.0,887.6 90.3,887.5 86.6,887.2 82.9,887.0 79.2,887.2 75.5,887.4 71.8,887.0 68.1,887.2 64.3,887.4 60.6,886.7 56.9,885.9 53.2,885.5 49.5,884.7 45.8,880.7" fill="#000" filter="url(#txspl)"/>
<polygon points="45.8,861.3 49.5,855.1 53.2,851.9 56.9,852.3 60.6,850.4 64.3,850.2 68.1,849.9 71.8,849.3 75.5,848.9 79.2,849.6 82.9,850.0 86.6,849.7 90.3,849.0 94.0,849.6 97.7,849.8 101.4,850.2 105.1,849.5 108.8,849.9 112.6,848.8 116.3,850.2 120.0,850.1 123.7,849.7 127.4,849.5 131.1,849.7 134.8,849.9 138.5,849.9 142.2,849.6 145.9,849.6 149.6,849.0 153.3,849.8 157.1,849.8 160.8,849.6 164.5,849.4 168.2,850.3 171.9,849.5 175.6,849.6 179.3,849.2 183.0,849.0 186.7,849.8 190.4,849.3 194.1,849.9 197.8,849.9 201.6,850.0 205.3,850.0 209.0,849.2 212.7,849.7 216.4,849.3 220.1,849.9 223.8,850.0 227.5,850.2 231.2,850.2 234.9,850.5 238.6,850.7 242.3,849.9 246.1,851.1 249.8,850.0 253.5,851.5 257.2,852.2 260.9,854.7 264.6,860.8 264.6,861.8 260.9,862.2 257.2,862.1 253.5,861.8 249.8,861.4 246.1,862.4 242.3,861.5 238.6,862.4 234.9,862.4 231.2,861.8 227.5,861.7 223.8,861.8 220.1,861.7 216.4,861.2 212.7,861.6 209.0,861.3 205.3,861.9 201.6,861.4 197.8,861.8 194.1,861.5 190.4,861.2 186.7,861.5 183.0,861.1 179.3,861.4 175.6,861.2 171.9,861.4 168.2,861.5 164.5,860.7 160.8,860.8 157.1,861.2 153.3,861.2 149.6,860.7 145.9,861.6 142.2,861.1 138.5,861.4 134.8,861.1 131.1,861.2 127.4,861.0 123.7,861.4 120.0,861.6 116.3,861.8 112.6,861.1 108.8,861.9 105.1,862.3 101.4,861.9 97.7,862.1 94.0,861.1 90.3,861.1 86.6,862.0 82.9,862.0 79.2,862.1 75.5,861.8 71.8,861.5 68.1,861.7 64.3,861.7 60.6,862.0 56.9,862.7 53.2,861.5 49.5,862.7 45.8,862.3" fill="#000" filter="url(#txspl)"/>
<polygon points="45.8,861.3 49.5,855.1 53.2,851.9 56.9,852.3 60.6,850.4 64.3,850.2 68.1,849.9 71.8,849.3 75.5,848.9 79.2,849.6 82.9,850.0 86.6,849.7 90.3,849.0 94.0,849.6 97.7,849.8 101.4,850.2 105.1,849.5 108.8,849.9 112.6,848.8 116.3,850.2 120.0,850.1 123.7,849.7 127.4,849.5 131.1,849.7 134.8,849.9 138.5,849.9 142.2,849.6 145.9,849.6 149.6,849.0 153.3,849.8 157.1,849.8 160.8,849.6 164.5,849.4 168.2,850.3 171.9,849.5 175.6,849.6 179.3,849.2 183.0,849.0 186.7,849.8 190.4,849.3 194.1,849.9 197.8,849.9 201.6,850.0 205.3,850.0 209.0,849.2 212.7,849.7 216.4,849.3 220.1,849.9 223.8,850.0 227.5,850.2 231.2,850.2 234.9,850.5 238.6,850.7 242.3,849.9 246.1,851.1 249.8,850.0 253.5,851.5 257.2,852.2 260.9,854.7 264.6,860.8 264.6,860.8 260.9,859.1 257.2,858.2 253.5,857.9 249.8,857.1 246.1,858.1 242.3,857.1 238.6,858.0 234.9,857.9 231.2,857.4 227.5,857.4 223.8,857.4 220.1,857.3 216.4,856.7 212.7,857.1 209.0,856.7 205.3,857.4 201.6,857.1 197.8,857.3 194.1,857.1 190.4,856.7 186.7,857.1 183.0,856.6 179.3,856.8 175.6,856.8 171.9,856.9 168.2,857.3 164.5,856.4 160.8,856.5 157.1,856.9 153.3,856.9 149.6,856.3 145.9,857.1 142.2,856.8 138.5,857.1 134.8,856.8 131.1,856.8 127.4,856.6 123.7,857.0 120.0,857.2 116.3,857.4 112.6,856.5 108.8,857.4 105.1,857.5 101.4,857.5 97.7,857.5 94.0,856.7 90.3,856.5 86.6,857.3 82.9,857.5 79.2,857.4 75.5,857.0 71.8,856.9 68.1,857.2 64.3,857.3 60.6,857.6 56.9,858.7 53.2,857.7 49.5,859.6 45.8,861.3" fill="#000" filter="url(#txsp)"/>
<g filter="url(#soft)"><rect x="48.0" y="958.0" width="215.0" height="213.6" fill="#000" filter="url(#bgg)"/><rect x="48.0" y="958.0" width="215.0" height="213.6" fill="url(#dpd1)"/><rect x="48.0" y="958.0" width="215.0" height="213.6" fill="url(#dpd2)"/></g>
<g filter="url(#bump)"><ellipse cx="146.0" cy="832.0" rx="14.0" ry="22.0" fill="#2f6e2f" transform="rotate(0 146.0 832.0)"/><ellipse cx="156.0" cy="820.0" rx="7.0" ry="10.0" fill="#2f6e2f" transform="rotate(0 156.0 820.0)"/><ellipse cx="137.0" cy="815.0" rx="6.0" ry="8.0" fill="#b4d9b4" transform="rotate(0 137.0 815.0)"/><ellipse cx="164.0" cy="838.0" rx="9.0" ry="12.0" fill="#b4d9b4" transform="rotate(0 164.0 838.0)"/><ellipse cx="157.0" cy="826.0" rx="2.5" ry="3.0" fill="#d6ef3c" transform="rotate(0 157.0 826.0)"/></g>
<ellipse cx="152" cy="1060" rx="38" ry="42" fill="#1a1012" fill-opacity="0.35" filter="url(#blur4)"/>
<g filter="url(#bump)"><path d="M162.4,1028.5 Q162.4,1030.0 162.1,1032.3 Q161.9,1034.6 160.2,1034.7 Q158.5,1034.8 153.7,1034.1 Q148.8,1033.3 146.7,1032.9 Q144.5,1032.5 145.5,1030.6 Q146.5,1028.6 149.0,1027.0 Q151.6,1025.4 153.8,1025.7 Q156.0,1026.1 159.2,1026.6 Q162.4,1027.1 162.4,1028.5 Z" fill="#d6ef3c"/><path d="M164.6,1052.3 Q165.4,1055.0 164.8,1057.8 Q164.3,1060.7 162.2,1061.5 Q160.1,1062.4 159.3,1062.9 Q158.5,1063.3 156.6,1060.9 Q154.8,1058.6 155.2,1055.6 Q155.7,1052.6 156.2,1050.9 Q156.6,1049.3 158.2,1047.6 Q159.7,1045.9 161.7,1047.8 Q163.8,1049.6 164.6,1052.3 Z" fill="#d6ef3c"/><path d="M138.4,1051.4 A14.8,14.8 0 1 1 150.4,1068.6" fill="none" stroke="#b4d9b4" stroke-width="18.8" stroke-linecap="round"/><path d="M148.4,1062.7 Q148.5,1067.1 150.4,1073.5 Q152.3,1079.9 148.4,1086.1 Q144.5,1092.4 140.4,1091.5 Q136.2,1090.5 133.0,1088.7 Q129.8,1086.9 126.2,1078.5 Q122.6,1070.1 123.7,1062.3 Q124.8,1054.4 129.6,1055.2 Q134.5,1056.0 141.3,1057.1 Q148.2,1058.2 148.4,1062.7 Z" fill="#2f6e2f"/><path d="M153.3,1048.5 Q153.0,1051.8 152.7,1054.1 Q152.5,1056.3 148.5,1057.1 Q144.5,1057.9 143.6,1057.6 Q142.6,1057.3 139.4,1055.0 Q136.1,1052.7 135.7,1049.9 Q135.2,1047.1 138.8,1045.1 Q142.3,1043.1 143.7,1041.5 Q145.1,1039.9 149.4,1042.5 Q153.6,1045.1 153.3,1048.5 Z" fill="#2f6e2f"/></g>
<rect x="30.5" y="777.7" width="248.1" height="426.6" fill="none" stroke="#000" stroke-width="2.8" stroke-dasharray="2.9 2.1"/>
<text x="37.9" y="805.0" font-size="29" text-anchor="start" >0 μs</text>
<g transform="translate(30.5,777.7)"><line x1="79.7" y1="148.1" x2="139.9" y2="148.1" stroke="#9a9a9a" stroke-width="2"/><path d="M121.4,148.3 C121.6,128 116.5,116.6 109.8,116.6 C102.2,116.6 97.2,129 97.2,142 C97.2,154 101.5,161.5 107.5,164.5" fill="none" stroke="#000" stroke-width="2.6"/><path d="M119.4,166.9 L105.6,160.6 L107.6,166.2 L104.9,171.2 Z" fill="#000"/></g>
<text x="156.1" y="953.6" font-size="29.8">90<tspan font-size="19.4" dx="-0.2" dy="-9.8">o</tspan></text>
<text x="154.6" y="1199.6" font-size="29" text-anchor="middle" >~ 40 nm</text>
<polygon points="322.0,858.0 325.7,858.1 329.4,858.0 333.1,858.3 336.8,859.0 340.5,857.9 344.2,858.8 347.9,858.9 351.6,858.4 355.3,858.3 358.9,858.7 362.6,858.9 366.3,859.3 370.0,858.8 373.7,859.1 377.4,858.3 381.1,858.2 384.8,857.9 388.5,858.1 392.2,858.4 395.9,858.6 399.6,858.0 403.3,858.8 407.0,858.5 410.7,858.3 414.4,858.2 418.1,859.2 421.8,858.6 425.5,858.2 429.2,858.2 432.8,859.1 436.5,858.3 440.2,858.9 443.9,859.0 447.6,857.7 451.3,859.0 455.0,858.4 458.7,858.1 462.4,858.3 466.1,858.7 469.8,858.6 473.5,858.6 477.2,858.2 480.9,858.9 484.6,859.0 488.3,859.1 492.0,858.9 495.7,859.2 499.4,859.2 503.1,858.7 506.7,858.8 510.4,858.7 514.1,858.7 517.8,858.8 521.5,857.9 525.2,858.4 528.9,858.7 532.6,857.8 536.3,858.0 540.0,859.1 541.2,860.4 542.2,862.6 542.9,866.1 543.2,870.1 542.9,874.1 542.2,877.5 541.2,879.8 540.0,881.1 536.3,880.9 532.6,881.4 528.9,881.3 525.2,881.7 521.5,881.5 517.8,881.5 514.1,881.5 510.4,882.4 506.7,881.7 503.1,881.5 499.4,882.0 495.7,881.7 492.0,881.8 488.3,881.8 484.6,881.3 480.9,881.8 477.2,881.5 473.5,881.3 469.8,881.5 466.1,881.3 462.4,881.7 458.7,881.9 455.0,881.0 451.3,881.9 447.6,881.6 443.9,881.6 440.2,881.6 436.5,881.9 432.8,881.5 429.2,881.7 425.5,881.3 421.8,881.7 418.1,880.7 414.4,881.5 410.7,882.0 407.0,880.6 403.3,881.3 399.6,881.6 395.9,881.7 392.2,881.8 388.5,881.1 384.8,881.6 381.1,881.6 377.4,881.4 373.7,881.7 370.0,881.8 366.3,881.8 362.6,882.1 358.9,881.6 355.3,882.1 351.6,881.6 347.9,881.3 344.2,881.4 340.5,881.3 336.8,881.2 333.1,881.3 329.4,881.6 325.7,881.3 322.0,881.1 320.7,879.8 319.7,877.4 318.9,873.8 318.7,869.6 318.9,865.3 319.7,861.8 320.7,859.4" fill="#000" filter="url(#txsw)"/>
<polygon points="322.0,879.6 325.7,879.8 329.4,880.1 333.1,879.8 336.8,879.7 340.5,879.8 344.2,879.9 347.9,879.8 351.6,880.1 355.3,880.6 358.9,880.1 362.6,880.6 366.3,880.3 370.0,880.3 373.7,880.2 377.4,879.9 381.1,880.1 384.8,880.1 388.5,879.6 392.2,880.3 395.9,880.2 399.6,880.1 403.3,879.8 407.0,879.1 410.7,880.5 414.4,880.0 418.1,879.2 421.8,880.2 425.5,879.8 429.2,880.2 432.8,880.0 436.5,880.4 440.2,880.1 443.9,880.1 447.6,880.1 451.3,880.4 455.0,879.5 458.7,880.4 462.4,880.2 466.1,879.8 469.8,880.0 473.5,879.8 477.2,880.0 480.9,880.3 484.6,879.8 488.3,880.3 492.0,880.3 495.7,880.2 499.4,880.5 503.1,880.0 506.7,880.2 510.4,880.9 514.1,880.0 517.8,880.0 521.5,880.0 525.2,880.2 528.9,879.8 532.6,879.9 536.3,879.4 540.0,879.6 540.0,880.6 536.3,884.0 532.6,885.6 528.9,886.2 525.2,886.8 521.5,886.8 517.8,887.2 514.1,887.3 510.4,888.0 506.7,887.5 503.1,887.3 499.4,887.8 495.7,887.8 492.0,887.4 488.3,888.0 484.6,886.8 480.9,887.4 477.2,887.1 473.5,886.9 469.8,887.2 466.1,887.8 462.4,887.3 458.7,887.7 455.0,886.9 451.3,887.6 447.6,887.4 443.9,887.2 440.2,887.2 436.5,887.6 432.8,887.0 429.2,887.6 425.5,886.9 421.8,887.4 418.1,886.3 414.4,887.1 410.7,887.6 407.0,886.5 403.3,886.8 399.6,887.4 395.9,887.2 392.2,887.4 388.5,886.7 384.8,887.4 381.1,887.5 377.4,887.0 373.7,887.8 370.0,887.9 366.3,887.4 362.6,887.8 358.9,887.4 355.3,888.1 351.6,887.2 347.9,886.9 344.2,887.3 340.5,886.5 336.8,886.3 333.1,886.2 329.4,886.1 325.7,884.6 322.0,880.6" fill="#000" filter="url(#txspl)"/>
<polygon points="322.0,858.5 325.7,853.4 329.4,852.3 333.1,851.6 336.8,852.0 340.5,850.0 344.2,851.4 347.9,851.5 351.6,850.0 355.3,850.7 358.9,850.4 362.6,851.0 366.3,851.2 370.0,850.7 373.7,851.0 377.4,850.6 381.1,850.6 384.8,849.7 388.5,849.8 392.2,850.2 395.9,850.2 399.6,850.3 403.3,850.4 407.0,850.2 410.7,850.4 414.4,850.7 418.1,851.5 421.8,850.8 425.5,849.5 429.2,850.6 432.8,851.2 436.5,849.0 440.2,850.7 443.9,851.5 447.6,850.2 451.3,850.6 455.0,850.4 458.7,849.9 462.4,850.8 466.1,851.2 469.8,851.0 473.5,849.9 477.2,850.6 480.9,850.6 484.6,850.9 488.3,851.4 492.0,850.7 495.7,851.1 499.4,851.0 503.1,850.0 506.7,851.2 510.4,851.2 514.1,851.2 517.8,851.3 521.5,850.3 525.2,851.2 528.9,851.9 532.6,852.0 536.3,853.7 540.0,859.6 540.0,860.6 536.3,859.5 532.6,859.3 528.9,860.2 525.2,859.9 521.5,859.4 517.8,860.3 514.1,860.2 510.4,860.2 506.7,860.3 503.1,860.2 499.4,860.7 495.7,860.7 492.0,860.4 488.3,860.6 484.6,860.5 480.9,860.4 477.2,859.7 473.5,860.1 469.8,860.1 466.1,860.2 462.4,859.8 458.7,859.6 455.0,859.9 451.3,860.5 447.6,859.2 443.9,860.5 440.2,860.4 436.5,859.8 432.8,860.6 429.2,859.7 425.5,859.7 421.8,860.1 418.1,860.7 414.4,859.7 410.7,859.8 407.0,860.0 403.3,860.3 399.6,859.5 395.9,860.1 392.2,859.9 388.5,859.6 384.8,859.4 381.1,859.7 377.4,859.8 373.7,860.6 370.0,860.3 366.3,860.8 362.6,860.4 358.9,860.2 355.3,859.8 351.6,859.9 347.9,860.4 344.2,860.3 340.5,859.4 336.8,860.5 333.1,859.8 329.4,859.5 325.7,859.6 322.0,859.5" fill="#000" filter="url(#txspl)"/>
<polygon points="322.0,858.5 325.7,853.4 329.4,852.3 333.1,851.6 336.8,852.0 340.5,850.0 344.2,851.4 347.9,851.5 351.6,850.0 355.3,850.7 358.9,850.4 362.6,851.0 366.3,851.2 370.0,850.7 373.7,851.0 377.4,850.6 381.1,850.6 384.8,849.7 388.5,849.8 392.2,850.2 395.9,850.2 399.6,850.3 403.3,850.4 407.0,850.2 410.7,850.4 414.4,850.7 418.1,851.5 421.8,850.8 425.5,849.5 429.2,850.6 432.8,851.2 436.5,849.0 440.2,850.7 443.9,851.5 447.6,850.2 451.3,850.6 455.0,850.4 458.7,849.9 462.4,850.8 466.1,851.2 469.8,851.0 473.5,849.9 477.2,850.6 480.9,850.6 484.6,850.9 488.3,851.4 492.0,850.7 495.7,851.1 499.4,851.0 503.1,850.0 506.7,851.2 510.4,851.2 514.1,851.2 517.8,851.3 521.5,850.3 525.2,851.2 528.9,851.9 532.6,852.0 536.3,853.7 540.0,859.6 540.0,859.6 536.3,857.0 532.6,856.2 528.9,856.9 525.2,856.4 521.5,855.8 517.8,856.7 514.1,856.6 510.4,856.7 506.7,856.7 503.1,856.3 499.4,856.9 495.7,856.9 492.0,856.6 488.3,857.0 484.6,856.8 480.9,856.6 477.2,856.1 473.5,856.2 469.8,856.5 466.1,856.6 462.4,856.2 458.7,855.8 455.0,856.2 451.3,856.6 447.6,855.6 443.9,856.9 440.2,856.6 436.5,855.7 432.8,856.9 429.2,856.1 425.5,855.8 421.8,856.4 418.1,857.1 414.4,856.2 410.7,856.1 407.0,856.2 403.3,856.5 399.6,855.9 395.9,856.2 392.2,856.1 388.5,855.8 384.8,855.6 381.1,856.1 377.4,856.2 373.7,856.8 370.0,856.6 366.3,857.0 362.6,856.7 358.9,856.4 355.3,856.2 351.6,856.0 347.9,856.9 344.2,856.8 340.5,855.7 336.8,857.1 333.1,856.5 329.4,856.5 325.7,856.9 322.0,858.5" fill="#000" filter="url(#txsp)"/>
<g filter="url(#soft)"><rect x="322.0" y="955.0" width="218.0" height="218.0" fill="#000" filter="url(#bgg)"/><rect x="322.0" y="955.0" width="218.0" height="218.0" fill="url(#dpd1)"/><rect x="322.0" y="955.0" width="218.0" height="218.0" fill="url(#dpd2)"/></g>
<g filter="url(#bump)"><ellipse cx="389.0" cy="836.0" rx="12.0" ry="17.0" fill="#2f6e2f" transform="rotate(0 389.0 836.0)"/><ellipse cx="403.0" cy="841.0" rx="15.0" ry="11.0" fill="#b4d9b4" transform="rotate(0 403.0 841.0)"/><ellipse cx="418.0" cy="849.0" rx="9.0" ry="5.0" fill="#d6ef3c" transform="rotate(0 418.0 849.0)"/></g>
<ellipse cx="398" cy="1068" rx="42" ry="38" fill="#1a1012" fill-opacity="0.35" filter="url(#blur4)"/>
<g filter="url(#bump)"><path d="M402.4,1059.3 A13.9,13.9 0 1 1 386.3,1070.6" fill="none" stroke="#b4d9b4" stroke-width="18.8" stroke-linecap="round"/><path d="M425.6,1075.5 Q427.6,1082.9 425.9,1087.6 Q424.3,1092.3 422.6,1092.4 Q420.8,1092.6 419.3,1092.9 Q417.7,1093.2 415.6,1091.7 Q413.6,1090.3 413.3,1082.5 Q413.0,1074.7 414.6,1069.8 Q416.1,1064.9 417.9,1065.4 Q419.7,1065.9 421.7,1067.0 Q423.6,1068.1 425.6,1075.5 Z" fill="#d6ef3c"/><path d="M398.2,1058.0 Q398.0,1061.3 395.5,1063.3 Q393.0,1065.3 388.4,1068.7 Q383.9,1072.0 379.6,1066.9 Q375.4,1061.8 368.1,1055.6 Q360.9,1049.4 363.8,1046.3 Q366.8,1043.1 373.4,1041.6 Q379.9,1040.0 384.2,1043.7 Q388.5,1047.3 393.4,1051.0 Q398.4,1054.6 398.2,1058.0 Z" fill="#2f6e2f"/><path d="M404.9,1066.1 Q404.9,1068.4 403.4,1070.6 Q401.9,1072.9 400.1,1073.5 Q398.2,1074.1 397.0,1073.9 Q395.7,1073.6 393.8,1072.3 Q391.9,1070.9 391.9,1067.7 Q392.0,1064.4 392.5,1063.6 Q393.0,1062.8 397.0,1061.2 Q400.9,1059.6 402.9,1061.6 Q404.9,1063.7 404.9,1066.1 Z" fill="#2f6e2f"/></g>
<rect x="305.6" y="777.7" width="248.1" height="426.6" fill="none" stroke="#000" stroke-width="2.8" stroke-dasharray="2.9 2.1"/>
<text x="313.0" y="805.0" font-size="29" text-anchor="start" >5 μs</text>
<g transform="translate(305.6,777.7)"><line x1="79.7" y1="148.1" x2="139.9" y2="148.1" stroke="#9a9a9a" stroke-width="2"/><path d="M121.4,148.3 C121.6,128 116.5,116.6 109.8,116.6 C102.2,116.6 97.2,129 97.2,142 C97.2,154 101.5,161.5 107.5,164.5" fill="none" stroke="#000" stroke-width="2.6"/><path d="M119.4,166.9 L105.6,160.6 L107.6,166.2 L104.9,171.2 Z" fill="#000"/></g>
<text x="431.2" y="953.6" font-size="29.8">90<tspan font-size="19.4" dx="-0.2" dy="-9.8">o</tspan></text>
<text x="429.7" y="1199.6" font-size="29" text-anchor="middle" >~ 40 nm</text>
<polygon points="725.8,859.4 729.5,859.6 733.2,859.7 737.0,859.2 740.7,859.8 744.4,859.6 748.1,859.8 751.9,859.6 755.6,859.9 759.3,859.2 763.0,860.1 766.8,859.9 770.5,859.3 774.2,859.7 777.9,859.7 781.7,858.9 785.4,859.7 789.1,859.3 792.8,859.4 796.6,859.3 800.3,859.4 804.0,859.5 807.7,859.5 811.4,859.0 815.2,859.4 818.9,859.0 822.6,859.1 826.3,859.4 830.1,859.8 833.8,859.7 837.5,859.3 841.2,859.3 845.0,859.2 848.7,859.5 852.4,859.8 856.1,859.5 859.9,859.7 863.6,859.6 867.3,860.0 871.0,858.8 874.7,858.8 878.5,859.4 882.2,859.7 885.9,859.4 889.6,859.6 893.4,859.1 897.1,859.1 900.8,859.2 904.5,859.8 908.3,859.7 912.0,859.3 915.7,859.6 919.4,859.3 923.2,859.5 926.9,859.1 930.6,859.5 934.3,859.2 938.1,859.5 941.8,859.3 945.5,859.2 946.5,860.4 947.4,862.3 947.9,865.1 948.1,868.5 947.9,871.8 947.4,874.7 946.5,876.6 945.5,877.7 941.8,877.7 938.1,876.8 934.3,878.1 930.6,877.6 926.9,877.3 923.2,877.4 919.4,877.5 915.7,877.4 912.0,877.6 908.3,877.6 904.5,877.8 900.8,877.9 897.1,877.8 893.4,877.0 889.6,877.1 885.9,877.4 882.2,877.5 878.5,877.4 874.7,877.7 871.0,876.9 867.3,877.3 863.6,877.8 859.9,877.7 856.1,877.6 852.4,877.6 848.7,877.6 845.0,877.7 841.2,877.2 837.5,877.1 833.8,876.9 830.1,877.6 826.3,877.7 822.6,877.3 818.9,877.7 815.2,877.5 811.4,877.7 807.7,877.4 804.0,877.1 800.3,877.6 796.6,877.2 792.8,877.4 789.1,877.8 785.4,877.7 781.7,878.1 777.9,877.4 774.2,876.9 770.5,877.0 766.8,877.7 763.0,878.2 759.3,878.1 755.6,877.4 751.9,878.0 748.1,877.8 744.4,877.2 740.7,877.7 737.0,877.4 733.2,877.5 729.5,877.4 725.8,877.5 724.8,876.4 724.0,874.5 723.4,871.7 723.2,868.5 723.4,865.2 724.0,862.4 724.8,860.5" fill="#000" filter="url(#txsw)"/>
<polygon points="725.8,876.0 729.5,875.9 733.2,876.0 737.0,875.9 740.7,876.2 744.4,875.7 748.1,876.3 751.9,876.5 755.6,875.9 759.3,876.6 763.0,876.7 766.8,876.2 770.5,875.5 774.2,875.4 777.9,875.9 781.7,876.6 785.4,876.2 789.1,876.3 792.8,875.9 796.6,875.7 800.3,876.1 804.0,875.6 807.7,875.9 811.4,876.2 815.2,876.0 818.9,876.2 822.6,875.8 826.3,876.2 830.1,876.1 833.8,875.4 837.5,875.6 841.2,875.7 845.0,876.2 848.7,876.1 852.4,876.1 856.1,876.1 859.9,876.2 863.6,876.3 867.3,875.8 871.0,875.4 874.7,876.2 878.5,875.9 882.2,876.0 885.9,875.9 889.6,875.6 893.4,875.5 897.1,876.3 900.8,876.4 904.5,876.3 908.3,876.1 912.0,876.1 915.7,875.9 919.4,876.0 923.2,875.9 926.9,875.8 930.6,876.1 934.3,876.6 938.1,875.3 941.8,876.2 945.5,876.2 945.5,877.2 941.8,880.2 938.1,880.4 934.3,881.9 930.6,881.8 926.9,882.2 923.2,881.8 919.4,881.9 915.7,882.0 912.0,882.6 908.3,882.1 904.5,882.7 900.8,882.5 897.1,882.6 893.4,882.0 889.6,881.9 885.9,882.4 882.2,882.4 878.5,882.0 874.7,882.3 871.0,881.7 867.3,882.2 863.6,882.3 859.9,882.6 856.1,882.1 852.4,882.4 848.7,882.4 845.0,882.8 841.2,882.3 837.5,882.1 833.8,881.9 830.1,882.2 826.3,882.3 822.6,882.4 818.9,882.7 815.2,882.0 811.4,882.5 807.7,882.0 804.0,881.6 800.3,882.2 796.6,882.5 792.8,882.3 789.1,882.3 785.4,882.3 781.7,883.4 777.9,882.2 774.2,881.6 770.5,882.1 766.8,882.4 763.0,883.0 759.3,883.0 755.6,882.3 751.9,882.9 748.1,882.9 744.4,881.7 740.7,881.9 737.0,881.4 733.2,880.8 729.5,879.8 725.8,877.0" fill="#000" filter="url(#txspl)"/>
<polygon points="725.8,859.9 729.5,854.7 733.2,853.4 737.0,851.7 740.7,851.8 744.4,850.7 748.1,850.4 751.9,849.7 755.6,850.4 759.3,850.5 763.0,851.5 766.8,851.2 770.5,850.2 774.2,851.1 777.9,850.8 781.7,850.1 785.4,850.0 789.1,849.9 792.8,850.7 796.6,850.6 800.3,850.6 804.0,850.1 807.7,851.0 811.4,850.0 815.2,850.9 818.9,849.0 822.6,849.8 826.3,849.6 830.1,850.3 833.8,851.1 837.5,850.6 841.2,849.8 845.0,850.5 848.7,850.7 852.4,850.1 856.1,850.9 859.9,851.0 863.6,851.1 867.3,851.3 871.0,850.2 874.7,850.0 878.5,850.6 882.2,850.5 885.9,850.1 889.6,850.3 893.4,849.5 897.1,850.0 900.8,850.3 904.5,850.6 908.3,850.1 912.0,850.3 915.7,851.0 919.4,849.8 923.2,850.3 926.9,850.4 930.6,850.9 934.3,851.6 938.1,852.8 941.8,854.5 945.5,859.7 945.5,860.7 941.8,860.8 938.1,861.0 934.3,860.7 930.6,861.0 926.9,860.6 923.2,861.0 919.4,860.8 915.7,861.1 912.0,860.8 908.3,861.2 904.5,861.3 900.8,860.7 897.1,860.6 893.4,860.6 889.6,861.1 885.9,860.9 882.2,861.2 878.5,860.9 874.7,860.3 871.0,860.3 867.3,861.5 863.6,861.1 859.9,861.2 856.1,861.0 852.4,861.3 848.7,861.0 845.0,860.7 841.2,860.8 837.5,860.8 833.8,861.2 830.1,861.3 826.3,860.9 822.6,860.6 818.9,860.5 815.2,860.9 811.4,860.5 807.7,861.0 804.0,861.0 800.3,860.9 796.6,860.8 792.8,860.9 789.1,860.8 785.4,861.2 781.7,860.4 777.9,861.2 774.2,861.2 770.5,860.8 766.8,861.4 763.0,861.6 759.3,860.7 755.6,861.4 751.9,861.1 748.1,861.3 744.4,861.1 740.7,861.3 737.0,860.7 733.2,861.2 729.5,861.1 725.8,860.9" fill="#000" filter="url(#txspl)"/>
<polygon points="725.8,859.9 729.5,854.7 733.2,853.4 737.0,851.7 740.7,851.8 744.4,850.7 748.1,850.4 751.9,849.7 755.6,850.4 759.3,850.5 763.0,851.5 766.8,851.2 770.5,850.2 774.2,851.1 777.9,850.8 781.7,850.1 785.4,850.0 789.1,849.9 792.8,850.7 796.6,850.6 800.3,850.6 804.0,850.1 807.7,851.0 811.4,850.0 815.2,850.9 818.9,849.0 822.6,849.8 826.3,849.6 830.1,850.3 833.8,851.1 837.5,850.6 841.2,849.8 845.0,850.5 848.7,850.7 852.4,850.1 856.1,850.9 859.9,851.0 863.6,851.1 867.3,851.3 871.0,850.2 874.7,850.0 878.5,850.6 882.2,850.5 885.9,850.1 889.6,850.3 893.4,849.5 897.1,850.0 900.8,850.3 904.5,850.6 908.3,850.1 912.0,850.3 915.7,851.0 919.4,849.8 923.2,850.3 926.9,850.4 930.6,850.9 934.3,851.6 938.1,852.8 941.8,854.5 945.5,859.7 945.5,859.7 941.8,858.1 938.1,857.7 934.3,857.1 930.6,857.1 926.9,856.7 923.2,856.9 919.4,856.6 915.7,857.2 912.0,856.7 908.3,857.0 904.5,857.2 900.8,856.7 897.1,856.5 893.4,856.4 889.6,857.0 885.9,856.7 882.2,857.1 878.5,856.9 874.7,856.3 871.0,856.4 867.3,857.6 863.6,857.2 859.9,857.3 856.1,857.1 852.4,857.0 848.7,857.1 845.0,856.8 841.2,856.6 837.5,856.8 833.8,857.3 830.1,857.1 826.3,856.6 822.6,856.4 818.9,856.2 815.2,857.0 811.4,856.4 807.7,857.1 804.0,856.8 800.3,856.9 796.6,856.8 792.8,857.0 789.1,856.6 785.4,856.9 781.7,856.4 777.9,857.2 774.2,857.3 770.5,856.7 766.8,857.5 763.0,857.7 759.3,856.7 755.6,857.2 751.9,856.8 748.1,857.1 744.4,857.1 740.7,857.6 737.0,857.1 733.2,858.0 729.5,858.4 725.8,859.9" fill="#000" filter="url(#txsp)"/>
<rect x="732.0" y="955.0" width="219.7" height="218.0" fill="#000" filter="url(#txf)"/>
<g filter="url(#bump)"><ellipse cx="800.0" cy="835.0" rx="12.0" ry="14.0" fill="#2f6e2f" transform="rotate(0 800.0 835.0)"/><ellipse cx="818.0" cy="843.0" rx="11.0" ry="13.0" fill="#2f6e2f" transform="rotate(0 818.0 843.0)"/><ellipse cx="830.0" cy="835.0" rx="9.0" ry="10.0" fill="#2f6e2f" transform="rotate(0 830.0 835.0)"/><ellipse cx="792.0" cy="830.0" rx="6.0" ry="10.0" fill="#b4d9b4" transform="rotate(0 792.0 830.0)"/><ellipse cx="832.0" cy="848.0" rx="9.0" ry="7.0" fill="#b4d9b4" transform="rotate(0 832.0 848.0)"/><ellipse cx="793.0" cy="850.0" rx="6.0" ry="4.0" fill="#d6ef3c" transform="rotate(0 793.0 850.0)"/></g>
<g filter="url(#bump)"><ellipse cx="881.0" cy="842.0" rx="15.0" ry="13.0" fill="#b4d9b4" transform="rotate(0 881.0 842.0)"/><ellipse cx="880.0" cy="830.0" rx="7.0" ry="6.0" fill="#2f6e2f" transform="rotate(0 880.0 830.0)"/><ellipse cx="878.0" cy="851.0" rx="9.0" ry="4.0" fill="#d6ef3c" transform="rotate(0 878.0 851.0)"/></g>
<g filter="url(#bump)"><path d="M847.1,1007.8 Q847.9,1010.4 846.7,1013.1 Q845.5,1015.8 844.8,1016.3 Q844.1,1016.8 842.3,1016.2 Q840.5,1015.5 839.7,1013.7 Q838.9,1011.9 838.1,1010.3 Q837.4,1008.6 838.9,1007.0 Q840.5,1005.3 842.0,1005.1 Q843.5,1005.0 844.9,1005.1 Q846.3,1005.3 847.1,1007.8 Z" fill="#d6ef3c"/><path d="M835.5,1007.2 A9.0,9.0 0 1 1 822.5,1011.9" fill="none" stroke="#b4d9b4" stroke-width="14.5" stroke-linecap="round"/><path d="M815.3,1018.7 A6.6,6.6 0 1 1 818.2,1010.7" fill="none" stroke="#2f6e2f" stroke-width="13.0" stroke-linecap="round"/></g>
<g filter="url(#bump)"><path d="M905.5,1095.1 A9.0,9.0 0 1 1 898.6,1083.1" fill="none" stroke="#b4d9b4" stroke-width="14.5" stroke-linecap="round"/><path d="M904.3,1073.6 A7.4,7.4 0 1 1 901.0,1082.5" fill="none" stroke="#2f6e2f" stroke-width="13.0" stroke-linecap="round"/><path d="M893.0,1100.9 Q893.7,1102.5 893.4,1103.1 Q893.1,1103.7 891.3,1104.0 Q889.5,1104.3 888.1,1104.0 Q886.8,1103.7 885.0,1103.3 Q883.2,1102.8 883.4,1101.4 Q883.6,1100.0 885.3,1099.4 Q887.0,1098.7 888.9,1099.1 Q890.7,1099.5 891.5,1099.4 Q892.3,1099.3 893.0,1100.9 Z" fill="#d6ef3c"/></g>
<g filter="url(#bump)"><path d="M795.1,1098.3 Q795.9,1099.9 795.5,1100.4 Q795.0,1100.9 793.0,1101.3 Q791.0,1101.7 790.3,1101.8 Q789.6,1101.9 788.1,1101.0 Q786.7,1100.2 786.5,1099.3 Q786.3,1098.4 787.6,1097.0 Q788.9,1095.6 790.5,1096.2 Q792.1,1096.7 793.2,1096.7 Q794.4,1096.7 795.1,1098.3 Z" fill="#d6ef3c"/><path d="M793.7,1114.3 A8.2,8.2 0 1 1 806.3,1114.3" fill="none" stroke="#b4d9b4" stroke-width="14.5" stroke-linecap="round"/><path d="M806.7,1122.7 A6.6,6.6 0 1 1 798.7,1119.8" fill="none" stroke="#2f6e2f" stroke-width="13.0" stroke-linecap="round"/></g>
<rect x="710.5" y="777.7" width="248.1" height="426.6" fill="none" stroke="#000" stroke-width="2.8" stroke-dasharray="2.9 2.1"/>
<text x="717.9" y="805.0" font-size="29" text-anchor="start" >0 μs</text>
<g transform="translate(710.5,777.7)"><line x1="79.7" y1="148.1" x2="139.9" y2="148.1" stroke="#9a9a9a" stroke-width="2"/><path d="M121.4,148.3 C121.6,128 116.5,116.6 109.8,116.6 C102.2,116.6 97.2,129 97.2,142 C97.2,154 101.5,161.5 107.5,164.5" fill="none" stroke="#000" stroke-width="2.6"/><path d="M119.4,166.9 L105.6,160.6 L107.6,166.2 L104.9,171.2 Z" fill="#000"/></g>
<text x="836.1" y="953.6" font-size="29.8">90<tspan font-size="19.4" dx="-0.2" dy="-9.8">o</tspan></text>
<text x="834.5" y="1199.6" font-size="29" text-anchor="middle" >~ 60 nm</text>
<circle cx="1065.5" cy="822" r="32" fill="#000" filter="url(#txsp)"/>
<path d="M1010,855 L1040,855 C1060,853 1075,851 1090,846 C1100,843 1110,842 1125,844 C1140,846 1160,848 1175,846 C1185,846 1192,850 1197,857 L1202,866 L1202,882 C1180,885 1150,886 1120,883 C1090,880 1060,878 1030,877 L1012,876 C1007,870 1007,860 1010,855 Z" fill="#000" filter="url(#txsp)"/>
<path d="M1010,857 C1040,857 1070,857 1090,859 C1110,861 1130,864 1160,865 C1180,865 1195,865 1201,866 L1201,880 C1180,881 1150,881 1120,878 C1095,875 1065,871 1040,870 L1010,869 C1007,865 1007,860 1010,857 Z" fill="#000" filter="url(#txsw)"/>
<g filter="url(#bump)"><ellipse cx="1020.0" cy="838.0" rx="10.0" ry="13.0" fill="#b4d9b4" transform="rotate(0 1020.0 838.0)"/><ellipse cx="1035.0" cy="840.0" rx="13.0" ry="14.0" fill="#2f6e2f" transform="rotate(0 1035.0 840.0)"/><ellipse cx="1018.0" cy="850.0" rx="8.0" ry="5.0" fill="#d6ef3c" transform="rotate(0 1018.0 850.0)"/></g>
<g filter="url(#bump)"><ellipse cx="1062.0" cy="838.0" rx="10.0" ry="10.0" fill="#b4d9b4" transform="rotate(0 1062.0 838.0)"/><ellipse cx="1074.0" cy="840.0" rx="9.0" ry="10.0" fill="#2f6e2f" transform="rotate(0 1074.0 840.0)"/></g>
<g filter="url(#bump)"><ellipse cx="1100.0" cy="825.0" rx="11.0" ry="14.0" fill="#b4d9b4" transform="rotate(0 1100.0 825.0)"/><ellipse cx="1108.0" cy="818.0" rx="8.0" ry="9.0" fill="#2f6e2f" transform="rotate(0 1108.0 818.0)"/><ellipse cx="1092.0" cy="822.0" rx="4.0" ry="8.0" fill="#d6ef3c" transform="rotate(0 1092.0 822.0)"/></g>
<rect x="1023.5" y="970.5" width="184.2" height="185.0" fill="#000" filter="url(#txf2)"/>
<circle cx="1068.7" cy="1030.5" r="41" fill="#000" filter="url(#txbud)"/>
<path d="M1095,995 A44,44 0 0 1 1098,1066" fill="none" stroke="#1e1416" stroke-opacity="0.6" stroke-width="9" filter="url(#blur2)"/>
<g filter="url(#bump)"><path d="M1111.8,1048.4 Q1112.3,1049.8 1111.3,1054.2 Q1110.3,1058.5 1108.5,1060.8 Q1106.7,1063.0 1105.4,1063.2 Q1104.1,1063.5 1102.8,1060.2 Q1101.5,1056.8 1101.7,1052.1 Q1102.0,1047.3 1101.6,1044.9 Q1101.3,1042.6 1103.6,1041.3 Q1105.9,1040.0 1108.7,1043.4 Q1111.4,1046.9 1111.8,1048.4 Z" fill="#d6ef3c"/><path d="M1118.6,1041.9 A8.2,8.2 0 1 1 1114.7,1056.3" fill="none" stroke="#b4d9b4" stroke-width="11.6" stroke-linecap="round"/><path d="M1133.1,1057.7 Q1133.5,1059.7 1130.5,1062.9 Q1127.5,1066.2 1127.1,1067.9 Q1126.7,1069.7 1124.2,1068.6 Q1121.8,1067.6 1119.7,1065.9 Q1117.7,1064.2 1117.1,1061.7 Q1116.5,1059.2 1118.6,1056.1 Q1120.7,1053.1 1122.3,1052.6 Q1123.9,1052.2 1128.3,1053.9 Q1132.7,1055.7 1133.1,1057.7 Z" fill="#2f6e2f"/></g>
<g filter="url(#bump)"><path d="M1022.0,1080.8 A9.8,9.8 0 1 1 1030.5,1066.1" fill="none" stroke="#b4d9b4" stroke-width="13.0" stroke-linecap="round"/><path d="M1025.6,1066.3 A7.4,7.4 0 1 1 1025.6,1073.7" fill="none" stroke="#2f6e2f" stroke-width="14.5" stroke-linecap="round"/><path d="M1017.9,1081.7 Q1019.0,1082.9 1017.6,1083.8 Q1016.3,1084.7 1015.2,1085.7 Q1014.1,1086.7 1013.4,1085.8 Q1012.8,1084.8 1011.8,1084.4 Q1010.7,1084.1 1010.4,1081.8 Q1010.0,1079.4 1011.2,1079.0 Q1012.3,1078.6 1013.0,1078.3 Q1013.7,1078.0 1015.2,1079.2 Q1016.8,1080.5 1017.9,1081.7 Z" fill="#d6ef3c"/></g>
<g filter="url(#bump)"><path d="M1085.9,1073.7 Q1087.4,1075.9 1086.6,1077.1 Q1085.9,1078.3 1079.8,1078.6 Q1073.8,1078.8 1068.5,1078.9 Q1063.2,1079.1 1060.5,1077.8 Q1057.8,1076.6 1059.2,1074.9 Q1060.7,1073.3 1064.2,1071.8 Q1067.6,1070.4 1072.0,1070.6 Q1076.3,1070.9 1080.4,1071.2 Q1084.5,1071.4 1085.9,1073.7 Z" fill="#d6ef3c"/><path d="M1065.2,1093.0 A9.8,9.8 0 1 1 1082.5,1099.3" fill="none" stroke="#b4d9b4" stroke-width="13.0" stroke-linecap="round"/><path d="M1081.6,1098.5 Q1083.8,1100.9 1082.1,1103.5 Q1080.3,1106.1 1078.7,1107.1 Q1077.1,1108.1 1075.0,1107.5 Q1072.9,1106.9 1069.8,1104.8 Q1066.7,1102.7 1068.3,1100.9 Q1070.0,1099.1 1070.8,1095.7 Q1071.6,1092.2 1073.6,1092.8 Q1075.6,1093.5 1077.6,1094.8 Q1079.5,1096.1 1081.6,1098.5 Z" fill="#2f6e2f"/></g>
<rect x="985.6" y="777.7" width="248.1" height="426.6" fill="none" stroke="#000" stroke-width="2.8" stroke-dasharray="2.9 2.1"/>
<text x="1222.2" y="805.0" font-size="29" text-anchor="end" >4.7 μs</text>
<g transform="translate(985.6,777.7)"><line x1="79.7" y1="148.1" x2="139.9" y2="148.1" stroke="#9a9a9a" stroke-width="2"/><path d="M121.4,148.3 C121.6,128 116.5,116.6 109.8,116.6 C102.2,116.6 97.2,129 97.2,142 C97.2,154 101.5,161.5 107.5,164.5" fill="none" stroke="#000" stroke-width="2.6"/><path d="M119.4,166.9 L105.6,160.6 L107.6,166.2 L104.9,171.2 Z" fill="#000"/></g>
<text x="1111.2" y="953.6" font-size="29.8">90<tspan font-size="19.4" dx="-0.2" dy="-9.8">o</tspan></text>
<text x="1109.7" y="1199.6" font-size="29" text-anchor="middle" >~ 50 nm</text>
<polygon points="50.0,1628.9 53.6,1629.3 57.3,1629.2 60.9,1629.3 64.5,1628.6 68.2,1629.4 71.8,1628.9 75.5,1628.4 79.1,1628.3 82.7,1628.2 86.4,1628.4 90.0,1629.0 93.6,1628.8 97.3,1628.3 100.9,1628.2 104.6,1629.0 108.2,1628.6 111.8,1627.9 115.5,1628.1 119.1,1627.9 122.7,1628.0 126.4,1628.2 130.0,1627.8 133.7,1627.9 137.3,1627.9 140.9,1627.9 144.6,1627.4 148.2,1627.5 151.8,1628.2 155.5,1627.5 159.1,1627.6 162.8,1627.8 166.4,1627.5 170.0,1627.6 173.7,1628.3 177.3,1628.2 180.9,1627.4 184.6,1627.9 188.2,1627.4 191.9,1627.4 195.5,1628.0 199.1,1628.5 202.8,1628.0 206.4,1628.6 210.0,1627.8 213.7,1628.2 217.3,1628.2 221.0,1628.3 224.6,1628.6 228.2,1628.5 231.9,1628.2 235.5,1627.9 239.1,1628.2 242.8,1628.5 246.4,1628.3 250.1,1628.0 253.7,1628.0 257.3,1628.9 261.0,1628.8 264.6,1628.5 265.6,1629.7 266.5,1631.6 267.0,1634.4 267.2,1637.8 267.0,1641.2 266.5,1644.0 265.6,1645.9 264.6,1647.1 261.0,1647.9 257.3,1647.9 253.7,1647.7 250.1,1647.6 246.4,1647.1 242.8,1647.9 239.1,1647.4 235.5,1647.9 231.9,1647.4 228.2,1647.6 224.6,1647.4 221.0,1647.4 217.3,1647.5 213.7,1647.5 210.0,1647.5 206.4,1647.9 202.8,1646.9 199.1,1647.2 195.5,1647.2 191.9,1647.1 188.2,1647.1 184.6,1647.3 180.9,1647.4 177.3,1647.0 173.7,1647.6 170.0,1647.4 166.4,1648.0 162.8,1646.8 159.1,1647.3 155.5,1647.1 151.8,1647.9 148.2,1647.7 144.6,1647.5 140.9,1646.8 137.3,1647.5 133.7,1647.2 130.0,1647.3 126.4,1647.5 122.7,1647.1 119.1,1647.3 115.5,1647.1 111.8,1647.6 108.2,1647.5 104.6,1648.0 100.9,1647.9 97.3,1647.6 93.6,1647.5 90.0,1647.3 86.4,1647.4 82.7,1647.3 79.1,1647.6 75.5,1647.9 71.8,1648.0 68.2,1647.8 64.5,1647.9 60.9,1647.4 57.3,1647.4 53.6,1647.7 50.0,1647.7 49.0,1646.5 48.1,1644.5 47.5,1641.7 47.3,1638.3 47.5,1634.9 48.1,1632.0 49.0,1630.0" fill="#000" filter="url(#txsw)"/>
<polygon points="50.0,1646.2 53.6,1646.2 57.3,1645.9 60.9,1645.9 64.5,1646.4 68.2,1646.3 71.8,1646.5 75.5,1646.4 79.1,1646.1 82.7,1645.8 86.4,1645.9 90.0,1645.8 93.6,1646.0 97.3,1646.1 100.9,1646.4 104.6,1646.5 108.2,1646.0 111.8,1646.1 115.5,1645.6 119.1,1645.8 122.7,1645.6 126.4,1646.0 130.0,1645.8 133.7,1645.7 137.3,1646.0 140.9,1645.3 144.6,1646.0 148.2,1646.2 151.8,1646.4 155.5,1645.6 159.1,1645.8 162.8,1645.3 166.4,1646.5 170.0,1645.9 173.7,1646.1 177.3,1645.5 180.9,1645.9 184.6,1645.8 188.2,1645.6 191.9,1645.6 195.5,1645.7 199.1,1645.7 202.8,1645.4 206.4,1646.4 210.0,1646.0 213.7,1646.0 217.3,1646.0 221.0,1645.9 224.6,1645.9 228.2,1646.1 231.9,1645.9 235.5,1646.4 239.1,1645.9 242.8,1646.4 246.4,1645.6 250.1,1646.1 253.7,1646.2 257.3,1646.4 261.0,1646.4 264.6,1645.6 264.6,1646.6 261.0,1650.5 257.3,1651.2 253.7,1651.7 250.1,1651.9 246.4,1651.7 242.8,1652.9 239.1,1652.3 235.5,1652.7 231.9,1652.0 228.2,1652.4 224.6,1652.4 221.0,1652.0 217.3,1652.6 213.7,1652.5 210.0,1652.3 206.4,1652.5 202.8,1651.7 199.1,1651.9 195.5,1653.0 191.9,1652.1 188.2,1652.0 184.6,1651.9 180.9,1652.0 177.3,1651.5 173.7,1652.2 170.0,1652.8 166.4,1652.5 162.8,1651.8 159.1,1651.9 155.5,1652.1 151.8,1652.9 148.2,1652.4 144.6,1652.3 140.9,1651.4 137.3,1652.2 133.7,1651.8 130.0,1652.6 126.4,1652.1 122.7,1651.7 119.1,1652.1 115.5,1651.6 111.8,1652.2 108.2,1652.1 104.6,1653.9 100.9,1652.7 97.3,1652.9 93.6,1652.4 90.0,1652.3 86.4,1652.1 82.7,1652.2 79.1,1652.3 75.5,1652.4 71.8,1652.8 68.2,1652.6 64.5,1652.0 60.9,1651.5 57.3,1651.0 53.6,1650.2 50.0,1647.2" fill="#000" filter="url(#txspl)"/>
<polygon points="50.0,1629.4 53.6,1622.2 57.3,1620.3 60.9,1618.5 64.5,1617.5 68.2,1618.2 71.8,1617.0 75.5,1616.8 79.1,1616.3 82.7,1616.6 86.4,1616.7 90.0,1617.4 93.6,1616.8 97.3,1615.9 100.9,1617.0 104.6,1617.9 108.2,1617.4 111.8,1616.6 115.5,1617.0 119.1,1616.8 122.7,1617.1 126.4,1616.6 130.0,1615.3 133.7,1617.0 137.3,1617.2 140.9,1616.3 144.6,1616.0 148.2,1616.7 151.8,1616.5 155.5,1616.7 159.1,1616.6 162.8,1617.2 166.4,1616.3 170.0,1616.6 173.7,1617.5 177.3,1616.9 180.9,1616.5 184.6,1616.3 188.2,1615.9 191.9,1615.9 195.5,1616.7 199.1,1616.8 202.8,1616.8 206.4,1617.7 210.0,1616.6 213.7,1617.1 217.3,1616.6 221.0,1615.7 224.6,1617.0 228.2,1616.9 231.9,1616.3 235.5,1616.5 239.1,1616.6 242.8,1617.0 246.4,1617.8 250.1,1617.6 253.7,1617.9 257.3,1619.7 261.0,1622.1 264.6,1629.0 264.6,1630.0 261.0,1630.3 257.3,1630.4 253.7,1629.5 250.1,1629.5 246.4,1629.8 242.8,1630.0 239.1,1629.7 235.5,1629.4 231.9,1629.7 228.2,1630.0 224.6,1630.1 221.0,1629.8 217.3,1629.7 213.7,1629.7 210.0,1629.3 206.4,1630.1 202.8,1629.5 199.1,1630.0 195.5,1629.5 191.9,1628.9 188.2,1628.9 184.6,1629.4 180.9,1628.9 177.3,1629.7 173.7,1629.8 170.0,1629.1 166.4,1629.0 162.8,1629.3 159.1,1629.1 155.5,1629.0 151.8,1629.7 148.2,1629.0 144.6,1628.9 140.9,1629.4 137.3,1629.4 133.7,1629.4 130.0,1629.3 126.4,1629.7 122.7,1629.5 119.1,1629.4 115.5,1629.6 111.8,1629.4 108.2,1630.1 104.6,1630.5 100.9,1629.7 97.3,1629.8 93.6,1630.3 90.0,1630.5 86.4,1629.9 82.7,1629.7 79.1,1629.8 75.5,1629.9 71.8,1630.4 68.2,1630.9 64.5,1630.1 60.9,1630.8 57.3,1630.7 53.6,1630.8 50.0,1630.4" fill="#000" filter="url(#txspl)"/>
<polygon points="50.0,1629.4 53.6,1622.2 57.3,1620.3 60.9,1618.5 64.5,1617.5 68.2,1618.2 71.8,1617.0 75.5,1616.8 79.1,1616.3 82.7,1616.6 86.4,1616.7 90.0,1617.4 93.6,1616.8 97.3,1615.9 100.9,1617.0 104.6,1617.9 108.2,1617.4 111.8,1616.6 115.5,1617.0 119.1,1616.8 122.7,1617.1 126.4,1616.6 130.0,1615.3 133.7,1617.0 137.3,1617.2 140.9,1616.3 144.6,1616.0 148.2,1616.7 151.8,1616.5 155.5,1616.7 159.1,1616.6 162.8,1617.2 166.4,1616.3 170.0,1616.6 173.7,1617.5 177.3,1616.9 180.9,1616.5 184.6,1616.3 188.2,1615.9 191.9,1615.9 195.5,1616.7 199.1,1616.8 202.8,1616.8 206.4,1617.7 210.0,1616.6 213.7,1617.1 217.3,1616.6 221.0,1615.7 224.6,1617.0 228.2,1616.9 231.9,1616.3 235.5,1616.5 239.1,1616.6 242.8,1617.0 246.4,1617.8 250.1,1617.6 253.7,1617.9 257.3,1619.7 261.0,1622.1 264.6,1629.0 264.6,1629.0 261.0,1627.0 257.3,1626.3 253.7,1625.1 250.1,1625.0 246.4,1625.3 242.8,1625.1 239.1,1624.9 235.5,1624.6 231.9,1624.7 228.2,1625.1 224.6,1625.3 221.0,1624.6 217.3,1624.9 213.7,1625.0 210.0,1624.5 206.4,1625.5 202.8,1624.8 199.1,1625.1 195.5,1624.7 191.9,1624.1 188.2,1624.1 184.6,1624.5 180.9,1624.3 177.3,1624.9 173.7,1625.2 170.0,1624.4 166.4,1624.2 162.8,1624.7 159.1,1624.4 155.5,1624.4 151.8,1624.8 148.2,1624.3 144.6,1624.1 140.9,1624.6 137.3,1624.8 133.7,1624.8 130.0,1624.1 126.4,1624.9 122.7,1624.9 119.1,1624.7 115.5,1624.9 111.8,1624.6 108.2,1625.3 104.6,1625.8 100.9,1624.9 97.3,1624.6 93.6,1625.3 90.0,1625.6 86.4,1625.0 82.7,1624.9 79.1,1624.8 75.5,1625.0 71.8,1625.5 68.2,1626.1 64.5,1625.4 60.9,1626.2 57.3,1626.7 53.6,1627.4 50.0,1629.4" fill="#000" filter="url(#txsp)"/>
<g filter="url(#soft)"><rect x="51.0" y="1733.0" width="213.6" height="210.5" fill="#000" filter="url(#bgg)"/><rect x="51.0" y="1733.0" width="213.6" height="210.5" fill="url(#dpd1)"/><rect x="51.0" y="1733.0" width="213.6" height="210.5" fill="url(#dpd2)"/></g>
<g filter="url(#bump)"><path d="M165.5,1603.1 Q163.6,1607.2 160.6,1613.2 Q157.5,1619.3 155.8,1618.9 Q154.1,1618.5 150.7,1614.5 Q147.2,1610.4 145.8,1608.4 Q144.3,1606.3 147.7,1601.5 Q151.0,1596.7 155.4,1593.4 Q159.7,1590.2 161.3,1591.9 Q162.9,1593.7 165.2,1596.4 Q167.4,1599.1 165.5,1603.1 Z" fill="#3fcccc"/><path d="M169.4,1592.2 Q170.6,1594.2 169.7,1596.4 Q168.8,1598.5 165.5,1599.2 Q162.1,1599.8 160.8,1600.2 Q159.6,1600.5 156.6,1598.7 Q153.6,1596.9 154.4,1594.7 Q155.2,1592.4 155.9,1591.2 Q156.6,1590.0 159.1,1588.7 Q161.5,1587.4 164.8,1588.8 Q168.1,1590.2 169.4,1592.2 Z" fill="#3fcccc"/></g>
<g filter="url(#bump)"><path d="M171.3,1834.0 Q169.7,1836.8 169.1,1841.4 Q168.5,1846.0 162.2,1848.5 Q155.9,1851.0 152.2,1848.9 Q148.4,1846.9 146.0,1844.6 Q143.5,1842.3 143.2,1835.8 Q142.9,1829.3 147.1,1824.9 Q151.2,1820.4 155.7,1822.7 Q160.2,1824.9 166.5,1828.0 Q172.8,1831.2 171.3,1834.0 Z" fill="#3fcccc"/><path d="M174.3,1828.7 Q174.0,1831.6 173.7,1833.6 Q173.5,1835.6 169.5,1836.2 Q165.5,1836.9 164.6,1836.6 Q163.6,1836.4 160.4,1834.4 Q157.1,1832.4 156.7,1829.9 Q156.2,1827.5 159.8,1825.7 Q163.3,1824.0 164.7,1822.6 Q166.1,1821.2 170.4,1823.5 Q174.6,1825.7 174.3,1828.7 Z" fill="#3fcccc"/></g>
<rect x="30.5" y="1550.7" width="248.1" height="426.6" fill="none" stroke="#000" stroke-width="2.8" stroke-dasharray="2.9 2.1"/>
<text x="37.9" y="1578.0" font-size="29" text-anchor="start" >0 μs</text>
<g transform="translate(30.5,1550.7)"><line x1="79.7" y1="148.1" x2="139.9" y2="148.1" stroke="#9a9a9a" stroke-width="2"/><path d="M121.4,148.3 C121.6,128 116.5,116.6 109.8,116.6 C102.2,116.6 97.2,129 97.2,142 C97.2,154 101.5,161.5 107.5,164.5" fill="none" stroke="#000" stroke-width="2.6"/><path d="M119.4,166.9 L105.6,160.6 L107.6,166.2 L104.9,171.2 Z" fill="#000"/></g>
<text x="156.1" y="1726.6" font-size="29.8">90<tspan font-size="19.4" dx="-0.2" dy="-9.8">o</tspan></text>
<text x="154.6" y="1972.6" font-size="29" text-anchor="middle" >~ 40 nm</text>
<polygon points="325.0,1626.6 328.6,1626.1 332.3,1626.8 335.9,1626.8 339.6,1625.8 343.2,1626.0 346.9,1626.5 350.5,1626.4 354.2,1626.5 357.8,1626.2 361.4,1626.8 365.1,1626.8 368.7,1626.5 372.4,1626.9 376.0,1626.7 379.7,1626.2 383.3,1626.6 386.9,1626.2 390.6,1626.8 394.2,1626.5 397.9,1626.4 401.5,1626.3 405.2,1626.9 408.8,1626.4 412.5,1626.4 416.1,1626.4 419.7,1626.7 423.4,1626.6 427.0,1626.6 430.7,1626.7 434.3,1627.2 438.0,1626.4 441.6,1626.3 445.3,1626.2 448.9,1626.7 452.5,1626.9 456.2,1626.5 459.8,1626.2 463.5,1626.2 467.1,1626.7 470.8,1626.8 474.4,1626.7 478.1,1626.3 481.7,1626.6 485.3,1626.5 489.0,1626.6 492.6,1626.8 496.3,1626.6 499.9,1626.7 503.6,1626.5 507.2,1626.6 510.8,1626.7 514.5,1626.0 518.1,1626.4 521.8,1626.3 525.4,1626.3 529.1,1626.4 532.7,1627.0 536.4,1626.2 540.0,1626.8 541.0,1628.0 541.9,1629.9 542.4,1632.8 542.6,1636.1 542.4,1639.5 541.9,1642.3 541.0,1644.2 540.0,1645.4 536.4,1646.1 532.7,1645.5 529.1,1645.6 525.4,1645.3 521.8,1645.5 518.1,1645.0 514.5,1645.3 510.8,1645.6 507.2,1645.7 503.6,1644.9 499.9,1645.8 496.3,1645.4 492.6,1645.2 489.0,1645.4 485.3,1645.2 481.7,1645.8 478.1,1645.4 474.4,1646.0 470.8,1645.4 467.1,1645.2 463.5,1645.6 459.8,1645.2 456.2,1645.0 452.5,1645.0 448.9,1644.9 445.3,1645.5 441.6,1645.4 438.0,1645.5 434.3,1645.7 430.7,1645.7 427.0,1645.7 423.4,1645.5 419.7,1645.3 416.1,1645.7 412.5,1645.1 408.8,1645.4 405.2,1645.4 401.5,1645.3 397.9,1645.7 394.2,1645.4 390.6,1645.7 386.9,1645.6 383.3,1645.4 379.7,1645.7 376.0,1645.5 372.4,1645.7 368.7,1645.2 365.1,1645.1 361.4,1645.1 357.8,1645.4 354.2,1645.8 350.5,1645.3 346.9,1645.4 343.2,1645.8 339.6,1645.7 335.9,1645.7 332.3,1645.6 328.6,1645.4 325.0,1644.9 324.0,1643.8 323.2,1641.9 322.6,1639.1 322.4,1635.8 322.6,1632.4 323.2,1629.6 324.0,1627.8" fill="#000" filter="url(#txsw)"/>
<polygon points="325.0,1643.4 328.6,1643.9 332.3,1644.1 335.9,1644.2 339.6,1644.2 343.2,1644.3 346.9,1643.9 350.5,1643.8 354.2,1644.3 357.8,1643.9 361.4,1643.6 365.1,1643.6 368.7,1643.7 372.4,1644.2 376.0,1644.0 379.7,1644.2 383.3,1643.9 386.9,1644.1 390.6,1644.2 394.2,1643.9 397.9,1644.2 401.5,1643.8 405.2,1643.9 408.8,1643.9 412.5,1643.6 416.1,1644.2 419.7,1643.8 423.4,1644.0 427.0,1644.2 430.7,1644.2 434.3,1644.2 438.0,1644.0 441.6,1643.9 445.3,1644.0 448.9,1643.4 452.5,1643.5 456.2,1643.5 459.8,1643.7 463.5,1644.1 467.1,1643.7 470.8,1643.9 474.4,1644.5 478.1,1643.9 481.7,1644.3 485.3,1643.7 489.0,1643.9 492.6,1643.7 496.3,1643.9 499.9,1644.3 503.6,1643.4 507.2,1644.2 510.8,1644.1 514.5,1643.8 518.1,1643.5 521.8,1644.0 525.4,1643.8 529.1,1644.1 532.7,1644.0 536.4,1644.6 540.0,1643.9 540.0,1644.9 536.4,1648.7 532.7,1648.8 529.1,1650.1 525.4,1649.6 521.8,1650.0 518.1,1649.8 514.5,1649.8 510.8,1650.3 507.2,1650.7 503.6,1649.5 499.9,1650.6 496.3,1650.6 492.6,1650.7 489.0,1650.0 485.3,1649.7 481.7,1650.7 478.1,1649.9 474.4,1650.6 470.8,1650.0 467.1,1650.0 463.5,1650.2 459.8,1650.2 456.2,1649.8 452.5,1649.9 448.9,1649.5 445.3,1650.2 441.6,1649.9 438.0,1650.5 434.3,1650.6 430.7,1650.3 427.0,1650.5 423.4,1650.5 419.7,1650.2 416.1,1650.2 412.5,1650.4 408.8,1650.1 405.2,1649.9 401.5,1650.3 397.9,1650.3 394.2,1650.0 390.6,1650.2 386.9,1650.2 383.3,1650.1 379.7,1650.6 376.0,1650.5 372.4,1650.8 368.7,1649.8 365.1,1649.7 361.4,1650.2 357.8,1650.6 354.2,1650.8 350.5,1650.2 346.9,1649.8 343.2,1650.6 339.6,1649.9 335.9,1649.8 332.3,1649.0 328.6,1647.8 325.0,1644.4" fill="#000" filter="url(#txspl)"/>
<polygon points="325.0,1627.1 328.6,1620.7 332.3,1619.6 335.9,1618.0 339.6,1616.7 343.2,1616.9 346.9,1616.4 350.5,1616.3 354.2,1616.7 357.8,1616.1 361.4,1617.1 365.1,1616.3 368.7,1616.6 372.4,1617.2 376.0,1616.1 379.7,1616.0 383.3,1616.9 386.9,1616.1 390.6,1615.9 394.2,1614.9 397.9,1616.6 401.5,1616.1 405.2,1615.9 408.8,1616.8 412.5,1616.3 416.1,1616.6 419.7,1616.8 423.4,1617.0 427.0,1616.4 430.7,1617.0 434.3,1617.6 438.0,1616.1 441.6,1615.6 445.3,1616.4 448.9,1617.2 452.5,1616.2 456.2,1616.9 459.8,1616.0 463.5,1616.4 467.1,1616.4 470.8,1616.6 474.4,1616.7 478.1,1615.3 481.7,1616.5 485.3,1616.5 489.0,1616.4 492.6,1616.7 496.3,1616.8 499.9,1617.1 503.6,1617.0 507.2,1616.7 510.8,1617.0 514.5,1616.4 518.1,1616.4 521.8,1616.5 525.4,1617.6 529.1,1617.5 532.7,1619.9 536.4,1620.8 540.0,1627.3 540.0,1628.3 536.4,1627.7 532.7,1628.5 529.1,1627.9 525.4,1627.8 521.8,1627.8 518.1,1627.9 514.5,1627.5 510.8,1628.2 507.2,1628.1 503.6,1628.0 499.9,1628.2 496.3,1628.1 492.6,1628.3 489.0,1628.1 485.3,1628.0 481.7,1628.1 478.1,1627.8 474.4,1628.2 470.8,1628.3 467.1,1628.2 463.5,1627.7 459.8,1627.7 456.2,1628.0 452.5,1628.4 448.9,1628.2 445.3,1627.7 441.6,1627.8 438.0,1627.9 434.3,1628.7 430.7,1628.2 427.0,1628.1 423.4,1628.1 419.7,1628.2 416.1,1627.9 412.5,1627.9 408.8,1627.9 405.2,1628.4 401.5,1627.8 397.9,1627.9 394.2,1628.0 390.6,1628.3 386.9,1627.7 383.3,1628.1 379.7,1627.7 376.0,1628.2 372.4,1628.4 368.7,1628.0 365.1,1628.3 361.4,1628.3 357.8,1627.7 354.2,1628.0 350.5,1627.9 346.9,1628.0 343.2,1627.5 339.6,1627.3 335.9,1628.3 332.3,1628.3 328.6,1627.6 325.0,1628.1" fill="#000" filter="url(#txspl)"/>
<polygon points="325.0,1627.1 328.6,1620.7 332.3,1619.6 335.9,1618.0 339.6,1616.7 343.2,1616.9 346.9,1616.4 350.5,1616.3 354.2,1616.7 357.8,1616.1 361.4,1617.1 365.1,1616.3 368.7,1616.6 372.4,1617.2 376.0,1616.1 379.7,1616.0 383.3,1616.9 386.9,1616.1 390.6,1615.9 394.2,1614.9 397.9,1616.6 401.5,1616.1 405.2,1615.9 408.8,1616.8 412.5,1616.3 416.1,1616.6 419.7,1616.8 423.4,1617.0 427.0,1616.4 430.7,1617.0 434.3,1617.6 438.0,1616.1 441.6,1615.6 445.3,1616.4 448.9,1617.2 452.5,1616.2 456.2,1616.9 459.8,1616.0 463.5,1616.4 467.1,1616.4 470.8,1616.6 474.4,1616.7 478.1,1615.3 481.7,1616.5 485.3,1616.5 489.0,1616.4 492.6,1616.7 496.3,1616.8 499.9,1617.1 503.6,1617.0 507.2,1616.7 510.8,1617.0 514.5,1616.4 518.1,1616.4 521.8,1616.5 525.4,1617.6 529.1,1617.5 532.7,1619.9 536.4,1620.8 540.0,1627.3 540.0,1627.3 536.4,1624.8 532.7,1625.1 529.1,1623.9 525.4,1623.8 521.8,1623.5 518.1,1623.5 514.5,1623.3 510.8,1624.0 507.2,1623.8 503.6,1623.8 499.9,1624.0 496.3,1623.8 492.6,1623.9 489.0,1623.7 485.3,1623.7 481.7,1623.7 478.1,1623.1 474.4,1623.8 470.8,1623.8 467.1,1623.8 463.5,1623.4 459.8,1623.3 456.2,1623.7 452.5,1623.8 448.9,1624.0 445.3,1623.4 441.6,1623.2 438.0,1623.4 434.3,1624.5 430.7,1623.9 427.0,1623.7 423.4,1623.9 419.7,1623.8 416.1,1623.6 412.5,1623.5 408.8,1623.7 405.2,1623.8 401.5,1623.3 397.9,1623.6 394.2,1623.1 390.6,1623.7 386.9,1623.3 383.3,1623.9 379.7,1623.3 376.0,1623.6 372.4,1624.1 368.7,1623.7 365.1,1623.8 361.4,1624.0 357.8,1623.3 354.2,1623.7 350.5,1623.5 346.9,1623.6 343.2,1623.4 339.6,1623.2 335.9,1624.3 332.3,1624.8 328.6,1624.7 325.0,1627.1" fill="#000" filter="url(#txsp)"/>
<g filter="url(#soft)"><rect x="323.4" y="1730.0" width="216.6" height="213.5" fill="#000" filter="url(#bgg)"/><rect x="323.4" y="1730.0" width="216.6" height="213.5" fill="url(#dpd1)"/><rect x="323.4" y="1730.0" width="216.6" height="213.5" fill="url(#dpd2)"/></g>
<g filter="url(#bump)"><path d="M362.5,1600.5 Q366.9,1606.3 364.9,1610.8 Q362.9,1615.2 360.1,1615.9 Q357.3,1616.5 354.7,1617.2 Q352.2,1618.0 348.6,1617.3 Q345.1,1616.6 343.4,1610.1 Q341.7,1603.5 343.5,1598.9 Q345.4,1594.3 348.4,1594.2 Q351.4,1594.1 354.8,1594.4 Q358.1,1594.8 362.5,1600.5 Z" fill="#3fcccc"/></g>
<g filter="url(#bump)"><path d="M335.3,1775.0 Q336.0,1778.2 334.8,1780.9 Q333.5,1783.7 331.3,1788.4 Q329.0,1793.1 324.7,1789.8 Q320.5,1786.4 313.9,1783.1 Q307.3,1779.7 308.6,1775.8 Q309.8,1771.8 314.0,1768.1 Q318.1,1764.3 322.0,1766.3 Q325.9,1768.3 330.3,1770.1 Q334.6,1771.8 335.3,1775.0 Z" fill="#3fcccc"/></g>
<rect x="305.6" y="1550.7" width="248.1" height="426.6" fill="none" stroke="#000" stroke-width="2.8" stroke-dasharray="2.9 2.1"/>
<text x="313.0" y="1578.0" font-size="29" text-anchor="start" >5 μs</text>
<g transform="translate(305.6,1550.7)"><line x1="79.7" y1="148.1" x2="139.9" y2="148.1" stroke="#9a9a9a" stroke-width="2"/><path d="M121.4,148.3 C121.6,128 116.5,116.6 109.8,116.6 C102.2,116.6 97.2,129 97.2,142 C97.2,154 101.5,161.5 107.5,164.5" fill="none" stroke="#000" stroke-width="2.6"/><path d="M119.4,166.9 L105.6,160.6 L107.6,166.2 L104.9,171.2 Z" fill="#000"/></g>
<text x="431.2" y="1726.6" font-size="29.8">90<tspan font-size="19.4" dx="-0.2" dy="-9.8">o</tspan></text>
<text x="429.7" y="1972.6" font-size="29" text-anchor="middle" >~ 40 nm</text>
<polygon points="725.0,1627.8 728.7,1627.7 732.4,1627.9 736.0,1628.3 739.7,1627.7 743.4,1627.4 747.1,1627.5 750.7,1628.3 754.4,1627.5 758.1,1627.2 761.8,1627.5 765.5,1627.6 769.1,1627.6 772.8,1628.1 776.5,1627.3 780.2,1626.8 783.8,1627.9 787.5,1627.4 791.2,1627.3 794.9,1627.0 798.6,1626.8 802.2,1627.7 805.9,1626.5 809.6,1626.8 813.3,1626.6 816.9,1627.5 820.6,1627.0 824.3,1626.6 828.0,1627.1 831.7,1627.5 835.3,1626.5 839.0,1626.6 842.7,1627.1 846.4,1627.1 850.1,1626.7 853.7,1627.0 857.4,1627.2 861.1,1627.6 864.8,1626.8 868.4,1627.7 872.1,1627.7 875.8,1628.3 879.5,1626.8 883.2,1627.5 886.8,1627.6 890.5,1628.3 894.2,1627.4 897.9,1627.7 901.5,1628.0 905.2,1628.2 908.9,1628.2 912.6,1627.7 916.3,1628.9 919.9,1628.0 923.6,1628.5 927.3,1628.7 931.0,1628.3 934.6,1628.7 938.3,1628.0 942.0,1628.5 942.8,1629.6 943.5,1631.1 943.9,1633.3 944.1,1635.9 943.9,1638.6 943.5,1640.8 942.8,1642.3 942.0,1643.3 938.3,1642.7 934.6,1643.1 931.0,1643.2 927.3,1642.5 923.6,1643.4 919.9,1643.3 916.3,1643.0 912.6,1642.4 908.9,1643.7 905.2,1643.9 901.5,1642.9 897.9,1643.1 894.2,1643.4 890.5,1642.7 886.8,1643.6 883.2,1643.1 879.5,1643.2 875.8,1642.9 872.1,1643.4 868.4,1643.5 864.8,1643.2 861.1,1642.8 857.4,1642.6 853.7,1642.8 850.1,1643.0 846.4,1643.1 842.7,1642.9 839.0,1642.7 835.3,1643.1 831.7,1642.8 828.0,1642.8 824.3,1642.8 820.6,1643.5 816.9,1643.2 813.3,1643.0 809.6,1643.6 805.9,1642.2 802.2,1642.8 798.6,1642.6 794.9,1643.1 791.2,1643.5 787.5,1642.4 783.8,1643.1 780.2,1642.4 776.5,1643.1 772.8,1643.8 769.1,1642.7 765.5,1643.1 761.8,1643.7 758.1,1643.9 754.4,1642.9 750.7,1642.9 747.1,1642.4 743.4,1642.7 739.7,1643.3 736.0,1642.6 732.4,1642.8 728.7,1642.4 725.0,1642.8 724.2,1641.8 723.5,1640.3 723.1,1638.0 722.9,1635.3 723.1,1632.6 723.5,1630.4 724.2,1628.8" fill="#000" filter="url(#txsw)"/>
<polygon points="725.0,1641.3 728.7,1640.9 732.4,1641.3 736.0,1641.1 739.7,1641.8 743.4,1641.2 747.1,1640.9 750.7,1641.4 754.4,1641.4 758.1,1642.4 761.8,1642.2 765.5,1641.6 769.1,1641.2 772.8,1642.3 776.5,1641.6 780.2,1640.9 783.8,1641.6 787.5,1640.9 791.2,1642.0 794.9,1641.6 798.6,1641.1 802.2,1641.3 805.9,1640.7 809.6,1642.1 813.3,1641.5 816.9,1641.7 820.6,1642.0 824.3,1641.3 828.0,1641.3 831.7,1641.3 835.3,1641.6 839.0,1641.2 842.7,1641.4 846.4,1641.6 850.1,1641.5 853.7,1641.3 857.4,1641.1 861.1,1641.3 864.8,1641.7 868.4,1642.0 872.1,1641.9 875.8,1641.4 879.5,1641.7 883.2,1641.6 886.8,1642.1 890.5,1641.2 894.2,1641.9 897.9,1641.6 901.5,1641.4 905.2,1642.4 908.9,1642.2 912.6,1640.9 916.3,1641.5 919.9,1641.8 923.6,1641.9 927.3,1641.0 931.0,1641.7 934.6,1641.6 938.3,1641.2 942.0,1641.8 942.0,1642.8 938.3,1644.4 934.6,1645.5 931.0,1645.9 927.3,1645.3 923.6,1646.5 919.9,1646.3 916.3,1646.0 912.6,1645.6 908.9,1647.0 905.2,1647.7 901.5,1646.5 897.9,1646.3 894.2,1646.7 890.5,1645.7 886.8,1647.3 883.2,1646.9 879.5,1646.8 875.8,1646.6 872.1,1647.3 868.4,1646.9 864.8,1646.3 861.1,1645.8 857.4,1645.9 853.7,1646.1 850.1,1646.9 846.4,1646.3 842.7,1645.9 839.0,1645.7 835.3,1646.1 831.7,1645.8 828.0,1645.9 824.3,1646.8 820.6,1646.9 816.9,1646.4 813.3,1646.3 809.6,1646.8 805.9,1645.3 802.2,1646.0 798.6,1645.6 794.9,1646.6 791.2,1647.0 787.5,1645.4 783.8,1646.5 780.2,1646.1 776.5,1646.7 772.8,1647.4 769.1,1646.2 765.5,1646.1 761.8,1647.2 758.1,1647.4 754.4,1646.2 750.7,1645.9 747.1,1645.4 743.4,1645.6 739.7,1646.4 736.0,1645.8 732.4,1644.9 728.7,1644.0 725.0,1642.3" fill="#000" filter="url(#txspl)"/>
<polygon points="725.0,1628.3 728.7,1625.3 732.4,1624.2 736.0,1624.3 739.7,1623.4 743.4,1623.1 747.1,1622.7 750.7,1624.1 754.4,1623.1 758.1,1622.9 761.8,1623.1 765.5,1622.7 769.1,1623.2 772.8,1623.9 776.5,1622.0 780.2,1622.1 783.8,1623.8 787.5,1623.1 791.2,1622.8 794.9,1621.9 798.6,1622.1 802.2,1622.1 805.9,1622.7 809.6,1622.9 813.3,1622.2 816.9,1622.2 820.6,1623.1 824.3,1622.7 828.0,1623.0 831.7,1623.4 835.3,1621.6 839.0,1622.2 842.7,1623.2 846.4,1623.2 850.1,1622.8 853.7,1622.5 857.4,1623.2 861.1,1623.3 864.8,1622.6 868.4,1622.5 872.1,1622.8 875.8,1624.1 879.5,1621.4 883.2,1623.2 886.8,1622.8 890.5,1622.5 894.2,1622.8 897.9,1623.0 901.5,1622.1 905.2,1623.5 908.9,1622.8 912.6,1622.4 916.3,1624.1 919.9,1623.4 923.6,1623.9 927.3,1623.7 931.0,1623.8 934.6,1624.8 938.3,1624.9 942.0,1629.0 942.0,1630.0 938.3,1629.5 934.6,1630.2 931.0,1629.8 927.3,1630.2 923.6,1630.0 919.9,1629.5 916.3,1630.4 912.6,1629.2 908.9,1629.7 905.2,1629.7 901.5,1629.5 897.9,1629.2 894.2,1628.9 890.5,1629.8 886.8,1629.1 883.2,1629.0 879.5,1628.3 875.8,1629.8 872.1,1629.2 868.4,1629.2 864.8,1628.3 861.1,1629.1 857.4,1628.7 853.7,1628.5 850.1,1628.2 846.4,1628.6 842.7,1628.6 839.0,1628.1 835.3,1628.0 831.7,1629.0 828.0,1628.6 824.3,1628.1 820.6,1628.5 816.9,1629.0 813.3,1628.1 809.6,1628.3 805.9,1628.0 802.2,1629.2 798.6,1628.3 794.9,1628.5 791.2,1628.8 787.5,1628.9 783.8,1629.4 780.2,1628.3 776.5,1628.8 772.8,1629.6 769.1,1629.1 765.5,1629.1 761.8,1629.0 758.1,1628.7 754.4,1629.0 750.7,1629.8 747.1,1629.0 743.4,1628.9 739.7,1629.2 736.0,1629.8 732.4,1629.4 728.7,1629.2 725.0,1629.3" fill="#000" filter="url(#txspl)"/>
<polygon points="725.0,1628.3 728.7,1625.3 732.4,1624.2 736.0,1624.3 739.7,1623.4 743.4,1623.1 747.1,1622.7 750.7,1624.1 754.4,1623.1 758.1,1622.9 761.8,1623.1 765.5,1622.7 769.1,1623.2 772.8,1623.9 776.5,1622.0 780.2,1622.1 783.8,1623.8 787.5,1623.1 791.2,1622.8 794.9,1621.9 798.6,1622.1 802.2,1622.1 805.9,1622.7 809.6,1622.9 813.3,1622.2 816.9,1622.2 820.6,1623.1 824.3,1622.7 828.0,1623.0 831.7,1623.4 835.3,1621.6 839.0,1622.2 842.7,1623.2 846.4,1623.2 850.1,1622.8 853.7,1622.5 857.4,1623.2 861.1,1623.3 864.8,1622.6 868.4,1622.5 872.1,1622.8 875.8,1624.1 879.5,1621.4 883.2,1623.2 886.8,1622.8 890.5,1622.5 894.2,1622.8 897.9,1623.0 901.5,1622.1 905.2,1623.5 908.9,1622.8 912.6,1622.4 916.3,1624.1 919.9,1623.4 923.6,1623.9 927.3,1623.7 931.0,1623.8 934.6,1624.8 938.3,1624.9 942.0,1629.0 942.0,1629.0 938.3,1627.3 934.6,1627.8 931.0,1627.2 927.3,1627.4 923.6,1627.3 919.9,1626.9 916.3,1627.7 912.6,1626.3 908.9,1626.8 905.2,1627.0 901.5,1626.5 897.9,1626.5 894.2,1626.3 890.5,1626.8 886.8,1626.4 883.2,1626.5 879.5,1625.4 875.8,1627.3 872.1,1626.4 868.4,1626.4 864.8,1625.8 861.1,1626.6 857.4,1626.3 853.7,1625.9 850.1,1625.8 846.4,1626.2 842.7,1626.2 839.0,1625.6 835.3,1625.3 831.7,1626.5 828.0,1626.1 824.3,1625.7 820.6,1626.1 816.9,1626.1 813.3,1625.5 809.6,1625.9 805.9,1625.6 802.2,1626.2 798.6,1625.6 794.9,1625.7 791.2,1626.2 787.5,1626.4 783.8,1626.9 780.2,1625.7 776.5,1626.0 772.8,1627.1 769.1,1626.5 765.5,1626.4 761.8,1626.4 758.1,1626.2 754.4,1626.5 750.7,1627.3 747.1,1626.3 743.4,1626.4 739.7,1626.7 736.0,1627.4 732.4,1627.1 728.7,1627.3 725.0,1628.3" fill="#000" filter="url(#txsp)"/>
<rect x="725.8" y="1731.5" width="215.7" height="215.1" fill="#000" filter="url(#txf)"/>
<g filter="url(#bump)"><path d="M800.2,1612.7 Q801.6,1617.7 800.8,1619.3 Q800.0,1620.9 796.6,1622.3 Q793.1,1623.6 791.8,1624.0 Q790.5,1624.3 788.0,1621.5 Q785.5,1618.6 785.2,1615.9 Q784.8,1613.1 787.1,1608.7 Q789.4,1604.3 792.1,1606.1 Q794.9,1607.8 796.9,1607.8 Q798.9,1607.8 800.2,1612.7 Z" fill="#3fcccc"/></g>
<g filter="url(#bump)"><path d="M841.5,1608.9 Q842.0,1610.1 840.9,1613.9 Q839.7,1617.7 837.6,1619.6 Q835.6,1621.5 834.1,1621.7 Q832.5,1621.9 831.0,1619.1 Q829.4,1616.2 829.7,1612.1 Q830.0,1608.0 829.6,1605.9 Q829.2,1603.8 831.9,1602.7 Q834.6,1601.6 837.8,1604.6 Q841.0,1607.6 841.5,1608.9 Z" fill="#3fcccc"/></g>
<g filter="url(#bump)"><path d="M875.0,1609.5 Q875.3,1611.6 872.7,1615.0 Q870.1,1618.5 869.7,1620.3 Q869.3,1622.2 867.2,1621.1 Q865.1,1619.9 863.3,1618.2 Q861.5,1616.4 861.0,1613.7 Q860.5,1611.1 862.3,1607.8 Q864.1,1604.6 865.5,1604.1 Q866.9,1603.7 870.7,1605.5 Q874.6,1607.4 875.0,1609.5 Z" fill="#3fcccc"/></g>
<g filter="url(#bump)"><path d="M789.1,1809.1 Q790.0,1812.6 787.1,1814.4 Q784.1,1816.1 780.7,1818.5 Q777.3,1820.9 774.9,1820.9 Q772.4,1821.0 771.9,1814.8 Q771.5,1808.6 772.0,1803.2 Q772.4,1797.7 774.8,1796.6 Q777.2,1795.6 779.8,1796.9 Q782.5,1798.2 785.4,1801.9 Q788.3,1805.6 789.1,1809.1 Z" fill="#3fcccc"/></g>
<g filter="url(#bump)"><path d="M886.7,1800.6 Q890.0,1803.4 890.0,1807.2 Q890.1,1811.0 887.1,1812.3 Q884.2,1813.7 880.2,1815.2 Q876.2,1816.6 874.3,1814.0 Q872.4,1811.3 872.3,1806.5 Q872.1,1801.7 873.0,1797.7 Q873.8,1793.7 877.5,1794.3 Q881.3,1794.8 882.3,1796.3 Q883.3,1797.9 886.7,1800.6 Z" fill="#3fcccc"/></g>
<g filter="url(#bump)"><path d="M845.8,1886.2 Q845.6,1891.2 843.8,1895.0 Q842.0,1898.8 840.1,1900.0 Q838.2,1901.2 835.4,1900.0 Q832.7,1898.8 829.5,1895.3 Q826.3,1891.8 827.6,1887.0 Q828.9,1882.1 830.0,1880.2 Q831.1,1878.3 834.3,1876.5 Q837.6,1874.8 841.7,1878.0 Q845.9,1881.2 845.8,1886.2 Z" fill="#3fcccc"/></g>
<rect x="710.5" y="1550.7" width="248.1" height="426.6" fill="none" stroke="#000" stroke-width="2.8" stroke-dasharray="2.9 2.1"/>
<text x="717.9" y="1578.0" font-size="29" text-anchor="start" >0 μs</text>
<g transform="translate(710.5,1550.7)"><line x1="79.7" y1="148.1" x2="139.9" y2="148.1" stroke="#9a9a9a" stroke-width="2"/><path d="M121.4,148.3 C121.6,128 116.5,116.6 109.8,116.6 C102.2,116.6 97.2,129 97.2,142 C97.2,154 101.5,161.5 107.5,164.5" fill="none" stroke="#000" stroke-width="2.6"/><path d="M119.4,166.9 L105.6,160.6 L107.6,166.2 L104.9,171.2 Z" fill="#000"/></g>
<text x="836.1" y="1726.6" font-size="29.8">90<tspan font-size="19.4" dx="-0.2" dy="-9.8">o</tspan></text>
<text x="834.5" y="1972.6" font-size="29" text-anchor="middle" >~ 40 nm</text>
<polygon points="1001.0,1621.1 1004.7,1621.5 1008.3,1621.4 1012.0,1621.3 1015.6,1621.5 1019.3,1621.6 1023.0,1621.4 1026.6,1621.4 1030.3,1620.9 1033.9,1621.5 1037.6,1621.2 1041.3,1621.6 1044.9,1621.7 1048.6,1620.7 1052.3,1621.7 1055.9,1621.0 1059.6,1620.9 1063.2,1621.1 1066.9,1621.3 1070.6,1621.5 1074.2,1622.2 1077.9,1620.7 1081.5,1621.0 1085.2,1621.3 1088.9,1620.9 1092.5,1620.5 1096.2,1621.0 1099.8,1621.1 1103.5,1621.1 1107.2,1620.7 1110.8,1621.2 1114.5,1620.7 1118.2,1620.8 1121.8,1620.1 1125.5,1619.4 1129.1,1620.5 1132.8,1620.2 1136.5,1620.3 1140.1,1620.0 1143.8,1619.7 1147.4,1619.6 1151.1,1620.0 1154.8,1619.4 1158.4,1619.5 1162.1,1619.6 1165.7,1619.8 1169.4,1620.5 1173.1,1619.5 1176.7,1620.6 1180.4,1619.8 1184.1,1619.8 1187.7,1619.6 1191.4,1620.1 1195.0,1620.4 1198.7,1619.5 1202.4,1619.8 1206.0,1619.8 1209.7,1619.7 1213.3,1619.5 1217.0,1620.1 1218.0,1621.2 1218.8,1623.0 1219.3,1625.7 1219.5,1628.9 1219.3,1632.0 1218.8,1634.7 1218.0,1636.5 1217.0,1637.7 1213.3,1637.3 1209.7,1637.7 1206.0,1637.7 1202.4,1637.6 1198.7,1637.3 1195.0,1638.1 1191.4,1637.5 1187.7,1637.7 1184.1,1637.5 1180.4,1637.1 1176.7,1637.5 1173.1,1637.6 1169.4,1637.0 1165.7,1637.7 1162.1,1637.7 1158.4,1637.3 1154.8,1636.9 1151.1,1637.5 1147.4,1637.4 1143.8,1637.5 1140.1,1637.4 1136.5,1637.3 1132.8,1637.3 1129.1,1637.5 1125.5,1637.2 1121.8,1637.8 1118.2,1638.2 1114.5,1638.1 1110.8,1637.4 1107.2,1637.5 1103.5,1637.1 1099.8,1637.0 1096.2,1637.2 1092.5,1637.6 1088.9,1637.4 1085.2,1637.8 1081.5,1637.2 1077.9,1636.7 1074.2,1637.5 1070.6,1637.1 1066.9,1637.7 1063.2,1637.3 1059.6,1637.5 1055.9,1637.5 1052.3,1637.5 1048.6,1637.6 1044.9,1637.3 1041.3,1637.5 1037.6,1637.3 1033.9,1637.7 1030.3,1637.8 1026.6,1637.4 1023.0,1637.9 1019.3,1637.7 1015.6,1637.9 1012.0,1637.6 1008.3,1637.3 1004.7,1637.6 1001.0,1637.8 1000.1,1636.7 999.3,1635.0 998.8,1632.4 998.7,1629.4 998.8,1626.4 999.3,1623.9 1000.1,1622.2" fill="#000" filter="url(#txsw)"/>
<polygon points="1001.0,1636.3 1004.7,1636.1 1008.3,1635.8 1012.0,1636.1 1015.6,1636.4 1019.3,1636.2 1023.0,1636.4 1026.6,1635.9 1030.3,1636.3 1033.9,1636.2 1037.6,1635.8 1041.3,1636.0 1044.9,1635.8 1048.6,1636.1 1052.3,1636.0 1055.9,1636.0 1059.6,1636.0 1063.2,1635.8 1066.9,1636.2 1070.6,1635.6 1074.2,1636.0 1077.9,1635.2 1081.5,1635.7 1085.2,1636.3 1088.9,1635.9 1092.5,1636.1 1096.2,1635.7 1099.8,1635.5 1103.5,1635.6 1107.2,1636.0 1110.8,1635.9 1114.5,1636.6 1118.2,1636.7 1121.8,1636.3 1125.5,1635.7 1129.1,1636.0 1132.8,1635.8 1136.5,1635.8 1140.1,1635.9 1143.8,1636.0 1147.4,1635.9 1151.1,1636.0 1154.8,1635.4 1158.4,1635.8 1162.1,1636.2 1165.7,1636.2 1169.4,1635.5 1173.1,1636.1 1176.7,1636.0 1180.4,1635.6 1184.1,1636.0 1187.7,1636.2 1191.4,1636.0 1195.0,1636.6 1198.7,1635.8 1202.4,1636.1 1206.0,1636.2 1209.7,1636.2 1213.3,1635.8 1217.0,1636.2 1217.0,1637.2 1213.3,1639.7 1209.7,1641.2 1206.0,1641.3 1202.4,1641.6 1198.7,1641.1 1195.0,1642.3 1191.4,1641.4 1187.7,1641.8 1184.1,1641.6 1180.4,1641.8 1176.7,1642.2 1173.1,1641.8 1169.4,1641.2 1165.7,1641.8 1162.1,1642.2 1158.4,1641.5 1154.8,1641.2 1151.1,1642.0 1147.4,1641.9 1143.8,1642.0 1140.1,1642.1 1136.5,1641.5 1132.8,1641.9 1129.1,1641.7 1125.5,1641.5 1121.8,1641.9 1118.2,1642.5 1114.5,1642.1 1110.8,1641.5 1107.2,1641.6 1103.5,1641.8 1099.8,1641.3 1096.2,1641.3 1092.5,1642.0 1088.9,1641.6 1085.2,1642.1 1081.5,1641.3 1077.9,1641.3 1074.2,1641.7 1070.6,1641.4 1066.9,1642.0 1063.2,1641.4 1059.6,1642.2 1055.9,1641.8 1052.3,1641.5 1048.6,1641.7 1044.9,1641.3 1041.3,1641.7 1037.6,1641.5 1033.9,1641.8 1030.3,1642.2 1026.6,1641.5 1023.0,1642.1 1019.3,1641.5 1015.6,1641.6 1012.0,1641.5 1008.3,1640.4 1004.7,1639.8 1001.0,1637.3" fill="#000" filter="url(#txspl)"/>
<polygon points="1001.0,1621.6 1004.7,1615.5 1008.3,1613.9 1012.0,1613.7 1015.6,1612.4 1019.3,1612.4 1023.0,1612.5 1026.6,1611.4 1030.3,1610.7 1033.9,1611.8 1037.6,1611.8 1041.3,1612.2 1044.9,1612.1 1048.6,1610.8 1052.3,1612.1 1055.9,1612.0 1059.6,1611.2 1063.2,1611.3 1066.9,1611.9 1070.6,1612.0 1074.2,1612.5 1077.9,1610.6 1081.5,1611.3 1085.2,1610.9 1088.9,1610.6 1092.5,1611.0 1096.2,1611.0 1099.8,1612.0 1103.5,1612.0 1107.2,1611.7 1110.8,1611.4 1114.5,1612.1 1118.2,1612.1 1121.8,1611.2 1125.5,1609.5 1129.1,1612.2 1132.8,1611.3 1136.5,1611.6 1140.1,1611.5 1143.8,1611.3 1147.4,1611.5 1151.1,1611.9 1154.8,1610.9 1158.4,1610.5 1162.1,1611.3 1165.7,1611.6 1169.4,1612.5 1173.1,1611.2 1176.7,1612.3 1180.4,1611.3 1184.1,1611.5 1187.7,1611.5 1191.4,1611.1 1195.0,1612.4 1198.7,1611.6 1202.4,1611.3 1206.0,1612.6 1209.7,1613.6 1213.3,1614.9 1217.0,1620.6 1217.0,1621.6 1213.3,1621.0 1209.7,1621.2 1206.0,1621.3 1202.4,1621.3 1198.7,1621.0 1195.0,1621.9 1191.4,1621.6 1187.7,1621.1 1184.1,1621.3 1180.4,1621.3 1176.7,1622.1 1173.1,1621.0 1169.4,1622.0 1165.7,1621.3 1162.1,1621.1 1158.4,1621.0 1154.8,1620.9 1151.1,1621.5 1147.4,1621.1 1143.8,1621.2 1140.1,1621.5 1136.5,1621.8 1132.8,1621.7 1129.1,1622.0 1125.5,1620.9 1121.8,1621.6 1118.2,1622.3 1114.5,1622.2 1110.8,1622.7 1107.2,1622.2 1103.5,1622.6 1099.8,1622.6 1096.2,1622.5 1092.5,1622.0 1088.9,1622.4 1085.2,1622.8 1081.5,1622.5 1077.9,1622.2 1074.2,1623.7 1070.6,1623.0 1066.9,1622.8 1063.2,1622.6 1059.6,1622.4 1055.9,1622.5 1052.3,1623.2 1048.6,1622.2 1044.9,1623.2 1041.3,1623.1 1037.6,1622.7 1033.9,1623.0 1030.3,1622.4 1026.6,1622.9 1023.0,1622.9 1019.3,1623.1 1015.6,1623.0 1012.0,1622.8 1008.3,1622.9 1004.7,1623.0 1001.0,1622.6" fill="#000" filter="url(#txspl)"/>
<polygon points="1001.0,1621.6 1004.7,1615.5 1008.3,1613.9 1012.0,1613.7 1015.6,1612.4 1019.3,1612.4 1023.0,1612.5 1026.6,1611.4 1030.3,1610.7 1033.9,1611.8 1037.6,1611.8 1041.3,1612.2 1044.9,1612.1 1048.6,1610.8 1052.3,1612.1 1055.9,1612.0 1059.6,1611.2 1063.2,1611.3 1066.9,1611.9 1070.6,1612.0 1074.2,1612.5 1077.9,1610.6 1081.5,1611.3 1085.2,1610.9 1088.9,1610.6 1092.5,1611.0 1096.2,1611.0 1099.8,1612.0 1103.5,1612.0 1107.2,1611.7 1110.8,1611.4 1114.5,1612.1 1118.2,1612.1 1121.8,1611.2 1125.5,1609.5 1129.1,1612.2 1132.8,1611.3 1136.5,1611.6 1140.1,1611.5 1143.8,1611.3 1147.4,1611.5 1151.1,1611.9 1154.8,1610.9 1158.4,1610.5 1162.1,1611.3 1165.7,1611.6 1169.4,1612.5 1173.1,1611.2 1176.7,1612.3 1180.4,1611.3 1184.1,1611.5 1187.7,1611.5 1191.4,1611.1 1195.0,1612.4 1198.7,1611.6 1202.4,1611.3 1206.0,1612.6 1209.7,1613.6 1213.3,1614.9 1217.0,1620.6 1217.0,1620.6 1213.3,1618.4 1209.7,1618.1 1206.0,1617.8 1202.4,1617.4 1198.7,1617.3 1195.0,1618.2 1191.4,1617.6 1187.7,1617.4 1184.1,1617.5 1180.4,1617.4 1176.7,1618.3 1173.1,1617.2 1169.4,1618.3 1165.7,1617.5 1162.1,1617.3 1158.4,1617.0 1154.8,1617.0 1151.1,1617.7 1147.4,1617.3 1143.8,1617.3 1140.1,1617.6 1136.5,1617.8 1132.8,1617.7 1129.1,1618.2 1125.5,1616.6 1121.8,1617.6 1118.2,1618.4 1114.5,1618.3 1110.8,1618.4 1107.2,1618.2 1103.5,1618.6 1099.8,1618.5 1096.2,1618.1 1092.5,1617.8 1088.9,1618.0 1085.2,1618.3 1081.5,1618.3 1077.9,1617.8 1074.2,1619.4 1070.6,1618.8 1066.9,1618.6 1063.2,1618.3 1059.6,1618.1 1055.9,1618.5 1052.3,1619.0 1048.6,1617.9 1044.9,1619.0 1041.3,1618.9 1037.6,1618.5 1033.9,1618.7 1030.3,1618.0 1026.6,1618.5 1023.0,1618.9 1019.3,1619.0 1015.6,1618.9 1012.0,1619.2 1008.3,1619.3 1004.7,1619.9 1001.0,1621.6" fill="#000" filter="url(#txsp)"/>
<rect x="1001.3" y="1731.5" width="215.7" height="215.1" fill="#000" filter="url(#txf2)"/>
<g filter="url(#bump)"><path d="M1050.3,1609.3 Q1051.0,1611.2 1049.7,1613.2 Q1048.4,1615.2 1047.5,1616.6 Q1046.5,1618.0 1042.8,1618.1 Q1039.1,1618.2 1038.2,1615.7 Q1037.3,1613.2 1037.5,1611.1 Q1037.7,1609.0 1038.4,1607.7 Q1039.1,1606.3 1041.3,1606.0 Q1043.5,1605.6 1046.5,1606.5 Q1049.5,1607.4 1050.3,1609.3 Z" fill="#3fcccc"/></g>
<g filter="url(#bump)"><path d="M1065.1,1607.8 Q1065.4,1611.0 1065.7,1612.7 Q1066.0,1614.4 1062.3,1618.6 Q1058.6,1622.9 1055.7,1621.3 Q1052.7,1619.7 1051.5,1615.5 Q1050.3,1611.4 1049.7,1609.6 Q1049.0,1607.8 1050.9,1605.2 Q1052.8,1602.7 1055.3,1601.0 Q1057.7,1599.3 1061.2,1602.0 Q1064.8,1604.7 1065.1,1607.8 Z" fill="#3fcccc"/></g>
<g filter="url(#bump)"><path d="M1127.6,1611.3 Q1128.7,1612.0 1127.5,1614.3 Q1126.3,1616.6 1124.6,1617.8 Q1122.9,1619.0 1120.2,1618.9 Q1117.4,1618.7 1114.5,1616.8 Q1111.5,1614.9 1113.1,1612.4 Q1114.7,1609.9 1116.7,1608.5 Q1118.6,1607.1 1120.8,1607.3 Q1123.0,1607.5 1124.8,1609.0 Q1126.5,1610.5 1127.6,1611.3 Z" fill="#3fcccc"/></g>
<g filter="url(#bump)"><path d="M1029.4,1796.7 Q1030.1,1802.9 1027.7,1806.9 Q1025.4,1810.9 1023.4,1812.6 Q1021.3,1814.3 1017.8,1810.1 Q1014.3,1805.8 1013.7,1801.5 Q1013.1,1797.2 1013.7,1793.9 Q1014.3,1790.5 1017.6,1785.1 Q1020.8,1779.6 1025.0,1779.9 Q1029.1,1780.1 1028.9,1785.4 Q1028.7,1790.6 1029.4,1796.7 Z" fill="#3fcccc"/></g>
<g filter="url(#bump)"><path d="M1133.9,1822.5 Q1134.4,1828.0 1132.3,1830.5 Q1130.1,1833.0 1125.1,1836.2 Q1120.0,1839.3 1117.9,1835.8 Q1115.9,1832.4 1114.7,1830.1 Q1113.6,1827.7 1117.3,1820.4 Q1121.0,1813.2 1123.8,1812.4 Q1126.7,1811.6 1130.2,1811.4 Q1133.7,1811.2 1133.5,1814.1 Q1133.3,1817.0 1133.9,1822.5 Z" fill="#3fcccc"/></g>
<g filter="url(#bump)"><path d="M1064.5,1925.4 Q1064.7,1930.9 1065.4,1933.9 Q1066.2,1936.8 1063.1,1940.1 Q1059.9,1943.4 1054.7,1940.7 Q1049.4,1938.1 1048.0,1935.6 Q1046.6,1933.2 1046.1,1930.4 Q1045.6,1927.6 1048.9,1924.8 Q1052.2,1922.0 1053.9,1920.7 Q1055.5,1919.3 1059.9,1919.6 Q1064.3,1919.9 1064.5,1925.4 Z" fill="#3fcccc"/></g>
<rect x="985.6" y="1550.7" width="248.1" height="426.6" fill="none" stroke="#000" stroke-width="2.8" stroke-dasharray="2.9 2.1"/>
<text x="993.0" y="1578.0" font-size="29" text-anchor="start" >5 μs</text>
<g transform="translate(985.6,1550.7)"><line x1="79.7" y1="148.1" x2="139.9" y2="148.1" stroke="#9a9a9a" stroke-width="2"/><path d="M121.4,148.3 C121.6,128 116.5,116.6 109.8,116.6 C102.2,116.6 97.2,129 97.2,142 C97.2,154 101.5,161.5 107.5,164.5" fill="none" stroke="#000" stroke-width="2.6"/><path d="M119.4,166.9 L105.6,160.6 L107.6,166.2 L104.9,171.2 Z" fill="#000"/></g>
<text x="1111.2" y="1726.6" font-size="29.8">90<tspan font-size="19.4" dx="-0.2" dy="-9.8">o</tspan></text>
<text x="1109.7" y="1972.6" font-size="29" text-anchor="middle" >~ 40 nm</text>
<text x="-1.3" y="21.2" font-size="29" text-anchor="start" font-weight="bold" >a</text>
<text x="678.3" y="21.2" font-size="29" text-anchor="start" font-weight="bold" >b</text>
<text x="1330.8" y="26.8" font-size="29" text-anchor="start" font-weight="bold" >c</text>
<text x="-1.3" y="794.3" font-size="29" text-anchor="start" font-weight="bold" >d</text>
<text x="678.3" y="794.3" font-size="29" text-anchor="start" font-weight="bold" >e</text>
<text x="-1.3" y="1567.1" font-size="29" text-anchor="start" font-weight="bold" >f</text>
<text x="678.3" y="1567.1" font-size="29" text-anchor="start" font-weight="bold" >g</text>
</svg></body></html>
